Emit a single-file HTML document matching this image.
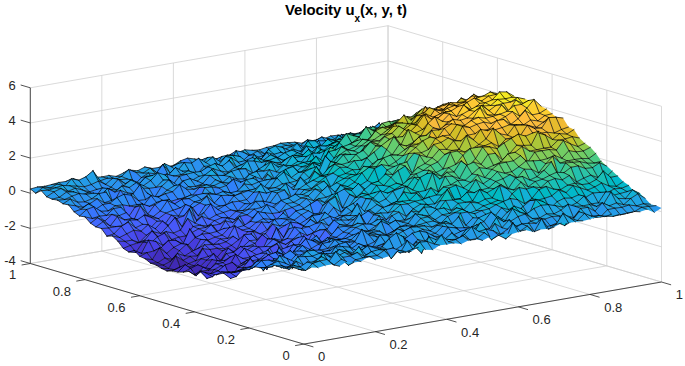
<!DOCTYPE html>
<html><head><meta charset="utf-8"><title>Velocity u_x(x, y, t)</title><style>
html,body{margin:0;padding:0;background:#fff;overflow:hidden}
svg{display:block}
text{font-family:"Liberation Sans",sans-serif}
.c0{fill:#3e26a8;stroke:none}.c1{fill:#402ab4;stroke:none}.c2{fill:#422ec0;stroke:none}.c3{fill:#4332cb;stroke:none}.c4{fill:#4537d5;stroke:none}.c5{fill:#463cde;stroke:none}.c6{fill:#4741e5;stroke:none}.c7{fill:#4747eb;stroke:none}.c8{fill:#484df0;stroke:none}.c9{fill:#4852f4;stroke:none}.c10{fill:#4758f8;stroke:none}.c11{fill:#465efb;stroke:none}.c12{fill:#4563fd;stroke:none}.c13{fill:#4269fe;stroke:none}.c14{fill:#3e6fff;stroke:none}.c15{fill:#3875fe;stroke:none}.c16{fill:#327cfc;stroke:none}.c17{fill:#2f81fa;stroke:none}.c18{fill:#2e87f7;stroke:none}.c19{fill:#2d8cf3;stroke:none}.c20{fill:#2b91ef;stroke:none}.c21{fill:#2797eb;stroke:none}.c22{fill:#259be8;stroke:none}.c23{fill:#23a0e5;stroke:none}.c24{fill:#20a5e3;stroke:none}.c25{fill:#1ca9df;stroke:none}.c26{fill:#18addb;stroke:none}.c27{fill:#12b1d6;stroke:none}.c28{fill:#08b5d0;stroke:none}.c29{fill:#01b8ca;stroke:none}.c30{fill:#02bac3;stroke:none}.c31{fill:#0bbdbd;stroke:none}.c32{fill:#19bfb6;stroke:none}.c33{fill:#24c1ae;stroke:none}.c34{fill:#2cc4a7;stroke:none}.c35{fill:#31c69f;stroke:none}.c36{fill:#37c897;stroke:none}.c37{fill:#3fca8e;stroke:none}.c38{fill:#4acb84;stroke:none}.c39{fill:#57cc7a;stroke:none}.c40{fill:#64cd6f;stroke:none}.c41{fill:#72cd64;stroke:none}.c42{fill:#81cc59;stroke:none}.c43{fill:#8fcb4e;stroke:none}.c44{fill:#9dc943;stroke:none}.c45{fill:#abc739;stroke:none}.c46{fill:#b9c431;stroke:none}.c47{fill:#c5c22a;stroke:none}.c48{fill:#d1bf27;stroke:none}.c49{fill:#dcbd29;stroke:none}.c50{fill:#e6bb2d;stroke:none}.c51{fill:#f0ba36;stroke:none}.c52{fill:#f8ba3d;stroke:none}.c53{fill:#febe3c;stroke:none}.c54{fill:#fec338;stroke:none}.c55{fill:#fec934;stroke:none}.c56{fill:#fccf30;stroke:none}.c57{fill:#fad62d;stroke:none}.c58{fill:#f7dc2a;stroke:none}.c59{fill:#f5e327;stroke:none}.c60{fill:#f5e924;stroke:none}.c61{fill:#f6ef20;stroke:none}.c62{fill:#f7f51b;stroke:none}.c63{fill:#f9fb15;stroke:none}
</style></head><body>
<svg width="685" height="366" viewBox="0 0 685 366">
<rect width="685" height="366" fill="#fff"/>
<g><line x1="303.80" y1="344.10" x2="30.30" y2="263.50" stroke="#d0d0d0" stroke-width="0.8"/><line x1="303.80" y1="344.10" x2="661.50" y2="282.00" stroke="#d0d0d0" stroke-width="0.8"/><line x1="30.30" y1="263.50" x2="30.30" y2="87.80" stroke="#d0d0d0" stroke-width="0.8"/><line x1="661.50" y1="282.00" x2="661.50" y2="106.30" stroke="#d0d0d0" stroke-width="0.8"/><line x1="375.34" y1="331.68" x2="101.84" y2="251.08" stroke="#d0d0d0" stroke-width="0.8"/><line x1="249.10" y1="327.98" x2="606.80" y2="265.88" stroke="#d0d0d0" stroke-width="0.8"/><line x1="101.84" y1="251.08" x2="101.84" y2="75.38" stroke="#d0d0d0" stroke-width="0.8"/><line x1="606.80" y1="265.88" x2="606.80" y2="90.18" stroke="#d0d0d0" stroke-width="0.8"/><line x1="446.88" y1="319.26" x2="173.38" y2="238.66" stroke="#d0d0d0" stroke-width="0.8"/><line x1="194.40" y1="311.86" x2="552.10" y2="249.76" stroke="#d0d0d0" stroke-width="0.8"/><line x1="173.38" y1="238.66" x2="173.38" y2="62.96" stroke="#d0d0d0" stroke-width="0.8"/><line x1="552.10" y1="249.76" x2="552.10" y2="74.06" stroke="#d0d0d0" stroke-width="0.8"/><line x1="518.42" y1="306.84" x2="244.92" y2="226.24" stroke="#d0d0d0" stroke-width="0.8"/><line x1="139.70" y1="295.74" x2="497.40" y2="233.64" stroke="#d0d0d0" stroke-width="0.8"/><line x1="244.92" y1="226.24" x2="244.92" y2="50.54" stroke="#d0d0d0" stroke-width="0.8"/><line x1="497.40" y1="233.64" x2="497.40" y2="57.94" stroke="#d0d0d0" stroke-width="0.8"/><line x1="589.96" y1="294.42" x2="316.46" y2="213.82" stroke="#d0d0d0" stroke-width="0.8"/><line x1="85.00" y1="279.62" x2="442.70" y2="217.52" stroke="#d0d0d0" stroke-width="0.8"/><line x1="316.46" y1="213.82" x2="316.46" y2="38.12" stroke="#d0d0d0" stroke-width="0.8"/><line x1="442.70" y1="217.52" x2="442.70" y2="41.82" stroke="#d0d0d0" stroke-width="0.8"/><line x1="661.50" y1="282.00" x2="388.00" y2="201.40" stroke="#d0d0d0" stroke-width="0.8"/><line x1="30.30" y1="263.50" x2="388.00" y2="201.40" stroke="#d0d0d0" stroke-width="0.8"/><line x1="388.00" y1="201.40" x2="388.00" y2="25.70" stroke="#d0d0d0" stroke-width="0.8"/><line x1="388.00" y1="201.40" x2="388.00" y2="25.70" stroke="#d0d0d0" stroke-width="0.8"/><line x1="30.30" y1="263.50" x2="388.00" y2="201.40" stroke="#d0d0d0" stroke-width="0.8"/><line x1="661.50" y1="282.00" x2="388.00" y2="201.40" stroke="#d0d0d0" stroke-width="0.8"/><line x1="30.30" y1="228.36" x2="388.00" y2="166.26" stroke="#d0d0d0" stroke-width="0.8"/><line x1="661.50" y1="246.86" x2="388.00" y2="166.26" stroke="#d0d0d0" stroke-width="0.8"/><line x1="30.30" y1="193.22" x2="388.00" y2="131.12" stroke="#d0d0d0" stroke-width="0.8"/><line x1="661.50" y1="211.72" x2="388.00" y2="131.12" stroke="#d0d0d0" stroke-width="0.8"/><line x1="30.30" y1="158.08" x2="388.00" y2="95.98" stroke="#d0d0d0" stroke-width="0.8"/><line x1="661.50" y1="176.58" x2="388.00" y2="95.98" stroke="#d0d0d0" stroke-width="0.8"/><line x1="30.30" y1="122.94" x2="388.00" y2="60.84" stroke="#d0d0d0" stroke-width="0.8"/><line x1="661.50" y1="141.44" x2="388.00" y2="60.84" stroke="#d0d0d0" stroke-width="0.8"/><line x1="30.30" y1="87.80" x2="388.00" y2="25.70" stroke="#d0d0d0" stroke-width="0.8"/><line x1="661.50" y1="106.30" x2="388.00" y2="25.70" stroke="#d0d0d0" stroke-width="0.8"/></g>
<g transform="scale(.1)" fill="none" stroke="#000" stroke-width="7" stroke-linejoin="round" stroke-linecap="round">
<path class="c20" d="M3863 1351l72 -66 -55 -13 -72 -15z"/>
<path d="M3808 1257l72 15"/>
<path class="c28" d="M3792 1230l71 121 -55 -94 -71 21z"/>
<path d="M3737 1278l71 -21M3863 1351l-55 -94"/>
<path class="c27" d="M3918 1243l71 32 -54 10 -72 66z"/>
<path d="M3863 1351l72 -66"/>
<path class="c25" d="M3720 1291l72 -61 -55 48 -72 1z"/>
<path d="M3665 1279l72 -1M3792 1230l-55 48"/>
<path class="c24" d="M3846 1307l72 -64 -55 108 -71 -121z"/>
<path d="M3792 1230l71 121M3918 1243l-55 108"/>
<path class="c24" d="M3649 1317l71 -26 -55 -12 -71 48z"/>
<path d="M3594 1327l71 -48M3720 1291l-55 -12"/>
<path class="c24" d="M3973 1310l71 -24 -55 -11 -71 -32z"/>
<path d="M3918 1243l71 32"/>
<path class="c23" d="M3577 1346l72 -29 -55 10 -72 17z"/>
<path d="M3522 1344l72 -17M3649 1317l-55 10"/>
<path class="c22" d="M3775 1355l71 -48 -54 -77 -72 61z"/>
<path d="M3720 1291l72 -61M3846 1307l-54 -77"/>
<path class="c26" d="M3901 1289l72 21 -55 -67 -72 64z"/>
<path d="M3846 1307l72 -64M3973 1310l-55 -67"/>
<path class="c26" d="M3703 1304l72 51 -55 -64 -71 26z"/>
<path d="M3649 1317l71 -26M3775 1355l-55 -64"/>
<path class="c25" d="M4027 1311l72 -51 -55 26 -71 24z"/>
<path d="M3973 1310l71 -24"/>
<path class="c25" d="M3505 1329l72 17 -55 -2 -71 16z"/>
<path d="M3451 1360l71 -16M3577 1346l-55 -2"/>
<path class="c26" d="M3829 1308l72 -19 -55 18 -71 48z"/>
<path d="M3775 1355l71 -48M3901 1289l-55 18"/>
<path class="c23" d="M3632 1378l71 -74 -54 13 -72 29z"/>
<path d="M3577 1346l72 -29M3703 1304l-54 13"/>
<path class="c25" d="M3434 1349l71 -20 -54 31 -72 -8z"/>
<path d="M3379 1352l72 8M3505 1329l-54 31"/>
<path class="c29" d="M3956 1251l71 60 -54 -1 -72 -21z"/>
<path d="M3901 1289l72 21M4027 1311l-54 -1"/>
<path class="c26" d="M3758 1319l71 -11 -54 47 -72 -51z"/>
<path d="M3703 1304l72 51M3829 1308l-54 47"/>
<path class="c24" d="M3560 1359l72 19 -55 -32 -72 -17z"/>
<path d="M3505 1329l72 17M3632 1378l-55 -32"/>
<path class="c21" d="M3686 1415l72 -96 -55 -15 -71 74z"/>
<path d="M3632 1378l71 -74M3758 1319l-55 -15"/>
<path class="c22" d="M3362 1401l72 -52 -55 3 -71 7z"/>
<path d="M3308 1359l71 -7M3434 1349l-55 3"/>
<path class="c27" d="M4082 1298l72 -69 -55 31 -72 51z"/>
<path d="M4027 1311l72 -51"/>
<path class="c23" d="M3615 1388l71 27 -54 -37 -72 -19z"/>
<path d="M3560 1359l72 19M3686 1415l-54 -37"/>
<path class="c26" d="M3884 1314l72 -63 -55 38 -72 19z"/>
<path d="M3829 1308l72 -19M3956 1251l-55 38"/>
<path class="c24" d="M3489 1376l71 -17 -55 -30 -71 20z"/>
<path d="M3434 1349l71 -20M3560 1359l-55 -30"/>
<path class="c24" d="M3291 1390l71 11 -54 -42 -72 31z"/>
<path d="M3236 1390l72 -31M3362 1401l-54 -42"/>
<path class="c28" d="M4010 1281l72 17 -55 13 -71 -60z"/>
<path d="M3956 1251l71 60M4082 1298l-55 13"/>
<path class="c30" d="M3813 1265l71 49 -55 -6 -71 11z"/>
<path d="M3758 1319l71 -11M3884 1314l-55 -6"/>
<path class="c26" d="M3417 1343l72 33 -55 -27 -72 52z"/>
<path d="M3362 1401l72 -52M3489 1376l-55 -27"/>
<path class="c25" d="M3543 1377l72 11 -55 -29 -71 17z"/>
<path d="M3489 1376l71 -17M3615 1388l-55 -29"/>
<path class="c25" d="M3219 1370l72 20 -55 0 -71 8z"/>
<path d="M3165 1398l71 -8M3291 1390l-55 0"/>
<path class="c27" d="M3741 1330l72 -65 -55 54 -72 96z"/>
<path d="M3686 1415l72 -96M3813 1265l-55 54"/>
<path class="c25" d="M3670 1369l71 -39 -55 85 -71 -27z"/>
<path d="M3615 1388l71 27M3741 1330l-55 85"/>
<path class="c30" d="M4137 1247l71 -24 -54 6 -72 69z"/>
<path d="M4082 1298l72 -69"/>
<path class="c23" d="M3346 1411l71 -68 -55 58 -71 -11z"/>
<path d="M3291 1390l71 11M3417 1343l-55 58"/>
<path class="c31" d="M3939 1246l71 35 -54 -30 -72 63z"/>
<path d="M3884 1314l72 -63M4010 1281l-54 -30"/>
<path class="c22" d="M3472 1437l71 -60 -54 -1 -72 -33z"/>
<path d="M3417 1343l72 33M3543 1377l-54 -1"/>
<path class="c24" d="M3148 1410l71 -40 -54 28 -72 15z"/>
<path d="M3093 1413l72 -15M3219 1370l-54 28"/>
<path class="c23" d="M3274 1428l72 -17 -55 -21 -72 -20z"/>
<path d="M3219 1370l72 20M3346 1411l-55 -21"/>
<path class="c33" d="M4065 1219l72 28 -55 51 -72 -17z"/>
<path d="M4010 1281l72 17M4137 1247l-55 51"/>
<path class="c27" d="M3598 1343l72 26 -55 19 -72 -11z"/>
<path d="M3543 1377l72 11M3670 1369l-55 19"/>
<path class="c24" d="M3400 1417l72 20 -55 -94 -71 68z"/>
<path d="M3346 1411l71 -68M3472 1437l-55 -94"/>
<path class="c28" d="M3867 1305l72 -59 -55 68 -71 -49z"/>
<path d="M3813 1265l71 49M3939 1246l-55 68"/>
<path class="c25" d="M3076 1397l72 13 -55 3 -71 19z"/>
<path d="M3022 1432l71 -19M3148 1410l-55 3"/>
<path class="c22" d="M3202 1462l72 -34 -55 -58 -71 40z"/>
<path d="M3148 1410l71 -40M3274 1428l-55 -58"/>
<path class="c30" d="M3796 1295l71 10 -54 -40 -72 65z"/>
<path d="M3741 1330l72 -65M3867 1305l-54 -40"/>
<path class="c25" d="M3329 1405l71 12 -54 -6 -72 17z"/>
<path d="M3274 1428l72 -17M3400 1417l-54 -6"/>
<path class="c32" d="M4191 1232l72 -23 -55 14 -71 24z"/>
<path d="M4137 1247l71 -24"/>
<path class="c27" d="M3526 1359l72 -16 -55 34 -71 60z"/>
<path d="M3472 1437l71 -60M3598 1343l-55 34"/>
<path class="c23" d="M3005 1455l71 -58 -54 35 -72 -10z"/>
<path d="M2950 1422l72 10M3076 1397l-54 35"/>
<path class="c27" d="M3724 1350l72 -55 -55 35 -71 39z"/>
<path d="M3670 1369l71 -39M3796 1295l-55 35"/>
<path class="c31" d="M3994 1256l71 -37 -55 62 -71 -35z"/>
<path d="M3939 1246l71 35M4065 1219l-55 62"/>
<path class="c23" d="M3131 1454l71 8 -54 -52 -72 -13z"/>
<path d="M3076 1397l72 13M3202 1462l-54 -52"/>
<path class="c26" d="M3455 1398l71 -39 -54 78 -72 -20z"/>
<path d="M3400 1417l72 20M3526 1359l-54 78"/>
<path class="c28" d="M3922 1319l72 -63 -55 -10 -72 59z"/>
<path d="M3867 1305l72 -59M3994 1256l-55 -10"/>
<path class="c26" d="M3257 1409l72 -4 -55 23 -72 34z"/>
<path d="M3202 1462l72 -34M3329 1405l-55 23"/>
<path class="c24" d="M2933 1453l72 2 -55 -33 -72 4z"/>
<path d="M2878 1426l72 -4M3005 1455l-55 -33"/>
<path class="c33" d="M4120 1225l71 7 -54 15 -72 -28z"/>
<path d="M4065 1219l72 28M4191 1232l-54 15"/>
<path class="c29" d="M3653 1322l71 28 -54 19 -72 -26z"/>
<path d="M3598 1343l72 26M3724 1350l-54 19"/>
<path class="c29" d="M3850 1313l72 6 -55 -14 -71 -10z"/>
<path d="M3796 1295l71 10M3922 1319l-55 -14"/>
<path class="c23" d="M3059 1466l72 -12 -55 -57 -71 58z"/>
<path d="M3005 1455l71 -58M3131 1454l-55 -57"/>
<path class="c19" d="M2988 1546l71 -80 -54 -11 -72 -2z"/>
<path d="M2933 1453l72 2M3059 1466l-54 -11"/>
<path class="c32" d="M4246 1243l72 -45 -55 11 -72 23z"/>
<path d="M4191 1232l72 -23"/>
<path class="c26" d="M3186 1407l71 2 -55 53 -71 -8z"/>
<path d="M3131 1454l71 8M3257 1409l-55 53"/>
<path class="c31" d="M4048 1281l72 -56 -55 -6 -71 37z"/>
<path d="M3994 1256l71 -37M4120 1225l-55 -6"/>
<path class="c30" d="M3977 1310l71 -29 -54 -25 -72 63z"/>
<path d="M3922 1319l72 -63M4048 1281l-54 -25"/>
<path class="c29" d="M3383 1354l72 44 -55 19 -71 -12z"/>
<path d="M3329 1405l71 12M3455 1398l-55 19"/>
<path class="c27" d="M3581 1387l72 -65 -55 21 -72 16z"/>
<path d="M3526 1359l72 -16M3653 1322l-55 21"/>
<path class="c24" d="M2862 1453l71 0 -55 -27 -71 6z"/>
<path d="M2807 1432l71 -6M2933 1453l-55 -27"/>
<path class="c31" d="M3779 1301l71 12 -54 -18 -72 55z"/>
<path d="M3724 1350l72 -55M3850 1313l-54 -18"/>
<path class="c26" d="M3510 1415l71 -28 -55 -28 -71 39z"/>
<path d="M3455 1398l71 -39M3581 1387l-55 -28"/>
<path class="c30" d="M3905 1327l72 -17 -55 9 -72 -6z"/>
<path d="M3850 1313l72 6M3977 1310l-55 9"/>
<path class="c24" d="M3114 1465l72 -58 -55 47 -72 12z"/>
<path d="M3059 1466l72 -12M3186 1407l-55 47"/>
<path class="c24" d="M2916 1466l72 80 -55 -93 -71 0z"/>
<path d="M2862 1453l71 0M2988 1546l-55 -93"/>
<path class="c23" d="M3043 1488l71 -23 -55 1 -71 80z"/>
<path d="M2988 1546l71 -80M3114 1465l-55 1"/>
<path class="c37" d="M4175 1177l71 66 -55 -11 -71 -7z"/>
<path d="M4120 1225l71 7M4246 1243l-55 -11"/>
<path class="c24" d="M3312 1455l71 -101 -54 51 -72 4z"/>
<path d="M3257 1409l72 -4M3383 1354l-54 51"/>
<path class="c24" d="M2790 1475l72 -22 -55 -21 -72 27z"/>
<path d="M2735 1459l72 -27M2862 1453l-55 -21"/>
<path class="c22" d="M3240 1516l72 -61 -55 -46 -71 -2z"/>
<path d="M3186 1407l71 2M3312 1455l-55 -46"/>
<path class="c31" d="M4103 1301l72 -124 -55 48 -72 56z"/>
<path d="M4048 1281l72 -56M4175 1177l-55 48"/>
<path class="c33" d="M3707 1270l72 31 -55 49 -71 -28z"/>
<path d="M3653 1322l71 28M3779 1301l-55 49"/>
<path class="c35" d="M4301 1211l71 -36 -54 23 -72 45z"/>
<path d="M4246 1243l72 -45"/>
<path class="c34" d="M4031 1256l72 45 -55 -20 -71 29z"/>
<path d="M3977 1310l71 -29M4103 1301l-55 -20"/>
<path class="c23" d="M2719 1504l71 -29 -55 -16 -71 15z"/>
<path d="M2664 1474l71 -15M2790 1475l-55 -16"/>
<path class="c28" d="M3438 1383l72 32 -55 -17 -72 -44z"/>
<path d="M3383 1354l72 44M3510 1415l-55 -17"/>
<path class="c25" d="M3169 1455l71 61 -54 -109 -72 58z"/>
<path d="M3114 1465l72 -58M3240 1516l-54 -109"/>
<path class="c24" d="M3564 1457l72 -161 -55 91 -71 28z"/>
<path d="M3510 1415l71 -28"/>
<path class="c24" d="M2845 1491l71 -25 -54 -13 -72 22z"/>
<path d="M2790 1475l72 -22M2916 1466l-54 -13"/>
<path class="c35" d="M3834 1248l71 79 -55 -14 -71 -12z"/>
<path d="M3779 1301l71 12M3905 1327l-55 -14"/>
<path class="c22" d="M2647 1538l72 -34 -55 -30 -72 25z"/>
<path d="M2592 1499l72 -25M2719 1504l-55 -30"/>
<path class="c27" d="M2971 1432l72 56 -55 58 -72 -80z"/>
<path d="M2916 1466l72 80M3043 1488l-55 58"/>
<path class="c26" d="M3367 1428l71 -45 -55 -29 -71 101z"/>
<path d="M3312 1455l71 -101M3438 1383l-55 -29"/>
<path class="c21" d="M2773 1559l72 -68 -55 -16 -71 29z"/>
<path d="M2719 1504l71 -29M2845 1491l-55 -16"/>
<path class="c32" d="M3636 1296l71 -26 -54 52 -72 65z"/>
<path d="M3581 1387l72 -65M3636 1296l-55 91M3707 1270l-54 52"/>
<path class="c28" d="M3295 1406l72 22 -55 27 -72 61z"/>
<path d="M3240 1516l72 -61M3367 1428l-55 27"/>
<path class="c33" d="M3960 1285l71 -29 -54 54 -72 17z"/>
<path d="M3905 1327l72 -17M4031 1256l-54 54"/>
<path class="c25" d="M3097 1474l72 -19 -55 10 -71 23z"/>
<path d="M3043 1488l71 -23M3169 1455l-55 10"/>
<path class="c32" d="M3493 1336l71 121 -54 -42 -72 -32z"/>
<path d="M3438 1383l72 32M3564 1457l-54 -42"/>
<path class="c39" d="M4229 1150l72 61 -55 32 -71 -66z"/>
<path d="M4175 1177l71 66M4301 1211l-55 32"/>
<path class="c24" d="M2575 1512l72 26 -55 -39 -71 4z"/>
<path d="M2521 1503l71 -4M2647 1538l-55 -39"/>
<path class="c24" d="M2702 1505l71 54 -54 -55 -72 34z"/>
<path d="M2647 1538l72 -34M2773 1559l-54 -55"/>
<path class="c25" d="M3223 1485l72 -79 -55 110 -71 -61z"/>
<path d="M3169 1455l71 61M3295 1406l-55 110"/>
<path class="c24" d="M2899 1508l72 -76 -55 34 -71 25z"/>
<path d="M2845 1491l71 -25M2971 1432l-55 34"/>
<path class="c33" d="M3762 1290l72 -42 -55 53 -72 -31z"/>
<path d="M3707 1270l72 31M3834 1248l-55 53"/>
<path class="c24" d="M3026 1504l71 -30 -54 14 -72 -56z"/>
<path d="M2971 1432l72 56M3097 1474l-54 14"/>
<path class="c26" d="M2828 1476l71 32 -54 -17 -72 68z"/>
<path d="M2773 1559l72 -68M2899 1508l-54 -17"/>
<path class="c38" d="M4158 1178l71 -28 -54 27 -72 124z"/>
<path d="M4103 1301l72 -124M4229 1150l-54 27"/>
<path class="c32" d="M3619 1339l72 43 -55 -86 -72 161z"/>
<path d="M3564 1457l72 -161"/>
<path class="c34" d="M3888 1266l72 19 -55 42 -71 -79z"/>
<path d="M3834 1248l71 79M3960 1285l-55 42"/>
<path class="c39" d="M4355 1157l72 -52 -55 70 -71 36z"/>
<path d="M4301 1211l71 -36"/>
<path class="c35" d="M4086 1241l72 -63 -55 123 -72 -45z"/>
<path d="M4031 1256l72 45M4158 1178l-55 123"/>
<path class="c29" d="M3691 1382l71 -92 -55 -20 -71 26z"/>
<path d="M3636 1296l71 -26M3691 1382l-55 -86M3762 1290l-55 -20"/>
<path class="c22" d="M2504 1552l71 -40 -54 -9 -72 -5z"/>
<path d="M2449 1498l72 5M2575 1512l-54 -9"/>
<path class="c22" d="M2630 1560l72 -55 -55 33 -72 -26z"/>
<path d="M2575 1512l72 26M2702 1505l-55 33"/>
<path class="c30" d="M3421 1375l72 -39 -55 47 -71 45z"/>
<path d="M3367 1428l71 -45M3493 1336l-55 47"/>
<path class="c24" d="M2954 1520l72 -16 -55 -72 -72 76z"/>
<path d="M2899 1508l72 -76M3026 1504l-55 -72"/>
<path class="c30" d="M3152 1408l71 77 -54 -30 -72 19z"/>
<path d="M3097 1474l72 -19M3223 1485l-54 -30"/>
<path class="c22" d="M2559 1575l71 -15 -55 -48 -71 40z"/>
<path d="M2504 1552l71 -40M2630 1560l-55 -48"/>
<path class="c36" d="M4015 1238l71 3 -55 15 -71 29z"/>
<path d="M3960 1285l71 -29M4086 1241l-55 15"/>
<path class="c32" d="M3548 1345l71 -6 -55 118 -71 -121z"/>
<path d="M3493 1336l71 121M3619 1339l-55 118"/>
<path class="c29" d="M3350 1405l71 -30 -54 53 -72 -22z"/>
<path d="M3295 1406l72 22M3421 1375l-54 53"/>
<path class="c40" d="M4284 1148l71 9 -54 54 -72 -61z"/>
<path d="M4229 1150l72 61M4355 1157l-54 54"/>
<path class="c25" d="M2432 1521l72 31 -55 -54 -71 27z"/>
<path d="M2378 1525l71 -27M2504 1552l-55 -54"/>
<path class="c28" d="M2756 1458l72 18 -55 83 -71 -54z"/>
<path d="M2702 1505l71 54M2828 1476l-55 83"/>
<path class="c23" d="M2883 1551l71 -31 -55 -12 -71 -32z"/>
<path d="M2828 1476l71 32M2954 1520l-55 -12"/>
<path class="c32" d="M3745 1330l72 -39 -55 -1 -71 92z"/>
<path d="M3691 1382l71 -92"/>
<path class="c34" d="M3817 1291l71 -25 -54 -18 -72 42z"/>
<path d="M3762 1290l72 -42M3817 1291l-55 -1M3888 1266l-54 -18"/>
<path class="c31" d="M3278 1393l72 12 -55 1 -72 79z"/>
<path d="M3223 1485l72 -79M3350 1405l-55 1"/>
<path class="c32" d="M3674 1355l71 -25 -54 52 -72 -43z"/>
<path d="M3619 1339l72 43M3745 1330l-54 52"/>
<path class="c36" d="M3943 1259l72 -21 -55 47 -72 -19z"/>
<path d="M3888 1266l72 19M4015 1238l-55 47"/>
<path class="c30" d="M3080 1409l72 -1 -55 66 -71 30z"/>
<path d="M3026 1504l71 -30M3152 1408l-55 66"/>
<path class="c24" d="M2487 1555l72 20 -55 -23 -72 -31z"/>
<path d="M2432 1521l72 31M2559 1575l-55 -23"/>
<path class="c37" d="M4212 1209l72 -61 -55 2 -71 28z"/>
<path d="M4158 1178l71 -28M4284 1148l-55 2"/>
<path class="c25" d="M3009 1518l71 -109 -54 95 -72 16z"/>
<path d="M2954 1520l72 -16M3080 1409l-54 95"/>
<path class="c22" d="M2613 1591l72 -97 -55 66 -71 15z"/>
<path d="M2559 1575l71 -15"/>
<path class="c26" d="M2361 1507l71 14 -54 4 -72 19z"/>
<path d="M2306 1544l72 -19M2432 1521l-54 4"/>
<path class="c26" d="M2685 1494l71 -36 -54 47 -72 55z"/>
<path d="M2630 1560l72 -55M2685 1494l-55 66M2756 1458l-54 47"/>
<path class="c19" d="M2289 1655l72 -148 -55 37 -71 30z"/>
<path d="M2235 1574l71 -30M2361 1507l-55 37"/>
<path class="c38" d="M4141 1197l71 12 -54 -31 -72 63z"/>
<path d="M4086 1241l72 -63M4212 1209l-54 -31"/>
<path class="c31" d="M3476 1372l72 -27 -55 -9 -72 39z"/>
<path d="M3421 1375l72 -39M3548 1345l-55 -9"/>
<path class="c43" d="M4410 1086l72 33 -55 -14 -72 52z"/>
<path d="M4355 1157l72 -52"/>
<path class="c28" d="M3207 1460l71 -67 -55 92 -71 -77z"/>
<path d="M3152 1408l71 77M3278 1393l-55 92"/>
<path class="c27" d="M2937 1491l72 27 -55 2 -71 31z"/>
<path d="M2883 1551l71 -31M3009 1518l-55 2"/>
<path class="c25" d="M2811 1522l72 29 -55 -75 -72 -18z"/>
<path d="M2756 1458l72 18M2883 1551l-55 -75"/>
<path class="c35" d="M3872 1289l71 -30 -55 7 -71 25z"/>
<path d="M3817 1291l71 -25M3943 1259l-55 7"/>
<path class="c29" d="M3404 1426l72 -54 -55 3 -71 30z"/>
<path d="M3350 1405l71 -30M3476 1372l-55 3"/>
<path class="c30" d="M3602 1399l72 -44 -55 -16 -71 6z"/>
<path d="M3548 1345l71 -6M3674 1355l-55 -16"/>
<path class="c24" d="M2218 1565l71 90 -54 -81 -72 15z"/>
<path d="M2163 1589l72 -15M2289 1655l-54 -81"/>
<path class="c25" d="M2542 1547l71 44 -54 -16 -72 -20z"/>
<path d="M2487 1555l72 20M2613 1591l-54 -16"/>
<path class="c21" d="M2416 1620l71 -65 -55 -34 -71 -14z"/>
<path d="M2361 1507l71 14M2487 1555l-55 -34"/>
<path class="c35" d="M3800 1290l72 -1 -55 2 -72 39z"/>
<path d="M3745 1330l72 -39M3872 1289l-55 2"/>
<path class="c41" d="M4339 1134l71 -48 -55 71 -71 -9z"/>
<path d="M4284 1148l71 9M4410 1086l-55 71"/>
<path class="c40" d="M4069 1185l72 12 -55 44 -71 -3z"/>
<path d="M4015 1238l71 3M4141 1197l-55 44"/>
<path class="c29" d="M3333 1429l71 -3 -54 -21 -72 -12z"/>
<path d="M3278 1393l72 12M3404 1426l-54 -21"/>
<path class="c25" d="M2344 1560l72 60 -55 -113 -72 148z"/>
<path d="M2289 1655l72 -148M2416 1620l-55 -113"/>
<path class="c24" d="M2866 1552l71 -61 -54 60 -72 -29z"/>
<path d="M2811 1522l72 29M2937 1491l-54 60"/>
<path class="c20" d="M2470 1656l72 -109 -55 8 -71 65z"/>
<path d="M2416 1620l71 -65M2542 1547l-55 8"/>
<path class="c39" d="M4267 1188l72 -54 -55 14 -72 61z"/>
<path d="M4212 1209l72 -61M4339 1134l-55 14"/>
<path class="c27" d="M3135 1479l72 -19 -55 -52 -72 1z"/>
<path d="M3080 1409l72 -1M3207 1460l-55 -52"/>
<path class="c33" d="M3531 1354l71 45 -54 -54 -72 27z"/>
<path d="M3476 1372l72 -27M3602 1399l-54 -54"/>
<path class="c25" d="M2740 1543l71 -21 -55 -64 -71 36z"/>
<path d="M2685 1494l71 -36M2811 1522l-55 -64"/>
<path class="c19" d="M2146 1672l72 -107 -55 24 -71 -14z"/>
<path d="M2092 1575l71 14M2218 1565l-55 24"/>
<path class="c28" d="M3261 1461l72 -32 -55 -36 -71 67z"/>
<path d="M3207 1460l71 -67M3333 1429l-55 -36"/>
<path class="c26" d="M2668 1526l72 17 -55 -49 -72 97z"/>
<path d="M2613 1591l72 -97M2740 1543l-55 -49"/>
<path class="c23" d="M2794 1596l72 -44 -55 -30 -71 21z"/>
<path d="M2740 1543l71 -21M2866 1552l-55 -30"/>
<path class="c39" d="M4196 1197l71 -9 -55 21 -71 -12z"/>
<path d="M4141 1197l71 12M4267 1188l-55 21"/>
<path class="c29" d="M3064 1460l71 19 -55 -70 -71 109z"/>
<path d="M3009 1518l71 -109M3135 1479l-55 -70"/>
<path class="c37" d="M3728 1264l72 26 -55 40 -71 25z"/>
<path d="M3674 1355l71 -25M3800 1290l-55 40"/>
<path class="c39" d="M3998 1204l71 -19 -54 53 -72 21z"/>
<path d="M3943 1259l72 -21M4069 1185l-54 53"/>
<path class="c24" d="M2992 1561l72 -101 -55 58 -72 -27z"/>
<path d="M2937 1491l72 27M3064 1460l-55 58"/>
<path class="c31" d="M3459 1398l72 -44 -55 18 -72 54z"/>
<path d="M3404 1426l72 -54M3531 1354l-55 18"/>
<path class="c23" d="M2596 1609l72 -83 -55 65 -71 -44z"/>
<path d="M2542 1547l71 44M2668 1526l-55 65"/>
<path class="c44" d="M4465 1082l71 8 -54 29 -72 -33z"/>
<path d="M4410 1086l72 33"/>
<path class="c29" d="M3190 1458l71 3 -54 -1 -72 19z"/>
<path d="M3135 1479l72 -19M3261 1461l-54 -1"/>
<path class="c25" d="M2399 1565l71 91 -54 -36 -72 -60z"/>
<path d="M2344 1560l72 60M2470 1656l-54 -36"/>
<path class="c26" d="M2272 1552l72 8 -55 95 -71 -90z"/>
<path d="M2218 1565l71 90M2344 1560l-55 95"/>
<path class="c34" d="M3657 1341l71 -77 -54 91 -72 44z"/>
<path d="M3602 1399l72 -44M3728 1264l-54 91"/>
<path class="c25" d="M2075 1575l71 97 -54 -97 -72 23z"/>
<path d="M2020 1598l72 -23M2146 1672l-54 -97"/>
<path class="c32" d="M3388 1392l71 6 -55 28 -71 3z"/>
<path d="M3333 1429l71 -3M3459 1398l-55 28"/>
<path class="c24" d="M2723 1591l71 5 -54 -53 -72 -17z"/>
<path d="M2668 1526l72 17M2794 1596l-54 -53"/>
<path class="c25" d="M2525 1576l71 33 -54 -62 -72 109z"/>
<path d="M2470 1656l72 -109M2596 1609l-54 -62"/>
<path class="c40" d="M3926 1213l72 -9 -55 55 -71 30z"/>
<path d="M3872 1289l71 -30M3998 1204l-55 55"/>
<path class="c28" d="M2920 1501l72 60 -55 -70 -71 61z"/>
<path d="M2866 1552l71 -61M2992 1561l-55 -70"/>
<path class="c34" d="M3585 1356l72 -15 -55 58 -71 -45z"/>
<path d="M3531 1354l71 45M3657 1341l-55 58"/>
<path class="c26" d="M3118 1526l72 -68 -55 21 -71 -19z"/>
<path d="M3064 1460l71 19M3190 1458l-55 21"/>
<path class="c25" d="M3047 1567l71 -41 -54 -66 -72 101z"/>
<path d="M2992 1561l72 -101M3118 1526l-54 -66"/>
<path class="c40" d="M4124 1189l72 8 -55 0 -72 -12z"/>
<path d="M4069 1185l72 12M4196 1197l-55 0"/>
<path class="c23" d="M2201 1616l71 -64 -54 13 -72 107z"/>
<path d="M2146 1672l72 -107M2272 1552l-54 13"/>
<path class="c43" d="M4393 1124l72 -42 -55 4 -71 48z"/>
<path d="M4339 1134l71 -48M4465 1082l-55 4"/>
<path class="c35" d="M3855 1304l71 -91 -54 76 -72 1z"/>
<path d="M3800 1290l72 -1M3926 1213l-54 76"/>
<path class="c42" d="M4322 1143l71 -19 -54 10 -72 54z"/>
<path d="M4267 1188l72 -54M4393 1124l-54 10"/>
<path class="c23" d="M2651 1610l72 -19 -55 -65 -72 83z"/>
<path d="M2596 1609l72 -83M2723 1591l-55 -65"/>
<path class="c30" d="M3316 1440l72 -48 -55 37 -72 32z"/>
<path d="M3261 1461l72 -32M3388 1392l-55 37"/>
<path class="c25" d="M3245 1548l71 -108 -55 21 -71 -3z"/>
<path d="M3190 1458l71 3M3316 1440l-55 21"/>
<path class="c27" d="M2849 1527l71 -26 -54 51 -72 44z"/>
<path d="M2794 1596l72 -44M2920 1501l-54 51"/>
<path class="c31" d="M3514 1420l71 -64 -54 -2 -72 44z"/>
<path d="M3459 1398l72 -44M3585 1356l-54 -2"/>
<path class="c21" d="M2003 1659l72 -84 -55 23 -72 -8z"/>
<path d="M1948 1590l72 8M2075 1575l-55 23"/>
<path class="c24" d="M2453 1606l72 -30 -55 80 -71 -91z"/>
<path d="M2399 1565l71 91M2525 1576l-55 80"/>
<path class="c36" d="M3783 1307l72 -3 -55 -14 -72 -26z"/>
<path d="M3728 1264l72 26M3855 1304l-55 -14"/>
<path class="c42" d="M4250 1159l72 -16 -55 45 -71 9z"/>
<path d="M4196 1197l71 -9M4322 1143l-55 45"/>
<path class="c28" d="M2975 1527l72 40 -55 -6 -72 -60z"/>
<path d="M2920 1501l72 60M3047 1567l-55 -6"/>
<path class="c25" d="M2777 1575l72 -48 -55 69 -71 -5z"/>
<path d="M2723 1591l71 5M2849 1527l-55 69"/>
<path class="c45" d="M4520 1091l71 -29 -55 28 -71 -8z"/>
<path d="M4465 1082l71 8"/>
<path class="c30" d="M3173 1471l72 77 -55 -90 -72 68z"/>
<path d="M3118 1526l72 -68M3245 1548l-55 -90"/>
<path class="c26" d="M2129 1569l72 47 -55 56 -71 -97z"/>
<path d="M2075 1575l71 97M2201 1616l-55 56"/>
<path class="c40" d="M4052 1216l72 -27 -55 -4 -71 19z"/>
<path d="M3998 1204l71 -19M4124 1189l-55 -4"/>
<path class="c24" d="M2580 1606l71 4 -55 -1 -71 -33z"/>
<path d="M2525 1576l71 33M2651 1610l-55 -1"/>
<path class="c24" d="M3101 1598l72 -127 -55 55 -71 41z"/>
<path d="M3047 1567l71 -41M3173 1471l-55 55"/>
<path class="c32" d="M3442 1409l72 11 -55 -22 -71 -6z"/>
<path d="M3388 1392l71 6M3514 1420l-55 -22"/>
<path class="c27" d="M2327 1552l72 13 -55 -5 -72 -8z"/>
<path d="M2272 1552l72 8M2399 1565l-55 -5"/>
<path class="c43" d="M4448 1131l72 -40 -55 -9 -72 42z"/>
<path d="M4393 1124l72 -42M4520 1091l-55 -9"/>
<path class="c23" d="M1932 1639l71 20 -55 -69 -71 -9z"/>
<path d="M1877 1581l71 9M2003 1659l-55 -69"/>
<path class="c37" d="M3712 1300l71 7 -55 -43 -71 77z"/>
<path d="M3657 1341l71 -77M3783 1307l-55 -43"/>
<path class="c42" d="M4179 1180l71 -21 -54 38 -72 -8z"/>
<path d="M4124 1189l72 8M4250 1159l-54 38"/>
<path class="c33" d="M3640 1382l72 -82 -55 41 -72 15z"/>
<path d="M3585 1356l72 -15M3712 1300l-55 41"/>
<path class="c28" d="M2706 1548l71 27 -54 16 -72 19z"/>
<path d="M2651 1610l72 -19M2777 1575l-54 16"/>
<path class="c27" d="M3030 1549l71 49 -54 -31 -72 -40z"/>
<path d="M2975 1527l72 40M3101 1598l-54 -31"/>
<path class="c41" d="M3981 1198l71 18 -54 -12 -72 9z"/>
<path d="M3926 1213l72 -9M4052 1216l-54 -12"/>
<path class="c23" d="M2508 1646l72 -40 -55 -30 -72 30z"/>
<path d="M2453 1606l72 -30M2580 1606l-55 -30"/>
<path class="c18" d="M1860 1744l72 -105 -55 -58 -72 27z"/>
<path d="M1805 1608l72 -27M1932 1639l-55 -58"/>
<path class="c24" d="M2058 1625l71 -56 -54 6 -72 84z"/>
<path d="M2003 1659l72 -84M2129 1569l-54 6"/>
<path class="c33" d="M3371 1416l71 -7 -54 -17 -72 48z"/>
<path d="M3316 1440l72 -48M3442 1409l-54 -17"/>
<path class="c31" d="M3299 1450l72 -34 -55 24 -71 108z"/>
<path d="M3245 1548l71 -108M3371 1416l-55 24"/>
<path class="c24" d="M2382 1622l71 -16 -54 -41 -72 -13z"/>
<path d="M2327 1552l72 13M2453 1606l-54 -41"/>
<path class="c27" d="M2256 1565l71 -13 -55 0 -71 64z"/>
<path d="M2201 1616l71 -64M2327 1552l-55 0"/>
<path class="c26" d="M2904 1571l71 -44 -55 -26 -71 26z"/>
<path d="M2849 1527l71 -26M2975 1527l-55 -26"/>
<path class="c39" d="M3909 1258l72 -60 -55 15 -71 91z"/>
<path d="M3855 1304l71 -91M3981 1198l-55 15"/>
<path class="c36" d="M3569 1338l71 44 -55 -26 -71 64z"/>
<path d="M3514 1420l71 -64M3640 1382l-55 -26"/>
<path class="c39" d="M3838 1273l71 -15 -54 46 -72 3z"/>
<path d="M3783 1307l72 -3M3909 1258l-54 46"/>
<path class="c47" d="M4376 1070l72 61 -55 -7 -71 19z"/>
<path d="M4322 1143l71 -19M4448 1131l-55 -7"/>
<path class="c21" d="M2437 1683l71 -37 -55 -40 -71 16z"/>
<path d="M2382 1622l71 -16M2508 1646l-55 -40"/>
<path class="c25" d="M2832 1604l72 -33 -55 -44 -72 48z"/>
<path d="M2777 1575l72 -48M2904 1571l-55 -44"/>
<path class="c28" d="M3228 1516l71 -66 -54 98 -72 -77z"/>
<path d="M3173 1471l72 77M3299 1450l-54 98"/>
<path class="c23" d="M2184 1654l72 -89 -55 51 -72 -47z"/>
<path d="M2129 1569l72 47M2256 1565l-55 51"/>
<path class="c43" d="M4107 1175l72 5 -55 9 -72 27z"/>
<path d="M4052 1216l72 -27M4179 1180l-55 9"/>
<path class="c25" d="M2634 1603l72 -55 -55 62 -71 -4z"/>
<path d="M2580 1606l71 4M2706 1548l-55 62"/>
<path class="c27" d="M1986 1583l72 42 -55 34 -71 -20z"/>
<path d="M1932 1639l71 20M2058 1625l-55 34"/>
<path class="c25" d="M1789 1632l71 112 -55 -136 -71 46z"/>
<path d="M1734 1654l71 -46M1860 1744l-55 -136"/>
<path class="c28" d="M3156 1540l72 -24 -55 -45 -72 127z"/>
<path d="M3101 1598l72 -127M3228 1516l-55 -45"/>
<path class="c47" d="M4574 1059l72 -32 -55 35 -71 29z"/>
<path d="M4520 1091l71 -29"/>
<path class="c35" d="M3497 1378l72 -40 -55 82 -72 -11z"/>
<path d="M3442 1409l72 11M3569 1338l-55 82"/>
<path class="c23" d="M2113 1659l71 -5 -55 -85 -71 56z"/>
<path d="M2058 1625l71 -56M2184 1654l-55 -85"/>
<path class="c28" d="M2958 1554l72 -5 -55 -22 -71 44z"/>
<path d="M2904 1571l71 -44M3030 1549l-55 -22"/>
<path class="c38" d="M3766 1297l72 -24 -55 34 -71 -7z"/>
<path d="M3712 1300l71 7M3838 1273l-55 34"/>
<path class="c47" d="M4503 1075l71 -16 -54 32 -72 40z"/>
<path d="M4448 1131l72 -40M4574 1059l-54 32"/>
<path class="c40" d="M4036 1239l71 -64 -55 41 -71 -18z"/>
<path d="M3981 1198l71 18M4107 1175l-55 41"/>
<path class="c25" d="M1915 1631l71 -48 -54 56 -72 105z"/>
<path d="M1860 1744l72 -105M1986 1583l-54 56"/>
<path class="c27" d="M2761 1575l71 29 -55 -29 -71 -27z"/>
<path d="M2706 1548l71 27M2832 1604l-55 -29"/>
<path class="c35" d="M3695 1368l71 -71 -54 3 -72 82z"/>
<path d="M3640 1382l72 -82M3766 1297l-54 3"/>
<path class="c27" d="M2310 1576l72 46 -55 -70 -71 13z"/>
<path d="M2256 1565l71 -13M2382 1622l-55 -70"/>
<path class="c27" d="M2563 1577l71 26 -54 3 -72 40z"/>
<path d="M2508 1646l72 -40M2634 1603l-54 3"/>
<path class="c46" d="M4305 1105l71 -35 -54 73 -72 16z"/>
<path d="M4250 1159l72 -16M4376 1070l-54 73"/>
<path class="c23" d="M2365 1668l72 15 -55 -61 -72 -46z"/>
<path d="M2310 1576l72 46M2437 1683l-55 -61"/>
<path class="c31" d="M3085 1495l71 45 -55 58 -71 -49z"/>
<path d="M3030 1549l71 49M3156 1540l-55 58"/>
<path class="c32" d="M3425 1442l72 -64 -55 31 -71 7z"/>
<path d="M3371 1416l71 -7M3497 1378l-55 31"/>
<path class="c27" d="M2887 1582l71 -28 -54 17 -72 33z"/>
<path d="M2832 1604l72 -33M2958 1554l-54 17"/>
<path class="c23" d="M2239 1669l71 -93 -54 -11 -72 89z"/>
<path d="M2184 1654l72 -89M2310 1576l-54 -11"/>
<path class="c23" d="M2491 1671l72 -94 -55 69 -71 37z"/>
<path d="M2437 1683l71 -37M2563 1577l-55 69"/>
<path class="c43" d="M4233 1165l72 -60 -55 54 -71 21z"/>
<path d="M4179 1180l71 -21M4305 1105l-55 54"/>
<path class="c25" d="M2167 1643l72 26 -55 -15 -71 5z"/>
<path d="M2113 1659l71 -5M2239 1669l-55 -15"/>
<path class="c41" d="M3964 1224l72 15 -55 -41 -72 60z"/>
<path d="M3909 1258l72 -60M4036 1239l-55 -41"/>
<path class="c23" d="M1717 1669l72 -37 -55 22 -72 16z"/>
<path d="M1662 1670l72 -16M1789 1632l-55 22"/>
<path class="c31" d="M3354 1464l71 -22 -54 -26 -72 34z"/>
<path d="M3299 1450l72 -34M3425 1442l-54 -26"/>
<path class="c37" d="M3623 1340l72 28 -55 14 -71 -44z"/>
<path d="M3569 1338l71 44M3695 1368l-55 14"/>
<path class="c23" d="M2041 1663l72 -4 -55 -34 -72 -42z"/>
<path d="M1986 1583l72 42M2113 1659l-55 -34"/>
<path class="c30" d="M3282 1512l72 -48 -55 -14 -71 66z"/>
<path d="M3228 1516l71 -66M3354 1464l-55 -14"/>
<path class="c26" d="M1843 1625l72 6 -55 113 -71 -112z"/>
<path d="M1789 1632l71 112M1915 1631l-55 113"/>
<path class="c25" d="M2420 1646l71 25 -54 12 -72 -15z"/>
<path d="M2365 1668l72 15M2491 1671l-54 12"/>
<path class="c26" d="M2689 1604l72 -29 -55 -27 -72 55z"/>
<path d="M2634 1603l72 -55M2761 1575l-55 -27"/>
<path class="c25" d="M2815 1626l72 -44 -55 22 -71 -29z"/>
<path d="M2761 1575l71 29M2887 1582l-55 22"/>
<path class="c46" d="M4629 1097l71 -75 -54 5 -72 32z"/>
<path d="M4574 1059l72 -32"/>
<path class="c31" d="M3211 1498l71 14 -54 4 -72 24z"/>
<path d="M3156 1540l72 -24M3282 1512l-54 4"/>
<path class="c49" d="M4431 1044l72 31 -55 56 -72 -61z"/>
<path d="M4376 1070l72 61M4503 1075l-55 56"/>
<path class="c46" d="M4162 1131l71 34 -54 15 -72 -5z"/>
<path d="M4107 1175l72 5M4233 1165l-54 15"/>
<path class="c20" d="M1969 1742l72 -79 -55 -80 -71 48z"/>
<path d="M1915 1631l71 -48M2041 1663l-55 -80"/>
<path class="c22" d="M2096 1704l71 -61 -54 16 -72 4z"/>
<path d="M2041 1663l72 -4M2167 1643l-54 16"/>
<path class="c43" d="M3893 1213l71 11 -55 34 -71 15z"/>
<path d="M3838 1273l71 -15M3964 1224l-55 34"/>
<path class="c28" d="M3013 1565l72 -70 -55 54 -72 5z"/>
<path d="M2958 1554l72 -5M3085 1495l-55 54"/>
<path class="c27" d="M2293 1605l72 63 -55 -92 -71 93z"/>
<path d="M2239 1669l71 -93M2365 1668l-55 -92"/>
<path class="c33" d="M3552 1425l71 -85 -54 -2 -72 40z"/>
<path d="M3497 1378l72 -40M3623 1340l-54 -2"/>
<path class="c40" d="M4090 1258l72 -127 -55 44 -71 64z"/>
<path d="M4036 1239l71 -64M4162 1131l-55 44"/>
<path class="c26" d="M1645 1635l72 34 -55 1 -71 4z"/>
<path d="M1591 1674l71 -4M1717 1669l-55 1"/>
<path class="c26" d="M2617 1624l72 -20 -55 -1 -71 -26z"/>
<path d="M2563 1577l71 26M2689 1604l-55 -1"/>
<path class="c22" d="M2024 1709l72 -5 -55 -41 -72 79z"/>
<path d="M1969 1742l72 -79M2096 1704l-55 -41"/>
<path class="c35" d="M3480 1395l72 30 -55 -47 -72 64z"/>
<path d="M3425 1442l72 -64M3552 1425l-55 -47"/>
<path class="c26" d="M2744 1624l71 2 -54 -51 -72 29z"/>
<path d="M2689 1604l72 -29M2815 1626l-54 -51"/>
<path class="c22" d="M1898 1716l71 26 -54 -111 -72 -6z"/>
<path d="M1843 1625l72 6M1969 1742l-54 -111"/>
<path class="c50" d="M4557 1035l72 62 -55 -38 -71 16z"/>
<path d="M4503 1075l71 -16M4629 1097l-55 -38"/>
<path class="c28" d="M2942 1577l71 -12 -55 -11 -71 28z"/>
<path d="M2887 1582l71 -28M3013 1565l-55 -11"/>
<path class="c22" d="M1772 1712l71 -87 -54 7 -72 37z"/>
<path d="M1717 1669l72 -37M1843 1625l-54 7"/>
<path class="c44" d="M4019 1188l71 70 -54 -19 -72 -15z"/>
<path d="M3964 1224l72 15M4090 1258l-54 -19"/>
<path class="c20" d="M1953 1760l71 -51 -55 33 -71 -26z"/>
<path d="M1898 1716l71 26M2024 1709l-55 33"/>
<path class="c28" d="M3139 1564l72 -66 -55 42 -71 -45z"/>
<path d="M3085 1495l71 45M3211 1498l-55 42"/>
<path class="c38" d="M3749 1326l72 -93 -55 64 -71 71z"/>
<path d="M3695 1368l71 -71"/>
<path class="c35" d="M3678 1387l71 -61 -54 42 -72 -28z"/>
<path d="M3623 1340l72 28M3749 1326l-54 42"/>
<path class="c25" d="M2222 1661l71 -56 -54 64 -72 -26z"/>
<path d="M2167 1643l72 26M2293 1605l-54 64"/>
<path class="c42" d="M3821 1233l72 -20 -55 60 -72 24z"/>
<path d="M3766 1297l72 -24M3821 1233l-55 64M3893 1213l-55 60"/>
<path class="c21" d="M1574 1732l71 -97 -54 39 -72 11z"/>
<path d="M1519 1685l72 -11M1645 1635l-54 39"/>
<path class="c27" d="M2546 1611l71 13 -54 -47 -72 94z"/>
<path d="M2491 1671l72 -94M2617 1624l-54 -47"/>
<path class="c35" d="M3409 1420l71 -25 -55 47 -71 22z"/>
<path d="M3354 1464l71 -22M3480 1395l-55 47"/>
<path class="c47" d="M4360 1096l71 -52 -55 26 -71 35z"/>
<path d="M4305 1105l71 -35M4431 1044l-55 26"/>
<path class="c45" d="M4288 1144l72 -48 -55 9 -72 60z"/>
<path d="M4233 1165l72 -60M4360 1096l-55 9"/>
<path class="c24" d="M2348 1676l72 -30 -55 22 -72 -63z"/>
<path d="M2293 1605l72 63M2420 1646l-55 22"/>
<path class="c22" d="M1700 1730l72 -18 -55 -43 -72 -34z"/>
<path d="M1645 1635l72 34M1772 1712l-55 -43"/>
<path class="c28" d="M2870 1584l72 -7 -55 5 -72 44z"/>
<path d="M2815 1626l72 -44M2942 1577l-55 5"/>
<path class="c33" d="M3337 1470l72 -50 -55 44 -72 48z"/>
<path d="M3282 1512l72 -48M3409 1420l-55 44"/>
<path class="c23" d="M1826 1713l72 3 -55 -91 -71 87z"/>
<path d="M1772 1712l71 -87M1898 1716l-55 -91"/>
<path class="c37" d="M3606 1370l72 17 -55 -47 -71 85z"/>
<path d="M3552 1425l71 -85M3678 1387l-55 -47"/>
<path class="c29" d="M3068 1564l71 0 -54 -69 -72 70z"/>
<path d="M3013 1565l72 -70M3139 1564l-54 -69"/>
<path class="c27" d="M2672 1610l72 14 -55 -20 -72 20z"/>
<path d="M2617 1624l72 -20M2744 1624l-55 -20"/>
<path class="c51" d="M4684 1019l71 -7 -55 10 -71 75z"/>
<path d="M4629 1097l71 -75"/>
<path class="c27" d="M2150 1635l72 26 -55 -18 -71 61z"/>
<path d="M2096 1704l71 -61M2222 1661l-55 -18"/>
<path class="c26" d="M2996 1637l72 -73 -55 1 -71 12z"/>
<path d="M2942 1577l71 -12M3068 1564l-55 1"/>
<path class="c26" d="M2798 1644l72 -60 -55 42 -71 -2z"/>
<path d="M2744 1624l71 2M2870 1584l-55 42"/>
<path class="c39" d="M3947 1297l72 -109 -55 36 -71 -11z"/>
<path d="M3893 1213l71 11M4019 1188l-55 36"/>
<path class="c31" d="M3266 1509l71 -39 -55 42 -71 -14z"/>
<path d="M3211 1498l71 14M3337 1470l-55 42"/>
<path class="c28" d="M2474 1609l72 2 -55 60 -71 -25z"/>
<path d="M2420 1646l71 25M2546 1611l-55 60"/>
<path class="c25" d="M1502 1682l72 50 -55 -47 -71 -15z"/>
<path d="M1448 1670l71 15M1574 1732l-55 -47"/>
<path class="c22" d="M2277 1722l71 -46 -55 -71 -71 56z"/>
<path d="M2222 1661l71 -56M2348 1676l-55 -71"/>
<path class="c23" d="M2601 1711l71 -101 -55 14 -71 -13z"/>
<path d="M2546 1611l71 13M2672 1610l-55 14"/>
<path class="c49" d="M4217 1093l71 51 -55 21 -71 -34z"/>
<path d="M4162 1131l71 34M4288 1144l-55 21"/>
<path class="c24" d="M1881 1708l72 52 -55 -44 -72 -3z"/>
<path d="M1826 1713l72 3M1953 1760l-55 -44"/>
<path class="c25" d="M1755 1675l71 38 -54 -1 -72 18z"/>
<path d="M1700 1730l72 -18M1826 1713l-54 -1"/>
<path class="c51" d="M4486 1029l71 6 -54 40 -72 -31z"/>
<path d="M4431 1044l72 31M4557 1035l-54 40"/>
<path class="c31" d="M3194 1532l72 -23 -55 -11 -72 66z"/>
<path d="M3139 1564l72 -66M3266 1509l-55 -11"/>
<path class="c27" d="M1629 1644l71 86 -55 -95 -71 97z"/>
<path d="M1574 1732l71 -97M1700 1730l-55 -95"/>
<path class="c41" d="M3876 1281l71 16 -54 -84 -72 20z"/>
<path d="M3821 1233l72 -20M3947 1297l-54 -84"/>
<path class="c25" d="M2079 1669l71 -34 -54 69 -72 5z"/>
<path d="M2024 1709l72 -5M2150 1635l-54 69"/>
<path class="c38" d="M3535 1357l71 13 -54 55 -72 -30z"/>
<path d="M3480 1395l72 30M3606 1370l-54 55"/>
<path class="c24" d="M2403 1689l71 -80 -54 37 -72 30z"/>
<path d="M2348 1676l72 -30M2474 1609l-54 37"/>
<path class="c25" d="M2727 1661l71 -17 -54 -20 -72 -14z"/>
<path d="M2672 1610l72 14M2798 1644l-54 -20"/>
<path class="c23" d="M2331 1726l72 -37 -55 -13 -71 46z"/>
<path d="M2277 1722l71 -46M2403 1689l-55 -13"/>
<path class="c45" d="M4145 1171l72 -78 -55 38 -72 127z"/>
<path d="M4090 1258l72 -127M4217 1093l-55 38"/>
<path class="c22" d="M2529 1731l72 -20 -55 -100 -72 -2z"/>
<path d="M2474 1609l72 2M2601 1711l-55 -100"/>
<path class="c23" d="M2205 1710l72 12 -55 -61 -72 -26z"/>
<path d="M2150 1635l72 26M2277 1722l-55 -61"/>
<path class="c24" d="M2007 1715l72 -46 -55 40 -71 51z"/>
<path d="M1953 1760l71 -51M2079 1669l-55 40"/>
<path class="c31" d="M2925 1554l71 83 -54 -60 -72 7z"/>
<path d="M2870 1584l72 -7M2996 1637l-54 -60"/>
<path class="c54" d="M4612 981l72 38 -55 78 -72 -62z"/>
<path d="M4557 1035l72 62M4684 1019l-55 78"/>
<path class="c23" d="M1431 1731l71 -49 -54 -12 -72 38z"/>
<path d="M1376 1708l72 -38M1502 1682l-54 -12"/>
<path class="c49" d="M4414 1089l72 -60 -55 15 -71 52z"/>
<path d="M4360 1096l71 -52M4486 1029l-55 15"/>
<path class="c31" d="M3122 1532l72 0 -55 32 -71 0z"/>
<path d="M3068 1564l71 0M3194 1532l-55 32"/>
<path class="c41" d="M3804 1285l72 -4 -55 -48 -72 93z"/>
<path d="M3749 1326l72 -93M3876 1281l-55 -48"/>
<path class="c47" d="M4343 1124l71 -35 -54 7 -72 48z"/>
<path d="M4288 1144l72 -48M4414 1089l-54 7"/>
<path class="c46" d="M4073 1167l72 4 -55 87 -71 -70z"/>
<path d="M4019 1188l71 70M4145 1171l-55 87"/>
<path class="c26" d="M3051 1642l71 -110 -54 32 -72 73z"/>
<path d="M2996 1637l72 -73M3122 1532l-54 32"/>
<path class="c40" d="M3733 1309l71 -24 -55 41 -71 61z"/>
<path d="M3678 1387l71 -61M3804 1285l-55 41"/>
<path class="c27" d="M2655 1648l72 13 -55 -51 -71 101z"/>
<path d="M2601 1711l71 -101M2727 1661l-55 -51"/>
<path class="c22" d="M2260 1745l71 -19 -54 -4 -72 -12z"/>
<path d="M2205 1710l72 12M2331 1726l-54 -4"/>
<path class="c23" d="M1557 1738l72 -94 -55 88 -72 -50z"/>
<path d="M1502 1682l72 50M1629 1644l-55 88"/>
<path class="c25" d="M2584 1694l71 -46 -54 63 -72 20z"/>
<path d="M2529 1731l72 -20M2655 1648l-54 63"/>
<path class="c25" d="M2458 1688l71 43 -55 -122 -71 80z"/>
<path d="M2403 1689l71 -80M2529 1731l-55 -122"/>
<path class="c26" d="M2853 1659l72 -105 -55 30 -72 60z"/>
<path d="M2798 1644l72 -60M2925 1554l-55 30"/>
<path class="c26" d="M2782 1672l71 -13 -55 -15 -71 17z"/>
<path d="M2727 1661l71 -17M2853 1659l-55 -15"/>
<path class="c22" d="M1683 1750l72 -75 -55 55 -71 -86z"/>
<path d="M1629 1644l71 86M1755 1675l-55 55"/>
<path class="c30" d="M3320 1540l72 -112 -55 42 -71 39z"/>
<path d="M3266 1509l71 -39"/>
<path class="c24" d="M1936 1724l71 -9 -54 45 -72 -52z"/>
<path d="M1881 1708l72 52M2007 1715l-54 45"/>
<path class="c24" d="M1359 1724l72 7 -55 -23 -71 -7z"/>
<path d="M1305 1701l71 7M1431 1731l-55 -23"/>
<path class="c22" d="M1810 1747l71 -39 -55 5 -71 -38z"/>
<path d="M1755 1675l71 38M1881 1708l-55 5"/>
<path class="c18" d="M1612 1832l71 -82 -54 -106 -72 94z"/>
<path d="M1557 1738l72 -94M1683 1750l-54 -106"/>
<path class="c45" d="M4002 1196l71 -29 -54 21 -72 109z"/>
<path d="M3947 1297l72 -109M4073 1167l-54 21"/>
<path class="c28" d="M2979 1614l72 28 -55 -5 -71 -83z"/>
<path d="M2925 1554l71 83M3051 1642l-55 -5"/>
<path class="c40" d="M3463 1336l72 21 -55 38 -71 25z"/>
<path d="M3409 1420l71 -25M3535 1357l-55 38"/>
<path class="c24" d="M1486 1730l71 8 -55 -56 -71 49z"/>
<path d="M1431 1731l71 -49M1557 1738l-55 -56"/>
<path class="c33" d="M3249 1508l71 32 -54 -31 -72 23z"/>
<path d="M3194 1532l72 -23M3320 1540l-54 -31"/>
<path class="c21" d="M2512 1780l72 -86 -55 37 -71 -43z"/>
<path d="M2458 1688l71 43M2584 1694l-55 37"/>
<path class="c44" d="M3930 1240l72 -44 -55 101 -71 -16z"/>
<path d="M3876 1281l71 16M4002 1196l-55 101"/>
<path class="c25" d="M2134 1688l71 22 -55 -75 -71 34z"/>
<path d="M2079 1669l71 -34M2205 1710l-55 -75"/>
<path class="c20" d="M1540 1815l72 17 -55 -94 -71 -8z"/>
<path d="M1486 1730l71 8M1612 1832l-55 -94"/>
<path class="c43" d="M3661 1267l72 42 -55 78 -72 -17z"/>
<path d="M3606 1370l72 17M3733 1309l-55 78"/>
<path class="c36" d="M3392 1428l71 -92 -54 84 -72 50z"/>
<path d="M3337 1470l72 -50M3392 1428l-55 42M3463 1336l-54 84"/>
<path class="c50" d="M4271 1085l72 39 -55 20 -71 -51z"/>
<path d="M4217 1093l71 51M4343 1124l-55 20"/>
<path class="c29" d="M3106 1612l71 42 -55 -122 -71 110z"/>
<path d="M3051 1642l71 -110"/>
<path class="c26" d="M2386 1692l72 -4 -55 1 -72 37z"/>
<path d="M2331 1726l72 -37M2458 1688l-55 1"/>
<path class="c50" d="M4541 1061l71 -80 -55 54 -71 -6z"/>
<path d="M4486 1029l71 6M4612 981l-55 54"/>
<path class="c21" d="M2062 1789l72 -101 -55 -19 -72 46z"/>
<path d="M2007 1715l72 -46M2134 1688l-55 -19"/>
<path class="c56" d="M4738 943l72 39 -55 30 -71 7z"/>
<path d="M4684 1019l71 -7"/>
<path class="c26" d="M3177 1654l72 -146 -55 24 -72 0z"/>
<path d="M3122 1532l72 0M3177 1654l-55 -122M3249 1508l-55 24"/>
<path class="c48" d="M4469 1110l72 -49 -55 -32 -72 60z"/>
<path d="M4414 1089l72 -60M4541 1061l-55 -32"/>
<path class="c22" d="M1738 1760l72 -13 -55 -72 -72 75z"/>
<path d="M1683 1750l72 -75M1810 1747l-55 -72"/>
<path class="c22" d="M2188 1765l72 -20 -55 -35 -71 -22z"/>
<path d="M2134 1688l71 22M2260 1745l-55 -35"/>
<path class="c24" d="M1666 1741l72 19 -55 -10 -71 82z"/>
<path d="M1612 1832l71 -82M1738 1760l-55 -10"/>
<path class="c22" d="M1414 1776l72 -46 -55 1 -72 -7z"/>
<path d="M1359 1724l72 7M1486 1730l-55 1"/>
<path class="c23" d="M1990 1763l72 26 -55 -74 -71 9z"/>
<path d="M1936 1724l71 -9M2062 1789l-55 -74"/>
<path class="c30" d="M3375 1573l71 -97 -54 -48 -72 112z"/>
<path d="M3320 1540l72 -112"/>
<path class="c24" d="M1864 1743l72 -19 -55 -16 -71 39z"/>
<path d="M1810 1747l71 -39M1936 1724l-55 -16"/>
<path class="c27" d="M2908 1659l71 -45 -54 -60 -72 105z"/>
<path d="M2853 1659l72 -105M2979 1614l-54 -60"/>
<path class="c43" d="M3859 1270l71 -30 -54 41 -72 4z"/>
<path d="M3804 1285l72 -4M3930 1240l-54 41"/>
<path class="c21" d="M2441 1790l71 -10 -54 -92 -72 4z"/>
<path d="M2386 1692l72 -4M2512 1780l-54 -92"/>
<path class="c51" d="M4398 1075l71 35 -55 -21 -71 35z"/>
<path d="M4343 1124l71 -35M4469 1110l-55 -21"/>
<path class="c29" d="M2710 1618l72 54 -55 -11 -72 -13z"/>
<path d="M2655 1648l72 13M2782 1672l-55 -11"/>
<path class="c25" d="M2314 1713l72 -21 -55 34 -71 19z"/>
<path d="M2260 1745l71 -19M2386 1692l-55 34"/>
<path class="c26" d="M1288 1695l71 29 -54 -23 -72 29z"/>
<path d="M1233 1730l72 -29M1359 1724l-54 -23"/>
<path class="c28" d="M2836 1649l72 10 -55 0 -71 13z"/>
<path d="M2782 1672l71 -13M2908 1659l-55 0"/>
<path class="c38" d="M3590 1372l71 -105 -55 103 -71 -13z"/>
<path d="M3535 1357l71 13M3661 1267l-55 103"/>
<path class="c29" d="M3034 1624l72 -12 -55 30 -72 -28z"/>
<path d="M2979 1614l72 28M3106 1612l-55 30"/>
<path class="c23" d="M1595 1779l71 -38 -54 91 -72 -17z"/>
<path d="M1540 1815l72 17M1666 1741l-54 91"/>
<path class="c18" d="M1342 1851l72 -75 -55 -52 -71 -29z"/>
<path d="M1288 1695l71 29M1414 1776l-55 -52"/>
<path class="c49" d="M4200 1110l71 -25 -54 8 -72 78z"/>
<path d="M4145 1171l72 -78M4271 1085l-54 8"/>
<path class="c26" d="M2117 1697l71 68 -54 -77 -72 101z"/>
<path d="M2062 1789l72 -101M2188 1765l-54 -77"/>
<path class="c23" d="M1793 1764l71 -21 -54 4 -72 13z"/>
<path d="M1738 1760l72 -13M1864 1743l-54 4"/>
<path class="c46" d="M4128 1190l72 -80 -55 61 -72 -4z"/>
<path d="M4073 1167l72 4M4200 1110l-55 61"/>
<path class="c23" d="M1469 1763l71 52 -54 -85 -72 46z"/>
<path d="M1414 1776l72 -46M1540 1815l-54 -85"/>
<path class="c48" d="M4595 1115l72 -115 -55 -19 -71 80z"/>
<path d="M4541 1061l71 -80"/>
<path class="c36" d="M3303 1474l72 99 -55 -33 -71 -32z"/>
<path d="M3249 1508l71 32M3375 1573l-55 -33"/>
<path class="c42" d="M3787 1299l72 -29 -55 15 -71 24z"/>
<path d="M3733 1309l71 -24M3859 1270l-55 15"/>
<path class="c23" d="M2243 1755l71 -42 -54 32 -72 20z"/>
<path d="M2188 1765l72 -20M2314 1713l-54 32"/>
<path class="c36" d="M3518 1430l72 -58 -55 -15 -72 -21z"/>
<path d="M3463 1336l72 21M3590 1372l-55 -15"/>
<path class="c25" d="M2567 1713l71 -2 -54 -17 -72 86z"/>
<path d="M2512 1780l72 -86"/>
<path class="c52" d="M4524 1062l71 53 -54 -54 -72 49z"/>
<path d="M4469 1110l72 -49M4595 1115l-54 -54"/>
<path class="c23" d="M1216 1764l72 -69 -55 35 -72 34z"/>
<path d="M1161 1764l72 -34M1288 1695l-55 35"/>
<path class="c54" d="M4667 1000l71 -57 -54 76 -72 -38z"/>
<path d="M4612 981l72 38M4667 1000l-55 -19M4738 943l-54 76"/>
<path class="c21" d="M1919 1804l71 -41 -54 -39 -72 19z"/>
<path d="M1864 1743l72 -19M1990 1763l-54 -39"/>
<path class="c34" d="M3446 1476l72 -46 -55 -94 -71 92z"/>
<path d="M3392 1428l71 -92M3446 1476l-54 -48M3518 1430l-55 -94"/>
<path class="c25" d="M2638 1711l72 -93 -55 30 -71 46z"/>
<path d="M2584 1694l71 -46M2638 1711l-54 -17M2710 1618l-55 30"/>
<path class="c29" d="M3232 1614l71 -140 -54 34 -72 146z"/>
<path d="M3177 1654l72 -146M3303 1474l-54 34"/>
<path class="c32" d="M3160 1563l72 51 -55 40 -71 -42z"/>
<path d="M3106 1612l71 42M3232 1614l-55 40"/>
<path class="c20" d="M1397 1833l72 -70 -55 13 -72 75z"/>
<path d="M1342 1851l72 -75M1469 1763l-55 13"/>
<path class="c45" d="M4057 1221l71 -31 -55 -23 -71 29z"/>
<path d="M4002 1196l71 -29M4128 1190l-55 -23"/>
<path class="c22" d="M2369 1789l72 1 -55 -98 -72 21z"/>
<path d="M2314 1713l72 -21M2441 1790l-55 -98"/>
<path class="c19" d="M1721 1859l72 -95 -55 -4 -72 -19z"/>
<path d="M1666 1741l72 19M1793 1764l-55 -4"/>
<path class="c22" d="M1145 1799l71 -35 -55 0 -71 -10z"/>
<path d="M1090 1754l71 10M1216 1764l-55 0"/>
<path class="c25" d="M2495 1742l72 -29 -55 67 -71 10z"/>
<path d="M2441 1790l71 -10M2567 1713l-55 67"/>
<path class="c28" d="M2963 1652l71 -28 -55 -10 -71 45z"/>
<path d="M2908 1659l71 -45M3034 1624l-55 -10"/>
<path class="c19" d="M1847 1856l72 -52 -55 -61 -71 21z"/>
<path d="M1793 1764l71 -21M1919 1804l-55 -61"/>
<path class="c50" d="M4326 1112l72 -37 -55 49 -72 -39z"/>
<path d="M4271 1085l72 39M4398 1075l-55 49"/>
<path class="c25" d="M2765 1719l71 -70 -54 23 -72 -54z"/>
<path d="M2710 1618l72 54M2836 1649l-54 23"/>
<path class="c22" d="M1271 1790l71 61 -54 -156 -72 69z"/>
<path d="M1216 1764l72 -69M1342 1851l-54 -156"/>
<path class="c24" d="M2045 1752l72 -55 -55 92 -72 -26z"/>
<path d="M1990 1763l72 26M2117 1697l-55 92"/>
<path class="c44" d="M3985 1249l72 -28 -55 -25 -72 44z"/>
<path d="M3930 1240l72 -44M4057 1221l-55 -25"/>
<path class="c20" d="M1776 1855l71 1 -54 -92 -72 95z"/>
<path d="M1721 1859l72 -95M1847 1856l-54 -92"/>
<path class="c55" d="M4793 984l72 1 -55 -3 -72 -39z"/>
<path d="M4738 943l72 39"/>
<path class="c39" d="M3716 1360l71 -61 -54 10 -72 -42z"/>
<path d="M3661 1267l72 42M3787 1299l-54 10"/>
<path class="c38" d="M3573 1404l71 18 -54 -50 -72 58z"/>
<path d="M3518 1430l72 -58"/>
<path class="c37" d="M3644 1422l72 -62 -55 -93 -71 105z"/>
<path d="M3590 1372l71 -105M3644 1422l-54 -50M3716 1360l-55 -93"/>
<path class="c20" d="M2424 1830l71 -88 -54 48 -72 -1z"/>
<path d="M2369 1789l72 1M2495 1742l-54 48"/>
<path class="c27" d="M2891 1680l72 -28 -55 7 -72 -10z"/>
<path d="M2836 1649l72 10M2963 1652l-55 7"/>
<path class="c22" d="M1974 1812l71 -60 -55 11 -71 41z"/>
<path d="M1919 1804l71 -41M2045 1752l-55 11"/>
<path class="c23" d="M1326 1802l71 31 -55 18 -71 -61z"/>
<path d="M1271 1790l71 61M1397 1833l-55 18"/>
<path class="c36" d="M3430 1467l71 -27 -55 36 -71 97z"/>
<path d="M3375 1573l71 -97"/>
<path class="c37" d="M3501 1440l72 -36 -55 26 -72 46z"/>
<path d="M3446 1476l72 -46M3501 1440l-55 36M3573 1404l-55 26"/>
<path class="c24" d="M2171 1753l72 2 -55 10 -71 -68z"/>
<path d="M2117 1697l71 68M2243 1755l-55 10"/>
<path class="c45" d="M3914 1252l71 -3 -55 -9 -71 30z"/>
<path d="M3859 1270l71 -30M3985 1249l-55 -9"/>
<path class="c24" d="M2298 1766l71 23 -55 -76 -71 42z"/>
<path d="M2243 1755l71 -42M2369 1789l-55 -76"/>
<path class="c26" d="M2693 1698l72 21 -55 -101 -72 93z"/>
<path d="M2638 1711l72 -93M2765 1719l-55 -101"/>
<path class="c25" d="M1523 1755l72 24 -55 36 -71 -52z"/>
<path d="M1469 1763l71 52M1595 1779l-55 36"/>
<path class="c25" d="M2819 1731l72 -51 -55 -31 -71 70z"/>
<path d="M2765 1719l71 -70M2891 1680l-55 -31"/>
<path class="c28" d="M3089 1643l71 -80 -54 49 -72 12z"/>
<path d="M3034 1624l72 -12M3160 1563l-54 49"/>
<path class="c22" d="M2622 1794l71 -96 -55 13 -71 2z"/>
<path d="M2567 1713l71 -2M2693 1698l-55 13"/>
<path class="c23" d="M1073 1782l72 17 -55 -45 -72 15z"/>
<path d="M1018 1769l72 -15M1145 1799l-55 -45"/>
<path class="c53" d="M4452 1050l72 12 -55 48 -71 -35z"/>
<path d="M4398 1075l71 35M4524 1062l-55 48"/>
<path class="c20" d="M2352 1855l72 -25 -55 -41 -71 -23z"/>
<path d="M2298 1766l71 23M2424 1830l-55 -41"/>
<path class="c24" d="M1902 1786l72 26 -55 -8 -72 52z"/>
<path d="M1847 1856l72 -52M1974 1812l-55 -8"/>
<path class="c23" d="M1199 1797l72 -7 -55 -26 -71 35z"/>
<path d="M1145 1799l71 -35M1271 1790l-55 -26"/>
<path class="c25" d="M1650 1750l71 109 -55 -118 -71 38z"/>
<path d="M1595 1779l71 -38M1721 1859l-55 -118"/>
<path class="c47" d="M4111 1202l72 -6 -55 -6 -71 31z"/>
<path d="M4057 1221l71 -31"/>
<path class="c22" d="M2748 1793l71 -62 -54 -12 -72 -21z"/>
<path d="M2693 1698l72 21M2819 1731l-54 -12"/>
<path class="c28" d="M3017 1669l72 -26 -55 -19 -71 28z"/>
<path d="M2963 1652l71 -28M3089 1643l-55 -19"/>
<path class="c43" d="M3842 1295l72 -43 -55 18 -72 29z"/>
<path d="M3787 1299l72 -29M3914 1252l-55 18"/>
<path class="c53" d="M4254 1067l72 45 -55 -27 -71 25z"/>
<path d="M4200 1110l71 -25M4326 1112l-55 -27"/>
<path class="c54" d="M4848 1024l71 -65 -54 26 -72 -1z"/>
<path d="M4793 984l72 1"/>
<path class="c46" d="M4183 1196l71 -129 -54 43 -72 80z"/>
<path d="M4128 1190l72 -80M4183 1196l-55 -6M4254 1067l-54 43"/>
<path class="c55" d="M4650 1013l72 -54 -55 41 -72 115z"/>
<path d="M4595 1115l72 -115"/>
<path class="c57" d="M4722 959l71 25 -55 -41 -71 57z"/>
<path d="M4667 1000l71 -57M4722 959l-55 41M4793 984l-55 -41"/>
<path class="c35" d="M3358 1500l72 -33 -55 106 -72 -99z"/>
<path d="M3303 1474l72 99M3430 1467l-55 106"/>
<path class="c21" d="M2226 1825l72 -59 -55 -11 -72 -2z"/>
<path d="M2171 1753l72 2M2298 1766l-55 -11"/>
<path class="c24" d="M2550 1767l72 27 -55 -81 -72 29z"/>
<path d="M2495 1742l72 -29M2622 1794l-55 -81"/>
<path class="c25" d="M2946 1730l71 -61 -54 -17 -72 28z"/>
<path d="M2891 1680l72 -28M3017 1669l-54 -17"/>
<path class="c39" d="M3699 1396l71 -112 -54 76 -72 62z"/>
<path d="M3644 1422l72 -62"/>
<path class="c24" d="M2874 1758l72 -28 -55 -50 -72 51z"/>
<path d="M2819 1731l72 -51M2946 1730l-55 -50"/>
<path class="c44" d="M3770 1284l72 11 -55 4 -71 61z"/>
<path d="M3716 1360l71 -61M3770 1284l-54 76M3842 1295l-55 4"/>
<path class="c23" d="M1704 1805l72 50 -55 4 -71 -109z"/>
<path d="M1650 1750l71 109M1776 1855l-55 4"/>
<path class="c26" d="M2676 1743l72 50 -55 -95 -71 96z"/>
<path d="M2622 1794l71 -96M2748 1793l-55 -95"/>
<path class="c54" d="M4578 1028l72 -15 -55 102 -71 -53z"/>
<path d="M4524 1062l71 53M4650 1013l-55 102"/>
<path class="c40" d="M3627 1393l72 3 -55 26 -71 -18z"/>
<path d="M3573 1404l71 18M3699 1396l-55 26"/>
<path class="c23" d="M1831 1809l71 -23 -55 70 -71 -1z"/>
<path d="M1776 1855l71 1M1902 1786l-55 70"/>
<path class="c24" d="M1452 1774l71 -19 -54 8 -72 70z"/>
<path d="M1397 1833l72 -70M1523 1755l-54 8"/>
<path class="c23" d="M2479 1806l71 -39 -55 -25 -71 88z"/>
<path d="M2424 1830l71 -88M2550 1767l-55 -25"/>
<path class="c29" d="M3215 1640l72 -124 -55 98 -72 -51z"/>
<path d="M3160 1563l72 51"/>
<path class="c22" d="M2281 1833l71 22 -54 -89 -72 59z"/>
<path d="M2226 1825l72 -59M2352 1855l-54 -89"/>
<path class="c23" d="M1002 1808l71 -26 -55 -13 -71 4z"/>
<path d="M947 1773l71 -4M1073 1782l-55 -13"/>
<path class="c25" d="M2100 1755l71 -2 -54 -56 -72 55z"/>
<path d="M2045 1752l72 -55M2171 1753l-54 -56"/>
<path class="c21" d="M2028 1835l72 -80 -55 -3 -71 60z"/>
<path d="M1974 1812l71 -60M2100 1755l-55 -3"/>
<path class="c22" d="M2407 1823l72 -17 -55 24 -72 25z"/>
<path d="M2352 1855l72 -25M2479 1806l-55 24"/>
<path class="c53" d="M4381 1071l71 -21 -54 25 -72 37z"/>
<path d="M4326 1112l72 -37M4452 1050l-54 25"/>
<path class="c21" d="M1254 1838l72 -36 -55 -12 -72 7z"/>
<path d="M1199 1797l72 -7M1326 1802l-55 -12"/>
<path class="c35" d="M3287 1516l71 -16 -55 -26 -71 140z"/>
<path d="M3232 1614l71 -140M3287 1516l-55 98M3358 1500l-55 -26"/>
<path class="c24" d="M1128 1782l71 15 -54 2 -72 -17z"/>
<path d="M1073 1782l72 17M1199 1797l-54 2"/>
<path class="c20" d="M2605 1857l71 -114 -54 51 -72 -27z"/>
<path d="M2550 1767l72 27M2676 1743l-54 51"/>
<path class="c50" d="M4040 1151l71 51 -54 19 -72 28z"/>
<path d="M3985 1249l72 -28M4111 1202l-54 19"/>
<path class="c21" d="M1380 1853l72 -79 -55 59 -71 -31z"/>
<path d="M1326 1802l71 31M1452 1774l-55 59"/>
<path class="c27" d="M2803 1723l71 35 -55 -27 -71 62z"/>
<path d="M2748 1793l71 -62M2874 1758l-55 -27"/>
<path class="c30" d="M3143 1624l72 16 -55 -77 -71 80z"/>
<path d="M3089 1643l71 -80M3215 1640l-55 -77"/>
<path class="c20" d="M1957 1864l71 -29 -54 -23 -72 -26z"/>
<path d="M1902 1786l72 26M2028 1835l-54 -23"/>
<path class="c23" d="M2155 1798l71 27 -55 -72 -71 2z"/>
<path d="M2100 1755l71 -2M2226 1825l-55 -72"/>
<path class="c37" d="M3556 1463l71 -70 -54 11 -72 36z"/>
<path d="M3501 1440l72 -36M3627 1393l-54 11"/>
<path class="c29" d="M3072 1668l71 -44 -54 19 -72 26z"/>
<path d="M3017 1669l72 -26M3143 1624l-54 19"/>
<path class="c57" d="M4776 967l72 57 -55 -40 -71 -25z"/>
<path d="M4722 959l71 25M4848 1024l-55 -40"/>
<path class="c19" d="M1759 1900l72 -91 -55 46 -72 -50z"/>
<path d="M1704 1805l72 50M1831 1809l-55 46"/>
<path class="c35" d="M3484 1499l72 -36 -55 -23 -71 27z"/>
<path d="M3430 1467l71 -27M3556 1463l-55 -23"/>
<path class="c26" d="M3000 1728l72 -60 -55 1 -71 61z"/>
<path d="M2946 1730l71 -61M3072 1668l-55 1"/>
<path class="c49" d="M4309 1152l72 -81 -55 41 -72 -45z"/>
<path d="M4254 1067l72 45M4381 1071l-55 41"/>
<path class="c20" d="M2083 1869l72 -71 -55 -43 -72 80z"/>
<path d="M2028 1835l72 -80M2155 1798l-55 -43"/>
<path class="c27" d="M1578 1728l72 22 -55 29 -72 -24z"/>
<path d="M1523 1755l72 24M1650 1750l-55 29"/>
<path class="c21" d="M1056 1844l72 -62 -55 0 -71 26z"/>
<path d="M1002 1808l71 -26M1128 1782l-55 0"/>
<path class="c25" d="M2533 1782l72 75 -55 -90 -71 39z"/>
<path d="M2479 1806l71 -39M2605 1857l-55 -90"/>
<path class="c47" d="M3968 1227l72 -76 -55 98 -71 3z"/>
<path d="M3914 1252l71 -3M4040 1151l-55 98"/>
<path class="c28" d="M3270 1665l71 -84 -54 -65 -72 124z"/>
<path d="M3215 1640l72 -124"/>
<path class="c51" d="M4238 1127l71 25 -55 -85 -71 129z"/>
<path d="M4183 1196l71 -129M4309 1152l-55 -85"/>
<path class="c22" d="M2011 1853l72 16 -55 -34 -71 29z"/>
<path d="M1957 1864l71 -29M2083 1869l-55 -34"/>
<path class="c23" d="M2209 1822l72 11 -55 -8 -71 -27z"/>
<path d="M2155 1798l71 27M2281 1833l-55 -8"/>
<path class="c29" d="M3198 1659l72 6 -55 -25 -72 -16z"/>
<path d="M3143 1624l72 16M3270 1665l-55 -25"/>
<path class="c23" d="M2731 1798l72 -75 -55 70 -72 -50z"/>
<path d="M2676 1743l72 50M2803 1723l-55 70"/>
<path class="c45" d="M3897 1274l71 -47 -54 25 -72 43z"/>
<path d="M3842 1295l72 -43M3968 1227l-54 25"/>
<path class="c24" d="M1309 1800l71 53 -54 -51 -72 36z"/>
<path d="M1254 1838l72 -36M1380 1853l-54 -51"/>
<path class="c55" d="M4507 1026l71 2 -54 34 -72 -12z"/>
<path d="M4452 1050l72 12M4578 1028l-54 34"/>
<path class="c21" d="M1885 1866l72 -2 -55 -78 -71 23z"/>
<path d="M1831 1809l71 -23M1957 1864l-55 -78"/>
<path class="c25" d="M2336 1792l71 31 -55 32 -71 -22z"/>
<path d="M2281 1833l71 22M2407 1823l-55 32"/>
<path class="c30" d="M2929 1666l71 62 -54 2 -72 28z"/>
<path d="M2874 1758l72 -28M3000 1728l-54 2"/>
<path class="c29" d="M930 1707l72 101 -55 -35 -72 31z"/>
<path d="M875 1804l72 -31M1002 1808l-55 -35"/>
<path class="c24" d="M1182 1793l72 45 -55 -41 -71 -15z"/>
<path d="M1128 1782l71 15M1254 1838l-55 -41"/>
<path class="c50" d="M4166 1157l72 -30 -55 69 -72 6z"/>
<path d="M4111 1202l72 -6M4238 1127l-55 69"/>
<path class="c38" d="M3413 1467l71 32 -54 -32 -72 33z"/>
<path d="M3358 1500l72 -33M3484 1499l-54 -32"/>
<path class="c24" d="M2660 1799l71 -1 -55 -55 -71 114z"/>
<path d="M2605 1857l71 -114M2731 1798l-55 -55"/>
<path class="c19" d="M1814 1907l71 -41 -54 -57 -72 91z"/>
<path d="M1759 1900l72 -91M1885 1866l-54 -57"/>
<path class="c54" d="M4705 1039l71 -72 -54 -8 -72 54z"/>
<path d="M4650 1013l72 -54M4776 967l-54 -8"/>
<path class="c60" d="M4902 920l72 17 -55 22 -71 65z"/>
<path d="M4848 1024l71 -65"/>
<path class="c21" d="M1435 1856l72 -51 -55 -31 -72 79z"/>
<path d="M1380 1853l72 -79"/>
<path class="c24" d="M1507 1805l71 -77 -55 27 -71 19z"/>
<path d="M1452 1774l71 -19M1507 1805l-55 -31M1578 1728l-55 27"/>
<path class="c36" d="M3539 1510l72 -52 -55 5 -72 36z"/>
<path d="M3484 1499l72 -36"/>
<path class="c32" d="M3341 1581l72 -114 -55 33 -71 16z"/>
<path d="M3287 1516l71 -16M3341 1581l-54 -65M3413 1467l-55 33"/>
<path class="c22" d="M2138 1857l71 -35 -54 -24 -72 71z"/>
<path d="M2083 1869l72 -71M2209 1822l-54 -24"/>
<path class="c46" d="M3825 1273l72 1 -55 21 -72 -11z"/>
<path d="M3770 1284l72 11M3897 1274l-55 21"/>
<path class="c38" d="M3611 1458l71 -53 -55 -12 -71 70z"/>
<path d="M3556 1463l71 -70M3611 1458l-55 5"/>
<path class="c20" d="M1940 1893l71 -40 -54 11 -72 2z"/>
<path d="M1885 1866l72 -2M2011 1853l-54 11"/>
<path class="c55" d="M4633 1027l72 12 -55 -26 -72 15z"/>
<path d="M4578 1028l72 -15M4705 1039l-55 -26"/>
<path class="c52" d="M4435 1094l72 -68 -55 24 -71 21z"/>
<path d="M4381 1071l71 -21M4507 1026l-55 24"/>
<path class="c24" d="M1633 1801l71 4 -54 -55 -72 -22z"/>
<path d="M1578 1728l72 22M1704 1805l-54 -55"/>
<path class="c40" d="M3682 1405l72 -96 -55 87 -72 -3z"/>
<path d="M3627 1393l72 3M3682 1405l-55 -12"/>
<path class="c45" d="M4095 1261l71 -104 -55 45 -71 -51z"/>
<path d="M4040 1151l71 51M4166 1157l-55 45"/>
<path class="c21" d="M1111 1872l71 -79 -54 -11 -72 62z"/>
<path d="M1056 1844l72 -62M1182 1793l-54 -11"/>
<path class="c53" d="M4364 1100l71 -6 -54 -23 -72 81z"/>
<path d="M4309 1152l72 -81M4435 1094l-54 -23"/>
<path class="c25" d="M1687 1799l72 101 -55 -95 -71 -4z"/>
<path d="M1633 1801l71 4M1759 1900l-55 -95"/>
<path class="c25" d="M2462 1797l71 -15 -54 24 -72 17z"/>
<path d="M2407 1823l72 -17M2533 1782l-54 24"/>
<path class="c44" d="M3754 1309l71 -36 -55 11 -71 112z"/>
<path d="M3699 1396l71 -112M3754 1309l-55 87M3825 1273l-55 11"/>
<path class="c24" d="M2588 1818l72 -19 -55 58 -72 -75z"/>
<path d="M2533 1782l72 75M2660 1799l-55 58"/>
<path class="c32" d="M3127 1630l71 29 -55 -35 -71 44z"/>
<path d="M3072 1668l71 -44M3198 1659l-55 -35"/>
<path class="c19" d="M1039 1916l72 -44 -55 -28 -71 -33z"/>
<path d="M1111 1872l-55 -28"/>
<path class="c21" d="M1490 1884l71 -11 -54 -68 -72 51z"/>
<path d="M1435 1856l72 -51"/>
<path class="c31" d="M3324 1638l72 -90 -55 33 -71 84z"/>
<path d="M3270 1665l71 -84"/>
<path class="c24" d="M985 1811l71 33 -54 -36 -72 -101z"/>
<path d="M985 1811l71 33M930 1707l72 101M1056 1844l-54 -36"/>
<path class="c22" d="M1237 1856l72 -56 -55 38 -72 -45z"/>
<path d="M1182 1793l72 45M1309 1800l-55 38"/>
<path class="c21" d="M1561 1873l72 -72 -55 -73 -71 77z"/>
<path d="M1507 1805l71 -77M1561 1873l-54 -68M1633 1801l-55 -73"/>
<path class="c26" d="M858 1768l72 -61 -55 97 -71 21z"/>
<path d="M804 1825l71 -21M930 1707l-55 97"/>
<path class="c22" d="M2264 1855l72 -63 -55 41 -72 -11z"/>
<path d="M2209 1822l72 11M2336 1792l-55 41"/>
<path class="c24" d="M1363 1826l72 30 -55 -3 -71 -53z"/>
<path d="M1309 1800l71 53M1435 1856l-55 -3"/>
<path class="c58" d="M4831 961l71 -41 -54 104 -72 -57z"/>
<path d="M4776 967l72 57M4902 920l-54 104"/>
<path class="c23" d="M2066 1847l72 10 -55 12 -72 -16z"/>
<path d="M2011 1853l72 16M2138 1857l-55 12"/>
<path class="c21" d="M1868 1893l72 0 -55 -27 -71 41z"/>
<path d="M1814 1907l71 -41M1940 1893l-55 -27"/>
<path class="c28" d="M3055 1704l72 -74 -55 38 -72 60z"/>
<path d="M3000 1728l72 -60M3127 1630l-55 38"/>
<path class="c47" d="M4023 1230l72 31 -55 -110 -72 76z"/>
<path d="M3968 1227l72 -76M4095 1261l-55 -110"/>
<path class="c19" d="M2390 1910l72 -113 -55 26 -71 -31z"/>
<path d="M2336 1792l71 31M2462 1797l-55 26"/>
<path class="c17" d="M2319 1961l71 -51 -54 -118 -72 63z"/>
<path d="M2264 1855l72 -63M2390 1910l-54 -118"/>
<path class="c37" d="M3467 1499l72 11 -55 -11 -71 -32z"/>
<path d="M3413 1467l71 32M3539 1510l-55 -11"/>
<path class="c29" d="M2857 1693l72 -27 -55 92 -71 -35z"/>
<path d="M2803 1723l71 35M2929 1666l-55 92"/>
<path class="c23" d="M1742 1857l72 50 -55 -7 -72 -101z"/>
<path d="M1687 1799l72 101M1814 1907l-55 -7"/>
<path class="c20" d="M1166 1901l71 -45 -55 -63 -71 79z"/>
<path d="M1111 1872l71 -79M1237 1856l-55 -63"/>
<path class="c17" d="M1544 1976l72 -113 -55 10 -71 11z"/>
<path d="M1490 1884l71 -11"/>
<path class="c55" d="M4562 1055l71 -28 -55 1 -71 -2z"/>
<path d="M4507 1026l71 2M4633 1027l-55 1"/>
<path class="c25" d="M2786 1788l71 -95 -54 30 -72 75z"/>
<path d="M2731 1798l72 -75M2857 1693l-54 30"/>
<path class="c21" d="M2192 1881l72 -26 -55 -33 -71 35z"/>
<path d="M2138 1857l71 -35M2264 1855l-55 -33"/>
<path class="c36" d="M3253 1560l71 78 -54 27 -72 -6z"/>
<path d="M3198 1659l72 6M3324 1638l-54 27"/>
<path class="c21" d="M1094 1892l72 9 -55 -29 -72 44z"/>
<path d="M1039 1916l72 -44M1166 1901l-55 -29"/>
<path class="c55" d="M4292 1076l72 24 -55 52 -71 -25z"/>
<path d="M4238 1127l71 25M4364 1100l-55 52"/>
<path class="c26" d="M2714 1789l72 -1 -55 10 -71 1z"/>
<path d="M2660 1799l71 -1M2786 1788l-55 10"/>
<path class="c35" d="M3594 1533l71 -74 -54 -1 -72 52z"/>
<path d="M3539 1510l72 -52"/>
<path class="c25" d="M787 1802l71 -34 -54 57 -72 -39z"/>
<path d="M732 1786l72 39M858 1768l-54 57"/>
<path class="c35" d="M3396 1548l71 -49 -54 -32 -72 114z"/>
<path d="M3341 1581l72 -114M3396 1548l-55 33M3467 1499l-54 -32"/>
<path class="c22" d="M1616 1863l71 -64 -54 2 -72 72z"/>
<path d="M1561 1873l72 -72M1616 1863l-55 10M1687 1799l-54 2"/>
<path class="c48" d="M3951 1234l72 -4 -55 -3 -71 47z"/>
<path d="M3897 1274l71 -47M4023 1230l-55 -3"/>
<path class="c28" d="M2984 1724l71 -20 -55 24 -71 -62z"/>
<path d="M2929 1666l71 62M3055 1704l-55 24"/>
<path class="c58" d="M4759 983l72 -22 -55 6 -71 72z"/>
<path d="M4705 1039l71 -72M4831 961l-55 6"/>
<path class="c20" d="M2247 1918l72 43 -55 -106 -72 26z"/>
<path d="M2192 1881l72 -26M2319 1961l-55 -106"/>
<path class="c48" d="M4149 1231l72 -76 -55 2 -71 104z"/>
<path d="M4095 1261l71 -104"/>
<path class="c21" d="M968 1894l71 22 -54 -105 -72 34z"/>
<path d="M1039 1916l-54 -105"/>
<path class="c22" d="M1418 1881l72 3 -55 -28 -72 -30z"/>
<path d="M1363 1826l72 30M1490 1884l-55 -28"/>
<path class="c38" d="M3665 1459l72 -60 -55 6 -71 53z"/>
<path d="M3611 1458l71 -53M3665 1459l-54 -1"/>
<path class="c22" d="M1995 1874l71 -27 -55 6 -71 40z"/>
<path d="M1940 1893l71 -40M2066 1847l-55 6"/>
<path class="c23" d="M2516 1849l72 -31 -55 -36 -71 15z"/>
<path d="M2462 1797l71 -15M2588 1818l-55 -36"/>
<path class="c35" d="M3522 1557l72 -24 -55 -23 -72 -11z"/>
<path d="M3467 1499l72 11M3594 1533l-55 -23"/>
<path class="c22" d="M1292 1876l71 -50 -54 -26 -72 56z"/>
<path d="M1237 1856l72 -56M1363 1826l-54 -26"/>
<path class="c20" d="M1473 1932l71 44 -54 -92 -72 -3z"/>
<path d="M1418 1881l72 3M1544 1976l-54 -92"/>
<path class="c60" d="M4957 944l72 16 -55 -23 -72 -17z"/>
<path d="M4902 920l72 17"/>
<path class="c48" d="M4078 1235l71 -4 -54 30 -72 -31z"/>
<path d="M4023 1230l72 31M4149 1231l-54 30"/>
<path class="c21" d="M2373 1911l72 -71 -55 70 -71 51z"/>
<path d="M2319 1961l71 -51"/>
<path class="c56" d="M4490 1047l72 8 -55 -29 -72 68z"/>
<path d="M4435 1094l72 -68M4562 1055l-55 -29"/>
<path class="c56" d="M4688 1031l71 -48 -54 56 -72 -12z"/>
<path d="M4633 1027l72 12M4759 983l-54 56"/>
<path class="c22" d="M2643 1869l71 -80 -54 10 -72 19z"/>
<path d="M2588 1818l72 -19M2714 1789l-54 10"/>
<path class="c45" d="M3880 1296l71 -62 -54 40 -72 -1z"/>
<path d="M3825 1273l72 1M3951 1234l-54 40"/>
<path class="c18" d="M1599 1963l72 -61 -55 -39 -72 113z"/>
<path d="M1544 1976l72 -113"/>
<path class="c41" d="M3737 1399l71 -50 -54 -40 -72 96z"/>
<path d="M3682 1405l72 -96M3737 1399l-55 6"/>
<path class="c18" d="M1923 1955l72 -81 -55 19 -72 0z"/>
<path d="M1868 1893l72 0M1995 1874l-55 19"/>
<path class="c24" d="M2445 1840l71 9 -54 -52 -72 113z"/>
<path d="M2390 1910l72 -113M2445 1840l-55 70M2516 1849l-54 -52"/>
<path class="c27" d="M3181 1735l72 -175 -55 99 -71 -29z"/>
<path d="M3127 1630l71 29M3253 1560l-55 99"/>
<path class="c23" d="M913 1845l72 -34 -55 -104 -72 61z"/>
<path d="M913 1845l72 -34M858 1768l72 -61M985 1811l-55 -104"/>
<path class="c51" d="M4221 1155l71 -79 -54 51 -72 30z"/>
<path d="M4166 1157l72 -30M4221 1155l-55 2M4292 1076l-54 51"/>
<path class="c21" d="M2571 1906l72 -37 -55 -51 -72 31z"/>
<path d="M2516 1849l72 -31M2643 1869l-55 -51"/>
<path class="c22" d="M2121 1871l71 10 -54 -24 -72 -10z"/>
<path d="M2066 1847l72 10M2192 1881l-54 -24"/>
<path class="c23" d="M1220 1860l72 16 -55 -20 -71 45z"/>
<path d="M1166 1901l71 -45M1292 1876l-55 -20"/>
<path class="c30" d="M3110 1686l71 49 -54 -105 -72 74z"/>
<path d="M3055 1704l72 -74M3181 1735l-54 -105"/>
<path class="c43" d="M3808 1349l72 -53 -55 -23 -71 36z"/>
<path d="M3754 1309l71 -36M3808 1349l-54 -40M3880 1296l-55 -23"/>
<path class="c53" d="M4419 1110l71 -63 -55 47 -71 6z"/>
<path d="M4364 1100l71 -6M4490 1047l-55 47"/>
<path class="c24" d="M1797 1848l71 45 -54 14 -72 -50z"/>
<path d="M1742 1857l72 50M1868 1893l-54 14"/>
<path class="c22" d="M842 1868l71 -23 -55 -77 -71 34z"/>
<path d="M787 1802l71 -34M913 1845l-55 -77"/>
<path class="c19" d="M1528 1967l71 -4 -55 13 -71 -44z"/>
<path d="M1473 1932l71 44M1599 1963l-55 13"/>
<path class="c19" d="M1347 1934l71 -53 -55 -55 -71 50z"/>
<path d="M1292 1876l71 -50M1418 1881l-55 -55"/>
<path class="c26" d="M2912 1776l72 -52 -55 -58 -72 27z"/>
<path d="M2857 1693l72 -27M2984 1724l-55 -58"/>
<path class="c20" d="M896 1919l72 -25 -55 -49 -71 23z"/>
<path d="M842 1868l71 -23M968 1894l-55 -49"/>
<path class="c23" d="M1023 1880l71 12 -55 24 -71 -22z"/>
<path d="M968 1894l71 22M1094 1892l-55 24"/>
<path class="c17" d="M2176 1992l71 -74 -55 -37 -71 -10z"/>
<path d="M2121 1871l71 10M2247 1918l-55 -37"/>
<path class="c55" d="M4616 1072l72 -41 -55 -4 -71 28z"/>
<path d="M4562 1055l71 -28M4688 1031l-55 -4"/>
<path class="c21" d="M1671 1902l71 -45 -55 -58 -71 64z"/>
<path d="M1616 1863l71 -64M1671 1902l-55 -39M1742 1857l-55 -58"/>
<path class="c20" d="M2302 1929l71 -18 -54 50 -72 -43z"/>
<path d="M2247 1918l72 43M2373 1911l-54 50"/>
<path class="c26" d="M715 1788l72 14 -55 -16 -71 28z"/>
<path d="M661 1814l71 -28M787 1802l-55 -16"/>
<path class="c57" d="M5012 1011l71 -33 -54 -18 -72 -16z"/>
<path d="M4957 944l72 16"/>
<path class="c32" d="M3379 1633l72 -92 -55 7 -72 90z"/>
<path d="M3324 1638l72 -90"/>
<path class="c44" d="M4006 1326l72 -91 -55 -5 -72 4z"/>
<path d="M3951 1234l72 -4M4078 1235l-55 -5"/>
<path class="c36" d="M3451 1541l71 16 -55 -58 -71 49z"/>
<path d="M3396 1548l71 -49M3451 1541l-55 7M3522 1557l-55 -58"/>
<path class="c20" d="M2626 1930l71 -49 -54 -12 -72 37z"/>
<path d="M2571 1906l72 -37"/>
<path class="c59" d="M4886 961l71 -17 -55 -24 -71 41z"/>
<path d="M4831 961l71 -41M4957 944l-55 -24"/>
<path class="c15" d="M1978 2034l71 -159 -54 -1 -72 81z"/>
<path d="M1923 1955l72 -81"/>
<path class="c21" d="M1149 1921l71 -61 -54 41 -72 -9z"/>
<path d="M1094 1892l72 9M1220 1860l-54 41"/>
<path class="c18" d="M1852 1975l71 -20 -55 -62 -71 -45z"/>
<path d="M1797 1848l71 45M1923 1955l-55 -62"/>
<path class="c29" d="M2840 1720l72 56 -55 -83 -71 95z"/>
<path d="M2786 1788l71 -95M2912 1776l-55 -83"/>
<path class="c33" d="M3577 1609l71 -144 -54 68 -72 24z"/>
<path d="M3522 1557l72 -24"/>
<path class="c29" d="M3038 1722l72 -36 -55 18 -71 20z"/>
<path d="M2984 1724l71 -20M3110 1686l-55 18"/>
<path class="c25" d="M2967 1807l71 -85 -54 2 -72 52z"/>
<path d="M2912 1776l72 -52M3038 1722l-54 2"/>
<path class="c20" d="M1906 1951l72 83 -55 -79 -71 20z"/>
<path d="M1852 1975l71 -20M1978 2034l-55 -79"/>
<path class="c21" d="M2500 1904l71 2 -55 -57 -71 -9z"/>
<path d="M2445 1840l71 9M2571 1906l-55 -57"/>
<path class="c20" d="M1275 1931l72 3 -55 -58 -72 -16z"/>
<path d="M1220 1860l72 16M1347 1934l-55 -58"/>
<path class="c26" d="M3236 1763l72 -148 -55 -55 -72 175z"/>
<path d="M3181 1735l72 -175"/>
<path class="c22" d="M644 1873l71 -85 -54 26 -72 11z"/>
<path d="M589 1825l72 -11M715 1788l-54 26"/>
<path class="c18" d="M951 1973l72 -93 -55 14 -72 25z"/>
<path d="M896 1919l72 -25M1023 1880l-55 14"/>
<path class="c32" d="M3164 1667l72 96 -55 -28 -71 -49z"/>
<path d="M3110 1686l71 49M3236 1763l-55 -28"/>
<path class="c22" d="M2697 1881l72 -102 -55 10 -71 80z"/>
<path d="M2643 1869l71 -80M2697 1881l-54 -12"/>
<path class="c33" d="M3308 1615l71 18 -55 5 -71 -78z"/>
<path d="M3253 1560l71 78M3308 1615l-55 -55M3379 1633l-55 5"/>
<path class="c57" d="M4814 1011l72 -50 -55 0 -72 22z"/>
<path d="M4759 983l72 -22M4886 961l-55 0"/>
<path class="c48" d="M3935 1262l71 64 -55 -92 -71 62z"/>
<path d="M3880 1296l71 -62M4006 1326l-55 -92"/>
<path class="c23" d="M2049 1875l72 -4 -55 -24 -71 27z"/>
<path d="M1995 1874l71 -27M2049 1875l-54 -1M2121 1871l-55 -24"/>
<path class="c54" d="M4347 1097l72 13 -55 -10 -72 -24z"/>
<path d="M4292 1076l72 24M4419 1110l-55 -10"/>
<path class="c23" d="M770 1861l72 7 -55 -66 -72 -14z"/>
<path d="M715 1788l72 14M842 1868l-55 -66"/>
<path class="c41" d="M3792 1410l71 -70 -55 9 -71 50z"/>
<path d="M3737 1399l71 -50"/>
<path class="c52" d="M4204 1172l71 33 -54 -50 -72 76z"/>
<path d="M4149 1231l72 -76"/>
<path class="c56" d="M4545 1055l71 17 -54 -17 -72 -8z"/>
<path d="M4490 1047l72 8M4616 1072l-54 -17"/>
<path class="c21" d="M1725 1918l72 -70 -55 9 -71 45z"/>
<path d="M1671 1902l71 -45M1797 1848l-55 9"/>
<path class="c21" d="M1654 1937l71 -19 -54 -16 -72 61z"/>
<path d="M1599 1963l72 -61M1725 1918l-54 -16"/>
<path class="c42" d="M3720 1415l72 -5 -55 -11 -72 60z"/>
<path d="M3665 1459l72 -60M3792 1410l-55 -11"/>
<path class="c46" d="M4061 1306l71 -25 -54 -46 -72 91z"/>
<path d="M4006 1326l72 -91"/>
<path class="c22" d="M2230 1915l72 14 -55 -11 -71 74z"/>
<path d="M2176 1992l71 -74M2302 1929l-55 -11"/>
<path class="c25" d="M1401 1845l72 87 -55 -51 -71 53z"/>
<path d="M1347 1934l71 -53M1473 1932l-55 -51"/>
<path class="c40" d="M3648 1465l72 -50 -55 44 -71 74z"/>
<path d="M3594 1533l71 -74M3648 1465l-54 68M3720 1415l-55 44"/>
<path class="c22" d="M825 1900l71 19 -54 -51 -72 -7z"/>
<path d="M770 1861l72 7M896 1919l-54 -51"/>
<path class="c27" d="M2769 1779l71 -59 -54 68 -72 1z"/>
<path d="M2714 1789l72 -1M2769 1779l-55 10M2840 1720l-54 68"/>
<path class="c57" d="M4940 1014l72 -3 -55 -67 -71 17z"/>
<path d="M4886 961l71 -17M5012 1011l-55 -67"/>
<path class="c25" d="M2895 1827l72 -20 -55 -31 -72 -56z"/>
<path d="M2840 1720l72 56M2967 1807l-55 -31"/>
<path class="c49" d="M4275 1205l72 -108 -55 -21 -71 79z"/>
<path d="M4221 1155l71 -79M4275 1205l-54 -50M4347 1097l-55 -21"/>
<path class="c37" d="M3505 1545l72 64 -55 -52 -71 -16z"/>
<path d="M3451 1541l71 16M3577 1609l-55 -52"/>
<path class="c21" d="M2104 1931l72 61 -55 -121 -72 4z"/>
<path d="M2049 1875l72 -4M2176 1992l-55 -121"/>
<path class="c46" d="M4132 1281l72 -109 -55 59 -71 4z"/>
<path d="M4078 1235l71 -4M4132 1281l-54 -46M4204 1172l-55 59"/>
<path class="c44" d="M3863 1340l72 -78 -55 34 -72 53z"/>
<path d="M3808 1349l72 -53M3863 1340l-55 9M3935 1262l-55 34"/>
<path class="c18" d="M1780 1992l72 -17 -55 -127 -72 70z"/>
<path d="M1725 1918l72 -70M1852 1975l-55 -127"/>
<path class="c22" d="M2428 1913l72 -9 -55 -64 -72 71z"/>
<path d="M2373 1911l72 -71M2500 1904l-55 -64"/>
<path class="c23" d="M2554 1888l72 42 -55 -24 -71 -2z"/>
<path d="M2500 1904l71 2M2626 1930l-55 -24"/>
<path class="c25" d="M572 1841l72 32 -55 -48 -71 20z"/>
<path d="M518 1845l71 -20M644 1873l-55 -48"/>
<path class="c19" d="M1582 1971l72 -34 -55 26 -71 4z"/>
<path d="M1528 1967l71 -4M1654 1937l-55 26"/>
<path class="c60" d="M4743 980l71 31 -55 -28 -71 48z"/>
<path d="M4688 1031l71 -48M4814 1011l-55 -28"/>
<path class="c25" d="M3021 1817l72 -38 -55 -57 -71 85z"/>
<path d="M2967 1807l71 -85"/>
<path class="c21" d="M879 1928l72 45 -55 -54 -71 -19z"/>
<path d="M825 1900l71 19M951 1973l-55 -54"/>
<path class="c24" d="M2950 1858l71 -41 -54 -10 -72 20z"/>
<path d="M2895 1827l72 -20M3021 1817l-54 -10"/>
<path class="c23" d="M1077 1884l72 37 -55 -29 -71 -12z"/>
<path d="M1023 1880l71 12M1149 1921l-55 -29"/>
<path class="c20" d="M2357 1955l71 -42 -55 -2 -71 18z"/>
<path d="M2302 1929l71 -18M2428 1913l-55 -2"/>
<path class="c56" d="M4869 1044l71 -30 -54 -53 -72 50z"/>
<path d="M4814 1011l72 -50M4940 1014l-54 -53"/>
<path class="c17" d="M1708 2014l72 -22 -55 -74 -71 19z"/>
<path d="M1654 1937l71 -19M1780 1992l-55 -74"/>
<path class="c18" d="M1456 1996l72 -29 -55 -35 -72 -87z"/>
<path d="M1401 1845l72 87M1528 1967l-55 -35"/>
<path class="c24" d="M699 1858l71 3 -55 -73 -71 85z"/>
<path d="M644 1873l71 -85M770 1861l-55 -73"/>
<path class="c22" d="M1204 1903l71 28 -55 -71 -71 61z"/>
<path d="M1149 1921l71 -61M1275 1931l-55 -71"/>
<path class="c21" d="M2032 1935l72 -4 -55 -56 -71 159z"/>
<path d="M1978 2034l71 -159M2104 1931l-55 -56"/>
<path class="c55" d="M4473 1083l72 -28 -55 -8 -71 63z"/>
<path d="M4419 1110l71 -63M4545 1055l-55 -8"/>
<path class="c19" d="M1835 1983l71 -32 -54 24 -72 17z"/>
<path d="M1780 1992l72 -17M1906 1951l-54 24"/>
<path class="c63" d="M5067 919l71 41 -55 18 -71 33z"/>
<path d="M5012 1011l71 -33"/>
<path class="c13" d="M1763 2106l72 -123 -55 9 -72 22z"/>
<path d="M1708 2014l72 -22M1835 1983l-55 9"/>
<path class="c21" d="M1330 1937l71 -92 -54 89 -72 -3z"/>
<path d="M1275 1931l72 3M1401 1845l-54 89"/>
<path class="c27" d="M3093 1779l71 -112 -54 19 -72 36z"/>
<path d="M3038 1722l72 -36M3093 1779l-55 -57M3164 1667l-54 19"/>
<path class="c23" d="M2681 1891l71 -15 -55 5 -71 49z"/>
<path d="M2626 1930l71 -49"/>
<path class="c23" d="M2752 1876l72 -38 -55 -59 -72 102z"/>
<path d="M2697 1881l72 -102M2752 1876l-55 5"/>
<path class="c58" d="M4671 1024l72 -44 -55 51 -72 41z"/>
<path d="M4616 1072l72 -41M4743 980l-55 51"/>
<path class="c21" d="M2159 1944l71 -29 -54 77 -72 -61z"/>
<path d="M2104 1931l72 61M2230 1915l-54 77"/>
<path class="c25" d="M2824 1838l71 -11 -55 -107 -71 59z"/>
<path d="M2769 1779l71 -59M2824 1838l-55 -59M2895 1827l-55 -107"/>
<path class="c20" d="M1006 1952l71 -68 -54 -4 -72 93z"/>
<path d="M951 1973l72 -93M1077 1884l-54 -4"/>
<path class="c22" d="M2878 1894l72 -36 -55 -31 -71 11z"/>
<path d="M2824 1838l71 -11M2950 1858l-55 -31"/>
<path class="c53" d="M4402 1138l71 -55 -54 27 -72 -13z"/>
<path d="M4347 1097l72 13M4473 1083l-54 27"/>
<path class="c32" d="M3291 1674l71 -46 -54 -13 -72 148z"/>
<path d="M3236 1763l72 -148"/>
<path class="c16" d="M1132 2034l72 -131 -55 18 -72 -37z"/>
<path d="M1077 1884l72 37M1204 1903l-55 18"/>
<path class="c49" d="M3989 1262l72 44 -55 20 -71 -64z"/>
<path d="M3935 1262l71 64M4061 1306l-55 20"/>
<path class="c52" d="M4330 1172l72 -34 -55 -41 -72 108z"/>
<path d="M4275 1205l72 -108M4402 1138l-55 -41"/>
<path class="c28" d="M3219 1759l72 -85 -55 89 -72 -96z"/>
<path d="M3164 1667l72 96M3291 1674l-55 89"/>
<path class="c23" d="M501 1881l71 -40 -54 4 -72 18z"/>
<path d="M446 1863l72 -18M572 1841l-54 4"/>
<path class="c37" d="M3434 1548l71 -3 -54 -4 -72 92z"/>
<path d="M3379 1633l72 -92M3505 1545l-54 -4"/>
<path class="c21" d="M1511 1956l71 15 -54 -4 -72 29z"/>
<path d="M1456 1996l72 -29M1582 1971l-54 -4"/>
<path class="c21" d="M1961 1951l71 -16 -54 99 -72 -83z"/>
<path d="M1906 1951l72 83M2032 1935l-54 99"/>
<path class="c16" d="M1187 2042l71 -67 -54 -72 -72 131z"/>
<path d="M1132 2034l72 -131"/>
<path class="c18" d="M1637 2011l71 3 -54 -77 -72 34z"/>
<path d="M1582 1971l72 -34M1708 2014l-54 -77"/>
<path class="c56" d="M4599 1082l72 -58 -55 48 -71 -17z"/>
<path d="M4545 1055l71 17M4671 1024l-55 48"/>
<path class="c19" d="M1258 1975l72 -38 -55 -6 -71 -28z"/>
<path d="M1204 1903l71 28M1258 1975l-54 -72M1330 1937l-55 -6"/>
<path class="c34" d="M3362 1628l72 -80 -55 85 -71 -18z"/>
<path d="M3308 1615l71 18M3362 1628l-54 -13M3434 1548l-55 85"/>
<path class="c24" d="M753 1882l72 18 -55 -39 -71 -3z"/>
<path d="M699 1858l71 3M825 1900l-55 -39"/>
<path class="c21" d="M2285 1953l72 2 -55 -26 -72 -14z"/>
<path d="M2230 1915l72 14M2357 1955l-55 -26"/>
<path class="c23" d="M2483 1906l71 -18 -54 16 -72 9z"/>
<path d="M2428 1913l72 -9M2554 1888l-54 16"/>
<path class="c25" d="M627 1854l72 4 -55 15 -72 -32z"/>
<path d="M572 1841l72 32M699 1858l-55 15"/>
<path class="c18" d="M1384 2005l72 -9 -55 -151 -71 92z"/>
<path d="M1330 1937l71 -92M1456 1996l-55 -151"/>
<path class="c58" d="M4797 1033l72 11 -55 -33 -71 -31z"/>
<path d="M4743 980l71 31M4869 1044l-55 -33"/>
<path class="c22" d="M934 1932l72 20 -55 21 -72 -45z"/>
<path d="M879 1928l72 45M1006 1952l-55 21"/>
<path class="c44" d="M3846 1367l72 -33 -55 6 -71 70z"/>
<path d="M3792 1410l71 -70"/>
<path class="c23" d="M2807 1891l71 3 -54 -56 -72 38z"/>
<path d="M2752 1876l72 -38M2878 1894l-54 -56"/>
<path class="c20" d="M1692 1996l71 110 -55 -92 -71 -3z"/>
<path d="M1637 2011l71 3M1763 2106l-55 -92"/>
<path class="c17" d="M1439 2049l72 -93 -55 40 -72 9z"/>
<path d="M1384 2005l72 -9M1511 1956l-55 40"/>
<path class="c41" d="M3775 1443l71 -76 -54 43 -72 5z"/>
<path d="M3720 1415l72 -5M3846 1367l-54 43"/>
<path class="c25" d="M3076 1837l72 -123 -55 65 -72 38z"/>
<path d="M3021 1817l72 -38"/>
<path class="c50" d="M4116 1240l71 22 -55 19 -71 25z"/>
<path d="M4061 1306l71 -25"/>
<path class="c54" d="M4259 1140l71 32 -55 33 -71 -33z"/>
<path d="M4204 1172l71 33M4330 1172l-55 33"/>
<path class="c54" d="M4528 1125l71 -43 -54 -27 -72 28z"/>
<path d="M4473 1083l72 -28M4599 1082l-54 -27"/>
<path class="c38" d="M3560 1544l72 -40 -55 105 -72 -64z"/>
<path d="M3505 1545l72 64"/>
<path class="c39" d="M3632 1504l71 -84 -55 45 -71 144z"/>
<path d="M3577 1609l71 -144M3632 1504l-55 105"/>
<path class="c63" d="M4995 919l72 0 -55 92 -72 3z"/>
<path d="M4940 1014l72 -3M5067 919l-55 92"/>
<path class="c23" d="M1060 1921l72 113 -55 -150 -71 68z"/>
<path d="M1006 1952l71 -68M1132 2034l-55 -150"/>
<path class="c24" d="M429 1875l72 6 -55 -18 -71 7z"/>
<path d="M375 1870l71 -7M501 1881l-55 -18"/>
<path class="c31" d="M3148 1714l71 45 -55 -92 -71 112z"/>
<path d="M3093 1779l71 -112M3148 1714l-55 65M3219 1759l-55 -92"/>
<path class="c46" d="M3918 1334l71 -72 -54 0 -72 78z"/>
<path d="M3863 1340l72 -78M3918 1334l-55 6M3989 1262l-54 0"/>
<path class="c21" d="M808 1950l71 -22 -54 -28 -72 -18z"/>
<path d="M753 1882l72 18M879 1928l-54 -28"/>
<path class="c48" d="M4187 1262l72 -122 -55 32 -72 109z"/>
<path d="M4132 1281l72 -109M4187 1262l-55 19M4259 1140l-55 32"/>
<path class="c22" d="M2411 1933l72 -27 -55 7 -71 42z"/>
<path d="M2357 1955l71 -42M2483 1906l-55 7"/>
<path class="c29" d="M3005 1773l71 64 -55 -20 -71 41z"/>
<path d="M2950 1858l71 -41M3076 1837l-55 -20"/>
<path class="c22" d="M1313 1952l71 53 -54 -68 -72 38z"/>
<path d="M1258 1975l72 -38M1384 2005l-54 -68"/>
<path class="c26" d="M2609 1841l72 50 -55 39 -72 -42z"/>
<path d="M2554 1888l72 42M2681 1891l-55 39"/>
<path class="c19" d="M1115 2004l72 38 -55 -8 -72 -113z"/>
<path d="M1060 1921l72 113M1187 2042l-55 -8"/>
<path class="c43" d="M3703 1420l72 23 -55 -28 -72 50z"/>
<path d="M3648 1465l72 -50M3703 1420l-55 45M3775 1443l-55 -28"/>
<path class="c55" d="M4726 1105l71 -72 -54 -53 -72 44z"/>
<path d="M4671 1024l72 -44M4797 1033l-54 -53"/>
<path class="c22" d="M2087 1940l72 4 -55 -13 -72 4z"/>
<path d="M2032 1935l72 -4M2159 1944l-55 -13"/>
<path class="c22" d="M2735 1935l72 -44 -55 -15 -71 15z"/>
<path d="M2681 1891l71 -15M2807 1891l-55 -15"/>
<path class="c18" d="M1565 2025l72 -14 -55 -40 -71 -15z"/>
<path d="M1511 1956l71 15M1637 2011l-55 -40"/>
<path class="c55" d="M4456 1118l72 7 -55 -42 -71 55z"/>
<path d="M4402 1138l71 -55M4528 1125l-55 -42"/>
<path class="c20" d="M1889 1986l72 -35 -55 0 -71 32z"/>
<path d="M1835 1983l71 -32M1961 1951l-55 0"/>
<path class="c20" d="M1818 1994l71 -8 -54 -3 -72 123z"/>
<path d="M1763 2106l72 -123M1889 1986l-54 -3"/>
<path class="c61" d="M5121 972l72 17 -55 -29 -71 -41z"/>
<path d="M5067 919l71 41"/>
<path class="c60" d="M4923 998l72 -79 -55 95 -71 30z"/>
<path d="M4869 1044l71 -30M4995 919l-55 95"/>
<path class="c24" d="M555 1878l72 -24 -55 -13 -71 40z"/>
<path d="M501 1881l71 -40M627 1854l-55 -13"/>
<path class="c23" d="M2933 1895l72 -122 -55 85 -72 36z"/>
<path d="M2878 1894l72 -36M3005 1773l-55 85"/>
<path class="c23" d="M682 1913l71 -31 -54 -24 -72 -4z"/>
<path d="M627 1854l72 4M753 1882l-54 -24"/>
<path class="c21" d="M2213 1955l72 -2 -55 -38 -71 29z"/>
<path d="M2159 1944l71 -29M2285 1953l-55 -38"/>
<path class="c17" d="M1368 2047l71 2 -55 -44 -71 -53z"/>
<path d="M1313 1952l71 53M1439 2049l-55 -44"/>
<path class="c57" d="M4654 1064l72 41 -55 -81 -72 58z"/>
<path d="M4599 1082l72 -58M4726 1105l-55 -81"/>
<path class="c22" d="M358 1932l71 -57 -54 -5 -72 20z"/>
<path d="M303 1890l72 -20M358 1932l-55 -42M429 1875l-54 -5"/>
<path class="c52" d="M4385 1179l71 -61 -54 20 -72 34z"/>
<path d="M4330 1172l72 -34M4456 1118l-54 20"/>
<path class="c34" d="M3488 1624l72 -80 -55 1 -71 3z"/>
<path d="M3434 1548l71 -3M3560 1544l-55 1"/>
<path class="c21" d="M2340 1959l71 -26 -54 22 -72 -2z"/>
<path d="M2285 1953l72 2M2411 1933l-54 22"/>
<path class="c17" d="M1494 2064l71 -39 -54 -69 -72 93z"/>
<path d="M1439 2049l72 -93M1565 2025l-54 -69"/>
<path class="c34" d="M3417 1645l71 -21 -54 -76 -72 80z"/>
<path d="M3362 1628l72 -80M3488 1624l-54 -76"/>
<path class="c59" d="M4852 1028l71 -30 -54 46 -72 -11z"/>
<path d="M4797 1033l72 11M4923 998l-54 46"/>
<path class="c48" d="M4044 1295l72 -55 -55 66 -72 -44z"/>
<path d="M3989 1262l72 44M4116 1240l-55 66"/>
<path class="c29" d="M3274 1747l71 -105 -54 32 -72 85z"/>
<path d="M3219 1759l72 -85"/>
<path class="c22" d="M863 1943l71 -11 -55 -4 -71 22z"/>
<path d="M808 1950l71 -22M934 1932l-55 -4"/>
<path class="c44" d="M3901 1394l71 -14 -54 -46 -72 33z"/>
<path d="M3846 1367l72 -33"/>
<path class="c41" d="M3829 1468l72 -74 -55 -27 -71 76z"/>
<path d="M3775 1443l71 -76M3901 1394l-55 -27"/>
<path class="c19" d="M2016 1997l71 -57 -55 -5 -71 16z"/>
<path d="M1961 1951l71 -16M2087 1940l-55 -5"/>
<path class="c44" d="M3972 1380l72 -85 -55 -33 -71 72z"/>
<path d="M3918 1334l71 -72M3972 1380l-54 -46M4044 1295l-55 -33"/>
<path class="c23" d="M1241 1942l72 10 -55 23 -71 67z"/>
<path d="M1187 2042l71 -67M1313 1952l-55 23"/>
<path class="c56" d="M4780 1091l72 -63 -55 5 -71 72z"/>
<path d="M4726 1105l71 -72M4852 1028l-55 5"/>
<path class="c34" d="M3345 1642l72 3 -55 -17 -71 46z"/>
<path d="M3291 1674l71 -46M3345 1642l-54 32M3417 1645l-55 -17"/>
<path class="c29" d="M3202 1762l72 -15 -55 12 -71 -45z"/>
<path d="M3148 1714l71 45M3274 1747l-55 12"/>
<path class="c18" d="M2142 2031l71 -76 -54 -11 -72 -4z"/>
<path d="M2087 1940l72 4M2213 1955l-54 -11"/>
<path class="c27" d="M2861 1835l72 60 -55 -1 -71 -3z"/>
<path d="M2807 1891l71 3M2933 1895l-55 -1"/>
<path class="c23" d="M736 1919l72 31 -55 -68 -71 31z"/>
<path d="M682 1913l71 -31M808 1950l-55 -68"/>
<path class="c18" d="M1746 2039l72 -45 -55 112 -71 -110z"/>
<path d="M1692 1996l71 110M1818 1994l-55 112"/>
<path class="c17" d="M2268 2051l72 -92 -55 -6 -72 2z"/>
<path d="M2213 1955l72 -2M2340 1959l-55 -6"/>
<path class="c24" d="M484 1902l71 -24 -54 3 -72 -6z"/>
<path d="M429 1875l72 6M555 1878l-54 3"/>
<path class="c19" d="M1422 2039l72 25 -55 -15 -71 -2z"/>
<path d="M1368 2047l71 2M1494 2064l-55 -15"/>
<path class="c17" d="M2197 2061l71 -10 -55 -96 -71 76z"/>
<path d="M2142 2031l71 -76M2268 2051l-55 -96"/>
<path class="c19" d="M2466 1996l71 -73 -54 -17 -72 27z"/>
<path d="M2411 1933l72 -27"/>
<path class="c23" d="M2537 1923l72 -82 -55 47 -71 18z"/>
<path d="M2483 1906l71 -18M2537 1923l-54 -17M2609 1841l-55 47"/>
<path class="c35" d="M3615 1603l71 -40 -54 -59 -72 40z"/>
<path d="M3560 1544l72 -40"/>
<path class="c52" d="M4313 1191l72 -12 -55 -7 -71 -32z"/>
<path d="M4259 1140l71 32M4385 1179l-55 -7"/>
<path class="c23" d="M989 1936l71 -15 -54 31 -72 -20z"/>
<path d="M934 1932l72 20M1060 1921l-54 31"/>
<path class="c20" d="M1620 2005l72 -9 -55 15 -72 14z"/>
<path d="M1565 2025l72 -14M1692 1996l-55 15"/>
<path class="c61" d="M5176 975l72 15 -55 -1 -72 -17z"/>
<path d="M5121 972l72 17"/>
<path class="c22" d="M2664 1932l71 3 -54 -44 -72 -50z"/>
<path d="M2609 1841l72 50M2735 1935l-54 -44"/>
<path class="c19" d="M1944 2019l72 -22 -55 -46 -72 35z"/>
<path d="M1889 1986l72 -35M2016 1997l-55 -46"/>
<path class="c58" d="M4583 1063l71 1 -55 18 -71 43z"/>
<path d="M4528 1125l71 -43M4654 1064l-55 18"/>
<path class="c28" d="M3131 1803l71 -41 -54 -48 -72 123z"/>
<path d="M3076 1837l72 -123M3202 1762l-54 -48"/>
<path class="c42" d="M3758 1458l71 10 -54 -25 -72 -23z"/>
<path d="M3703 1420l72 23M3829 1468l-54 -25"/>
<path class="c36" d="M3543 1607l72 -4 -55 -59 -72 80z"/>
<path d="M3488 1624l72 -80M3615 1603l-55 -59"/>
<path class="c25" d="M610 1885l72 28 -55 -59 -72 24z"/>
<path d="M555 1878l72 -24M682 1913l-55 -59"/>
<path class="c56" d="M4709 1112l71 -21 -54 14 -72 -41z"/>
<path d="M4654 1064l72 41M4780 1091l-54 14"/>
<path class="c19" d="M2394 2012l72 -16 -55 -63 -71 26z"/>
<path d="M2340 1959l71 -26M2466 1996l-55 -63"/>
<path class="c33" d="M3472 1674l71 -67 -55 17 -71 21z"/>
<path d="M3417 1645l71 -21M3543 1607l-55 17"/>
<path class="c37" d="M3686 1563l72 -105 -55 -38 -71 84z"/>
<path d="M3632 1504l71 -84M3686 1563l-54 -59M3758 1458l-55 -38"/>
<path class="c60" d="M5050 988l71 -16 -54 -53 -72 0z"/>
<path d="M4995 919l72 0M5121 972l-54 -53"/>
<path class="c16" d="M1873 2084l71 -65 -55 -33 -71 8z"/>
<path d="M1818 1994l71 -8M1944 2019l-55 -33"/>
<path class="c26" d="M3059 1841l72 -38 -55 34 -71 -64z"/>
<path d="M3005 1773l71 64M3131 1803l-55 34"/>
<path class="c24" d="M412 1906l72 -4 -55 -27 -71 57z"/>
<path d="M358 1932l71 -57M412 1906l-54 26M484 1902l-55 -27"/>
<path class="c22" d="M2070 1963l72 68 -55 -91 -71 57z"/>
<path d="M2016 1997l71 -57M2142 2031l-55 -91"/>
<path class="c22" d="M1170 1976l71 -34 -54 100 -72 -38z"/>
<path d="M1115 2004l72 38M1241 1942l-54 100"/>
<path class="c18" d="M1549 2047l71 -42 -55 20 -71 39z"/>
<path d="M1494 2064l71 -39M1620 2005l-55 20"/>
<path class="c19" d="M2323 2020l71 -8 -54 -53 -72 92z"/>
<path d="M2268 2051l72 -92M2394 2012l-54 -53"/>
<path class="c19" d="M2449 2037l72 17 -55 -58 -72 16z"/>
<path d="M2394 2012l72 -16"/>
<path class="c24" d="M2790 1899l71 -64 -54 56 -72 44z"/>
<path d="M2735 1935l72 -44M2861 1835l-54 56"/>
<path class="c19" d="M1044 2028l71 -24 -55 -83 -71 15z"/>
<path d="M989 1936l71 -15M1115 2004l-55 -83"/>
<path class="c46" d="M4027 1366l72 -47 -55 -24 -72 85z"/>
<path d="M3972 1380l72 -85"/>
<path class="c17" d="M2521 2054l71 -137 -55 6 -71 73z"/>
<path d="M2466 1996l71 -73M2521 2054l-55 -58"/>
<path class="c17" d="M1296 2060l72 -13 -55 -95 -72 -10z"/>
<path d="M1241 1942l72 10M1368 2047l-55 -95"/>
<path class="c20" d="M2916 1981l72 -91 -55 5 -72 -60z"/>
<path d="M2861 1835l72 60"/>
<path class="c56" d="M4511 1110l72 -47 -55 62 -72 -7z"/>
<path d="M4456 1118l72 7M4583 1063l-55 62"/>
<path class="c24" d="M2988 1890l71 -49 -54 -68 -72 122z"/>
<path d="M2933 1895l72 -122M2988 1890l-55 5M3059 1841l-54 -68"/>
<path class="c23" d="M791 1935l72 8 -55 7 -72 -31z"/>
<path d="M736 1919l72 31M863 1943l-55 7"/>
<path class="c21" d="M917 1988l72 -52 -55 -4 -71 11z"/>
<path d="M863 1943l71 -11M989 1936l-55 -4"/>
<path class="c55" d="M4242 1146l71 45 -54 -51 -72 122z"/>
<path d="M4187 1262l72 -122M4313 1191l-54 -51"/>
<path class="c17" d="M2125 2082l72 -21 -55 -30 -72 -68z"/>
<path d="M2070 1963l72 68M2197 2061l-55 -30"/>
<path class="c14" d="M1477 2142l72 -95 -55 17 -72 -25z"/>
<path d="M1422 2039l72 25M1549 2047l-55 17"/>
<path class="c18" d="M2251 2052l72 -32 -55 31 -71 10z"/>
<path d="M2197 2061l71 -10M2323 2020l-55 31"/>
<path class="c46" d="M3956 1374l71 -8 -55 14 -71 14z"/>
<path d="M3901 1394l71 -14M4027 1366l-55 14"/>
<path class="c18" d="M1351 2070l71 -31 -54 8 -72 13z"/>
<path d="M1296 2060l72 -13M1422 2039l-54 8"/>
<path class="c17" d="M1801 2079l72 5 -55 -90 -72 45z"/>
<path d="M1746 2039l72 -45M1873 2084l-55 -90"/>
<path class="c34" d="M3400 1673l72 1 -55 -29 -72 -3z"/>
<path d="M3345 1642l72 3M3472 1674l-55 -29"/>
<path class="c61" d="M4978 994l72 -6 -55 -69 -72 79z"/>
<path d="M4923 998l72 -79M5050 988l-55 -69"/>
<path class="c47" d="M4099 1319l71 -71 -54 -8 -72 55z"/>
<path d="M4044 1295l72 -55M4099 1319l-55 -24"/>
<path class="c60" d="M5104 1021l72 -46 -55 -3 -71 16z"/>
<path d="M5050 988l71 -16M5176 975l-55 -3"/>
<path class="c24" d="M539 1919l71 -34 -55 -7 -71 24z"/>
<path d="M484 1902l71 -24M610 1885l-55 -7"/>
<path class="c32" d="M3598 1695l71 -116 -54 24 -72 4z"/>
<path d="M3543 1607l72 -4"/>
<path class="c59" d="M5231 1036l71 -29 -54 -17 -72 -15z"/>
<path d="M5176 975l72 15"/>
<path class="c51" d="M4170 1248l72 -102 -55 116 -71 -22z"/>
<path d="M4116 1240l71 22M4170 1248l-54 -8M4242 1146l-55 116"/>
<path class="c24" d="M665 1920l71 -1 -54 -6 -72 -28z"/>
<path d="M610 1885l72 28M736 1919l-54 -6"/>
<path class="c32" d="M3526 1697l72 -2 -55 -88 -71 67z"/>
<path d="M3472 1674l71 -67M3598 1695l-55 -88"/>
<path class="c24" d="M2718 1914l72 -15 -55 36 -71 -3z"/>
<path d="M2664 1932l71 3M2790 1899l-55 36"/>
<path class="c30" d="M3257 1768l72 -37 -55 16 -72 15z"/>
<path d="M3202 1762l72 -15"/>
<path class="c24" d="M2592 1917l72 15 -55 -91 -72 82z"/>
<path d="M2537 1923l72 -82M2592 1917l-55 6M2664 1932l-55 -91"/>
<path class="c58" d="M4907 1055l71 -61 -55 4 -71 30z"/>
<path d="M4852 1028l71 -30M4978 994l-55 4"/>
<path class="c38" d="M3669 1579l72 -58 -55 42 -71 40z"/>
<path d="M3615 1603l71 -40M3669 1579l-54 24"/>
<path class="c31" d="M3329 1731l71 -58 -55 -31 -71 105z"/>
<path d="M3274 1747l71 -105M3329 1731l-55 16M3400 1673l-55 -31"/>
<path class="c56" d="M4440 1130l71 -20 -55 8 -71 61z"/>
<path d="M4385 1179l71 -61M4511 1110l-55 8"/>
<path class="c17" d="M1927 2077l72 -47 -55 -11 -71 65z"/>
<path d="M1873 2084l71 -65"/>
<path class="c19" d="M1999 2030l71 -67 -54 34 -72 22z"/>
<path d="M1944 2019l72 -22M1999 2030l-55 -11M2070 1963l-54 34"/>
<path class="c19" d="M1098 2032l72 -56 -55 28 -71 24z"/>
<path d="M1044 2028l71 -24M1170 1976l-55 28"/>
<path class="c12" d="M1279 2179l72 -109 -55 -10 -71 -12z"/>
<path d="M1351 2070l-55 -10"/>
<path class="c16" d="M2378 2109l71 -72 -55 -25 -71 8z"/>
<path d="M2323 2020l71 -8M2449 2037l-55 -25"/>
<path class="c14" d="M1532 2166l71 -56 -54 -63 -72 95z"/>
<path d="M1477 2142l72 -95"/>
<path class="c45" d="M3884 1402l72 -28 -55 20 -72 74z"/>
<path d="M3829 1468l72 -74M3956 1374l-55 20"/>
<path class="c59" d="M4835 1059l72 -4 -55 -27 -72 63z"/>
<path d="M4780 1091l72 -63M4907 1055l-55 -27"/>
<path class="c28" d="M3185 1822l72 -54 -55 -6 -71 41z"/>
<path d="M3131 1803l71 -41M3257 1768l-55 -6"/>
<path class="c20" d="M2575 2020l72 13 -55 -116 -71 137z"/>
<path d="M2521 2054l71 -137"/>
<path class="c25" d="M3114 1885l71 -63 -54 -19 -72 38z"/>
<path d="M3059 1841l72 -38M3185 1822l-54 -19"/>
<path class="c21" d="M2971 1976l71 -79 -54 -7 -72 91z"/>
<path d="M2916 1981l72 -91"/>
<path class="c17" d="M2180 2096l71 -44 -54 9 -72 21z"/>
<path d="M2125 2082l72 -21M2251 2052l-54 9"/>
<path class="c53" d="M4368 1191l72 -61 -55 49 -72 12z"/>
<path d="M4313 1191l72 -12M4440 1130l-55 49"/>
<path class="c21" d="M1675 2006l71 33 -54 -43 -72 9z"/>
<path d="M1620 2005l72 -9M1746 2039l-54 -43"/>
<path class="c20" d="M846 2018l71 -30 -54 -45 -72 -8z"/>
<path d="M791 1935l72 8M917 1988l-54 -45"/>
<path class="c30" d="M3581 1764l72 -61 -55 -8 -72 2z"/>
<path d="M3526 1697l72 -2"/>
<path class="c21" d="M972 1988l72 40 -55 -92 -72 52z"/>
<path d="M917 1988l72 -52M1044 2028l-55 -92"/>
<path class="c22" d="M467 1968l72 -49 -55 -17 -72 4z"/>
<path d="M412 1906l72 -4M467 1968l-55 -62M539 1919l-55 -17"/>
<path class="c40" d="M3741 1521l72 -64 -55 1 -72 105z"/>
<path d="M3686 1563l72 -105M3741 1521l-55 42"/>
<path class="c19" d="M2647 2033l71 -119 -54 18 -72 -15z"/>
<path d="M2592 1917l72 15M2647 2033l-55 -116M2718 1914l-54 18"/>
<path class="c25" d="M3042 1897l72 -12 -55 -44 -71 49z"/>
<path d="M2988 1890l71 -49M3042 1897l-54 -7M3114 1885l-55 -44"/>
<path class="c31" d="M3455 1735l71 -38 -54 -23 -72 -1z"/>
<path d="M3400 1673l72 1M3526 1697l-54 -23"/>
<path class="c43" d="M3813 1457l71 -55 -55 66 -71 -10z"/>
<path d="M3758 1458l71 10M3813 1457l-55 1M3884 1402l-55 66"/>
<path class="c60" d="M5033 1033l71 -12 -54 -33 -72 6z"/>
<path d="M4978 994l72 -6M5104 1021l-54 -33"/>
<path class="c19" d="M1225 2048l71 12 -55 -118 -71 34z"/>
<path d="M1225 2048l71 12M1170 1976l71 -34M1296 2060l-55 -118"/>
<path class="c32" d="M3653 1703l71 -64 -55 -60 -71 116z"/>
<path d="M3598 1695l71 -116M3653 1703l-55 -8"/>
<path class="c20" d="M2504 2038l71 -18 -54 34 -72 -17z"/>
<path d="M2449 2037l72 17M2575 2020l-54 34"/>
<path class="c25" d="M2845 1900l71 81 -55 -146 -71 64z"/>
<path d="M2790 1899l71 -64M2916 1981l-55 -146"/>
<path class="c60" d="M4637 1050l72 62 -55 -48 -71 -1z"/>
<path d="M4583 1063l71 1M4709 1112l-55 -48"/>
<path class="c25" d="M3312 1877l71 -115 -54 -31 -72 37z"/>
<path d="M3257 1768l72 -37"/>
<path class="c12" d="M1334 2208l71 -148 -54 10 -72 109z"/>
<path d="M1279 2179l72 -109"/>
<path class="c17" d="M2306 2100l72 9 -55 -89 -72 32z"/>
<path d="M2251 2052l72 -32M2378 2109l-55 -89"/>
<path class="c22" d="M593 1973l72 -53 -55 -35 -71 34z"/>
<path d="M539 1919l71 -34M665 1920l-55 -35"/>
<path class="c19" d="M1405 2060l72 82 -55 -103 -71 31z"/>
<path d="M1351 2070l71 -31M1405 2060l-54 10M1477 2142l-55 -103"/>
<path class="c16" d="M1603 2110l72 -104 -55 -1 -71 42z"/>
<path d="M1549 2047l71 -42M1603 2110l-54 -63M1675 2006l-55 -1"/>
<path class="c16" d="M1730 2102l71 -23 -55 -40 -71 -33z"/>
<path d="M1675 2006l71 33M1801 2079l-55 -40"/>
<path class="c20" d="M1856 2045l71 32 -54 7 -72 -5z"/>
<path d="M1801 2079l72 5M1927 2077l-54 7"/>
<path class="c59" d="M4764 1064l71 -5 -55 32 -71 21z"/>
<path d="M4709 1112l71 -21M4835 1059l-55 32"/>
<path class="c48" d="M4153 1331l72 -36 -55 -47 -71 71z"/>
<path d="M4099 1319l71 -71"/>
<path class="c22" d="M720 1962l71 -27 -55 -16 -71 1z"/>
<path d="M665 1920l71 -1M791 1935l-55 -16"/>
<path class="c22" d="M2899 1982l72 -6 -55 5 -71 -81z"/>
<path d="M2845 1900l71 81M2971 1976l-55 5"/>
<path class="c50" d="M4296 1261l72 -70 -55 0 -71 -45z"/>
<path d="M4242 1146l71 45M4368 1191l-55 0"/>
<path class="c19" d="M2054 2052l71 30 -55 -119 -71 67z"/>
<path d="M1999 2030l71 -67M2125 2082l-55 -119"/>
<path class="c30" d="M3383 1762l72 -27 -55 -62 -71 58z"/>
<path d="M3329 1731l71 -58M3383 1762l-54 -31M3455 1735l-55 -62"/>
<path class="c62" d="M5159 1001l72 35 -55 -61 -72 46z"/>
<path d="M5104 1021l72 -46M5231 1036l-55 -61"/>
<path class="c35" d="M3724 1639l72 -13 -55 -105 -72 58z"/>
<path d="M3669 1579l72 -58M3724 1639l-55 -60"/>
<path class="c13" d="M1586 2187l72 -56 -55 -21 -71 56z"/>
<path d="M1532 2166l71 -56"/>
<path class="c14" d="M1982 2159l72 -107 -55 -22 -72 47z"/>
<path d="M1927 2077l72 -47M2054 2052l-55 -22"/>
<path class="c19" d="M1027 2046l71 -14 -54 -4 -72 -40z"/>
<path d="M972 1988l72 40M1098 2032l-54 -4"/>
<path class="c21" d="M522 1992l71 -19 -54 -54 -72 49z"/>
<path d="M467 1968l72 -49M522 1992l-55 -24M593 1973l-54 -54"/>
<path class="c20" d="M901 2035l71 -47 -55 0 -71 30z"/>
<path d="M846 2018l71 -30M972 1988l-55 0"/>
<path class="c17" d="M2432 2104l72 -66 -55 -1 -71 72z"/>
<path d="M2378 2109l71 -72M2504 2038l-55 -1"/>
<path class="c29" d="M3240 1812l72 65 -55 -109 -72 54z"/>
<path d="M3185 1822l72 -54M3312 1877l-55 -109"/>
<path class="c15" d="M1460 2152l72 14 -55 -24 -72 -82z"/>
<path d="M1405 2060l72 82M1532 2166l-55 -24"/>
<path class="c31" d="M3510 1744l71 20 -55 -67 -71 38z"/>
<path d="M3455 1735l71 -38M3581 1764l-55 -67"/>
<path class="c62" d="M5285 1005l72 15 -55 -13 -71 29z"/>
<path d="M5231 1036l71 -29"/>
<path class="c49" d="M4225 1295l71 -34 -54 -115 -72 102z"/>
<path d="M4170 1248l72 -102M4225 1295l-55 -47M4296 1261l-54 -115"/>
<path class="c59" d="M4961 1054l72 -21 -55 -39 -71 61z"/>
<path d="M4907 1055l71 -61M5033 1033l-55 -39"/>
<path class="c20" d="M774 2021l72 -3 -55 -83 -71 27z"/>
<path d="M720 1962l71 -27M846 2018l-55 -83"/>
<path class="c19" d="M1153 2058l72 -10 -55 -72 -72 56z"/>
<path d="M1098 2032l72 -56M1225 2048l-55 -72"/>
<path class="c16" d="M1658 2131l72 -29 -55 -96 -72 104z"/>
<path d="M1603 2110l72 -104M1658 2131l-55 -21M1730 2102l-55 -96"/>
<path class="c54" d="M4566 1165l71 -115 -54 13 -72 47z"/>
<path d="M4511 1110l72 -47M4637 1050l-54 13"/>
<path class="c19" d="M1208 2072l71 107 -54 -131 -72 10z"/>
<path d="M1153 2058l72 -10M1279 2179l-54 -131"/>
<path class="c20" d="M2702 2025l71 -95 -55 -16 -71 119z"/>
<path d="M2647 2033l71 -119"/>
<path class="c56" d="M5088 1109l71 -108 -55 20 -71 12z"/>
<path d="M5033 1033l71 -12M5159 1001l-55 20"/>
<path class="c50" d="M4082 1295l71 36 -54 -12 -72 47z"/>
<path d="M4027 1366l72 -47M4153 1331l-54 -12"/>
<path class="c35" d="M3796 1626l71 -131 -54 -38 -72 64z"/>
<path d="M3741 1521l72 -64M3796 1626l-55 -105"/>
<path class="c16" d="M2234 2125l72 -25 -55 -48 -71 44z"/>
<path d="M2180 2096l71 -44M2306 2100l-55 -48"/>
<path class="c21" d="M648 1995l72 -33 -55 -42 -72 53z"/>
<path d="M593 1973l72 -53M720 1962l-55 -42"/>
<path class="c14" d="M1784 2161l72 -116 -55 34 -71 23z"/>
<path d="M1730 2102l71 -23M1856 2045l-55 34"/>
<path class="c17" d="M2361 2114l71 -10 -54 5 -72 -9z"/>
<path d="M2306 2100l72 9M2432 2104l-54 5"/>
<path class="c21" d="M2630 2012l72 13 -55 8 -72 -13z"/>
<path d="M2575 2020l72 13M2702 2025l-55 8"/>
<path class="c17" d="M1262 2126l72 82 -55 -29 -71 -107z"/>
<path d="M1208 2072l71 107M1334 2208l-55 -29"/>
<path class="c18" d="M829 2074l72 -39 -55 -17 -72 3z"/>
<path d="M774 2021l72 -3M901 2035l-55 -17"/>
<path class="c43" d="M4010 1448l72 -153 -55 71 -71 8z"/>
<path d="M3956 1374l71 -8M4082 1295l-55 71"/>
<path class="c57" d="M4890 1107l71 -53 -54 1 -72 4z"/>
<path d="M4835 1059l72 -4M4961 1054l-54 1"/>
<path class="c56" d="M4494 1140l72 25 -55 -55 -71 20z"/>
<path d="M4440 1130l71 -20M4566 1165l-55 -55"/>
<path class="c28" d="M3366 1827l72 -41 -55 -24 -71 115z"/>
<path d="M3312 1877l71 -115"/>
<path class="c15" d="M1713 2152l71 9 -54 -59 -72 29z"/>
<path d="M1658 2131l72 -29M1784 2161l-54 -59"/>
<path class="c20" d="M2108 2040l72 56 -55 -14 -71 -30z"/>
<path d="M2054 2052l71 30M2180 2096l-55 -14"/>
<path class="c17" d="M1081 2109l72 -51 -55 -26 -71 14z"/>
<path d="M1027 2046l71 -14M1153 2058l-55 -26"/>
<path class="c15" d="M1515 2176l71 11 -54 -21 -72 -14z"/>
<path d="M1460 2152l72 14M1586 2187l-54 -21"/>
<path class="c13" d="M1389 2199l71 -47 -55 -92 -71 148z"/>
<path d="M1334 2208l71 -148M1460 2152l-55 -92"/>
<path class="c28" d="M3169 1851l71 -39 -55 10 -71 63z"/>
<path d="M3114 1885l71 -63M3240 1812l-55 10"/>
<path class="c24" d="M2773 1930l72 -30 -55 -1 -72 15z"/>
<path d="M2718 1914l72 -15M2773 1930l-55 -16M2845 1900l-55 -1"/>
<path class="c30" d="M3438 1786l72 -42 -55 -9 -72 27z"/>
<path d="M3383 1762l72 -27M3438 1786l-55 -24M3510 1744l-55 -9"/>
<path class="c11" d="M1641 2254l72 -102 -55 -21 -72 56z"/>
<path d="M1586 2187l72 -56M1713 2152l-55 -21"/>
<path class="c17" d="M955 2094l72 -48 -55 -58 -71 47z"/>
<path d="M901 2035l71 -47M1027 2046l-55 -58"/>
<path class="c25" d="M3097 1906l72 -55 -55 34 -72 12z"/>
<path d="M3042 1897l72 -12M3169 1851l-55 34"/>
<path class="c22" d="M576 2002l72 -7 -55 -22 -71 19z"/>
<path d="M522 1992l71 -19M576 2002l-54 -10M648 1995l-55 -22"/>
<path class="c27" d="M3295 1873l71 -46 -54 50 -72 -65z"/>
<path d="M3240 1812l72 65M3366 1827l-54 50"/>
<path class="c24" d="M3026 1946l71 -40 -55 -9 -71 79z"/>
<path d="M2971 1976l71 -79M3097 1906l-55 -9"/>
<path class="c53" d="M4423 1213l71 -73 -54 -10 -72 61z"/>
<path d="M4368 1191l72 -61M4494 1140l-54 -10"/>
<path class="c19" d="M1910 2068l72 91 -55 -82 -71 -32z"/>
<path d="M1856 2045l71 32M1982 2159l-55 -82"/>
<path class="c38" d="M3850 1585l72 -38 -55 -52 -71 131z"/>
<path d="M3796 1626l71 -131"/>
<path class="c38" d="M3779 1598l71 -13 -54 41 -72 13z"/>
<path d="M3724 1639l72 -13M3850 1585l-54 41"/>
<path class="c14" d="M2289 2182l72 -68 -55 -14 -72 25z"/>
<path d="M2234 2125l72 -25M2361 2114l-55 -14"/>
<path class="c58" d="M4692 1103l72 -39 -55 48 -72 -62z"/>
<path d="M4637 1050l72 62M4764 1064l-55 48"/>
<path class="c48" d="M3939 1366l71 82 -54 -74 -72 28z"/>
<path d="M3884 1402l72 -28M4010 1448l-54 -74"/>
<path class="c60" d="M5016 1050l72 59 -55 -76 -72 21z"/>
<path d="M4961 1054l72 -21M5088 1109l-55 -76"/>
<path class="c20" d="M2828 2027l71 -45 -54 -82 -72 30z"/>
<path d="M2773 1930l72 -30M2899 1982l-54 -82"/>
<path class="c17" d="M1010 2113l71 -4 -54 -63 -72 48z"/>
<path d="M955 2094l72 -48M1081 2109l-54 -63"/>
<path class="c16" d="M2037 2128l71 -88 -54 12 -72 107z"/>
<path d="M1982 2159l72 -107M2108 2040l-54 12"/>
<path class="c20" d="M2756 2041l72 -14 -55 -97 -71 95z"/>
<path d="M2702 2025l71 -95M2828 2027l-55 -97"/>
<path class="c60" d="M5214 1044l71 -39 -54 31 -72 -35z"/>
<path d="M5159 1001l72 35M5285 1005l-54 31"/>
<path class="c56" d="M4351 1169l72 44 -55 -22 -72 70z"/>
<path d="M4296 1261l72 -70M4423 1213l-55 -22"/>
<path class="c22" d="M703 1990l71 31 -54 -59 -72 33z"/>
<path d="M648 1995l72 -33M774 2021l-54 -59"/>
<path class="c43" d="M4065 1460l72 -41 -55 -124 -72 153z"/>
<path d="M4010 1448l72 -153"/>
<path class="c35" d="M3707 1670l72 -72 -55 41 -71 64z"/>
<path d="M3653 1703l71 -64M3779 1598l-55 41"/>
<path class="c13" d="M1965 2204l72 -76 -55 31 -72 -91z"/>
<path d="M1910 2068l72 91M2037 2128l-55 31"/>
<path class="c15" d="M1317 2184l72 15 -55 9 -72 -82z"/>
<path d="M1262 2126l72 82M1389 2199l-55 9"/>
<path class="c47" d="M4208 1359l72 -126 -55 62 -72 36z"/>
<path d="M4153 1331l72 -36"/>
<path class="c36" d="M3636 1663l71 7 -54 33 -72 61z"/>
<path d="M3581 1764l72 -61M3707 1670l-54 33"/>
<path class="c13" d="M1570 2212l71 42 -55 -67 -71 -11z"/>
<path d="M1515 2176l71 11M1641 2254l-55 -67"/>
<path class="c15" d="M2163 2148l71 -23 -54 -29 -72 -56z"/>
<path d="M2108 2040l72 56M2234 2125l-54 -29"/>
<path class="c45" d="M4137 1419l71 -60 -55 -28 -71 -36z"/>
<path d="M4082 1295l71 36M4137 1419l-55 -124M4208 1359l-55 -28"/>
<path class="c53" d="M4549 1222l71 -78 -54 21 -72 -25z"/>
<path d="M4494 1140l72 25"/>
<path class="c17" d="M2685 2104l71 -63 -54 -16 -72 -13z"/>
<path d="M2630 2012l72 13M2756 2041l-54 -16"/>
<path class="c25" d="M2954 1942l72 4 -55 30 -72 6z"/>
<path d="M2899 1982l72 -6M3026 1946l-55 30"/>
<path class="c56" d="M4620 1144l72 -41 -55 -53 -71 115z"/>
<path d="M4566 1165l71 -115M4620 1144l-54 21M4692 1103l-55 -53"/>
<path class="c42" d="M3867 1495l72 -129 -55 36 -71 55z"/>
<path d="M3813 1457l71 -55M3867 1495l-54 -38M3939 1366l-55 36"/>
<path class="c21" d="M884 2039l71 55 -54 -59 -72 39z"/>
<path d="M829 2074l72 -39M955 2094l-54 -59"/>
<path class="c14" d="M1767 2185l72 -26 -55 2 -71 -9z"/>
<path d="M1713 2152l71 9"/>
<path class="c11" d="M1696 2259l71 -74 -54 -33 -72 102z"/>
<path d="M1641 2254l72 -102M1767 2185l-54 -33"/>
<path class="c15" d="M2218 2177l71 5 -55 -57 -71 23z"/>
<path d="M2163 2148l71 -23M2289 2182l-55 -57"/>
<path class="c56" d="M4944 1149l72 -99 -55 4 -71 53z"/>
<path d="M4890 1107l71 -53M5016 1050l-55 4"/>
<path class="c63" d="M5340 995l72 68 -55 -43 -72 -15z"/>
<path d="M5285 1005l72 15"/>
<path class="c60" d="M5142 1056l72 -12 -55 -43 -71 108z"/>
<path d="M5088 1109l71 -108M5214 1044l-55 -43"/>
<path class="c22" d="M2558 2013l72 -1 -55 8 -71 18z"/>
<path d="M2504 2038l71 -18M2630 2012l-55 8"/>
<path class="c53" d="M4280 1233l71 -64 -55 92 -71 34z"/>
<path d="M4225 1295l71 -34M4280 1233l-55 62M4351 1169l-55 92"/>
<path class="c60" d="M4818 1055l72 52 -55 -48 -71 5z"/>
<path d="M4764 1064l71 -5M4890 1107l-55 -48"/>
<path class="c15" d="M1839 2159l71 -91 -54 -23 -72 116z"/>
<path d="M1784 2161l72 -116M1839 2159l-55 2M1910 2068l-54 -23"/>
<path class="c19" d="M1136 2086l72 -14 -55 -14 -72 51z"/>
<path d="M1081 2109l72 -51M1208 2072l-55 -14"/>
<path class="c20" d="M757 2058l72 16 -55 -53 -71 -31z"/>
<path d="M703 1990l71 31M829 2074l-55 -53"/>
<path class="c32" d="M3564 1748l72 -85 -55 101 -71 -20z"/>
<path d="M3510 1744l71 20M3636 1663l-55 101"/>
<path class="c53" d="M4477 1220l72 2 -55 -82 -71 73z"/>
<path d="M4423 1213l71 -73M4549 1222l-55 -82"/>
<path class="c25" d="M3223 1906l72 -33 -55 -61 -71 39z"/>
<path d="M3169 1851l71 -39M3295 1873l-55 -61"/>
<path class="c44" d="M3993 1444l72 16 -55 -12 -71 -82z"/>
<path d="M3939 1366l71 82M4065 1460l-55 -12"/>
<path class="c18" d="M2487 2092l71 -79 -54 25 -72 66z"/>
<path d="M2432 2104l72 -66M2558 2013l-54 25"/>
<path class="c17" d="M1443 2151l72 25 -55 -24 -71 47z"/>
<path d="M1389 2199l71 -47M1515 2176l-55 -24"/>
<path class="c17" d="M2415 2130l72 -38 -55 12 -71 10z"/>
<path d="M2361 2114l71 -10M2487 2092l-55 12"/>
<path class="c56" d="M5395 1133l71 -44 -54 -26 -72 -68z"/>
<path d="M5340 995l72 68"/>
<path class="c14" d="M2091 2191l72 -43 -55 -108 -71 88z"/>
<path d="M2037 2128l71 -88M2163 2148l-55 -108"/>
<path class="c14" d="M2344 2196l71 -66 -54 -16 -72 68z"/>
<path d="M2289 2182l72 -68M2415 2130l-54 -16"/>
<path class="c25" d="M3350 1921l71 -67 -55 -27 -71 46z"/>
<path d="M3295 1873l71 -46"/>
<path class="c16" d="M2020 2164l71 27 -54 -63 -72 76z"/>
<path d="M1965 2204l72 -76M2091 2191l-54 -63"/>
<path class="c23" d="M2882 1982l72 -40 -55 40 -71 45z"/>
<path d="M2828 2027l71 -45M2954 1942l-55 40"/>
<path class="c16" d="M1065 2154l71 -68 -55 23 -71 4z"/>
<path d="M1010 2113l71 -4M1136 2086l-55 23"/>
<path class="c56" d="M5449 1155l72 -18 -55 -48 -71 44z"/>
<path d="M5395 1133l71 -44"/>
<path class="c21" d="M631 2038l72 -48 -55 5 -72 7z"/>
<path d="M576 2002l72 -7M631 2038l-55 -36M703 1990l-55 5"/>
<path class="c31" d="M3493 1781l71 -33 -54 -4 -72 42z"/>
<path d="M3438 1786l72 -42M3564 1748l-54 -4"/>
<path class="c58" d="M5071 1113l71 -57 -54 53 -72 -59z"/>
<path d="M5016 1050l72 59M5142 1056l-54 53"/>
<path class="c28" d="M3421 1854l72 -73 -55 5 -72 41z"/>
<path d="M3366 1827l72 -41M3421 1854l-55 -27M3493 1781l-55 5"/>
<path class="c56" d="M4873 1149l71 0 -54 -42 -72 -52z"/>
<path d="M4818 1055l72 52M4944 1149l-54 -42"/>
<path class="c14" d="M2146 2206l72 -29 -55 -29 -72 43z"/>
<path d="M2091 2191l72 -43M2218 2177l-55 -29"/>
<path class="c14" d="M1624 2211l72 48 -55 -5 -71 -42z"/>
<path d="M1570 2212l71 42M1696 2259l-55 -5"/>
<path class="c40" d="M3922 1547l71 -103 -54 -78 -72 129z"/>
<path d="M3867 1495l72 -129M3922 1547l-55 -52M3993 1444l-54 -78"/>
<path class="c48" d="M4191 1369l72 -16 -55 6 -71 60z"/>
<path d="M4137 1419l71 -60"/>
<path class="c27" d="M3152 1890l71 16 -54 -55 -72 55z"/>
<path d="M3097 1906l72 -55M3223 1906l-54 -55"/>
<path class="c50" d="M4406 1293l71 -73 -54 -7 -72 -44z"/>
<path d="M4351 1169l72 44M4477 1220l-54 -7"/>
<path class="c45" d="M4120 1440l71 -71 -54 50 -72 41z"/>
<path d="M4065 1460l72 -41M4191 1369l-54 50"/>
<path class="c55" d="M5197 1162l72 -82 -55 -36 -72 12z"/>
<path d="M5142 1056l72 -12"/>
<path class="c55" d="M4604 1203l71 -24 -55 -35 -71 78z"/>
<path d="M4549 1222l71 -78"/>
<path class="c19" d="M2613 2075l72 29 -55 -92 -72 1z"/>
<path d="M2558 2013l72 -1M2685 2104l-55 -92"/>
<path class="c54" d="M5378 1209l71 -54 -54 -22 -72 16z"/>
<path d="M5449 1155l-54 -22"/>
<path class="c16" d="M2272 2179l72 17 -55 -14 -71 -5z"/>
<path d="M2218 2177l71 5M2344 2196l-55 -14"/>
<path class="c59" d="M5269 1080l71 -85 -55 10 -71 39z"/>
<path d="M5214 1044l71 -39M5269 1080l-55 -36M5340 995l-55 10"/>
<path class="c55" d="M4675 1179l72 -66 -55 -10 -72 41z"/>
<path d="M4620 1144l72 -41M4675 1179l-55 -35"/>
<path class="c10" d="M1498 2286l72 -74 -55 -36 -72 -25z"/>
<path d="M1443 2151l72 25M1570 2212l-55 -36"/>
<path class="c23" d="M2811 2005l71 -23 -54 45 -72 14z"/>
<path d="M2756 2041l72 -14M2882 1982l-54 45"/>
<path class="c57" d="M4999 1142l72 -29 -55 -63 -72 99z"/>
<path d="M4944 1149l72 -99M5071 1113l-55 -63"/>
<path class="c58" d="M4747 1113l71 -58 -54 9 -72 39z"/>
<path d="M4692 1103l72 -39M4747 1113l-55 -10M4818 1055l-54 9"/>
<path class="c16" d="M1191 2157l71 -31 -54 -54 -72 14z"/>
<path d="M1136 2086l72 -14M1262 2126l-54 -54"/>
<path class="c19" d="M812 2092l72 -53 -55 35 -72 -16z"/>
<path d="M757 2058l72 16M884 2039l-55 35"/>
<path class="c20" d="M938 2068l72 45 -55 -19 -71 -55z"/>
<path d="M884 2039l71 55M1010 2113l-55 -19"/>
<path class="c24" d="M3080 1960l72 -70 -55 16 -71 40z"/>
<path d="M3026 1946l71 -40M3152 1890l-55 16"/>
<path class="c40" d="M3977 1551l71 -55 -55 -52 -71 103z"/>
<path d="M3922 1547l71 -103"/>
<path class="c43" d="M4048 1496l72 -56 -55 20 -72 -16z"/>
<path d="M3993 1444l72 16M4048 1496l-55 -52M4120 1440l-55 20"/>
<path class="c41" d="M3905 1551l72 0 -55 -4 -72 38z"/>
<path d="M3850 1585l72 -38M3977 1551l-55 -4"/>
<path class="c56" d="M5323 1149l72 -16 -55 -138 -71 85z"/>
<path d="M5323 1149l72 -16M5269 1080l71 -85M5395 1133l-55 -138"/>
<path class="c29" d="M3278 1856l72 65 -55 -48 -72 33z"/>
<path d="M3223 1906l72 -33M3350 1921l-55 -48"/>
<path class="c20" d="M1894 2090l71 114 -55 -136 -71 91z"/>
<path d="M1839 2159l71 -91M1965 2204l-55 -136"/>
<path class="c19" d="M2739 2077l72 -72 -55 36 -71 63z"/>
<path d="M2685 2104l71 -63M2811 2005l-55 36"/>
<path class="c15" d="M1372 2199l71 -48 -54 48 -72 -15z"/>
<path d="M1317 2184l72 15M1443 2151l-54 48"/>
<path class="c55" d="M5504 1184l72 -1 -55 -46 -72 18z"/>
<path d="M5449 1155l72 -18"/>
<path class="c14" d="M1246 2199l71 -15 -55 -58 -71 31z"/>
<path d="M1191 2157l71 -31M1317 2184l-55 -58"/>
<path class="c11" d="M1822 2270l72 -180 -55 69 -72 26z"/>
<path d="M1767 2185l72 -26M1894 2090l-55 69"/>
<path class="c48" d="M4263 1353l71 -74 -54 -46 -72 126z"/>
<path d="M4208 1359l72 -126M4263 1353l-55 6"/>
<path class="c12" d="M2075 2260l71 -54 -55 -15 -71 -27z"/>
<path d="M2020 2164l71 27M2146 2206l-55 -15"/>
<path class="c56" d="M4928 1164l71 -22 -55 7 -71 0z"/>
<path d="M4873 1149l71 0M4999 1142l-55 7"/>
<path class="c17" d="M1751 2174l71 96 -55 -85 -71 74z"/>
<path d="M1696 2259l71 -74M1822 2270l-55 -85"/>
<path class="c58" d="M5125 1116l72 46 -55 -106 -71 57z"/>
<path d="M5071 1113l71 -57M5197 1162l-55 -106"/>
<path class="c21" d="M686 2049l71 9 -54 -68 -72 48z"/>
<path d="M631 2038l72 -48M686 2049l-55 -11M757 2058l-54 -68"/>
<path class="c59" d="M5252 1105l71 44 -54 -69 -72 82z"/>
<path d="M5197 1162l72 -82M5323 1149l-54 -69"/>
<path class="c11" d="M1553 2287l71 -76 -54 1 -72 74z"/>
<path d="M1498 2286l72 -74M1624 2211l-54 1"/>
<path class="c16" d="M993 2161l72 -7 -55 -41 -72 -45z"/>
<path d="M938 2068l72 45M1065 2154l-55 -41"/>
<path class="c23" d="M3009 1981l71 -21 -54 -14 -72 -4z"/>
<path d="M2954 1942l72 4M3080 1960l-54 -14"/>
<path class="c56" d="M4532 1194l72 9 -55 19 -72 -2z"/>
<path d="M4477 1220l72 2M4604 1203l-55 19"/>
<path class="c52" d="M4334 1279l72 14 -55 -124 -71 64z"/>
<path d="M4280 1233l71 -64M4334 1279l-54 -46M4406 1293l-55 -124"/>
<path class="c17" d="M1119 2145l72 12 -55 -71 -71 68z"/>
<path d="M1065 2154l71 -68M1191 2157l-55 -71"/>
<path class="c13" d="M1948 2231l72 -67 -55 40 -71 -114z"/>
<path d="M1894 2090l71 114M2020 2164l-55 40"/>
<path class="c19" d="M2542 2092l71 -17 -55 -62 -71 79z"/>
<path d="M2487 2092l71 -79M2613 2075l-55 -62"/>
<path class="c28" d="M3476 1866l71 -45 -54 -40 -72 73z"/>
<path d="M3421 1854l72 -73"/>
<path class="c13" d="M2201 2240l71 -61 -54 -2 -72 29z"/>
<path d="M2146 2206l72 -29M2272 2179l-54 -2"/>
<path class="c54" d="M5433 1223l71 -39 -55 -29 -71 54z"/>
<path d="M5378 1209l71 -54M5504 1184l-55 -29"/>
<path class="c17" d="M2470 2149l72 -57 -55 0 -72 38z"/>
<path d="M2415 2130l72 -38M2542 2092l-55 0"/>
<path class="c36" d="M3762 1669l72 -89 -55 18 -72 72z"/>
<path d="M3707 1670l72 -72"/>
<path class="c40" d="M3834 1580l71 -29 -55 34 -71 13z"/>
<path d="M3779 1598l71 -13M3834 1580l-55 18M3905 1551l-55 34"/>
<path class="c13" d="M1426 2243l72 43 -55 -135 -71 48z"/>
<path d="M1372 2199l71 -48M1498 2286l-55 -135"/>
<path class="c22" d="M2668 2046l71 31 -54 27 -72 -29z"/>
<path d="M2613 2075l72 29M2739 2077l-54 27"/>
<path class="c18" d="M741 2118l71 -26 -55 -34 -71 -9z"/>
<path d="M686 2049l71 9M741 2118l-55 -69M812 2092l-55 -34"/>
<path class="c17" d="M2399 2163l71 -14 -55 -19 -71 66z"/>
<path d="M2344 2196l71 -66M2470 2149l-55 -19"/>
<path class="c30" d="M3404 1851l72 15 -55 -12 -71 67z"/>
<path d="M3350 1921l71 -67M3476 1866l-55 -12"/>
<path class="c13" d="M2003 2252l72 8 -55 -96 -72 67z"/>
<path d="M1948 2231l72 -67M2075 2260l-55 -96"/>
<path class="c52" d="M4658 1265l72 -82 -55 -4 -71 24z"/>
<path d="M4604 1203l71 -24"/>
<path class="c13" d="M2129 2255l72 -15 -55 -34 -71 54z"/>
<path d="M2075 2260l71 -54M2201 2240l-55 -34"/>
<path class="c30" d="M3547 1821l72 -94 -55 21 -71 33z"/>
<path d="M3493 1781l71 -33M3547 1821l-54 -40"/>
<path class="c14" d="M1048 2211l71 -66 -54 9 -72 7z"/>
<path d="M993 2161l72 -7M1119 2145l-54 9"/>
<path class="c55" d="M5306 1200l72 9 -55 -60 -71 -44z"/>
<path d="M5252 1105l71 44M5378 1209l-55 -60"/>
<path class="c53" d="M4461 1247l71 -53 -55 26 -71 73z"/>
<path d="M4406 1293l71 -73M4532 1194l-55 26"/>
<path class="c36" d="M3690 1673l72 -4 -55 1 -71 -7z"/>
<path d="M3636 1663l71 7M3762 1669l-55 1"/>
<path class="c56" d="M5054 1166l71 -50 -54 -3 -72 29z"/>
<path d="M4999 1142l72 -29M5125 1116l-54 -3"/>
<path class="c15" d="M1300 2200l72 -1 -55 -15 -71 15z"/>
<path d="M1246 2199l71 -15M1372 2199l-55 -15"/>
<path class="c22" d="M2937 2024l72 -43 -55 -39 -72 40z"/>
<path d="M2882 1982l72 -40M3009 1981l-55 -39"/>
<path class="c52" d="M5361 1274l72 -51 -55 -14 -72 -9z"/>
<path d="M5306 1200l72 9M5433 1223l-55 -14"/>
<path class="c22" d="M3135 2007l72 -85 -55 -32 -72 70z"/>
<path d="M3080 1960l72 -70"/>
<path class="c46" d="M4174 1442l72 26 -55 -99 -71 71z"/>
<path d="M4120 1440l71 -71"/>
<path class="c61" d="M4801 1076l72 73 -55 -94 -71 58z"/>
<path d="M4747 1113l71 -58M4873 1149l-55 -94"/>
<path class="c26" d="M3207 1922l71 -66 -55 50 -71 -16z"/>
<path d="M3152 1890l71 16M3207 1922l-55 -32M3278 1856l-55 50"/>
<path class="c56" d="M5180 1187l72 -82 -55 57 -72 -46z"/>
<path d="M5125 1116l72 46M5252 1105l-55 57"/>
<path class="c51" d="M4389 1299l72 -52 -55 46 -72 -14z"/>
<path d="M4334 1279l72 14M4461 1247l-55 46"/>
<path class="c14" d="M1481 2246l72 41 -55 -1 -72 -43z"/>
<path d="M1426 2243l72 43M1553 2287l-55 -1"/>
<path class="c14" d="M2327 2226l72 -63 -55 33 -72 -17z"/>
<path d="M2272 2179l72 17M2399 2163l-55 33"/>
<path class="c16" d="M1877 2186l71 45 -54 -141 -72 180z"/>
<path d="M1822 2270l72 -180M1948 2231l-54 -141"/>
<path class="c44" d="M4246 1468l71 -164 -54 49 -72 16z"/>
<path d="M4191 1369l72 -16M4246 1468l-55 -99"/>
<path class="c51" d="M4587 1299l71 -34 -54 -62 -72 -9z"/>
<path d="M4532 1194l72 9M4658 1265l-54 -62"/>
<path class="c19" d="M867 2095l71 -27 -54 -29 -72 53z"/>
<path d="M812 2092l72 -53M938 2068l-54 -29"/>
<path class="c17" d="M1174 2167l72 32 -55 -42 -72 -12z"/>
<path d="M1119 2145l72 12M1246 2199l-55 -42"/>
<path class="c55" d="M4982 1206l72 -40 -55 -24 -71 22z"/>
<path d="M4928 1164l71 -22M5054 1166l-55 -24"/>
<path class="c57" d="M5559 1172l71 8 -54 3 -72 1z"/>
<path d="M5504 1184l72 -1"/>
<path class="c34" d="M3619 1727l71 -54 -54 -10 -72 85z"/>
<path d="M3564 1748l72 -85M3619 1727l-55 21M3690 1673l-54 -10"/>
<path class="c13" d="M1679 2259l72 -85 -55 85 -72 -48z"/>
<path d="M1624 2211l72 48M1751 2174l-55 85"/>
<path class="c38" d="M3960 1615l71 -58 -54 -6 -72 0z"/>
<path d="M3905 1551l72 0"/>
<path class="c24" d="M3063 1986l72 21 -55 -47 -71 21z"/>
<path d="M3009 1981l71 -21M3135 2007l-55 -47"/>
<path class="c56" d="M4730 1183l71 -107 -54 37 -72 66z"/>
<path d="M4675 1179l72 -66M4730 1183l-55 -4M4801 1076l-54 37"/>
<path class="c9" d="M1607 2335l72 -76 -55 -48 -71 76z"/>
<path d="M1553 2287l71 -76M1679 2259l-55 -48"/>
<path class="c24" d="M3333 1963l71 -112 -54 70 -72 -65z"/>
<path d="M3278 1856l72 65M3404 1851l-54 70"/>
<path class="c41" d="M4031 1557l72 -95 -55 34 -71 55z"/>
<path d="M3977 1551l71 -55M4031 1557l-54 -6"/>
<path class="c17" d="M795 2160l72 -65 -55 -3 -71 26z"/>
<path d="M741 2118l71 -26M795 2160l-54 -42M867 2095l-55 -3"/>
<path class="c53" d="M5109 1243l71 -56 -55 -71 -71 50z"/>
<path d="M5054 1166l71 -50M5180 1187l-55 -71"/>
<path class="c22" d="M2866 2036l71 -12 -55 -42 -71 23z"/>
<path d="M2811 2005l71 -23M2937 2024l-55 -42"/>
<path class="c18" d="M2794 2124l72 -88 -55 -31 -72 72z"/>
<path d="M2739 2077l72 -72M2866 2036l-55 -31"/>
<path class="c50" d="M5668 1341l72 -46 -55 -25 -71 25z"/>
<path class="c11" d="M1805 2300l72 -114 -55 84 -71 -96z"/>
<path d="M1751 2174l71 96M1877 2186l-55 84"/>
<path class="c28" d="M3531 1889l71 -36 -55 -32 -71 45z"/>
<path d="M3476 1866l71 -45"/>
<path class="c15" d="M922 2185l71 -24 -55 -93 -71 27z"/>
<path d="M867 2095l71 -27M993 2161l-55 -93"/>
<path class="c45" d="M4103 1462l71 -20 -54 -2 -72 56z"/>
<path d="M4048 1496l72 -56M4103 1462l-55 34M4174 1442l-54 -2"/>
<path class="c12" d="M2058 2274l71 -19 -54 5 -72 -8z"/>
<path d="M2003 2252l72 8M2129 2255l-54 5"/>
<path class="c56" d="M4856 1182l72 -18 -55 -15 -72 -73z"/>
<path d="M4801 1076l72 73M4928 1164l-55 -15"/>
<path class="c52" d="M4317 1304l72 -5 -55 -20 -71 74z"/>
<path d="M4263 1353l71 -74M4317 1304l-54 49M4389 1299l-55 -20"/>
<path class="c16" d="M2525 2179l71 -44 -54 -43 -72 57z"/>
<path d="M2470 2149l72 -57"/>
<path class="c53" d="M5235 1249l71 -49 -54 -95 -72 82z"/>
<path d="M5180 1187l72 -82M5306 1200l-54 -95"/>
<path class="c8" d="M1788 2371l72 -13 -55 -58 -71 31z"/>
<path class="c51" d="M5614 1295l71 -25 -55 -90 -71 -8z"/>
<path d="M5614 1295l71 -25M5559 1172l71 8"/>
<path class="c29" d="M3602 1853l72 -47 -55 -79 -72 94z"/>
<path d="M3547 1821l72 -94M3602 1853l-55 -32"/>
<path class="c12" d="M2453 2257l72 -78 -55 -30 -71 14z"/>
<path d="M2399 2163l71 -14M2525 2179l-55 -30"/>
<path class="c12" d="M1355 2278l71 -35 -54 -44 -72 1z"/>
<path d="M1300 2200l72 -1M1426 2243l-54 -44"/>
<path class="c18" d="M2596 2135l72 -89 -55 29 -71 17z"/>
<path d="M2542 2092l71 -17M2596 2135l-54 -43M2668 2046l-55 29"/>
<path class="c17" d="M976 2178l72 33 -55 -50 -71 24z"/>
<path d="M922 2185l71 -24M1048 2211l-55 -50"/>
<path class="c54" d="M5163 1247l72 2 -55 -62 -71 56z"/>
<path d="M5109 1243l71 -56M5235 1249l-55 -62"/>
<path class="c37" d="M3888 1659l72 -44 -55 -64 -71 29z"/>
<path d="M3834 1580l71 -29M3960 1615l-55 -64"/>
<path class="c53" d="M5290 1256l71 18 -55 -74 -71 49z"/>
<path d="M5235 1249l71 -49M5361 1274l-55 -74"/>
<path class="c12" d="M1102 2260l72 -93 -55 -22 -71 66z"/>
<path d="M1048 2211l71 -66M1174 2167l-55 -22"/>
<path class="c54" d="M4911 1235l71 -29 -54 -42 -72 18z"/>
<path d="M4856 1182l72 -18M4982 1206l-54 -42"/>
<path class="c24" d="M3261 1973l72 -10 -55 -107 -71 66z"/>
<path d="M3207 1922l71 -66M3333 1963l-55 -107"/>
<path class="c18" d="M2723 2135l71 -11 -55 -47 -71 -31z"/>
<path d="M2668 2046l71 31M2794 2124l-55 -47"/>
<path class="c13" d="M1931 2265l72 -13 -55 -21 -71 -45z"/>
<path d="M1877 2186l71 45M2003 2252l-55 -21"/>
<path class="c15" d="M2255 2209l72 17 -55 -47 -71 61z"/>
<path d="M2201 2240l71 -61M2327 2226l-55 -47"/>
<path class="c21" d="M2992 2049l71 -63 -54 -5 -72 43z"/>
<path d="M2937 2024l72 -43M3063 1986l-54 -5"/>
<path class="c10" d="M1734 2331l71 -31 -54 -126 -72 85z"/>
<path d="M1734 2331l71 -31M1679 2259l72 -85M1805 2300l-54 -126"/>
<path class="c37" d="M3943 1665l71 29 -54 -79 -72 44z"/>
<path d="M3888 1659l72 -44"/>
<path class="c13" d="M1229 2256l71 -56 -54 -1 -72 -32z"/>
<path d="M1174 2167l72 32M1300 2200l-54 -1"/>
<path class="c45" d="M5778 1465l71 -33 -55 -52 -71 -13z"/>
<path class="c49" d="M5723 1367l71 13 -54 -85 -72 46z"/>
<path d="M5723 1367l71 13M5668 1341l72 -46"/>
<path class="c24" d="M3190 1987l71 -14 -54 -51 -72 85z"/>
<path d="M3135 2007l72 -85M3261 1973l-54 -51"/>
<path class="c8" d="M1860 2358l71 -93 -54 -79 -72 114z"/>
<path d="M1805 2300l72 -114M1860 2358l-55 -58M1931 2265l-54 -79"/>
<path class="c11" d="M1536 2318l71 17 -54 -48 -72 -41z"/>
<path d="M1481 2246l72 41M1607 2335l-54 -48"/>
<path class="c10" d="M2184 2325l71 -116 -54 31 -72 15z"/>
<path d="M2129 2255l72 -15M2255 2209l-54 31"/>
<path class="c38" d="M3817 1646l71 13 -54 -79 -72 89z"/>
<path d="M3762 1669l72 -89M3888 1659l-54 -79"/>
<path class="c11" d="M1662 2316l72 15 -55 -72 -72 76z"/>
<path d="M1607 2335l72 -76M1734 2331l-55 -72"/>
<path class="c56" d="M5037 1195l72 48 -55 -77 -72 40z"/>
<path d="M4982 1206l72 -40M5109 1243l-55 -77"/>
<path class="c43" d="M5832 1510l72 -37 -55 -41 -71 33z"/>
<path d="M5778 1465l71 -33"/>
<path class="c50" d="M5597 1336l71 5 -54 -46 -72 35z"/>
<path d="M5668 1341l-54 -46"/>
<path class="c27" d="M3657 1898l71 -64 -54 -28 -72 47z"/>
<path d="M3602 1853l72 -47"/>
<path class="c17" d="M850 2169l72 16 -55 -90 -72 65z"/>
<path d="M795 2160l72 -65M850 2169l-55 -9M922 2185l-55 -90"/>
<path class="c35" d="M4014 1694l72 -159 -55 22 -71 58z"/>
<path d="M3960 1615l71 -58M4014 1694l-54 -79"/>
<path class="c21" d="M2920 2075l72 -26 -55 -25 -71 12z"/>
<path d="M2866 2036l71 -12M2992 2049l-55 -25"/>
<path class="c30" d="M3728 1834l72 13 -55 -160 -71 119z"/>
<path d="M3728 1834l-54 -28"/>
<path class="c14" d="M2777 2215l72 -114 -55 23 -71 11z"/>
<path d="M2723 2135l71 -11"/>
<path class="c38" d="M5942 1631l71 -19 -54 -79 -72 53z"/>
<path class="c52" d="M5416 1281l71 -105 -54 47 -72 51z"/>
<path d="M5361 1274l72 -51"/>
<path class="c40" d="M5887 1586l72 -53 -55 -60 -72 37z"/>
<path d="M5887 1586l72 -53M5832 1510l72 -37"/>
<path class="c57" d="M5487 1176l72 -4 -55 12 -71 39z"/>
<path d="M5433 1223l71 -39M5487 1176l-54 47M5559 1172l-55 12"/>
<path class="c11" d="M1410 2312l71 -66 -55 -3 -71 35z"/>
<path d="M1355 2278l71 -35M1481 2246l-55 -3"/>
<path class="c13" d="M1157 2266l72 -10 -55 -89 -72 93z"/>
<path d="M1102 2260l72 -93M1229 2256l-55 -89"/>
<path class="c29" d="M3459 1884l72 5 -55 -23 -72 -15z"/>
<path d="M3404 1851l72 15M3531 1889l-55 -23"/>
<path class="c55" d="M4515 1238l72 61 -55 -105 -71 53z"/>
<path d="M4461 1247l71 -53M4587 1299l-55 -105"/>
<path class="c17" d="M2382 2185l71 72 -54 -94 -72 63z"/>
<path d="M2327 2226l72 -63M2453 2257l-54 -94"/>
<path class="c31" d="M3674 1806l71 -119 -55 -14 -71 54z"/>
<path d="M3674 1806l71 -119M3619 1727l71 -54M3674 1806l-55 -79"/>
<path class="c5" d="M1843 2442l72 -114 -55 30 -72 13z"/>
<path d="M1788 2371l72 -13"/>
<path class="c22" d="M3118 2038l72 -51 -55 20 -72 -21z"/>
<path d="M3063 1986l72 21M3190 1987l-55 20"/>
<path class="c56" d="M4713 1205l72 -31 -55 9 -72 82z"/>
<path d="M4658 1265l72 -82"/>
<path class="c54" d="M4642 1256l71 -51 -55 60 -71 34z"/>
<path d="M4587 1299l71 -34M4713 1205l-55 60"/>
<path class="c15" d="M1031 2217l71 43 -54 -49 -72 -33z"/>
<path d="M976 2178l72 33M1102 2260l-54 -49"/>
<path class="c37" d="M3745 1687l72 -41 -55 23 -72 4z"/>
<path d="M3690 1673l72 -4M3745 1687l-55 -14M3817 1646l-55 23"/>
<path class="c20" d="M2849 2101l71 -26 -54 -39 -72 88z"/>
<path d="M2794 2124l72 -88M2849 2101l-55 23M2920 2075l-54 -39"/>
<path class="c57" d="M4785 1174l71 8 -55 -106 -71 107z"/>
<path d="M4730 1183l71 -107M4785 1174l-55 9M4856 1182l-55 -106"/>
<path class="c50" d="M5542 1330l72 -35 -55 -123 -72 4z"/>
<path d="M5542 1330l72 -35M5487 1176l72 -4M5614 1295l-55 -123"/>
<path class="c8" d="M1717 2396l71 -25 -54 -40 -72 -15z"/>
<path d="M1662 2316l72 15M1788 2371l-54 -40"/>
<path class="c12" d="M1986 2288l72 -14 -55 -22 -72 13z"/>
<path d="M1931 2265l72 -13M2058 2274l-55 -22"/>
<path class="c8" d="M1591 2380l71 -64 -55 19 -71 -17z"/>
<path d="M1536 2318l71 17M1662 2316l-55 19"/>
<path class="c53" d="M5344 1284l72 -3 -55 -7 -71 -18z"/>
<path d="M5290 1256l71 18M5416 1281l-55 -7"/>
<path class="c50" d="M4301 1370l71 14 -55 -80 -71 164z"/>
<path d="M4246 1468l71 -164"/>
<path class="c26" d="M3387 1942l72 -58 -55 -33 -71 112z"/>
<path d="M3333 1963l71 -112M3459 1884l-55 -33"/>
<path class="c19" d="M2651 2129l72 6 -55 -89 -72 89z"/>
<path d="M2596 2135l72 -89M2723 2135l-55 -89"/>
<path class="c16" d="M1283 2221l72 57 -55 -78 -71 56z"/>
<path d="M1229 2256l71 -56M1355 2278l-55 -78"/>
<path class="c26" d="M3316 1948l71 -6 -54 21 -72 10z"/>
<path d="M3261 1973l72 -10M3387 1942l-54 21"/>
<path class="c20" d="M3047 2087l71 -49 -55 -52 -71 63z"/>
<path d="M2992 2049l71 -63M3118 2038l-55 -52"/>
<path class="c14" d="M905 2232l71 -54 -54 7 -72 -16z"/>
<path d="M850 2169l72 16M905 2232l-55 -63M976 2178l-54 7"/>
<path class="c11" d="M1915 2328l71 -40 -55 -23 -71 93z"/>
<path d="M1860 2358l71 -93M1915 2328l-55 30M1986 2288l-55 -23"/>
<path class="c15" d="M2112 2247l72 78 -55 -70 -71 19z"/>
<path d="M2058 2274l71 -19M2184 2325l-55 -70"/>
<path class="c31" d="M3585 1836l72 62 -55 -45 -71 36z"/>
<path d="M3531 1889l71 -36M3657 1898l-55 -45"/>
<path class="c48" d="M5525 1395l72 -59 -55 -6 -72 -8z"/>
<path d="M5597 1336l-55 -6"/>
<path class="c39" d="M5996 1627l72 34 -55 -49 -71 19z"/>
<path d="M5942 1631l71 -19"/>
<path class="c54" d="M5218 1250l72 6 -55 -7 -72 -2z"/>
<path d="M5163 1247l72 2M5290 1256l-55 -7"/>
<path class="c29" d="M3800 1847l71 -147 -54 -54 -72 41z"/>
<path d="M3745 1687l72 -41M3800 1847l-55 -160"/>
<path class="c8" d="M1772 2413l71 29 -55 -71 -71 25z"/>
<path d="M1717 2396l71 -25M1843 2442l-55 -71"/>
<path class="c48" d="M4229 1408l72 -38 -55 98 -72 -26z"/>
<path d="M4174 1442l72 26M4301 1370l-55 98"/>
<path class="c48" d="M5651 1390l72 -23 -55 -26 -71 -5z"/>
<path d="M5597 1336l71 5M5723 1367l-55 -26"/>
<path class="c16" d="M2706 2194l71 21 -54 -80 -72 -6z"/>
<path d="M2651 2129l72 6M2777 2215l-54 -80"/>
<path class="c32" d="M6051 1781l72 -71 -55 -49 -72 -34z"/>
<path d="M5996 1627l72 34"/>
<path class="c54" d="M5092 1248l71 -1 -54 -4 -72 -48z"/>
<path d="M5037 1195l72 48M5163 1247l-54 -4"/>
<path class="c55" d="M4839 1221l72 14 -55 -53 -71 -8z"/>
<path d="M4785 1174l71 8M4911 1235l-55 -53"/>
<path class="c36" d="M3871 1700l72 -35 -55 -6 -71 -13z"/>
<path d="M3817 1646l71 13M3871 1700l-54 -54M3943 1665l-55 -6"/>
<path class="c41" d="M5816 1584l71 2 -55 -76 -71 9z"/>
<path d="M5887 1586l-55 -76"/>
<path class="c51" d="M5470 1322l72 8 -55 -154 -71 105z"/>
<path d="M5470 1322l72 8M5416 1281l71 -105M5542 1330l-55 -154"/>
<path class="c19" d="M2975 2114l72 -27 -55 -38 -72 26z"/>
<path d="M2920 2075l72 -26M3047 2087l-55 -38"/>
<path class="c10" d="M1464 2353l72 -35 -55 -72 -71 66z"/>
<path d="M1410 2312l71 -66M1536 2318l-55 -72"/>
<path class="c43" d="M5761 1519l71 -9 -54 -45 -72 -25z"/>
<path d="M5761 1519l71 -9M5832 1510l-54 -45"/>
<path class="c33" d="M6106 1773l71 -14 -54 -49 -72 71z"/>
<path d="M6051 1781l72 -71"/>
<path class="c48" d="M4372 1384l72 -100 -55 15 -72 5z"/>
<path d="M4317 1304l72 -5M4372 1384l-55 -80"/>
<path class="c53" d="M4444 1284l71 -46 -54 9 -72 52z"/>
<path d="M4389 1299l72 -52M4444 1284l-55 15M4515 1238l-54 9"/>
<path class="c47" d="M5706 1440l72 25 -55 -98 -72 23z"/>
<path d="M5706 1440l72 25M5651 1390l72 -23M5778 1465l-55 -98"/>
<path class="c39" d="M5870 1631l72 0 -55 -45 -71 -2z"/>
<path d="M5816 1584l71 2M5942 1631l-55 -45"/>
<path class="c15" d="M2904 2212l71 -98 -55 -39 -71 26z"/>
<path d="M2849 2101l71 -26M2975 2114l-55 -39"/>
<path class="c56" d="M4966 1206l71 -11 -55 11 -71 29z"/>
<path d="M4911 1235l71 -29M5037 1195l-55 11"/>
<path class="c13" d="M1086 2280l71 -14 -55 -6 -71 -43z"/>
<path d="M1031 2217l71 43M1157 2266l-55 -6"/>
<path class="c13" d="M2239 2285l71 1 -55 -77 -71 116z"/>
<path d="M2184 2325l71 -116"/>
<path class="c12" d="M2310 2286l72 -101 -55 41 -72 -17z"/>
<path d="M2255 2209l72 17M2310 2286l-55 -77M2382 2185l-55 41"/>
<path class="c16" d="M2508 2213l72 -97 -55 63 -72 78z"/>
<path d="M2453 2257l72 -78"/>
<path class="c6" d="M1393 2425l71 -72 -54 -41 -72 -10z"/>
<path d="M1464 2353l-54 -41"/>
<path class="c20" d="M2580 2116l71 13 -55 6 -71 44z"/>
<path d="M2525 2179l71 -44M2580 2116l-55 63M2651 2129l-55 6"/>
<path class="c43" d="M4086 1535l72 -61 -55 -12 -72 95z"/>
<path d="M4031 1557l72 -95M4086 1535l-55 22"/>
<path class="c23" d="M3244 2025l72 -77 -55 25 -71 14z"/>
<path d="M3190 1987l71 -14M3316 1948l-55 25"/>
<path class="c12" d="M1338 2302l72 10 -55 -34 -72 -57z"/>
<path d="M1338 2302l72 10M1283 2221l72 57M1410 2312l-55 -34"/>
<path class="c20" d="M2832 2129l72 83 -55 -111 -72 114z"/>
<path d="M2777 2215l72 -114M2904 2212l-55 -111"/>
<path class="c29" d="M6161 1863l71 -47 -55 -57 -71 14z"/>
<path d="M6106 1773l71 -14"/>
<path class="c51" d="M5399 1334l71 -12 -54 -41 -72 3z"/>
<path d="M5344 1284l72 -3M5470 1322l-54 -41"/>
<path class="c32" d="M3783 1812l72 -72 -55 107 -72 -13z"/>
<path d="M3728 1834l72 13"/>
<path class="c14" d="M2436 2256l72 -43 -55 44 -71 -72z"/>
<path d="M2382 2185l71 72M2508 2213l-55 44"/>
<path class="c35" d="M3855 1740l71 6 -55 -46 -71 147z"/>
<path d="M3800 1847l71 -147M3855 1740l-55 107"/>
<path class="c45" d="M4158 1474l71 -66 -55 34 -71 20z"/>
<path d="M4103 1462l71 -20M4158 1474l-55 -12M4229 1408l-55 34"/>
<path class="c13" d="M959 2269l72 -52 -55 -39 -71 54z"/>
<path d="M905 2232l71 -54M959 2269l-54 -37M1031 2217l-55 -39"/>
<path class="c48" d="M5580 1402l71 -12 -54 -54 -72 59z"/>
<path d="M5525 1395l72 -59M5651 1390l-54 -54"/>
<path class="c55" d="M4570 1246l72 10 -55 43 -72 -61z"/>
<path d="M4515 1238l72 61M4642 1256l-55 43"/>
<path class="c39" d="M3998 1641l71 -22 -55 75 -71 -29z"/>
<path d="M3943 1665l71 29"/>
<path class="c14" d="M1212 2264l71 -43 -54 35 -72 10z"/>
<path d="M1157 2266l72 -10M1283 2221l-54 35"/>
<path class="c33" d="M5980 1776l71 5 -55 -154 -71 49z"/>
<path d="M6051 1781l-55 -154"/>
<path class="c53" d="M4894 1291l72 -85 -55 29 -72 -14z"/>
<path d="M4839 1221l72 14M4966 1206l-55 29"/>
<path class="c12" d="M1645 2331l72 65 -55 -80 -71 64z"/>
<path d="M1591 2380l71 -64M1717 2396l-55 -80"/>
<path class="c13" d="M1519 2310l72 70 -55 -62 -72 35z"/>
<path d="M1464 2353l72 -35M1591 2380l-55 -62"/>
<path class="c29" d="M6215 1883l72 -30 -55 -37 -71 47z"/>
<path d="M6161 1863l71 -47"/>
<path class="c32" d="M3711 1837l72 -25 -55 22 -71 64z"/>
<path d="M3657 1898l71 -64M3783 1812l-55 22"/>
<path class="c25" d="M3173 1999l71 26 -54 -38 -72 51z"/>
<path d="M3118 2038l72 -51M3244 2025l-54 -38"/>
<path class="c28" d="M3514 1905l71 -69 -54 53 -72 -5z"/>
<path d="M3459 1884l72 5M3585 1836l-54 53"/>
<path class="c37" d="M5925 1676l71 -49 -54 4 -72 0z"/>
<path d="M5925 1676l71 -49M5870 1631l72 0M5996 1627l-54 4"/>
<path class="c40" d="M4069 1619l72 -87 -55 3 -72 159z"/>
<path d="M4014 1694l72 -159M4069 1619l-55 75"/>
<path class="c12" d="M2041 2313l71 -66 -54 27 -72 14z"/>
<path d="M1986 2288l72 -14M2112 2247l-54 27"/>
<path class="c9" d="M1969 2386l72 -73 -55 -25 -71 40z"/>
<path d="M1915 2328l71 -40M2041 2313l-55 -25"/>
<path class="c51" d="M5454 1351l71 44 -55 -73 -71 12z"/>
<path d="M5399 1334l71 -12M5525 1395l-55 -73"/>
<path class="c55" d="M4768 1243l71 -22 -54 -47 -72 31z"/>
<path d="M4713 1205l72 -31M4839 1221l-54 -47"/>
<path class="c12" d="M2167 2315l72 -30 -55 40 -72 -78z"/>
<path d="M2112 2247l72 78M2239 2285l-55 40"/>
<path class="c8" d="M1321 2401l72 24 -55 -123 -71 36z"/>
<path d="M1393 2425l-55 -123"/>
<path class="c51" d="M4427 1358l71 -8 -54 -66 -72 100z"/>
<path d="M4372 1384l72 -100"/>
<path class="c11" d="M1140 2338l72 -74 -55 2 -71 14z"/>
<path d="M1086 2280l71 -14M1212 2264l-55 2"/>
<path class="c34" d="M3926 1746l72 -105 -55 24 -72 35z"/>
<path d="M3871 1700l72 -35M3926 1746l-55 -46M3998 1641l-55 24"/>
<path class="c55" d="M5146 1255l72 -5 -55 -3 -71 1z"/>
<path d="M5092 1248l71 -1M5218 1250l-55 -3"/>
<path class="c37" d="M6034 1711l72 62 -55 8 -71 -5z"/>
<path d="M5980 1776l71 5M6106 1773l-55 8"/>
<path class="c17" d="M2760 2197l72 -68 -55 86 -71 -21z"/>
<path d="M2706 2194l71 21M2832 2129l-55 86"/>
<path class="c41" d="M5744 1595l72 -11 -55 -65 -72 -13z"/>
<path d="M5816 1584l-55 -65"/>
<path class="c14" d="M2365 2277l71 -21 -54 -71 -72 101z"/>
<path d="M2310 2286l72 -101M2436 2256l-54 -71"/>
<path class="c9" d="M1448 2402l71 -92 -55 43 -71 72z"/>
<path d="M1393 2425l71 -72M1519 2310l-55 43"/>
<path class="c54" d="M5020 1276l72 -28 -55 -53 -71 11z"/>
<path d="M4966 1206l71 -11M5092 1248l-55 -53"/>
<path class="c52" d="M4822 1307l72 -16 -55 -70 -71 22z"/>
<path d="M4768 1243l71 -22M4894 1291l-55 -70"/>
<path class="c45" d="M5508 1471l72 -69 -55 -7 -71 -44z"/>
<path d="M5454 1351l71 44M5580 1402l-55 -7"/>
<path class="c13" d="M1014 2285l72 -5 -55 -63 -72 52z"/>
<path d="M959 2269l72 -52M1014 2285l-55 -16M1086 2280l-55 -63"/>
<path class="c55" d="M5273 1252l71 32 -54 -28 -72 -6z"/>
<path d="M5218 1250l72 6M5344 1284l-54 -28"/>
<path class="c23" d="M3101 2042l72 -43 -55 39 -71 49z"/>
<path d="M3047 2087l71 -49M3173 1999l-55 39"/>
<path class="c54" d="M4696 1275l72 -32 -55 -38 -71 51z"/>
<path d="M4642 1256l71 -51M4768 1243l-55 -38"/>
<path class="c50" d="M4498 1350l72 -104 -55 -8 -71 46z"/>
<path d="M4444 1284l71 -46M4498 1350l-54 -66M4570 1246l-55 -8"/>
<path class="c14" d="M1898 2290l71 96 -54 -58 -72 114z"/>
<path d="M1843 2442l72 -114M1969 2386l-54 -58"/>
<path class="c40" d="M5799 1617l71 14 -54 -47 -72 11z"/>
<path d="M5744 1595l72 -11M5870 1631l-54 -47"/>
<path class="c43" d="M4212 1528l72 -33 -55 -87 -71 66z"/>
<path d="M4158 1474l71 -66"/>
<path class="c28" d="M6270 1916l72 4 -55 -67 -72 30z"/>
<path d="M6215 1883l72 -30"/>
<path class="c8" d="M1376 2429l72 -27 -55 23 -72 -24z"/>
<path d="M1321 2401l72 24M1448 2402l-55 23"/>
<path class="c30" d="M3442 1890l72 15 -55 -21 -72 58z"/>
<path d="M3387 1942l72 -58M3514 1905l-55 -21"/>
<path class="c17" d="M2634 2187l72 7 -55 -65 -71 -13z"/>
<path d="M2580 2116l71 13M2706 2194l-55 -65"/>
<path class="c50" d="M4355 1385l72 -27 -55 26 -71 -14z"/>
<path d="M4301 1370l71 14M4427 1358l-55 26"/>
<path class="c49" d="M5635 1406l71 34 -55 -50 -71 12z"/>
<path d="M5580 1402l71 -12M5706 1440l-55 -50"/>
<path class="c10" d="M1069 2362l71 -24 -54 -58 -72 5z"/>
<path d="M1014 2285l72 -5M1069 2362l-55 -77M1140 2338l-54 -58"/>
<path class="c29" d="M3640 1899l71 -62 -54 61 -72 -62z"/>
<path d="M3585 1836l72 62M3711 1837l-54 61"/>
<path class="c11" d="M1267 2338l71 -36 -55 -81 -71 43z"/>
<path d="M1267 2338l71 -36M1212 2264l71 -43M1338 2302l-55 -81"/>
<path class="c29" d="M6144 1889l71 -6 -54 -20 -72 -4z"/>
<path d="M6215 1883l-54 -20"/>
<path class="c53" d="M4949 1298l71 -22 -54 -70 -72 85z"/>
<path d="M4894 1291l72 -85M5020 1276l-54 -70"/>
<path class="c22" d="M3030 2090l71 -48 -54 45 -72 27z"/>
<path d="M2975 2114l72 -27M3101 2042l-54 45"/>
<path class="c50" d="M5075 1351l71 -96 -54 -7 -72 28z"/>
<path d="M5020 1276l72 -28M5146 1255l-54 -7"/>
<path class="c10" d="M1195 2375l72 -37 -55 -74 -72 74z"/>
<path d="M1140 2338l72 -74M1267 2338l-55 -74"/>
<path class="c8" d="M1700 2414l72 -1 -55 -17 -72 -65z"/>
<path d="M1645 2331l72 65M1772 2413l-55 -17"/>
<path class="c21" d="M2958 2110l72 -20 -55 24 -71 98z"/>
<path d="M2904 2212l71 -98M3030 2090l-55 24"/>
<path class="c44" d="M4141 1532l71 -4 -54 -54 -72 61z"/>
<path d="M4086 1535l72 -61M4141 1532l-55 3M4212 1528l-54 -54"/>
<path class="c45" d="M5689 1506l72 13 -55 -79 -71 -34z"/>
<path d="M5689 1506l72 13M5635 1406l71 34M5761 1519l-55 -79"/>
<path class="c14" d="M2293 2277l72 0 -55 9 -71 -1z"/>
<path d="M2239 2285l71 1M2365 2277l-55 9"/>
<path class="c7" d="M1826 2449l72 -159 -55 152 -71 -29z"/>
<path d="M1772 2413l71 29M1898 2290l-55 152"/>
<path class="c45" d="M4284 1495l71 -110 -54 -15 -72 38z"/>
<path d="M4229 1408l72 -38M4284 1495l-55 -87M4355 1385l-54 -15"/>
<path class="c13" d="M2491 2285l72 -61 -55 -11 -72 43z"/>
<path d="M2436 2256l72 -43"/>
<path class="c30" d="M6089 1859l72 4 -55 -90 -72 -62z"/>
<path d="M6089 1859l72 4M6034 1711l72 62M6161 1863l-55 -90"/>
<path class="c35" d="M5908 1751l72 25 -55 -100 -72 8z"/>
<path d="M5980 1776l-55 -100"/>
<path class="c45" d="M5563 1501l72 -95 -55 -4 -72 69z"/>
<path d="M5508 1471l72 -69M5635 1406l-55 -4"/>
<path class="c8" d="M1250 2414l71 -13 -54 -63 -72 37z"/>
<path d="M1195 2375l72 -37M1321 2401l-54 -63"/>
<path class="c51" d="M4751 1337l71 -30 -54 -64 -72 32z"/>
<path d="M4696 1275l72 -32M4822 1307l-54 -64"/>
<path class="c41" d="M5672 1609l72 -14 -55 -89 -71 77z"/>
<path d="M5744 1595l-55 -89"/>
<path class="c50" d="M5130 1374l71 -14 -55 -105 -71 96z"/>
<path d="M5075 1351l71 -96"/>
<path class="c38" d="M5853 1684l72 -8 -55 -45 -71 -14z"/>
<path d="M5853 1684l72 -8M5799 1617l71 14M5925 1676l-55 -45"/>
<path class="c52" d="M5327 1330l72 4 -55 -50 -71 -32z"/>
<path d="M5273 1252l71 32M5399 1334l-55 -50"/>
<path class="c26" d="M3568 1970l72 -71 -55 -63 -71 69z"/>
<path d="M3514 1905l71 -69M3640 1899l-55 -63"/>
<path class="c50" d="M4482 1380l71 24 -55 -54 -71 8z"/>
<path d="M4427 1358l71 -8"/>
<path class="c16" d="M2689 2227l71 -30 -54 -3 -72 -7z"/>
<path d="M2634 2187l72 7M2760 2197l-54 -3"/>
<path class="c52" d="M5003 1339l72 12 -55 -75 -71 22z"/>
<path d="M4949 1298l71 -22M5075 1351l-55 -75"/>
<path class="c53" d="M4877 1307l72 -9 -55 -7 -72 16z"/>
<path d="M4822 1307l72 -16M4949 1298l-55 -7"/>
<path class="c16" d="M2563 2224l71 -37 -54 -71 -72 97z"/>
<path d="M2508 2213l72 -97M2563 2224l-55 -11M2634 2187l-54 -71"/>
<path class="c12" d="M2096 2334l71 -19 -55 -68 -71 66z"/>
<path d="M2041 2313l71 -66M2167 2315l-55 -68"/>
<path class="c50" d="M5201 1360l72 -108 -55 -2 -72 5z"/>
<path d="M5146 1255l72 -5M5201 1360l-55 -105M5273 1252l-55 -2"/>
<path class="c39" d="M4052 1661l72 75 -55 -117 -71 22z"/>
<path d="M3998 1641l71 -22"/>
<path class="c46" d="M5492 1495l71 6 -55 -30 -71 10z"/>
<path d="M5563 1501l-55 -30"/>
<path class="c11" d="M1124 2360l71 15 -55 -37 -71 24z"/>
<path d="M1069 2362l71 -24M1124 2360l-55 2M1195 2375l-55 -37"/>
<path class="c48" d="M4553 1404l72 -139 -55 -19 -72 104z"/>
<path d="M4498 1350l72 -104M4553 1404l-55 -54"/>
<path class="c13" d="M2420 2301l71 -16 -55 -29 -71 21z"/>
<path d="M2365 2277l71 -21M2491 2285l-55 -29"/>
<path class="c41" d="M5618 1583l71 -77 -54 -100 -72 95z"/>
<path d="M5618 1583l71 -77M5563 1501l72 -95M5689 1506l-54 -100"/>
<path class="c28" d="M3371 1930l71 -40 -55 52 -71 6z"/>
<path d="M3316 1948l71 -6M3442 1890l-55 52"/>
<path class="c16" d="M3156 2203l72 -149 -55 -55 -72 43z"/>
<path d="M3101 2042l72 -43"/>
<path class="c34" d="M4124 1736l71 -186 -54 -18 -72 87z"/>
<path d="M4069 1619l72 -87M4124 1736l-55 -117"/>
<path class="c25" d="M3299 1995l72 -65 -55 18 -72 77z"/>
<path d="M3244 2025l72 -77M3371 1930l-55 18"/>
<path class="c18" d="M2887 2178l71 -68 -54 102 -72 -83z"/>
<path d="M2832 2129l72 83M2958 2110l-54 102"/>
<path class="c42" d="M4267 1569l71 -124 -54 50 -72 33z"/>
<path d="M4212 1528l72 -33"/>
<path class="c12" d="M2024 2340l72 -6 -55 -21 -72 73z"/>
<path d="M1969 2386l72 -73M2096 2334l-55 -21"/>
<path class="c55" d="M4625 1265l71 10 -54 -19 -72 -10z"/>
<path d="M4570 1246l72 10M4625 1265l-55 -19M4696 1275l-54 -19"/>
<path class="c10" d="M1574 2369l71 -38 -54 49 -72 -70z"/>
<path d="M1519 2310l72 70M1645 2331l-54 49"/>
<path class="c11" d="M2222 2351l71 -74 -54 8 -72 30z"/>
<path d="M2167 2315l72 -30M2293 2277l-54 8"/>
<path class="c23" d="M3228 2054l71 -59 -55 30 -71 -26z"/>
<path d="M3173 1999l71 26M3228 2054l-55 -55M3299 1995l-55 30"/>
<path class="c28" d="M6198 1936l72 -20 -55 -33 -71 6z"/>
<path d="M6144 1889l71 -6M6270 1916l-55 -33"/>
<path class="c50" d="M5058 1391l72 -17 -55 -23 -72 -12z"/>
<path d="M5003 1339l72 12M5130 1374l-55 -23"/>
<path class="c7" d="M1304 2454l72 -25 -55 -28 -71 13z"/>
<path d="M1250 2414l71 -13M1376 2429l-55 -28"/>
<path class="c10" d="M1755 2402l71 47 -54 -36 -72 1z"/>
<path d="M1700 2414l72 -1M1826 2449l-54 -36"/>
<path class="c33" d="M5963 1794l71 -83 -54 65 -72 -25z"/>
<path d="M5908 1751l72 25M6034 1711l-54 65"/>
<path class="c30" d="M6325 1898l71 35 -54 -13 -72 -4z"/>
<path d="M6270 1916l72 4"/>
<path class="c51" d="M5256 1361l71 -31 -54 -78 -72 108z"/>
<path d="M5201 1360l72 -108M5327 1330l-54 -78"/>
<path class="c31" d="M3838 1855l71 -82 -54 -33 -72 72z"/>
<path d="M3783 1812l72 -72"/>
<path class="c43" d="M5546 1554l72 29 -55 -82 -71 -6z"/>
<path d="M5492 1495l71 6M5618 1583l-55 -82"/>
<path class="c21" d="M3084 2108l72 95 -55 -161 -71 48z"/>
<path d="M3030 2090l71 -48M3156 2203l-55 -161"/>
<path class="c28" d="M3497 1944l71 26 -54 -65 -72 -15z"/>
<path d="M3442 1890l72 15M3568 1970l-54 -65"/>
<path class="c46" d="M5437 1481l71 -10 -54 -120 -72 -38z"/>
<path d="M5437 1481l71 -10M5508 1471l-54 -120"/>
<path class="c41" d="M5727 1623l72 -6 -55 -22 -72 14z"/>
<path d="M5672 1609l72 -14M5799 1617l-55 -22"/>
<path class="c44" d="M4195 1550l72 19 -55 -41 -71 4z"/>
<path d="M4141 1532l71 -4M4195 1550l-54 -18M4267 1569l-55 -41"/>
<path class="c40" d="M5601 1631l71 -22 -54 -26 -72 -29z"/>
<path d="M5546 1554l72 29M5672 1609l-54 -26"/>
<path class="c34" d="M3909 1773l72 -68 -55 41 -71 -6z"/>
<path d="M3855 1740l71 6M3909 1773l-54 -33"/>
<path class="c31" d="M3766 1853l72 2 -55 -43 -72 25z"/>
<path d="M3711 1837l72 -25M3838 1855l-55 -43"/>
<path class="c11" d="M2150 2371l72 -20 -55 -36 -71 19z"/>
<path d="M2096 2334l71 -19M2222 2351l-55 -36"/>
<path class="c29" d="M3623 1933l72 15 -55 -49 -72 71z"/>
<path d="M3568 1970l72 -71"/>
<path class="c35" d="M4107 1747l72 -73 -55 62 -72 -75z"/>
<path d="M4052 1661l72 75"/>
<path class="c49" d="M4608 1409l71 -57 -54 -87 -72 139z"/>
<path d="M4553 1404l72 -139"/>
<path class="c37" d="M3981 1705l71 -44 -54 -20 -72 105z"/>
<path d="M3926 1746l72 -105M3981 1705l-55 41M4052 1661l-54 -20"/>
<path class="c51" d="M4679 1352l72 -15 -55 -62 -71 -10z"/>
<path d="M4625 1265l71 10M4679 1352l-54 -87M4751 1337l-55 -62"/>
<path class="c8" d="M1502 2435l72 -66 -55 -59 -71 92z"/>
<path d="M1448 2402l71 -92M1574 2369l-55 -59"/>
<path class="c54" d="M5382 1313l72 38 -55 -17 -72 -4z"/>
<path d="M5382 1313l72 38M5327 1330l72 4M5454 1351l-55 -17"/>
<path class="c27" d="M3695 1948l71 -95 -55 -16 -71 62z"/>
<path d="M3640 1899l71 -62M3695 1948l-55 -49M3766 1853l-55 -16"/>
<path class="c28" d="M6072 1926l72 -37 -55 -30 -72 -29z"/>
<path d="M6144 1889l-55 -30"/>
<path class="c7" d="M1628 2453l72 -39 -55 -83 -71 38z"/>
<path d="M1574 2369l71 -38M1700 2414l-55 -83"/>
<path class="c48" d="M4338 1445l72 -20 -55 -40 -71 110z"/>
<path d="M4284 1495l71 -110M4338 1445l-54 50"/>
<path class="c49" d="M4410 1425l72 -45 -55 -22 -72 27z"/>
<path d="M4355 1385l72 -27M4410 1425l-55 -40M4482 1380l-55 -22"/>
<path class="c39" d="M4179 1674l71 -39 -55 -85 -71 186z"/>
<path d="M4124 1736l71 -186M4179 1674l-55 62"/>
<path class="c50" d="M4536 1408l72 1 -55 -5 -71 -24z"/>
<path d="M4482 1380l71 24M4608 1409l-55 -5"/>
<path class="c17" d="M2617 2220l72 7 -55 -40 -71 37z"/>
<path d="M2563 2224l71 -37M2689 2227l-55 -40"/>
<path class="c9" d="M1431 2420l71 15 -54 -33 -72 27z"/>
<path d="M1376 2429l72 -27M1502 2435l-54 -33"/>
<path class="c53" d="M5184 1341l72 20 -55 -1 -71 14z"/>
<path d="M5130 1374l71 -14M5256 1361l-55 -1"/>
<path class="c32" d="M5891 1835l72 -41 -55 -43 -71 30z"/>
<path d="M5963 1794l-55 -43"/>
<path class="c9" d="M1178 2411l72 3 -55 -39 -71 -15z"/>
<path d="M1124 2360l71 15M1178 2411l-54 -51M1250 2414l-55 -39"/>
<path class="c21" d="M3425 2079l72 -135 -55 -54 -71 40z"/>
<path d="M3371 1930l71 -40M3497 1944l-55 -54"/>
<path class="c45" d="M5365 1498l72 -17 -55 -168 -71 138z"/>
<path d="M5437 1481l-55 -168"/>
<path class="c55" d="M4806 1294l71 13 -55 0 -71 30z"/>
<path d="M4751 1337l71 -30M4877 1307l-55 0"/>
<path class="c31" d="M4035 1850l72 -103 -55 -86 -71 44z"/>
<path d="M3981 1705l71 -44M4107 1747l-55 -86"/>
<path class="c13" d="M2546 2309l71 -89 -54 4 -72 61z"/>
<path d="M2491 2285l72 -61M2617 2220l-54 4"/>
<path class="c32" d="M3964 1832l71 18 -54 -145 -72 68z"/>
<path d="M3909 1773l72 -68M4035 1850l-54 -145"/>
<path class="c32" d="M6017 1830l72 29 -55 -148 -71 83z"/>
<path d="M6017 1830l72 29M5963 1794l71 -83M6089 1859l-55 -148"/>
<path class="c18" d="M2815 2186l72 -8 -55 -49 -72 68z"/>
<path d="M2760 2197l72 -68M2887 2178l-55 -49"/>
<path class="c34" d="M5837 1781l71 -30 -55 -67 -71 -25z"/>
<path d="M5837 1781l71 -30M5908 1751l-55 -67"/>
<path class="c46" d="M5420 1508l72 -13 -55 -14 -72 17z"/>
<path d="M5365 1498l72 -17M5492 1495l-55 -14"/>
<path class="c22" d="M3480 2074l72 -97 -55 -33 -72 135z"/>
<path d="M3425 2079l72 -135"/>
<path class="c28" d="M6127 1953l71 -17 -54 -47 -72 37z"/>
<path d="M6072 1926l72 -37M6198 1936l-54 -47"/>
<path class="c13" d="M2474 2318l72 -9 -55 -24 -71 16z"/>
<path d="M2420 2301l71 -16M2546 2309l-55 -24"/>
<path class="c45" d="M5294 1511l71 -13 -54 -47 -72 3z"/>
<path d="M5365 1498l-54 -47"/>
<path class="c20" d="M3211 2129l71 -113 -54 38 -72 149z"/>
<path d="M3156 2203l72 -149"/>
<path class="c47" d="M5311 1451l71 -138 -55 17 -71 31z"/>
<path d="M5311 1451l71 -138M5256 1361l71 -31M5382 1313l-55 17"/>
<path class="c31" d="M3892 1865l72 -33 -55 -59 -71 82z"/>
<path d="M3838 1855l71 -82M3964 1832l-55 -59"/>
<path class="c40" d="M4250 1635l72 -57 -55 -9 -72 -19z"/>
<path d="M4195 1550l72 19M4250 1635l-55 -85"/>
<path class="c4" d="M1359 2524l72 -104 -55 9 -72 25z"/>
<path d="M1304 2454l72 -25M1431 2420l-55 9"/>
<path class="c21" d="M3139 2140l72 -11 -55 74 -72 -95z"/>
<path d="M3084 2108l72 95M3211 2129l-55 74"/>
<path class="c26" d="M6253 1987l72 -89 -55 18 -72 20z"/>
<path d="M6198 1936l72 -20M6325 1898l-55 18"/>
<path class="c6" d="M1233 2484l71 -30 -54 -40 -72 -3z"/>
<path d="M1178 2411l72 3M1233 2484l-55 -73M1304 2454l-54 -40"/>
<path class="c40" d="M5782 1659l71 25 -54 -67 -72 6z"/>
<path d="M5782 1659l71 25M5727 1623l72 -6M5853 1684l-54 -67"/>
<path class="c20" d="M3408 2120l72 -46 -55 5 -71 -112z"/>
<path d="M3480 2074l-55 5"/>
<path class="c28" d="M3821 1928l71 -63 -54 -10 -72 -2z"/>
<path d="M3766 1853l72 2M3892 1865l-54 -10"/>
<path class="c10" d="M1557 2414l71 39 -54 -84 -72 66z"/>
<path d="M1502 2435l72 -66M1628 2453l-54 -84"/>
<path class="c28" d="M3354 1967l71 112 -54 -149 -72 65z"/>
<path d="M3354 1967l71 112M3299 1995l72 -65M3425 2079l-54 -149"/>
<path class="c50" d="M4734 1397l72 -103 -55 43 -72 15z"/>
<path d="M4679 1352l72 -15M4806 1294l-55 43"/>
<path class="c11" d="M1952 2376l72 -36 -55 46 -71 -96z"/>
<path d="M1898 2290l71 96M2024 2340l-55 46"/>
<path class="c16" d="M2348 2259l72 42 -55 -24 -72 0z"/>
<path d="M2293 2277l72 0M2420 2301l-55 -24"/>
<path class="c32" d="M5820 1846l71 -11 -54 -54 -72 38z"/>
<path d="M5891 1835l-54 -54"/>
<path class="c9" d="M2079 2402l71 -31 -54 -37 -72 6z"/>
<path d="M2024 2340l72 -6M2150 2371l-54 -37"/>
<path class="c27" d="M3552 1977l71 -44 -55 37 -71 -26z"/>
<path d="M3497 1944l71 26M3552 1977l-55 -33M3623 1933l-55 37"/>
<path class="c46" d="M4465 1494l71 -86 -54 -28 -72 45z"/>
<path d="M4410 1425l72 -45M4536 1408l-54 -28"/>
<path class="c47" d="M5239 1454l72 -3 -55 -90 -72 -20z"/>
<path d="M5239 1454l72 -3M5184 1341l72 20M5311 1451l-55 -90"/>
<path class="c55" d="M4932 1282l71 57 -54 -41 -72 9z"/>
<path d="M4877 1307l72 -9M5003 1339l-54 -41"/>
<path class="c10" d="M2205 2390l72 -6 -55 -33 -72 20z"/>
<path d="M2150 2371l72 -20"/>
<path class="c31" d="M5946 1870l71 -40 -54 -36 -72 41z"/>
<path d="M5891 1835l72 -41M6017 1830l-54 -36"/>
<path class="c41" d="M5656 1630l71 -7 -55 -14 -71 22z"/>
<path d="M5601 1631l71 -22M5727 1623l-55 -14"/>
<path class="c5" d="M1288 2520l71 4 -55 -70 -71 30z"/>
<path d="M1233 2484l71 -30M1288 2520l-55 -36M1359 2524l-55 -70"/>
<path class="c46" d="M4987 1465l71 -74 -55 -52 -71 -57z"/>
<path d="M4932 1282l71 57M5058 1391l-55 -52"/>
<path class="c42" d="M4322 1578l71 -84 -55 -49 -71 124z"/>
<path d="M4267 1569l71 -124M4322 1578l-55 -9"/>
<path class="c8" d="M1881 2446l71 -70 -54 -86 -72 159z"/>
<path d="M1826 2449l72 -159M1952 2376l-54 -86"/>
<path class="c29" d="M6379 1938l72 44 -55 -49 -71 -35z"/>
<path d="M6325 1898l71 35"/>
<path class="c35" d="M4090 1791l72 -53 -55 9 -72 103z"/>
<path d="M4035 1850l72 -103"/>
<path class="c32" d="M4019 1850l71 -59 -55 59 -71 -18z"/>
<path d="M3964 1832l71 18M4090 1791l-55 59"/>
<path class="c19" d="M2744 2193l71 -7 -55 11 -71 30z"/>
<path d="M2689 2227l71 -30M2815 2186l-55 11"/>
<path class="c24" d="M6434 2037l72 5 -55 -60 -72 -44z"/>
<path d="M6379 1938l72 44"/>
<path class="c29" d="M3749 1925l72 3 -55 -75 -71 95z"/>
<path d="M3695 1948l71 -95M3821 1928l-55 -75"/>
<path class="c10" d="M2277 2384l71 -125 -55 18 -71 74z"/>
<path d="M2222 2351l71 -74M2277 2384l-55 -33M2348 2259l-55 18"/>
<path class="c20" d="M3013 2148l71 -40 -54 -18 -72 20z"/>
<path d="M2958 2110l72 -20M3084 2108l-54 -18"/>
<path class="c42" d="M5475 1586l71 -32 -54 -59 -72 13z"/>
<path d="M5420 1508l72 -13M5546 1554l-54 -59"/>
<path class="c29" d="M6001 1924l71 2 -55 -96 -71 40z"/>
<path d="M5946 1870l71 -40M6072 1926l-55 -96"/>
<path class="c10" d="M1683 2406l72 -4 -55 12 -72 39z"/>
<path d="M1628 2453l72 -39M1755 2402l-55 12"/>
<path class="c9" d="M1809 2436l72 10 -55 3 -71 -47z"/>
<path d="M1755 2402l71 47M1881 2446l-55 3"/>
<path class="c46" d="M4393 1494l72 0 -55 -69 -72 20z"/>
<path d="M4338 1445l72 -20M4393 1494l-55 -49M4465 1494l-55 -69"/>
<path class="c27" d="M6182 1984l71 3 -55 -51 -71 17z"/>
<path d="M6127 1953l71 -17M6253 1987l-55 -51"/>
<path class="c18" d="M2941 2202l72 -54 -55 -38 -71 68z"/>
<path d="M2887 2178l71 -68M3013 2148l-55 -38"/>
<path class="c53" d="M4663 1356l71 41 -55 -45 -71 57z"/>
<path d="M4608 1409l71 -57M4734 1397l-55 -45"/>
<path class="c12" d="M2601 2340l71 -41 -55 -79 -71 89z"/>
<path d="M2546 2309l71 -89"/>
<path class="c51" d="M5113 1384l71 -43 -54 33 -72 17z"/>
<path d="M5058 1391l72 -17M5184 1341l-54 33"/>
<path class="c46" d="M4519 1505l72 -11 -55 -86 -71 86z"/>
<path d="M4465 1494l71 -86"/>
<path class="c40" d="M4305 1654l71 -34 -54 -42 -72 57z"/>
<path d="M4250 1635l72 -57"/>
<path class="c9" d="M2403 2413l71 -95 -54 -17 -72 -42z"/>
<path d="M2348 2259l72 42M2474 2318l-54 -17"/>
<path class="c49" d="M5041 1429l72 -45 -55 7 -71 74z"/>
<path d="M4987 1465l71 -74M5113 1384l-55 7"/>
<path class="c30" d="M5874 1901l72 -31 -55 -35 -71 11z"/>
<path d="M5820 1846l71 -11M5946 1870l-55 -35"/>
<path class="c33" d="M5765 1819l72 -38 -55 -122 -72 14z"/>
<path d="M5765 1819l72 -38M5837 1781l-55 -122"/>
<path class="c46" d="M5348 1521l72 -13 -55 -10 -71 13z"/>
<path d="M5294 1511l71 -13M5420 1508l-55 -10"/>
<path class="c38" d="M4233 1705l72 -51 -55 -19 -71 39z"/>
<path d="M4179 1674l71 -39M4305 1654l-55 -19"/>
<path class="c24" d="M6489 2063l71 -7 -54 -14 -72 -5z"/>
<path d="M6434 2037l72 5"/>
<path class="c14" d="M2672 2299l72 -106 -55 34 -72 -7z"/>
<path d="M2617 2220l72 7M2672 2299l-55 -79M2744 2193l-55 34"/>
<path class="c37" d="M4162 1738l71 -33 -54 -31 -72 73z"/>
<path d="M4107 1747l72 -73M4162 1738l-55 9M4233 1705l-54 -31"/>
<path class="c8" d="M2133 2445l72 -55 -55 -19 -71 31z"/>
<path d="M2079 2402l71 -31M2205 2390l-55 -19"/>
<path class="c46" d="M4591 1494l72 -138 -55 53 -72 -1z"/>
<path d="M4536 1408l72 1M4591 1494l-55 -86M4663 1356l-55 53"/>
<path class="c30" d="M3947 1896l72 -46 -55 -18 -72 33z"/>
<path d="M3892 1865l72 -33M4019 1850l-55 -18"/>
<path class="c48" d="M4789 1445l71 -57 -54 -94 -72 103z"/>
<path d="M4734 1397l72 -103"/>
<path class="c44" d="M5529 1563l72 68 -55 -77 -71 32z"/>
<path d="M5475 1586l71 -32M5601 1631l-55 -77"/>
<path class="c5" d="M1936 2511l71 -117 -55 -18 -71 70z"/>
<path d="M1881 2446l71 -70"/>
<path class="c35" d="M5584 1756l72 -126 -55 1 -72 -68z"/>
<path d="M5529 1563l72 68M5656 1630l-55 1"/>
<path class="c41" d="M4376 1620l72 -75 -55 -51 -71 84z"/>
<path d="M4322 1578l71 -84M4376 1620l-54 -42"/>
<path class="c44" d="M4448 1545l71 -40 -54 -11 -72 0z"/>
<path d="M4393 1494l72 0M4448 1545l-55 -51M4519 1505l-54 -11"/>
<path class="c29" d="M3876 1932l71 -36 -55 -31 -71 63z"/>
<path d="M3821 1928l71 -63M3947 1896l-55 -31"/>
<path class="c49" d="M4915 1428l72 37 -55 -183 -72 106z"/>
<path d="M4987 1465l-55 -183"/>
<path class="c26" d="M3282 2016l72 -49 -55 28 -71 59z"/>
<path d="M3228 2054l71 -59M3282 2016l-54 38M3354 1967l-55 28"/>
<path class="c30" d="M6055 1920l72 33 -55 -27 -71 -2z"/>
<path d="M6001 1924l71 2M6127 1953l-55 -27"/>
<path class="c11" d="M2007 2394l72 8 -55 -62 -72 36z"/>
<path d="M1952 2376l72 -36M2007 2394l-55 -18M2079 2402l-55 -62"/>
<path class="c37" d="M4360 1725l71 -36 -55 -69 -71 34z"/>
<path d="M4305 1654l71 -34"/>
<path class="c19" d="M2870 2196l71 6 -54 -24 -72 8z"/>
<path d="M2815 2186l72 -8M2941 2202l-54 -24"/>
<path class="c29" d="M3678 1947l71 -22 -54 23 -72 -15z"/>
<path d="M3623 1933l72 15M3749 1925l-54 23"/>
<path class="c47" d="M4970 1487l71 -58 -54 36 -72 -37z"/>
<path d="M4915 1428l72 37M5041 1429l-54 36"/>
<path class="c46" d="M4717 1490l72 -45 -55 -48 -71 -41z"/>
<path d="M4663 1356l71 41M4789 1445l-55 -48"/>
<path class="c12" d="M2331 2364l72 49 -55 -154 -71 125z"/>
<path d="M2277 2384l71 -125M2403 2413l-55 -154"/>
<path class="c14" d="M2529 2314l72 26 -55 -31 -72 9z"/>
<path d="M2474 2318l72 -9M2601 2340l-55 -31"/>
<path class="c42" d="M5024 1599l72 -63 -55 -107 -71 58z"/>
<path d="M4970 1487l71 -58"/>
<path class="c50" d="M4860 1388l72 -106 -55 25 -71 -13z"/>
<path d="M4860 1388l72 -106M4806 1294l71 13M4860 1388l-54 -94M4932 1282l-55 25"/>
<path class="c9" d="M2457 2416l72 -102 -55 4 -71 95z"/>
<path d="M2403 2413l71 -95M2529 2314l-55 4"/>
<path class="c45" d="M4646 1521l71 -31 -54 -134 -72 138z"/>
<path d="M4591 1494l72 -138M4717 1490l-54 -134"/>
<path class="c27" d="M6308 1984l71 -46 -54 -40 -72 89z"/>
<path d="M6253 1987l72 -89M6379 1938l-54 -40"/>
<path class="c18" d="M3068 2193l71 -53 -55 -32 -71 40z"/>
<path d="M3013 2148l71 -40M3139 2140l-55 -32"/>
<path class="c42" d="M5403 1604l72 -18 -55 -78 -72 13z"/>
<path d="M5348 1521l72 -13M5475 1586l-55 -78"/>
<path class="c24" d="M6236 2047l72 -63 -55 3 -71 -3z"/>
<path d="M6182 1984l71 3M6308 1984l-55 3"/>
<path class="c29" d="M5929 1930l72 -6 -55 -54 -72 31z"/>
<path d="M5874 1901l72 -31M6001 1924l-55 -54"/>
<path class="c48" d="M4843 1459l72 -31 -55 -40 -71 57z"/>
<path d="M4789 1445l71 -57M4915 1428l-55 -40"/>
<path class="c7" d="M1612 2477l71 -71 -55 47 -71 -39z"/>
<path d="M1557 2414l71 39M1683 2406l-55 47"/>
<path class="c16" d="M2996 2241l72 -48 -55 -45 -72 54z"/>
<path d="M2941 2202l72 -54M3068 2193l-55 -45"/>
<path class="c7" d="M1342 2504l72 30 -55 -10 -71 -4z"/>
<path d="M1288 2520l71 4M1342 2504l-54 16"/>
<path class="c37" d="M5639 1727l71 -54 -54 -43 -72 126z"/>
<path d="M5584 1756l72 -126"/>
<path class="c40" d="M5710 1673l72 -14 -55 -36 -71 7z"/>
<path d="M5710 1673l72 -14M5656 1630l71 -7M5710 1673l-54 -43M5782 1659l-55 -36"/>
<path class="c4" d="M1414 2534l71 -132 -54 18 -72 104z"/>
<path d="M1359 2524l72 -104M1414 2534l-55 -10"/>
<path class="c48" d="M5167 1452l72 2 -55 -113 -71 43z"/>
<path d="M5113 1384l71 -43M5239 1454l-55 -113"/>
<path class="c24" d="M3463 2072l72 -39 -55 41 -72 46z"/>
<path d="M3408 2120l72 -46"/>
<path class="c48" d="M5222 1465l72 46 -55 -57 -72 -2z"/>
<path d="M5167 1452l72 2M5294 1511l-55 -57"/>
<path class="c11" d="M1485 2402l72 12 -55 21 -71 -15z"/>
<path d="M1431 2420l71 15M1485 2402l-54 18M1557 2414l-55 21"/>
<path class="c47" d="M4574 1510l72 11 -55 -27 -72 11z"/>
<path d="M4519 1505l72 -11M4646 1521l-55 -27"/>
<path class="c9" d="M1864 2443l72 68 -55 -65 -72 -10z"/>
<path d="M1809 2436l72 10M1936 2511l-55 -65"/>
<path class="c10" d="M2260 2418l71 -54 -54 20 -72 6z"/>
<path d="M2205 2390l72 -6M2331 2364l-54 20"/>
<path class="c41" d="M5277 1622l71 -101 -54 -10 -72 -46z"/>
<path d="M5222 1465l72 46M5348 1521l-54 -10"/>
<path class="c44" d="M5096 1536l71 -84 -54 -68 -72 45z"/>
<path d="M5041 1429l72 -45M5096 1536l-55 -107M5167 1452l-54 -68"/>
<path class="c24" d="M6363 2059l71 -22 -55 -99 -71 46z"/>
<path d="M6308 1984l71 -46M6434 2037l-55 -99"/>
<path class="c48" d="M4772 1473l71 -14 -54 -14 -72 45z"/>
<path d="M4717 1490l72 -45M4843 1459l-54 -14"/>
<path class="c21" d="M6543 2125l72 -46 -55 -23 -71 7z"/>
<path d="M6489 2063l71 -7"/>
<path class="c33" d="M5748 1832l72 14 -55 -27 -72 -64z"/>
<path d="M5820 1846l-55 -27"/>
<path class="c36" d="M4414 1761l72 -84 -55 12 -71 36z"/>
<path d="M4360 1725l71 -36"/>
<path class="c42" d="M5332 1609l71 -5 -55 -83 -71 101z"/>
<path d="M5277 1622l71 -101M5403 1604l-55 -83"/>
<path class="c25" d="M3535 2033l71 -64 -54 8 -72 97z"/>
<path d="M3480 2074l72 -97M3535 2033l-55 41"/>
<path class="c39" d="M4288 1703l72 22 -55 -71 -72 51z"/>
<path d="M4233 1705l72 -51M4360 1725l-55 -71"/>
<path class="c11" d="M2386 2398l71 18 -54 -3 -72 -49z"/>
<path d="M2331 2364l72 49M2457 2416l-54 -3"/>
<path class="c20" d="M3265 2163l72 -90 -55 -57 -71 113z"/>
<path d="M3211 2129l71 -113"/>
<path class="c21" d="M3194 2144l71 19 -54 -34 -72 11z"/>
<path d="M3139 2140l72 -11M3265 2163l-54 -34"/>
<path class="c38" d="M4431 1689l72 -164 -55 20 -72 75z"/>
<path d="M4376 1620l72 -75M4431 1689l-55 -69"/>
<path class="c33" d="M4216 1825l72 -122 -55 2 -71 33z"/>
<path d="M4162 1738l71 -33M4288 1703l-55 2"/>
<path class="c24" d="M3337 2073l71 47 -54 -153 -72 49z"/>
<path d="M3282 2016l72 -49M3337 2073l-55 -57M3408 2120l-54 -153"/>
<path class="c37" d="M5693 1755l72 64 -55 -146 -71 54z"/>
<path d="M5693 1755l72 64M5639 1727l71 -54M5765 1819l-55 -146"/>
<path class="c25" d="M5984 2028l71 -108 -54 4 -72 6z"/>
<path d="M5929 1930l72 -6M6055 1920l-54 4"/>
<path class="c31" d="M3804 1908l72 24 -55 -4 -72 -3z"/>
<path d="M3749 1925l72 3M3876 1932l-55 -4"/>
<path class="c41" d="M5458 1637l71 -74 -54 23 -72 18z"/>
<path d="M5403 1604l72 -18M5529 1563l-54 23"/>
<path class="c24" d="M6417 2073l72 -10 -55 -26 -71 22z"/>
<path d="M6363 2059l71 -22M6489 2063l-55 -26"/>
<path class="c20" d="M3392 2156l71 -84 -55 48 -71 -47z"/>
<path d="M3337 2073l71 47M3463 2072l-55 48"/>
<path class="c16" d="M2798 2260l72 -64 -55 -10 -71 7z"/>
<path d="M2744 2193l71 -7M2870 2196l-55 -10"/>
<path class="c28" d="M3606 1969l72 -22 -55 -14 -71 44z"/>
<path d="M3552 1977l71 -44M3606 1969l-54 8M3678 1947l-55 -14"/>
<path class="c7" d="M1738 2474l71 -38 -54 -34 -72 4z"/>
<path d="M1683 2406l72 -4M1809 2436l-54 -34"/>
<path class="c11" d="M2062 2399l71 46 -54 -43 -72 -8z"/>
<path d="M2007 2394l72 8M2133 2445l-54 -43"/>
<path class="c17" d="M2925 2253l71 -12 -55 -39 -71 -6z"/>
<path d="M2870 2196l71 6M2996 2241l-55 -39"/>
<path class="c37" d="M5386 1729l72 -92 -55 -33 -71 5z"/>
<path d="M5332 1609l71 -5M5458 1637l-55 -33"/>
<path class="c9" d="M2188 2442l72 -24 -55 -28 -72 55z"/>
<path d="M2133 2445l72 -55M2260 2418l-55 -28"/>
<path class="c46" d="M5079 1539l72 -16 -55 13 -72 63z"/>
<path d="M5024 1599l72 -63"/>
<path class="c13" d="M2655 2336l72 -95 -55 58 -71 41z"/>
<path d="M2601 2340l71 -41"/>
<path class="c32" d="M5803 1879l71 22 -54 -55 -72 -14z"/>
<path d="M5748 1832l72 14M5874 1901l-54 -55"/>
<path class="c25" d="M5912 2039l72 -11 -55 -98 -71 43z"/>
<path d="M5984 2028l-55 -98"/>
<path class="c36" d="M4145 1773l71 52 -54 -87 -72 53z"/>
<path d="M4090 1791l72 -53M4216 1825l-54 -87"/>
<path class="c5" d="M1666 2534l72 -60 -55 -68 -71 71z"/>
<path d="M1612 2477l71 -71M1738 2474l-55 -68"/>
<path class="c10" d="M2584 2408l71 -72 -54 4 -72 -26z"/>
<path d="M2529 2314l72 26M2655 2336l-54 4"/>
<path class="c25" d="M6291 2050l72 9 -55 -75 -72 63z"/>
<path d="M6236 2047l72 -63M6363 2059l-55 -75"/>
<path class="c19" d="M3320 2193l72 -37 -55 -83 -72 90z"/>
<path d="M3265 2163l72 -90M3392 2156l-55 -83"/>
<path class="c46" d="M5151 1523l71 -58 -55 -13 -71 84z"/>
<path d="M5096 1536l71 -84M5151 1523l-55 13M5222 1465l-55 -13"/>
<path class="c18" d="M2727 2241l71 19 -54 -67 -72 106z"/>
<path d="M2672 2299l72 -106M2727 2241l-55 58M2798 2260l-54 -67"/>
<path class="c48" d="M4898 1469l72 18 -55 -59 -72 31z"/>
<path d="M4843 1459l72 -31M4970 1487l-55 -59"/>
<path class="c28" d="M5858 1973l71 -43 -55 -29 -71 -22z"/>
<path d="M5858 1973l71 -43M5803 1879l71 22M5929 1930l-55 -29"/>
<path class="c32" d="M4002 1883l71 -17 -54 -16 -72 46z"/>
<path d="M3947 1896l72 -46"/>
<path class="c48" d="M4700 1486l72 -13 -55 17 -71 31z"/>
<path d="M4646 1521l71 -31M4772 1473l-55 17"/>
<path class="c6" d="M1540 2509l72 -32 -55 -63 -72 -12z"/>
<path d="M1485 2402l72 12M1612 2477l-55 -63"/>
<path class="c46" d="M4953 1533l71 66 -54 -112 -72 -18z"/>
<path d="M4898 1469l72 18M5024 1599l-54 -112"/>
<path class="c8" d="M1990 2479l72 -80 -55 -5 -71 117z"/>
<path d="M1936 2511l71 -117M2062 2399l-55 -5"/>
<path class="c3" d="M1721 2594l72 -87 -55 -33 -72 60z"/>
<path d="M1666 2534l72 -60"/>
<path class="c43" d="M5513 1618l71 138 -55 -193 -71 74z"/>
<path d="M5458 1637l71 -74M5584 1756l-55 -193"/>
<path class="c32" d="M4073 1866l72 -93 -55 18 -71 59z"/>
<path d="M4019 1850l71 -59M4073 1866l-54 -16M4145 1773l-55 18"/>
<path class="c31" d="M6110 1919l72 65 -55 -31 -72 -33z"/>
<path d="M6055 1920l72 33M6182 1984l-55 -31"/>
<path class="c38" d="M5567 1722l72 5 -55 29 -71 -138z"/>
<path d="M5513 1618l71 138M5639 1727l-55 29"/>
<path class="c46" d="M4503 1525l71 -15 -55 -5 -71 40z"/>
<path d="M4448 1545l71 -40M4503 1525l-55 20M4574 1510l-55 -5"/>
<path class="c24" d="M5967 2065l71 -29 -54 -8 -72 11z"/>
<path d="M5912 2039l72 -11"/>
<path class="c6" d="M1469 2527l71 -18 -55 -107 -71 132z"/>
<path d="M1414 2534l71 -132M1540 2509l-55 -107"/>
<path class="c40" d="M4486 1677l71 -33 -54 -119 -72 164z"/>
<path d="M4431 1689l72 -164M4486 1677l-55 12"/>
<path class="c38" d="M4343 1740l71 21 -54 -36 -72 -22z"/>
<path d="M4288 1703l72 22M4414 1761l-54 -36"/>
<path class="c6" d="M1919 2514l71 -35 -54 32 -72 -68z"/>
<path d="M1864 2443l72 68M1990 2479l-54 32"/>
<path class="c45" d="M5205 1557l72 65 -55 -157 -71 58z"/>
<path d="M5151 1523l71 -58M5277 1622l-55 -157"/>
<path class="c16" d="M3051 2263l71 -106 -54 36 -72 48z"/>
<path d="M2996 2241l72 -48"/>
<path class="c42" d="M5008 1620l71 -81 -55 60 -71 -66z"/>
<path d="M4953 1533l71 66M5079 1539l-55 60"/>
<path class="c8" d="M1595 2480l71 54 -54 -57 -72 32z"/>
<path d="M1540 2509l72 -32M1666 2534l-54 -57"/>
<path class="c7" d="M1793 2507l71 -64 -55 -7 -71 38z"/>
<path d="M1738 2474l71 -38M1793 2507l-55 -33M1864 2443l-55 -7"/>
<path class="c21" d="M3122 2157l72 -13 -55 -4 -71 53z"/>
<path d="M3068 2193l71 -53M3122 2157l-54 36M3194 2144l-55 -4"/>
<path class="c28" d="M3732 1981l72 -73 -55 17 -71 22z"/>
<path d="M3678 1947l71 -22M3804 1908l-55 17"/>
<path class="c43" d="M5260 1610l72 -1 -55 13 -72 -65z"/>
<path d="M5205 1557l72 65M5332 1609l-55 13"/>
<path class="c31" d="M3930 1911l72 -28 -55 13 -71 36z"/>
<path d="M3876 1932l71 -36M4002 1883l-55 13"/>
<path class="c4" d="M1397 2563l72 -36 -55 7 -72 -30z"/>
<path d="M1342 2504l72 30M1397 2563l-55 -59M1469 2527l-55 7"/>
<path class="c9" d="M2314 2454l72 -56 -55 -34 -71 54z"/>
<path d="M2260 2418l71 -54M2386 2398l-55 -34"/>
<path class="c17" d="M2853 2253l72 0 -55 -57 -72 64z"/>
<path d="M2798 2260l72 -64M2925 2253l-55 -57"/>
<path class="c22" d="M6346 2115l71 -42 -54 -14 -72 -9z"/>
<path d="M6291 2050l72 9M6417 2073l-54 -14"/>
<path class="c26" d="M6165 2029l71 18 -54 -63 -72 -65z"/>
<path d="M6110 1919l72 65M6236 2047l-54 -63"/>
<path class="c23" d="M3518 2115l71 13 -54 -95 -72 39z"/>
<path d="M3463 2072l72 -39"/>
<path class="c24" d="M6472 2094l71 31 -54 -62 -72 10z"/>
<path d="M6417 2073l72 -10M6543 2125l-54 -62"/>
<path class="c39" d="M5315 1693l71 36 -54 -120 -72 1z"/>
<path d="M5260 1610l72 -1M5386 1729l-54 -120"/>
<path class="c36" d="M5369 1767l72 -64 -55 26 -71 -36z"/>
<path d="M5315 1693l71 36"/>
<path class="c14" d="M2512 2340l72 68 -55 -94 -72 102z"/>
<path d="M2457 2416l72 -102M2584 2408l-55 -94"/>
<path class="c25" d="M6038 2036l72 -117 -55 1 -71 108z"/>
<path d="M5984 2028l71 -108M6038 2036l-54 -8M6110 1919l-55 1"/>
<path class="c45" d="M4629 1553l71 -67 -54 35 -72 -11z"/>
<path d="M4574 1510l72 11M4700 1486l-54 35"/>
<path class="c39" d="M5441 1703l72 -85 -55 19 -72 92z"/>
<path d="M5386 1729l72 -92M5441 1703l-55 26M5513 1618l-55 19"/>
<path class="c35" d="M5622 1799l71 -44 -54 -28 -72 -5z"/>
<path d="M5567 1722l72 5M5693 1755l-54 -28"/>
<path class="c7" d="M2243 2488l71 -34 -54 -36 -72 24z"/>
<path d="M2188 2442l72 -24M2314 2454l-54 -36"/>
<path class="c19" d="M2979 2231l72 32 -55 -22 -71 12z"/>
<path d="M2925 2253l71 -12M3051 2263l-55 -22"/>
<path class="c21" d="M3589 2128l72 -142 -55 -17 -71 64z"/>
<path d="M3535 2033l71 -64M3589 2128l-54 -95"/>
<path class="c13" d="M2638 2372l72 30 -55 -66 -71 72z"/>
<path d="M2584 2408l71 -72"/>
<path class="c24" d="M6219 2073l72 -23 -55 -3 -71 -18z"/>
<path d="M6165 2029l71 18M6291 2050l-55 -3"/>
<path class="c10" d="M2117 2445l71 -3 -55 3 -71 -46z"/>
<path d="M2062 2399l71 46M2188 2442l-55 3"/>
<path class="c33" d="M5677 1852l71 -20 -55 -77 -71 44z"/>
<path d="M5622 1799l71 -44M5748 1832l-55 -77"/>
<path class="c21" d="M3446 2154l72 -39 -55 -43 -71 84z"/>
<path d="M3392 2156l71 -84M3518 2115l-55 -43"/>
<path class="c20" d="M3375 2190l71 -36 -54 2 -72 37z"/>
<path d="M3320 2193l72 -37M3446 2154l-54 2"/>
<path class="c4" d="M1649 2580l72 14 -55 -60 -71 -54z"/>
<path d="M1595 2480l71 54M1721 2594l-55 -60"/>
<path class="c41" d="M4557 1644l72 -91 -55 -43 -71 15z"/>
<path d="M4503 1525l71 -15M4557 1644l-54 -119M4629 1553l-55 -43"/>
<path class="c23" d="M3249 2124l71 69 -55 -30 -71 -19z"/>
<path d="M3194 2144l71 19M3320 2193l-55 -30"/>
<path class="c40" d="M4684 1663l71 -76 -55 -101 -71 67z"/>
<path d="M4629 1553l71 -67"/>
<path class="c39" d="M4469 1723l71 -4 -54 -42 -72 84z"/>
<path d="M4414 1761l72 -84"/>
<path class="c28" d="M3661 1986l71 -5 -54 -34 -72 22z"/>
<path d="M3606 1969l72 -22M3661 1986l-55 -17M3732 1981l-54 -34"/>
<path class="c3" d="M1523 2596l72 -116 -55 29 -71 18z"/>
<path d="M1469 2527l71 -18M1595 2480l-55 29"/>
<path class="c27" d="M3859 1989l71 -78 -54 21 -72 -24z"/>
<path d="M3804 1908l72 24M3930 1911l-54 21"/>
<path class="c39" d="M4271 1736l72 4 -55 -37 -72 122z"/>
<path d="M4216 1825l72 -122M4343 1740l-55 -37"/>
<path class="c44" d="M4612 1610l72 53 -55 -110 -72 91z"/>
<path d="M4557 1644l72 -91M4684 1663l-55 -110"/>
<path class="c10" d="M2710 2402l71 -107 -54 -54 -72 95z"/>
<path d="M2655 2336l72 -95M2710 2402l-55 -66"/>
<path class="c5" d="M1847 2559l72 -45 -55 -71 -71 64z"/>
<path d="M1793 2507l71 -64M1919 2514l-55 -71"/>
<path class="c49" d="M4827 1471l71 -2 -55 -10 -71 14z"/>
<path d="M4772 1473l71 -14M4898 1469l-55 -10"/>
<path class="c43" d="M4738 1621l72 23 -55 -57 -71 76z"/>
<path d="M4684 1663l71 -76"/>
<path class="c38" d="M4540 1719l72 -109 -55 34 -71 33z"/>
<path d="M4486 1677l71 -33M4540 1719l-54 -42M4612 1610l-55 34"/>
<path class="c43" d="M5134 1608l71 -51 -54 -34 -72 16z"/>
<path d="M5079 1539l72 -16M5205 1557l-54 -34"/>
<path class="c4" d="M1452 2588l71 8 -54 -69 -72 36z"/>
<path d="M1397 2563l72 -36M1452 2588l-55 -25M1523 2596l-54 -69"/>
<path class="c16" d="M2781 2295l72 -42 -55 7 -71 -19z"/>
<path d="M2727 2241l71 19M2781 2295l-54 -54M2853 2253l-55 7"/>
<path class="c7" d="M1776 2535l71 24 -54 -52 -72 87z"/>
<path d="M1721 2594l72 -87M1847 2559l-54 -52"/>
<path class="c26" d="M3787 2025l72 -36 -55 -81 -72 73z"/>
<path d="M3732 1981l72 -73M3859 1989l-55 -81"/>
<path class="c6" d="M2298 2537l71 -44 -55 -39 -71 34z"/>
<path d="M2243 2488l71 -34"/>
<path class="c41" d="M4936 1654l72 -34 -55 -87 -72 10z"/>
<path d="M5008 1620l-55 -87"/>
<path class="c26" d="M3913 2037l72 -24 -55 -102 -71 78z"/>
<path d="M3859 1989l71 -78"/>
<path class="c22" d="M6274 2132l72 -17 -55 -65 -72 23z"/>
<path d="M6219 2073l72 -23M6346 2115l-55 -65"/>
<path class="c34" d="M5731 1856l72 23 -55 -47 -71 20z"/>
<path d="M5677 1852l71 -20M5803 1879l-55 -47"/>
<path class="c36" d="M4397 1790l72 -67 -55 38 -71 -21z"/>
<path d="M4343 1740l71 21M4469 1723l-55 38"/>
<path class="c25" d="M6093 2058l72 -29 -55 -110 -72 117z"/>
<path d="M6038 2036l72 -117M6165 2029l-55 -110"/>
<path class="c43" d="M4755 1587l72 -116 -55 2 -72 13z"/>
<path d="M4700 1486l72 -13M4755 1587l-55 -101M4827 1471l-55 2"/>
<path class="c30" d="M5841 1961l71 78 -54 -66 -72 -25z"/>
<path d="M5912 2039l-54 -66"/>
<path class="c43" d="M5062 1622l72 -14 -55 -69 -71 81z"/>
<path d="M5008 1620l71 -81M5134 1608l-55 -69"/>
<path class="c40" d="M4864 1685l72 -31 -55 -111 -71 101z"/>
<path d="M4936 1654l-55 -111"/>
<path class="c24" d="M3842 2077l71 -40 -54 -48 -72 36z"/>
<path d="M3787 2025l72 -36M3913 2037l-54 -48"/>
<path class="c30" d="M5786 1948l72 25 -55 -94 -72 -23z"/>
<path d="M5786 1948l72 25M5731 1856l72 23M5858 1973l-55 -94"/>
<path class="c41" d="M5188 1668l72 -58 -55 -53 -71 51z"/>
<path d="M5134 1608l71 -51M5260 1610l-55 -53"/>
<path class="c36" d="M5424 1792l72 -38 -55 -51 -72 64z"/>
<path d="M5369 1767l72 -64"/>
<path class="c31" d="M5605 1896l72 -44 -55 -53 -72 -14z"/>
<path d="M5677 1852l-55 -53"/>
<path class="c35" d="M5298 1800l71 -33 -54 -74 -72 -1z"/>
<path d="M5369 1767l-54 -74"/>
<path class="c23" d="M6400 2118l72 -24 -55 -21 -71 42z"/>
<path d="M6346 2115l71 -42M6472 2094l-55 -21"/>
<path class="c2" d="M1578 2628l71 -48 -54 -100 -72 116z"/>
<path d="M1523 2596l72 -116M1649 2580l-54 -100"/>
<path class="c34" d="M4057 1863l71 37 -55 -34 -71 17z"/>
<path d="M4002 1883l71 -17"/>
<path class="c31" d="M4128 1900l72 -125 -55 -2 -72 93z"/>
<path d="M4073 1866l72 -93M4128 1900l-55 -34"/>
<path class="c36" d="M5550 1785l72 14 -55 -77 -71 32z"/>
<path d="M5550 1785l72 14M5622 1799l-55 -77"/>
<path class="c41" d="M4810 1644l71 -101 -54 -72 -72 116z"/>
<path d="M4810 1644l71 -101M4755 1587l72 -116M4810 1644l-55 -57"/>
<path class="c5" d="M1974 2558l71 -110 -55 31 -71 35z"/>
<path d="M1919 2514l71 -35"/>
<path class="c5" d="M1902 2564l72 -6 -55 -44 -72 45z"/>
<path d="M1847 2559l72 -45M1974 2558l-55 -44"/>
<path class="c37" d="M5496 1754l71 -32 -54 -104 -72 85z"/>
<path d="M5496 1754l71 -32M5441 1703l72 -85M5496 1754l-55 -51M5567 1722l-54 -104"/>
<path class="c8" d="M2171 2482l72 6 -55 -46 -71 3z"/>
<path d="M2117 2445l71 -3M2243 2488l-55 -46"/>
<path class="c37" d="M4200 1775l71 -39 -55 89 -71 -52z"/>
<path d="M4145 1773l71 52M4200 1775l-55 -2M4271 1736l-55 89"/>
<path class="c39" d="M5117 1717l71 -49 -54 -60 -72 14z"/>
<path d="M5062 1622l72 -14M5188 1668l-54 -60"/>
<path class="c3" d="M1704 2613l72 -78 -55 59 -72 -14z"/>
<path d="M1649 2580l72 14M1776 2535l-55 59"/>
<path class="c40" d="M5243 1692l72 1 -55 -83 -72 58z"/>
<path d="M5243 1692l72 1M5188 1668l72 -58M5315 1693l-55 -83"/>
<path class="c23" d="M3644 2114l72 -121 -55 -7 -72 142z"/>
<path d="M3589 2128l72 -142"/>
<path class="c27" d="M6022 2028l71 30 -55 -22 -71 29z"/>
<path d="M5967 2065l71 -29M6093 2058l-55 -22"/>
<path class="c14" d="M2441 2349l71 -9 -55 76 -71 -18z"/>
<path d="M2386 2398l71 18M2512 2340l-55 76"/>
<path class="c35" d="M5353 1815l71 -23 -55 -25 -71 33z"/>
<path d="M5298 1800l71 -33M5424 1792l-55 -25"/>
<path class="c24" d="M6148 2082l71 -9 -54 -44 -72 29z"/>
<path d="M6093 2058l72 -29M6219 2073l-54 -44"/>
<path class="c36" d="M5172 1777l71 -85 -55 -24 -71 49z"/>
<path d="M5117 1717l71 -49M5243 1692l-55 -24"/>
<path class="c2" d="M1506 2632l72 -4 -55 -32 -71 -8z"/>
<path d="M1452 2588l71 8M1506 2632l-54 -44M1578 2628l-55 -32"/>
<path class="c7" d="M2369 2493l72 -144 -55 49 -72 56z"/>
<path d="M2314 2454l72 -56M2369 2493l-55 -39M2441 2349l-55 49"/>
<path class="c43" d="M4991 1636l71 -14 -54 -2 -72 34z"/>
<path d="M4936 1654l72 -34M5062 1622l-54 -2"/>
<path class="c46" d="M4881 1543l72 -10 -55 -64 -71 2z"/>
<path d="M4881 1543l72 -10M4827 1471l71 -2M4881 1543l-54 -72M4953 1533l-55 -64"/>
<path class="c10" d="M2045 2448l72 -3 -55 -46 -72 80z"/>
<path d="M1990 2479l72 -80M2045 2448l-55 31M2117 2445l-55 -46"/>
<path class="c26" d="M3985 2013l72 -150 -55 20 -72 28z"/>
<path d="M3930 1911l72 -28M3985 2013l-55 -102M4057 1863l-55 20"/>
<path class="c26" d="M5895 2045l72 20 -55 -26 -71 -78z"/>
<path d="M5841 1961l71 78M5967 2065l-55 -26"/>
<path class="c38" d="M4524 1763l71 23 -55 -67 -71 4z"/>
<path d="M4469 1723l71 -4"/>
<path class="c31" d="M5660 1926l71 -70 -54 -4 -72 44z"/>
<path d="M5605 1896l72 -44M5731 1856l-54 -4"/>
<path class="c28" d="M3573 2036l71 78 -55 14 -71 -13z"/>
<path d="M3518 2115l71 13M3644 2114l-55 14"/>
<path class="c18" d="M3177 2233l72 -109 -55 20 -72 13z"/>
<path d="M3122 2157l72 -13M3249 2124l-55 20"/>
<path class="c29" d="M3716 1993l71 32 -55 -44 -71 5z"/>
<path d="M3661 1986l71 -5M3716 1993l-55 -7M3787 2025l-55 -44"/>
<path class="c2" d="M1633 2652l71 -39 -55 -33 -71 48z"/>
<path d="M1578 2628l71 -48M1704 2613l-55 -33"/>
<path class="c12" d="M2567 2399l71 -27 -54 36 -72 -68z"/>
<path d="M2512 2340l72 68M2638 2372l-54 36"/>
<path class="c21" d="M3105 2195l72 38 -55 -76 -71 106z"/>
<path d="M3051 2263l71 -106M3177 2233l-55 -76"/>
<path class="c36" d="M4595 1786l72 -133 -55 -43 -72 109z"/>
<path d="M4540 1719l72 -109M4595 1786l-55 -67"/>
<path class="c31" d="M4183 1920l71 -15 -54 -130 -72 125z"/>
<path d="M4128 1900l72 -125"/>
<path class="c41" d="M4793 1676l71 9 -54 -41 -72 -23z"/>
<path d="M4738 1621l72 23M4864 1685l-54 -41"/>
<path class="c40" d="M4919 1694l72 -58 -55 18 -72 31z"/>
<path d="M4864 1685l72 -31M4991 1636l-55 18"/>
<path class="c22" d="M6203 2148l71 -16 -55 -59 -71 9z"/>
<path d="M6148 2082l71 -9M6274 2132l-55 -59"/>
<path class="c20" d="M2908 2221l71 10 -54 22 -72 0z"/>
<path d="M2853 2253l72 0M2979 2231l-54 22"/>
<path class="c42" d="M4667 1653l71 -32 -54 42 -72 -53z"/>
<path d="M4612 1610l72 53M4667 1653l-55 -43M4738 1621l-54 42"/>
<path class="c18" d="M2765 2278l71 99 -55 -82 -71 107z"/>
<path d="M2710 2402l71 -107"/>
<path class="c23" d="M6329 2121l71 -3 -54 -3 -72 17z"/>
<path d="M6274 2132l72 -17M6400 2118l-54 -3"/>
<path class="c12" d="M2836 2377l72 -156 -55 32 -72 42z"/>
<path d="M2781 2295l72 -42M2836 2377l-55 -82M2908 2221l-55 32"/>
<path class="c38" d="M5226 1765l72 35 -55 -108 -71 85z"/>
<path d="M5172 1777l71 -85M5298 1800l-55 -108"/>
<path class="c8" d="M2226 2509l72 28 -55 -49 -72 -6z"/>
<path d="M2171 2482l72 6M2298 2537l-55 -49"/>
<path class="c39" d="M5100 1747l72 30 -55 -60 -72 14z"/>
<path d="M5172 1777l-55 -60"/>
<path class="c22" d="M3303 2163l72 27 -55 3 -71 -69z"/>
<path d="M3249 2124l71 69M3375 2190l-55 3"/>
<path class="c39" d="M5045 1731l72 -14 -55 -95 -71 14z"/>
<path d="M5045 1731l72 -14M4991 1636l71 -14M5117 1717l-55 -95"/>
<path class="c36" d="M4650 1803l71 -63 -54 -87 -72 133z"/>
<path d="M4595 1786l72 -133"/>
<path class="c36" d="M5479 1812l71 -27 -54 -31 -72 38z"/>
<path d="M5424 1792l72 -38M5550 1785l-54 -31"/>
<path class="c29" d="M5714 1980l72 -32 -55 -92 -71 70z"/>
<path d="M5660 1926l71 -70M5786 1948l-55 -92"/>
<path class="c37" d="M4848 1776l71 -82 -55 -9 -71 -9z"/>
<path d="M4793 1676l71 9M4919 1694l-55 -9"/>
<path class="c32" d="M5534 1891l71 5 -55 -111 -71 27z"/>
<path d="M5479 1812l71 -27M5605 1896l-55 -111"/>
<path class="c4" d="M1830 2603l72 -39 -55 -5 -71 -24z"/>
<path d="M1776 2535l71 24M1902 2564l-55 -5"/>
<path class="c28" d="M4237 1987l72 -108 -55 26 -71 15z"/>
<path d="M4183 1920l71 -15"/>
<path class="c36" d="M4578 1805l72 -2 -55 -17 -71 -23z"/>
<path d="M4524 1763l71 23M4650 1803l-55 -17"/>
<path class="c33" d="M5281 1868l72 -53 -55 -15 -72 -35z"/>
<path d="M5226 1765l72 35M5353 1815l-55 -15"/>
<path class="c7" d="M2352 2527l72 -54 -55 20 -71 44z"/>
<path d="M2298 2537l71 -44"/>
<path class="c31" d="M4111 1934l72 -14 -55 -20 -71 -37z"/>
<path d="M4057 1863l71 37M4183 1920l-55 -20"/>
<path class="c23" d="M5950 2112l72 -84 -55 37 -72 -20z"/>
<path d="M5895 2045l72 20M6022 2028l-55 37"/>
<path class="c10" d="M2693 2436l72 -158 -55 124 -72 -30z"/>
<path d="M2638 2372l72 30M2765 2278l-55 124"/>
<path class="c33" d="M5588 1900l72 26 -55 -30 -71 -5z"/>
<path d="M5534 1891l71 5M5660 1926l-55 -30"/>
<path class="c33" d="M5407 1877l72 -65 -55 -20 -71 23z"/>
<path d="M5353 1815l71 -23M5479 1812l-55 -20"/>
<path class="c18" d="M3034 2263l71 -68 -54 68 -72 -32z"/>
<path d="M2979 2231l72 32M3105 2195l-54 68"/>
<path class="c27" d="M3770 2045l72 32 -55 -52 -71 -32z"/>
<path d="M3716 1993l71 32M3842 2077l-55 -52"/>
<path class="c2" d="M1561 2651l72 1 -55 -24 -72 4z"/>
<path d="M1506 2632l72 -4M1561 2651l-55 -19M1633 2652l-55 -24"/>
<path class="c27" d="M5769 2027l72 -66 -55 -13 -72 32z"/>
<path d="M5714 1980l72 -32M5841 1961l-55 -13"/>
<path class="c22" d="M3501 2155l72 -119 -55 79 -72 39z"/>
<path d="M3446 2154l72 -39M3573 2036l-55 79"/>
<path class="c22" d="M3430 2158l71 -3 -55 -1 -71 36z"/>
<path d="M3375 2190l71 -36M3501 2155l-55 -1"/>
<path class="c28" d="M3968 2014l72 -94 -55 93 -72 24z"/>
<path d="M3913 2037l72 -24"/>
<path class="c40" d="M4326 1728l71 62 -54 -50 -72 -4z"/>
<path d="M4271 1736l72 4M4397 1790l-54 -50"/>
<path class="c26" d="M3897 2052l71 -38 -55 23 -71 40z"/>
<path d="M3842 2077l71 -40M3968 2014l-55 23"/>
<path class="c8" d="M2100 2495l71 -13 -54 -37 -72 3z"/>
<path d="M2045 2448l72 -3M2171 2482l-54 -37"/>
<path class="c38" d="M4452 1764l72 -1 -55 -40 -72 67z"/>
<path d="M4397 1790l72 -67M4524 1763l-55 -40"/>
<path class="c33" d="M4309 1879l72 38 -55 -189 -72 177z"/>
<path d="M4309 1879l-55 26"/>
<path class="c24" d="M6076 2096l72 -14 -55 -24 -71 -30z"/>
<path d="M6022 2028l71 30M6148 2082l-55 -24"/>
<path class="c38" d="M4721 1740l72 -64 -55 -55 -71 32z"/>
<path d="M4667 1653l71 -32M4721 1740l-54 -87M4793 1676l-55 -55"/>
<path class="c39" d="M4776 1749l72 27 -55 -100 -72 64z"/>
<path d="M4721 1740l72 -64M4848 1776l-55 -100"/>
<path class="c34" d="M5336 1869l71 8 -54 -62 -72 53z"/>
<path d="M5281 1868l72 -53M5407 1877l-54 -62"/>
<path class="c31" d="M4254 1905l72 -177 -55 8 -71 39z"/>
<path d="M4254 1905l72 -177M4200 1775l71 -39M4254 1905l-54 -130M4326 1728l-55 8"/>
<path class="c31" d="M4381 1917l71 -153 -55 26 -71 -62z"/>
<path d="M4326 1728l71 62M4381 1917l-55 -189M4452 1764l-55 26"/>
<path class="c22" d="M6131 2163l72 -15 -55 -66 -72 14z"/>
<path d="M6076 2096l72 -14M6203 2148l-55 -66"/>
<path class="c26" d="M5698 2063l71 -36 -55 -47 -71 2z"/>
<path d="M5769 2027l-55 -47"/>
<path class="c32" d="M4040 1920l71 14 -54 -71 -72 150z"/>
<path d="M3985 2013l72 -150M4040 1920l-55 93M4111 1934l-54 -71"/>
<path class="c35" d="M4705 1824l71 -75 -55 -9 -71 63z"/>
<path d="M4650 1803l71 -63M4776 1749l-55 -9"/>
<path class="c4" d="M1957 2607l71 -121 -54 72 -72 6z"/>
<path d="M1902 2564l72 -6"/>
<path class="c13" d="M2962 2354l72 -91 -55 -32 -71 -10z"/>
<path d="M2908 2221l71 10M3034 2263l-55 -32"/>
<path class="c37" d="M4902 1790l72 -74 -55 -22 -71 82z"/>
<path d="M4848 1776l71 -82"/>
<path class="c33" d="M4633 1879l72 -55 -55 -21 -72 2z"/>
<path d="M4578 1805l72 -2M4705 1824l-55 -21"/>
<path class="c4" d="M2154 2591l72 -82 -55 -27 -71 13z"/>
<path d="M2100 2495l71 -13M2226 2509l-55 -27"/>
<path class="c40" d="M4974 1716l71 15 -54 -95 -72 58z"/>
<path d="M4919 1694l72 -58M4974 1716l-55 -22M5045 1731l-54 -95"/>
<path class="c29" d="M5643 1982l71 -2 -54 -54 -72 -26z"/>
<path d="M5643 1982l71 -2M5588 1900l72 26M5714 1980l-54 -54"/>
<path class="c3" d="M1885 2636l72 -29 -55 -43 -72 39z"/>
<path d="M1830 2603l72 -39M1957 2607l-55 -43"/>
<path class="c23" d="M6257 2138l72 -17 -55 11 -71 16z"/>
<path d="M6203 2148l71 -16M6329 2121l-55 11"/>
<path class="c24" d="M3699 2098l71 -53 -54 -52 -72 121z"/>
<path d="M3644 2114l72 -121M3770 2045l-54 -52"/>
<path class="c32" d="M4166 1933l71 54 -54 -67 -72 14z"/>
<path d="M4111 1934l72 -14M4237 1987l-54 -67"/>
<path class="c26" d="M5824 2060l71 -15 -54 -84 -72 66z"/>
<path d="M5769 2027l72 -66M5895 2045l-54 -84"/>
<path class="c21" d="M3232 2196l71 -33 -54 -39 -72 109z"/>
<path d="M3177 2233l72 -109M3303 2163l-54 -39"/>
<path class="c9" d="M2424 2473l71 -66 -54 -58 -72 144z"/>
<path d="M2369 2493l72 -144M2424 2473l-55 20"/>
<path class="c21" d="M6005 2169l71 -73 -54 -68 -72 84z"/>
<path d="M5950 2112l72 -84M6076 2096l-54 -68"/>
<path class="c17" d="M3358 2262l72 -104 -55 32 -72 -27z"/>
<path d="M3303 2163l72 27M3430 2158l-55 32"/>
<path class="c35" d="M4831 1838l71 -48 -54 -14 -72 -27z"/>
<path d="M4776 1749l72 27M4902 1790l-54 -14"/>
<path class="c18" d="M2891 2288l71 66 -54 -133 -72 156z"/>
<path d="M2836 2377l72 -156M2962 2354l-54 -133"/>
<path class="c34" d="M5462 1865l72 26 -55 -79 -72 65z"/>
<path d="M5407 1877l72 -65M5534 1891l-55 -79"/>
<path class="c38" d="M5155 1779l71 -14 -54 12 -72 -30z"/>
<path d="M5100 1747l72 30M5226 1765l-54 12"/>
<path class="c10" d="M2028 2486l72 9 -55 -47 -71 110z"/>
<path d="M1974 2558l71 -110M2028 2486l-54 72M2100 2495l-55 -47"/>
<path class="c30" d="M4364 1949l71 -79 -54 47 -72 -38z"/>
<path d="M4309 1879l72 38"/>
<path class="c1" d="M1687 2685l72 -125 -55 53 -71 39z"/>
<path d="M1633 2652l71 -39"/>
<path class="c7" d="M1759 2560l71 43 -54 -68 -72 78z"/>
<path d="M1704 2613l72 -78M1759 2560l-55 53M1830 2603l-54 -68"/>
<path class="c12" d="M2495 2407l72 -8 -55 -59 -71 9z"/>
<path d="M2441 2349l71 -9M2495 2407l-54 -58M2567 2399l-55 -59"/>
<path class="c22" d="M3627 2160l72 -62 -55 16 -71 -78z"/>
<path d="M3573 2036l71 78M3699 2098l-55 16"/>
<path class="c16" d="M2622 2347l71 89 -55 -64 -71 27z"/>
<path d="M2567 2399l71 -27M2693 2436l-55 -64"/>
<path class="c34" d="M4435 1870l72 -22 -55 -84 -71 153z"/>
<path d="M4381 1917l71 -153M4435 1870l-54 47"/>
<path class="c37" d="M5029 1787l71 -40 -55 -16 -71 -15z"/>
<path d="M4974 1716l71 15M5100 1747l-55 -16"/>
<path class="c30" d="M4292 1971l72 -22 -55 -70 -72 108z"/>
<path d="M4237 1987l72 -108M4364 1949l-55 -70"/>
<path class="c26" d="M3825 2077l72 -25 -55 25 -72 -32z"/>
<path d="M3770 2045l72 32M3897 2052l-55 25"/>
<path class="c35" d="M4507 1848l71 -43 -54 -42 -72 1z"/>
<path d="M4452 1764l72 -1M4507 1848l-55 -84M4578 1805l-54 -42"/>
<path class="c19" d="M3160 2234l72 -38 -55 37 -72 -38z"/>
<path d="M3105 2195l72 38M3232 2196l-55 37"/>
<path class="c26" d="M5879 2073l71 39 -55 -67 -71 15z"/>
<path d="M5824 2060l71 -15M5950 2112l-55 -67"/>
<path class="c1" d="M1616 2684l71 1 -54 -33 -72 -1z"/>
<path d="M1561 2651l72 1M1616 2684l-55 -33M1687 2685l-54 -33"/>
<path class="c10" d="M2281 2483l71 44 -54 10 -72 -28z"/>
<path d="M2226 2509l72 28M2352 2527l-54 10"/>
<path class="c22" d="M6060 2163l71 0 -55 -67 -71 73z"/>
<path d="M6005 2169l71 -73M6131 2163l-55 -67"/>
<path class="c21" d="M5933 2177l72 -8 -55 -57 -71 -39z"/>
<path d="M5879 2073l71 39M6005 2169l-55 -57"/>
<path class="c26" d="M5752 2063l72 -3 -55 -33 -71 36z"/>
<path d="M5698 2063l71 -36M5824 2060l-55 -33"/>
<path class="c33" d="M5083 1885l72 -106 -55 -32 -71 40z"/>
<path d="M5029 1787l71 -40M5155 1779l-55 -32"/>
<path class="c33" d="M4886 1880l71 -65 -55 -25 -71 48z"/>
<path d="M4831 1838l71 -48"/>
<path class="c0" d="M1814 2702l71 -66 -55 -33 -71 -43z"/>
<path d="M1759 2560l71 43M1885 2636l-55 -33"/>
<path class="c26" d="M5626 2071l72 -8 -55 -81 -72 35z"/>
<path d="M5698 2063l-55 -81"/>
<path class="c18" d="M3286 2256l72 6 -55 -99 -71 33z"/>
<path d="M3232 2196l71 -33M3358 2262l-55 -99"/>
<path class="c30" d="M5517 1959l71 -59 -54 -9 -72 -26z"/>
<path d="M5462 1865l72 26M5588 1900l-54 -9"/>
<path class="c12" d="M2819 2404l72 -116 -55 89 -71 -99z"/>
<path d="M2765 2278l71 99M2891 2288l-55 89"/>
<path class="c36" d="M5210 1821l71 47 -55 -103 -71 14z"/>
<path d="M5155 1779l71 -14M5281 1868l-55 -103"/>
<path class="c35" d="M4561 1851l72 28 -55 -74 -71 43z"/>
<path d="M4507 1848l71 -43M4633 1879l-55 -74"/>
<path class="c36" d="M4957 1815l72 -28 -55 -71 -72 74z"/>
<path d="M4902 1790l72 -74M4957 1815l-55 -25M5029 1787l-55 -71"/>
<path class="c28" d="M5571 2017l72 -35 -55 -82 -71 59z"/>
<path d="M5571 2017l72 -35M5517 1959l71 -59M5643 1982l-55 -82"/>
<path class="c6" d="M2083 2565l71 26 -54 -96 -72 -9z"/>
<path d="M2028 2486l72 9M2154 2591l-54 -96"/>
<path class="c25" d="M5500 2087l71 -70 -54 -58 -72 24z"/>
<path d="M5571 2017l-54 -58"/>
<path class="c29" d="M4616 1984l72 -75 -55 -30 -72 -28z"/>
<path d="M4561 1851l72 28"/>
<path class="c23" d="M6186 2147l71 -9 -54 10 -72 15z"/>
<path d="M6131 2163l72 -15M6257 2138l-54 10"/>
<path class="c4" d="M2209 2604l72 -121 -55 26 -72 82z"/>
<path d="M2154 2591l72 -82M2281 2483l-55 26"/>
<path class="c23" d="M3556 2156l71 4 -54 -124 -72 119z"/>
<path d="M3501 2155l72 -119M3627 2160l-54 -124"/>
<path class="c14" d="M2748 2390l71 14 -54 -126 -72 158z"/>
<path d="M2693 2436l72 -158M2819 2404l-54 -126"/>
<path class="c29" d="M4221 1997l71 -26 -55 16 -71 -54z"/>
<path d="M4166 1933l71 54M4292 1971l-55 16"/>
<path class="c35" d="M5012 1849l71 36 -54 -98 -72 28z"/>
<path d="M4957 1815l72 -28M5083 1885l-54 -98"/>
<path class="c18" d="M3017 2285l72 -18 -55 -4 -72 91z"/>
<path d="M2962 2354l72 -91"/>
<path class="c23" d="M3754 2138l71 -61 -55 -32 -71 53z"/>
<path d="M3699 2098l71 -53M3825 2077l-55 -32"/>
<path class="c32" d="M4688 1909l71 -112 -54 27 -72 55z"/>
<path d="M4633 1879l72 -55M4688 1909l-55 -30"/>
<path class="c33" d="M5264 1891l72 -22 -55 -1 -71 -47z"/>
<path d="M5210 1821l71 47M5336 1869l-55 -1"/>
<path class="c33" d="M5390 1897l72 -32 -55 12 -71 -8z"/>
<path d="M5336 1869l71 8M5462 1865l-55 12"/>
<path class="c1" d="M1742 2697l72 5 -55 -142 -72 125z"/>
<path d="M1687 2685l72 -125M1814 2702l-55 -142"/>
<path class="c38" d="M4759 1797l72 41 -55 -89 -71 75z"/>
<path d="M4705 1824l71 -75M4759 1797l-54 27M4831 1838l-55 -89"/>
<path class="c33" d="M5138 1900l72 -79 -55 -42 -72 106z"/>
<path d="M5083 1885l72 -106M5210 1821l-55 -42"/>
<path class="c18" d="M3089 2267l71 -33 -55 -39 -71 68z"/>
<path d="M3034 2263l71 -68M3089 2267l-55 -4M3160 2234l-55 -39"/>
<path class="c3" d="M1940 2658l71 -71 -54 20 -72 29z"/>
<path d="M1885 2636l72 -29"/>
<path class="c21" d="M3484 2202l72 -46 -55 -1 -71 3z"/>
<path d="M3430 2158l71 -3M3556 2156l-55 -1"/>
<path class="c29" d="M4094 2003l72 -70 -55 1 -71 -14z"/>
<path d="M4040 1920l71 14M4166 1933l-55 1"/>
<path class="c27" d="M4347 2038l71 -88 -54 -1 -72 22z"/>
<path d="M4292 1971l72 -22"/>
<path class="c2" d="M1868 2673l72 -15 -55 -22 -71 66z"/>
<path d="M1814 2702l71 -66M1940 2658l-55 -22"/>
<path class="c25" d="M3682 2110l72 28 -55 -40 -72 62z"/>
<path d="M3627 2160l72 -62M3754 2138l-55 -40"/>
<path class="c27" d="M5555 2057l71 14 -55 -54 -71 70z"/>
<path d="M5500 2087l71 -70M5626 2071l-55 -54"/>
<path class="c12" d="M2550 2434l72 -87 -55 52 -72 8z"/>
<path d="M2495 2407l72 -8M2622 2347l-55 52"/>
<path class="c33" d="M4814 1899l72 -19 -55 -42 -72 -41z"/>
<path d="M4759 1797l72 41M4886 1880l-55 -42"/>
<path class="c24" d="M5988 2154l72 9 -55 6 -72 8z"/>
<path d="M5933 2177l72 -8M6060 2163l-55 6"/>
<path class="c11" d="M2478 2464l72 -30 -55 -27 -71 66z"/>
<path d="M2424 2473l71 -66M2550 2434l-55 -27"/>
<path class="c30" d="M5445 1983l72 -24 -55 -94 -72 32z"/>
<path d="M5445 1983l72 -24M5390 1897l72 -32M5517 1959l-55 -94"/>
<path class="c29" d="M5319 1984l71 -87 -54 -28 -72 22z"/>
<path d="M5264 1891l72 -22M5390 1897l-54 -28"/>
<path class="c6" d="M2011 2587l72 -22 -55 -79 -71 121z"/>
<path d="M1957 2607l71 -121M2011 2587l-54 20M2083 2565l-55 -79"/>
<path class="c22" d="M3413 2200l71 2 -54 -44 -72 104z"/>
<path d="M3358 2262l72 -104M3484 2202l-54 -44"/>
<path class="c34" d="M5066 1885l72 15 -55 -15 -71 -36z"/>
<path d="M5012 1849l71 36M5138 1900l-55 -15"/>
<path class="c1" d="M1670 2710l72 -13 -55 -12 -71 -1z"/>
<path d="M1616 2684l71 1M1670 2710l-54 -26M1742 2697l-55 -12"/>
<path class="c29" d="M4023 2013l71 -10 -54 -83 -72 94z"/>
<path d="M3968 2014l72 -94M4094 2003l-54 -83"/>
<path class="c9" d="M2138 2538l71 66 -55 -13 -71 -26z"/>
<path d="M2083 2565l71 26M2209 2604l-55 -13"/>
<path class="c27" d="M4275 2047l72 -9 -55 -67 -71 26z"/>
<path d="M4221 1997l71 -26M4347 2038l-55 -67"/>
<path class="c29" d="M4545 1994l71 -10 -55 -133 -71 30z"/>
<path d="M4616 1984l-55 -133"/>
<path class="c31" d="M4418 1950l72 -69 -55 -11 -71 79z"/>
<path d="M4364 1949l71 -79M4418 1950l-54 -1"/>
<path class="c34" d="M4490 1881l71 -30 -54 -3 -72 22z"/>
<path d="M4490 1881l71 -30M4435 1870l72 -22M4490 1881l-55 -11M4561 1851l-54 -3"/>
<path class="c34" d="M4940 1887l72 -38 -55 -34 -71 65z"/>
<path d="M4886 1880l71 -65M5012 1849l-55 -34"/>
<path class="c29" d="M5374 2002l71 -19 -55 -86 -71 87z"/>
<path d="M5319 1984l71 -87M5445 1983l-55 -86"/>
<path class="c28" d="M3951 2039l72 -26 -55 1 -71 38z"/>
<path d="M3897 2052l71 -38M4023 2013l-55 1"/>
<path class="c28" d="M5681 2044l71 19 -54 0 -72 8z"/>
<path d="M5626 2071l72 -8M5752 2063l-54 0"/>
<path class="c11" d="M2407 2464l71 0 -54 9 -72 54z"/>
<path d="M2352 2527l72 -54M2478 2464l-54 9"/>
<path class="c21" d="M3215 2225l71 31 -54 -60 -72 38z"/>
<path d="M3160 2234l72 -38M3286 2256l-54 -60"/>
<path class="c27" d="M5247 2036l72 -52 -55 -93 -71 -16z"/>
<path d="M5319 1984l-55 -93"/>
<path class="c24" d="M3880 2128l71 -89 -54 13 -72 25z"/>
<path d="M3825 2077l72 -25M3951 2039l-54 13"/>
<path class="c33" d="M4671 1922l71 5 -54 -18 -72 75z"/>
<path d="M4616 1984l72 -75"/>
<path class="c26" d="M5807 2084l72 -11 -55 -13 -72 3z"/>
<path d="M5752 2063l72 -3M5879 2073l-55 -13"/>
<path class="c32" d="M4869 1928l71 -41 -54 -7 -72 19z"/>
<path d="M4814 1899l72 -19M4940 1887l-54 -7"/>
<path class="c32" d="M4742 1927l72 -28 -55 -102 -71 112z"/>
<path d="M4688 1909l71 -112M4742 1927l-54 -18M4814 1899l-55 -102"/>
<path class="c29" d="M4149 2013l72 -16 -55 -64 -72 70z"/>
<path d="M4094 2003l72 -70M4221 1997l-55 -64"/>
<path class="c30" d="M5302 2005l72 -3 -55 -18 -72 52z"/>
<path d="M5247 2036l72 -52M5374 2002l-55 -18"/>
<path class="c29" d="M5428 2015l72 72 -55 -104 -71 19z"/>
<path d="M5374 2002l71 -19M5500 2087l-55 -104"/>
<path class="c14" d="M2676 2390l72 0 -55 46 -71 -89z"/>
<path d="M2622 2347l71 89M2748 2390l-55 46"/>
<path class="c24" d="M3808 2130l72 -2 -55 -51 -71 61z"/>
<path d="M3754 2138l71 -61M3880 2128l-55 -51"/>
<path class="c35" d="M5193 1875l71 16 -54 -70 -72 79z"/>
<path d="M5193 1875l71 16M5138 1900l72 -79M5264 1891l-54 -70"/>
<path class="c13" d="M2802 2420l72 -35 -55 19 -71 -14z"/>
<path d="M2748 2390l71 14"/>
<path class="c3" d="M1797 2672l71 1 -54 29 -72 -5z"/>
<path d="M1742 2697l72 5M1868 2673l-54 29"/>
<path class="c24" d="M6114 2143l72 4 -55 16 -71 0z"/>
<path d="M6060 2163l71 0M6186 2147l-55 16"/>
<path class="c19" d="M2946 2271l71 14 -55 69 -71 -66z"/>
<path d="M2891 2288l71 66M3017 2285l-55 69"/>
<path class="c23" d="M3610 2158l72 -48 -55 50 -71 -4z"/>
<path d="M3556 2156l71 4M3682 2110l-55 50"/>
<path class="c22" d="M3341 2201l72 -1 -55 62 -72 -6z"/>
<path d="M3286 2256l72 6M3413 2200l-55 62"/>
<path class="c23" d="M5862 2155l71 22 -54 -104 -72 11z"/>
<path d="M5807 2084l72 -11M5933 2177l-54 -104"/>
<path class="c30" d="M4599 1990l72 -68 -55 62 -71 10z"/>
<path d="M4545 1994l71 -10M4671 1922l-55 62"/>
<path class="c16" d="M3143 2323l72 -98 -55 9 -71 33z"/>
<path d="M3089 2267l71 -33M3215 2225l-55 9"/>
<path class="c7" d="M2605 2537l71 -147 -54 -43 -72 87z"/>
<path d="M2550 2434l72 -87M2676 2390l-54 -43"/>
<path class="c15" d="M3072 2355l71 -32 -54 -56 -72 18z"/>
<path d="M3017 2285l72 -18M3143 2323l-54 -56"/>
<path class="c25" d="M4330 2109l72 -101 -55 30 -72 9z"/>
<path d="M4275 2047l72 -9"/>
<path class="c12" d="M2533 2460l72 77 -55 -103 -72 30z"/>
<path d="M2478 2464l72 -30M2605 2537l-55 -103"/>
<path class="c28" d="M4078 2040l71 -27 -55 -10 -71 10z"/>
<path d="M4023 2013l71 -10M4149 2013l-55 -10"/>
<path class="c14" d="M2874 2385l72 -114 -55 17 -72 116z"/>
<path d="M2819 2404l72 -116M2874 2385l-55 19M2946 2271l-55 17"/>
<path class="c22" d="M5736 2177l71 -93 -55 -21 -71 -19z"/>
<path d="M5681 2044l71 19M5807 2084l-55 -21"/>
<path class="c9" d="M2335 2523l72 -59 -55 63 -71 -44z"/>
<path d="M2281 2483l71 44M2407 2464l-55 63"/>
<path class="c28" d="M4204 2042l71 5 -54 -50 -72 16z"/>
<path d="M4149 2013l72 -16M4275 2047l-54 -50"/>
<path class="c22" d="M3539 2194l71 -36 -54 -2 -72 46z"/>
<path d="M3484 2202l72 -46M3610 2158l-54 -2"/>
<path class="c3" d="M1995 2672l71 -70 -55 -15 -71 71z"/>
<path d="M1940 2658l71 -71"/>
<path class="c32" d="M5121 1937l72 -62 -55 25 -72 -15z"/>
<path d="M5066 1885l72 15M5193 1875l-55 25"/>
<path class="c27" d="M5231 2065l71 -60 -55 31 -71 -39z"/>
<path d="M5302 2005l-55 31"/>
<path class="c30" d="M5176 1997l71 39 -54 -161 -72 62z"/>
<path d="M5176 1997l71 39M5121 1937l72 -62M5247 2036l-54 -161"/>
<path class="c2" d="M1923 2701l72 -29 -55 -14 -72 15z"/>
<path d="M1868 2673l72 -15M1995 2672l-55 -14"/>
<path class="c26" d="M5609 2102l72 -58 -55 27 -71 -14z"/>
<path d="M5555 2057l71 14M5681 2044l-55 27"/>
<path class="c24" d="M5916 2162l72 -8 -55 23 -71 -22z"/>
<path d="M5862 2155l71 22M5988 2154l-55 23"/>
<path class="c35" d="M4797 1895l72 33 -55 -29 -72 28z"/>
<path d="M4742 1927l72 -28M4869 1928l-55 -29"/>
<path class="c29" d="M5483 2046l72 11 -55 30 -72 -72z"/>
<path d="M5428 2015l72 72M5555 2057l-55 30"/>
<path class="c6" d="M2066 2602l72 -64 -55 27 -72 22z"/>
<path d="M2011 2587l72 -22M2066 2602l-55 -15M2138 2538l-55 27"/>
<path class="c35" d="M4473 1895l72 99 -55 -113 -72 69z"/>
<path d="M4418 1950l72 -69M4545 1994l-55 -113"/>
<path class="c24" d="M3737 2149l71 -19 -54 8 -72 -28z"/>
<path d="M3682 2110l72 28M3808 2130l-54 8"/>
<path class="c9" d="M2264 2535l71 -12 -54 -40 -72 121z"/>
<path d="M2209 2604l72 -121M2335 2523l-54 -40"/>
<path class="c20" d="M3467 2251l72 -57 -55 8 -71 -2z"/>
<path d="M3413 2200l71 2M3539 2194l-55 8"/>
<path class="c22" d="M3863 2197l71 -86 -54 17 -72 2z"/>
<path d="M3808 2130l72 -2"/>
<path class="c4" d="M2192 2644l72 -109 -55 69 -71 -66z"/>
<path d="M2138 2538l71 66M2264 2535l-55 69"/>
<path class="c30" d="M4402 2008l71 -113 -55 55 -71 88z"/>
<path d="M4347 2038l71 -88M4402 2008l-55 30M4473 1895l-55 55"/>
<path class="c37" d="M4995 1854l71 31 -54 -36 -72 38z"/>
<path d="M4940 1887l72 -38M5066 1885l-54 -36"/>
<path class="c18" d="M3270 2291l71 -90 -55 55 -71 -31z"/>
<path d="M3215 2225l71 31M3341 2201l-55 55"/>
<path class="c2" d="M1725 2709l72 -37 -55 25 -72 13z"/>
<path d="M1670 2710l72 -13M1725 2709l-55 1M1797 2672l-55 25"/>
<path class="c24" d="M5664 2157l72 20 -55 -133 -72 58z"/>
<path d="M5609 2102l72 -58M5736 2177l-55 -133"/>
<path class="c26" d="M5790 2117l72 38 -55 -71 -71 93z"/>
<path d="M5736 2177l71 -93M5862 2155l-55 -71"/>
<path class="c27" d="M5050 2042l71 -105 -55 -52 -71 -31z"/>
<path d="M4995 1854l71 31M5121 1937l-55 -52"/>
<path class="c30" d="M4923 1979l72 -125 -55 33 -71 41z"/>
<path d="M4869 1928l71 -41M4995 1854l-55 33"/>
<path class="c28" d="M4006 2047l72 -7 -55 -27 -72 26z"/>
<path d="M3951 2039l72 -26M4078 2040l-55 -27"/>
<path class="c19" d="M3665 2253l72 -104 -55 -39 -72 48z"/>
<path d="M3610 2158l72 -48M3737 2149l-55 -39"/>
<path class="c31" d="M5104 1985l72 12 -55 -60 -71 105z"/>
<path d="M5050 2042l71 -105M5176 1997l-55 -60"/>
<path class="c18" d="M3198 2300l72 -9 -55 -66 -72 98z"/>
<path d="M3143 2323l72 -98M3270 2291l-55 -66"/>
<path class="c26" d="M3934 2111l72 -64 -55 -8 -71 89z"/>
<path d="M3880 2128l71 -89M3934 2111l-54 17M4006 2047l-55 -8"/>
<path class="c24" d="M6043 2167l71 -24 -54 20 -72 -9z"/>
<path d="M5988 2154l72 9M6114 2143l-54 20"/>
<path class="c26" d="M4132 2088l72 -46 -55 -29 -71 27z"/>
<path d="M4078 2040l71 -27M4204 2042l-55 -29"/>
<path class="c29" d="M4258 2043l72 66 -55 -62 -71 -5z"/>
<path d="M4204 2042l71 5M4330 2109l-55 -62"/>
<path class="c30" d="M4978 2003l72 39 -55 -188 -72 125z"/>
<path d="M4923 1979l72 -125M5050 2042l-55 -188"/>
<path class="c15" d="M2731 2392l71 28 -54 -30 -72 0z"/>
<path d="M2676 2390l72 0M2802 2420l-54 -30"/>
<path class="c29" d="M4726 2010l71 -115 -55 32 -71 -5z"/>
<path d="M4671 1922l71 5M4797 1895l-55 32"/>
<path class="c12" d="M2659 2465l72 -73 -55 -2 -71 147z"/>
<path d="M2605 2537l71 -147M2731 2392l-55 -2"/>
<path class="c17" d="M3127 2331l71 -31 -55 23 -71 32z"/>
<path d="M3072 2355l71 -32M3198 2300l-55 23"/>
<path class="c29" d="M4654 2023l72 -13 -55 -88 -72 68z"/>
<path d="M4599 1990l72 -68M4726 2010l-55 -88"/>
<path class="c12" d="M2857 2445l72 -53 -55 -7 -72 35z"/>
<path d="M2802 2420l72 -35"/>
<path class="c30" d="M4528 2000l71 -10 -54 4 -72 -99z"/>
<path d="M4473 1895l72 99M4599 1990l-54 4"/>
<path class="c27" d="M5214 2087l71 69 -54 -91 -72 59z"/>
<path class="c17" d="M3000 2325l72 30 -55 -70 -71 -14z"/>
<path d="M2946 2271l71 14M3072 2355l-55 -70"/>
<path class="c25" d="M5159 2124l72 -59 -55 -68 -72 -12z"/>
<path d="M5159 2124l72 -59M5104 1985l72 12M5231 2065l-55 -68"/>
<path class="c30" d="M4852 1991l71 -12 -54 -51 -72 -33z"/>
<path d="M4797 1895l72 33M4923 1979l-54 -51"/>
<path class="c22" d="M5719 2211l71 -94 -54 60 -72 -20z"/>
<path d="M5664 2157l72 20M5790 2117l-54 60"/>
<path class="c24" d="M5538 2139l71 -37 -54 -45 -72 -11z"/>
<path d="M5483 2046l72 11M5609 2102l-54 -45"/>
<path class="c23" d="M4061 2163l71 -75 -54 -48 -72 7z"/>
<path d="M4006 2047l72 -7M4132 2088l-54 -48"/>
<path class="c23" d="M5285 2156l72 -163 -55 12 -71 60z"/>
<path d="M5231 2065l71 -60M5285 2156l-54 -91"/>
<path class="c10" d="M2462 2503l71 -43 -55 4 -71 0z"/>
<path d="M2407 2464l71 0M2533 2460l-55 4"/>
<path class="c31" d="M5357 1993l71 22 -54 -13 -72 3z"/>
<path d="M5302 2005l72 -3M5357 1993l-55 12M5428 2015l-54 -13"/>
<path class="c12" d="M3055 2448l72 -117 -55 24 -72 -30z"/>
<path d="M3000 2325l72 30M3127 2331l-55 24"/>
<path class="c12" d="M2588 2470l71 -5 -54 72 -72 -77z"/>
<path d="M2533 2460l72 77M2659 2465l-54 72"/>
<path class="c29" d="M4907 2034l71 -31 -55 -24 -71 12z"/>
<path d="M4852 1991l71 -12M4978 2003l-55 -24"/>
<path class="c26" d="M4385 2101l71 -96 -54 3 -72 101z"/>
<path d="M4330 2109l72 -101"/>
<path class="c7" d="M2390 2567l72 -64 -55 -39 -72 59z"/>
<path d="M2335 2523l72 -59M2462 2503l-55 -39"/>
<path class="c25" d="M3791 2158l72 39 -55 -67 -71 19z"/>
<path d="M3737 2149l71 -19M3863 2197l-55 -67"/>
<path class="c24" d="M5592 2161l72 -4 -55 -55 -71 37z"/>
<path d="M5538 2139l71 -37M5664 2157l-55 -55"/>
<path class="c7" d="M2121 2596l71 48 -54 -106 -72 64z"/>
<path d="M2066 2602l72 -64M2192 2644l-54 -106"/>
<path class="c14" d="M2929 2392l71 -67 -54 -54 -72 114z"/>
<path d="M2874 2385l72 -114M2929 2392l-55 -7M3000 2325l-54 -54"/>
<path class="c21" d="M3396 2244l71 7 -54 -51 -72 1z"/>
<path d="M3341 2201l72 -1M3467 2251l-54 -51"/>
<path class="c29" d="M4780 2030l72 -39 -55 -96 -71 115z"/>
<path d="M4726 2010l71 -115M4852 1991l-55 -96"/>
<path class="c30" d="M5033 2015l71 -30 -54 57 -72 -39z"/>
<path d="M4978 2003l72 39M5104 1985l-54 57"/>
<path class="c16" d="M3324 2349l72 -105 -55 -43 -71 90z"/>
<path d="M3270 2291l71 -90M3396 2244l-55 -43"/>
<path class="c20" d="M3720 2246l71 -88 -54 -9 -72 104z"/>
<path d="M3665 2253l72 -104M3791 2158l-54 -9"/>
<path class="c3" d="M2049 2688l72 -92 -55 6 -71 70z"/>
<path d="M1995 2672l71 -70M2121 2596l-55 6"/>
<path class="c20" d="M5647 2256l72 -45 -55 -54 -72 4z"/>
<path d="M5592 2161l72 -4M5719 2211l-55 -54"/>
<path class="c29" d="M4582 2034l72 -11 -55 -33 -71 10z"/>
<path d="M4528 2000l71 -10M4654 2023l-55 -33"/>
<path class="c5" d="M1851 2647l72 54 -55 -28 -71 -1z"/>
<path d="M1797 2672l71 1M1923 2701l-55 -28"/>
<path class="c7" d="M2319 2593l71 -26 -55 -44 -71 12z"/>
<path d="M2264 2535l71 -12M2390 2567l-55 -44"/>
<path class="c26" d="M3594 2132l71 121 -55 -95 -71 36z"/>
<path d="M3539 2194l71 -36M3665 2253l-55 -95"/>
<path class="c26" d="M3989 2121l72 42 -55 -116 -72 64z"/>
<path d="M3934 2111l72 -64M4061 2163l-55 -116"/>
<path class="c30" d="M4709 2023l71 7 -54 -20 -72 13z"/>
<path d="M4654 2023l72 -13M4780 2030l-54 -20"/>
<path class="c26" d="M4187 2121l71 -78 -54 -1 -72 46z"/>
<path d="M4132 2088l72 -46M4258 2043l-54 -1"/>
<path class="c19" d="M3253 2297l71 52 -54 -58 -72 9z"/>
<path d="M3198 2300l72 -9M3324 2349l-54 -58"/>
<path class="c27" d="M4115 2110l72 11 -55 -33 -71 75z"/>
<path d="M4061 2163l71 -75M4187 2121l-55 -33"/>
<path class="c7" d="M2247 2604l72 -11 -55 -58 -72 109z"/>
<path d="M2192 2644l72 -109M2319 2593l-55 -58"/>
<path class="c5" d="M1978 2648l71 40 -54 -16 -72 29z"/>
<path d="M1923 2701l72 -29M2049 2688l-54 -16"/>
<path class="c28" d="M4835 2059l72 -25 -55 -43 -72 39z"/>
<path d="M4780 2030l72 -39M4907 2034l-55 -43"/>
<path class="c24" d="M5971 2168l72 -1 -55 -13 -72 8z"/>
<path d="M5916 2162l72 -8M6043 2167l-55 -13"/>
<path class="c14" d="M3110 2425l71 -21 -54 -73 -72 117z"/>
<path d="M3055 2448l72 -117"/>
<path class="c28" d="M4313 2070l72 31 -55 8 -72 -66z"/>
<path d="M4258 2043l72 66M4385 2101l-55 8"/>
<path class="c14" d="M2786 2422l71 23 -55 -25 -71 -28z"/>
<path d="M2731 2392l71 28M2857 2445l-55 -25"/>
<path class="c27" d="M5087 2096l72 28 -55 -139 -71 30z"/>
<path d="M5033 2015l71 -30M5159 2124l-55 -139"/>
<path class="c16" d="M2983 2375l72 73 -55 -123 -71 67z"/>
<path d="M2929 2392l71 -67M3055 2448l-55 -123"/>
<path class="c25" d="M3918 2158l71 -37 -55 -10 -71 86z"/>
<path d="M3863 2197l71 -86M3989 2121l-55 -10"/>
<path class="c19" d="M3846 2270l72 -112 -55 39 -72 -39z"/>
<path d="M3791 2158l72 39M3918 2158l-55 39"/>
<path class="c26" d="M5845 2134l71 28 -54 -7 -72 -38z"/>
<path d="M5790 2117l72 38M5916 2162l-54 -7"/>
<path class="c31" d="M4456 2005l72 -5 -55 -105 -71 113z"/>
<path d="M4402 2008l71 -113M4456 2005l-54 3M4528 2000l-55 -105"/>
<path class="c25" d="M5466 2138l72 1 -55 -93 -72 7z"/>
<path d="M5538 2139l-55 -93"/>
<path class="c29" d="M5411 2053l72 -7 -55 -31 -71 -22z"/>
<path d="M5411 2053l72 -7M5357 1993l71 22M5483 2046l-55 -31"/>
<path class="c26" d="M4511 2104l71 -70 -54 -34 -72 5z"/>
<path d="M4456 2005l72 -5M4582 2034l-54 -34"/>
<path class="c20" d="M3522 2256l72 -124 -55 62 -72 57z"/>
<path d="M3467 2251l72 -57M3594 2132l-55 62"/>
<path class="c28" d="M5340 2085l71 -32 -54 -60 -72 163z"/>
<path d="M5285 2156l72 -163M5411 2053l-54 -60"/>
<path class="c21" d="M3648 2244l72 2 -55 7 -71 -121z"/>
<path d="M3594 2132l71 121M3720 2246l-55 7"/>
<path class="c21" d="M3451 2262l71 -6 -55 -5 -71 -7z"/>
<path d="M3396 2244l71 7M3522 2256l-55 -5"/>
<path class="c25" d="M5521 2165l71 -4 -54 -22 -72 -1z"/>
<path d="M5466 2138l72 1M5592 2161l-54 -22"/>
<path class="c27" d="M4637 2099l72 -76 -55 0 -72 11z"/>
<path d="M4582 2034l72 -11M4709 2023l-55 0"/>
<path class="c23" d="M4044 2199l71 -89 -54 53 -72 -42z"/>
<path d="M3989 2121l72 42M4115 2110l-54 53"/>
<path class="c29" d="M4961 2047l72 -32 -55 -12 -71 31z"/>
<path d="M4907 2034l71 -31M5033 2015l-55 -12"/>
<path class="c10" d="M2516 2516l72 -46 -55 -10 -71 43z"/>
<path d="M2462 2503l71 -43M2588 2470l-55 -10"/>
<path class="c14" d="M3181 2404l72 -107 -55 3 -71 31z"/>
<path d="M3127 2331l71 -31M3181 2404l-54 -73M3253 2297l-55 3"/>
<path class="c26" d="M5268 2138l72 -53 -55 71 -71 -69z"/>
<path d="M5214 2087l71 69M5340 2085l-55 71"/>
<path class="c2" d="M1780 2721l71 -74 -54 25 -72 37z"/>
<path d="M1725 2709l72 -37M1780 2721l-55 -12M1851 2647l-54 25"/>
<path class="c27" d="M4763 2105l72 -46 -55 -29 -71 -7z"/>
<path d="M4709 2023l71 7M4835 2059l-55 -29"/>
<path class="c28" d="M4439 2080l72 24 -55 -99 -71 96z"/>
<path d="M4385 2101l71 -96M4511 2104l-55 -99"/>
<path class="c7" d="M2175 2606l72 -2 -55 40 -71 -48z"/>
<path d="M2121 2596l71 48M2247 2604l-55 40"/>
<path class="c22" d="M5576 2227l71 29 -55 -95 -71 4z"/>
<path d="M5521 2165l71 -4M5647 2256l-55 -95"/>
<path class="c29" d="M5142 2062l72 25 -55 37 -72 -28z"/>
<path d="M5087 2096l72 28M5214 2087l-55 37"/>
<path class="c23" d="M5773 2205l72 -71 -55 -17 -71 94z"/>
<path d="M5719 2211l71 -94M5845 2134l-55 -17"/>
<path class="c15" d="M2912 2412l71 -37 -54 17 -72 53z"/>
<path d="M2857 2445l72 -53M2983 2375l-54 17"/>
<path class="c24" d="M3775 2197l71 73 -55 -112 -71 88z"/>
<path d="M3720 2246l71 -88M3846 2270l-55 -112"/>
<path class="c28" d="M4566 2079l71 20 -55 -65 -71 70z"/>
<path d="M4511 2104l71 -70M4637 2099l-55 -65"/>
<path class="c25" d="M5702 2180l71 25 -54 6 -72 45z"/>
<path d="M5647 2256l72 -45M5773 2205l-54 6"/>
<path class="c28" d="M4890 2088l71 -41 -54 -13 -72 25z"/>
<path d="M4835 2059l72 -25M4961 2047l-54 -13"/>
<path class="c13" d="M2714 2465l72 -43 -55 -30 -72 73z"/>
<path d="M2659 2465l72 -73M2786 2422l-55 -30"/>
<path class="c21" d="M3379 2274l72 -12 -55 -18 -72 105z"/>
<path d="M3324 2349l72 -105M3451 2262l-55 -18"/>
<path class="c26" d="M4692 2130l71 -25 -54 -82 -72 76z"/>
<path d="M4637 2099l72 -76M4763 2105l-54 -82"/>
<path class="c24" d="M5395 2180l71 -42 -55 -85 -71 32z"/>
<path d="M5340 2085l71 -32M5466 2138l-55 -85"/>
<path class="c10" d="M2643 2532l71 -67 -55 0 -71 5z"/>
<path d="M2588 2470l71 -5M2714 2465l-55 0"/>
<path class="c13" d="M2445 2483l71 33 -54 -13 -72 64z"/>
<path d="M2390 2567l72 -64M2516 2516l-54 -13"/>
<path class="c11" d="M2840 2501l72 -89 -55 33 -71 -23z"/>
<path d="M2786 2422l71 23M2912 2412l-55 33"/>
<path class="c23" d="M3972 2210l72 -11 -55 -78 -71 37z"/>
<path d="M3918 2158l71 -37M4044 2199l-55 -78"/>
<path class="c13" d="M3236 2438l71 -81 -54 -60 -72 107z"/>
<path d="M3181 2404l72 -107"/>
<path class="c3" d="M2104 2689l71 -83 -54 -10 -72 92z"/>
<path d="M2049 2688l72 -92M2175 2606l-54 -10"/>
<path class="c22" d="M3901 2233l71 -23 -54 -52 -72 112z"/>
<path d="M3846 2270l72 -112M3972 2210l-54 -52"/>
<path class="c24" d="M5900 2193l71 -25 -55 -6 -71 -28z"/>
<path d="M5845 2134l71 28M5971 2168l-55 -6"/>
<path class="c24" d="M5449 2192l72 -27 -55 -27 -71 42z"/>
<path d="M5395 2180l71 -42M5521 2165l-55 -27"/>
<path class="c28" d="M5016 2078l71 18 -54 -81 -72 32z"/>
<path d="M4961 2047l72 -32M5087 2096l-54 -81"/>
<path class="c17" d="M3307 2357l72 -83 -55 75 -71 -52z"/>
<path d="M3253 2297l71 52M3307 2357l-54 -60M3379 2274l-55 75"/>
<path class="c18" d="M3038 2361l72 64 -55 23 -72 -73z"/>
<path d="M2983 2375l72 73M3110 2425l-55 23"/>
<path class="c27" d="M4818 2106l72 -18 -55 -29 -72 46z"/>
<path d="M4763 2105l72 -46M4890 2088l-55 -29"/>
<path class="c9" d="M2571 2552l72 -20 -55 -62 -72 46z"/>
<path d="M2516 2516l72 -46M2643 2532l-55 -62"/>
<path class="c9" d="M2373 2565l72 -82 -55 84 -71 26z"/>
<path d="M2319 2593l71 -26M2445 2483l-55 84"/>
<path class="c4" d="M1906 2683l72 -35 -55 53 -72 -54z"/>
<path d="M1851 2647l72 54M1978 2648l-55 53"/>
<path class="c24" d="M5323 2185l72 -5 -55 -95 -72 53z"/>
<path d="M5268 2138l72 -53M5395 2180l-55 -95"/>
<path class="c29" d="M4242 2072l71 -2 -55 -27 -71 78z"/>
<path d="M4187 2121l71 -78M4313 2070l-55 -27"/>
<path class="c28" d="M4368 2093l71 -13 -54 21 -72 -31z"/>
<path d="M4313 2070l72 31M4439 2080l-54 21"/>
<path class="c18" d="M3164 2357l72 81 -55 -34 -71 21z"/>
<path d="M3110 2425l71 -21M3236 2438l-55 -34"/>
<path class="c24" d="M4944 2168l72 -90 -55 -31 -71 41z"/>
<path d="M4890 2088l71 -41M5016 2078l-55 -31"/>
<path class="c26" d="M4494 2134l72 -55 -55 25 -72 -24z"/>
<path d="M4439 2080l72 24M4566 2079l-55 25"/>
<path class="c5" d="M2032 2672l72 17 -55 -1 -71 -40z"/>
<path d="M1978 2648l71 40M2104 2689l-55 -1"/>
<path class="c22" d="M3703 2241l72 -44 -55 49 -72 -2z"/>
<path d="M3648 2244l72 2M3775 2197l-55 49"/>
<path class="c26" d="M4170 2148l72 -76 -55 49 -72 -11z"/>
<path d="M4115 2110l72 11M4242 2072l-55 49"/>
<path class="c22" d="M3577 2233l71 11 -54 -112 -72 124z"/>
<path d="M3522 2256l72 -124M3648 2244l-54 -112"/>
<path class="c21" d="M5504 2258l72 -31 -55 -62 -72 27z"/>
<path d="M5449 2192l72 -27M5576 2227l-55 -62"/>
<path class="c24" d="M4099 2183l71 -35 -55 -38 -71 89z"/>
<path d="M4044 2199l71 -89M4170 2148l-55 -38"/>
<path class="c9" d="M2302 2571l71 -6 -54 28 -72 11z"/>
<path d="M2247 2604l72 -11M2373 2565l-54 28"/>
<path class="c26" d="M4747 2137l71 -31 -55 -1 -71 25z"/>
<path d="M4692 2130l71 -25M4818 2106l-55 -1"/>
<path class="c23" d="M5828 2209l72 -16 -55 -59 -72 71z"/>
<path d="M5773 2205l72 -71M5900 2193l-55 -59"/>
<path class="c29" d="M4620 2093l72 37 -55 -31 -71 -20z"/>
<path d="M4566 2079l71 20M4692 2130l-55 -31"/>
<path class="c23" d="M4027 2222l72 -39 -55 16 -72 11z"/>
<path d="M3972 2210l72 -11M4099 2183l-55 16"/>
<path class="c26" d="M4873 2155l71 13 -54 -80 -72 18z"/>
<path d="M4818 2106l72 -18M4944 2168l-54 -80"/>
<path class="c21" d="M3505 2273l72 -40 -55 23 -71 6z"/>
<path d="M3451 2262l71 -6M3577 2233l-55 23"/>
<path class="c23" d="M4999 2203l72 -79 -55 -46 -72 90z"/>
<path d="M4944 2168l72 -90"/>
<path class="c15" d="M2769 2439l71 62 -54 -79 -72 43z"/>
<path d="M2714 2465l72 -43M2840 2501l-54 -79"/>
<path class="c25" d="M5378 2188l71 4 -54 -12 -72 5z"/>
<path d="M5323 2185l72 -5M5449 2192l-54 -12"/>
<path class="c3" d="M1835 2721l71 -38 -55 -36 -71 74z"/>
<path d="M1780 2721l71 -74M1835 2721l-55 0M1906 2683l-55 -36"/>
<path class="c22" d="M4928 2233l71 -30 -55 -35 -71 -13z"/>
<path d="M4873 2155l71 13M4999 2203l-55 -35"/>
<path class="c27" d="M5071 2124l71 -62 -55 34 -71 -18z"/>
<path d="M5016 2078l71 18M5071 2124l-55 -46M5142 2062l-55 34"/>
<path class="c27" d="M5197 2121l71 17 -54 -51 -72 -25z"/>
<path d="M5142 2062l72 25M5268 2138l-54 -51"/>
<path class="c13" d="M2895 2483l72 -15 -55 -56 -72 89z"/>
<path d="M2840 2501l72 -89"/>
<path class="c9" d="M2499 2571l72 -19 -55 -36 -71 -33z"/>
<path d="M2445 2483l71 33M2571 2552l-55 -36"/>
<path class="c25" d="M3829 2195l72 38 -55 37 -71 -73z"/>
<path d="M3775 2197l71 73M3901 2233l-55 37"/>
<path class="c17" d="M3291 2383l71 -9 -55 -17 -71 81z"/>
<path d="M3236 2438l71 -81"/>
<path class="c28" d="M5630 2135l72 45 -55 76 -71 -29z"/>
<path d="M5576 2227l71 29M5702 2180l-55 76"/>
<path class="c26" d="M4423 2148l71 -14 -55 -54 -71 13z"/>
<path d="M4368 2093l71 -13M4494 2134l-55 -54"/>
<path class="c25" d="M4296 2158l72 -65 -55 -23 -71 2z"/>
<path d="M4242 2072l71 -2M4368 2093l-55 -23"/>
<path class="c13" d="M2967 2468l71 -107 -55 14 -71 37z"/>
<path d="M2912 2412l71 -37M2967 2468l-55 -56M3038 2361l-55 14"/>
<path class="c1" d="M1961 2757l71 -85 -54 -24 -72 35z"/>
<path d="M1906 2683l72 -35M2032 2672l-54 -24"/>
<path class="c23" d="M4801 2222l72 -67 -55 -49 -71 31z"/>
<path d="M4747 2137l71 -31M4873 2155l-55 -49"/>
<path class="c19" d="M3434 2321l71 -48 -54 -11 -72 12z"/>
<path d="M3379 2274l72 -12M3505 2273l-54 -11"/>
<path class="c17" d="M3362 2374l72 -53 -55 -47 -72 83z"/>
<path d="M3307 2357l72 -83M3362 2374l-55 -17M3434 2321l-55 -47"/>
<path class="c7" d="M2230 2627l72 -56 -55 33 -72 2z"/>
<path d="M2175 2606l72 -2M2302 2571l-55 33"/>
<path class="c21" d="M5432 2271l72 -13 -55 -66 -71 -4z"/>
<path d="M5378 2188l71 4M5504 2258l-55 -66"/>
<path class="c27" d="M5252 2140l71 45 -55 -47 -71 -17z"/>
<path d="M5197 2121l71 17M5323 2185l-55 -47"/>
<path class="c10" d="M2626 2554l71 -73 -54 51 -72 20z"/>
<path d="M2571 2552l72 -20"/>
<path class="c13" d="M2697 2481l72 -42 -55 26 -71 67z"/>
<path d="M2643 2532l71 -67M2697 2481l-54 51M2769 2439l-55 26"/>
<path class="c24" d="M5757 2220l71 -11 -55 -4 -71 -25z"/>
<path d="M5702 2180l71 25M5828 2209l-55 -4"/>
<path class="c23" d="M3631 2241l72 0 -55 3 -71 -11z"/>
<path d="M3577 2233l71 11M3703 2241l-55 3"/>
<path class="c24" d="M4351 2197l72 -49 -55 -55 -72 65z"/>
<path d="M4296 2158l72 -65M4423 2148l-55 -55"/>
<path class="c25" d="M3955 2203l72 19 -55 -12 -71 23z"/>
<path d="M3901 2233l71 -23M4027 2222l-55 -12"/>
<path class="c26" d="M4225 2152l71 6 -54 -86 -72 76z"/>
<path d="M4170 2148l72 -76M4296 2158l-54 -86"/>
<path class="c11" d="M2824 2527l71 -44 -55 18 -71 -62z"/>
<path d="M2769 2439l71 62M2895 2483l-55 18"/>
<path class="c7" d="M2159 2638l71 -11 -55 -21 -71 83z"/>
<path d="M2104 2689l71 -83M2230 2627l-55 -21"/>
<path class="c8" d="M2554 2598l72 -44 -55 -2 -72 19z"/>
<path d="M2499 2571l72 -19M2626 2554l-55 -2"/>
<path class="c27" d="M4549 2126l71 -33 -54 -14 -72 55z"/>
<path d="M4494 2134l72 -55M4620 2093l-54 -14"/>
<path class="c9" d="M2428 2585l71 -14 -54 -88 -72 82z"/>
<path d="M2373 2565l72 -82M2499 2571l-54 -88"/>
<path class="c4" d="M1889 2714l72 43 -55 -74 -71 38z"/>
<path d="M1835 2721l71 -38M1889 2714l-54 7M1961 2757l-55 -74"/>
<path class="c28" d="M4675 2120l72 17 -55 -7 -72 -37z"/>
<path d="M4620 2093l72 37M4747 2137l-55 -7"/>
<path class="c16" d="M3093 2414l71 -57 -54 68 -72 -64z"/>
<path d="M3038 2361l72 64M3164 2357l-54 68"/>
<path class="c4" d="M2087 2702l72 -64 -55 51 -72 -17z"/>
<path d="M2032 2672l72 17M2159 2638l-55 51"/>
<path class="c21" d="M5487 2290l72 -45 -55 13 -72 13z"/>
<path d="M5432 2271l72 -13"/>
<path class="c23" d="M5559 2245l71 -110 -54 92 -72 31z"/>
<path d="M5504 2258l72 -31M5559 2245l-55 13M5630 2135l-54 92"/>
<path class="c15" d="M3219 2431l72 -48 -55 55 -72 -81z"/>
<path d="M3164 2357l72 81M3291 2383l-55 55"/>
<path class="c24" d="M5054 2207l71 -122 -54 39 -72 79z"/>
<path d="M4999 2203l72 -79"/>
<path class="c28" d="M4856 2144l72 89 -55 -78 -72 67z"/>
<path d="M4801 2222l72 -67M4928 2233l-55 -78"/>
<path class="c27" d="M4982 2169l72 38 -55 -4 -71 30z"/>
<path d="M4928 2233l71 -30M5054 2207l-55 -4"/>
<path class="c26" d="M4477 2164l72 -38 -55 8 -71 14z"/>
<path d="M4423 2148l71 -14M4549 2126l-55 8"/>
<path class="c24" d="M5306 2212l72 -24 -55 -3 -71 -45z"/>
<path d="M5252 2140l71 45M5378 2188l-55 -3"/>
<path class="c30" d="M5125 2085l72 36 -55 -59 -71 62z"/>
<path d="M5071 2124l71 -62M5125 2085l-54 39M5197 2121l-55 -59"/>
<path class="c14" d="M3021 2467l72 -53 -55 -53 -71 107z"/>
<path d="M2967 2468l71 -107M3093 2414l-55 -53"/>
<path class="c23" d="M4406 2235l71 -71 -54 -16 -72 49z"/>
<path d="M4351 2197l72 -49M4477 2164l-54 -16"/>
<path class="c28" d="M4153 2138l72 14 -55 -4 -71 35z"/>
<path d="M4099 2183l71 -35M4225 2152l-55 -4"/>
<path class="c26" d="M4280 2169l71 28 -55 -39 -71 -6z"/>
<path d="M4225 2152l71 6M4351 2197l-55 -39"/>
<path class="c17" d="M3417 2397l71 -64 -54 -12 -72 53z"/>
<path d="M3362 2374l72 -53"/>
<path class="c26" d="M4730 2178l71 44 -54 -85 -72 -17z"/>
<path d="M4675 2120l72 17M4801 2222l-54 -85"/>
<path class="c22" d="M3758 2259l71 -64 -54 2 -72 44z"/>
<path d="M3703 2241l72 -44M3829 2195l-54 2"/>
<path class="c5" d="M2016 2711l71 -9 -55 -30 -71 85z"/>
<path d="M1961 2757l71 -85M2087 2702l-55 -30"/>
<path class="c22" d="M3560 2275l71 -34 -54 -8 -72 40z"/>
<path d="M3505 2273l72 -40M3631 2241l-54 -8"/>
<path class="c9" d="M2752 2571l72 -44 -55 -88 -72 42z"/>
<path d="M2697 2481l72 -42M2824 2527l-55 -88"/>
<path class="c9" d="M2483 2596l71 2 -55 -27 -71 14z"/>
<path d="M2428 2585l71 -14M2554 2598l-55 -27"/>
<path class="c15" d="M2950 2456l71 11 -54 1 -72 15z"/>
<path d="M2895 2483l72 -15M3021 2467l-54 1"/>
<path class="c19" d="M3488 2333l72 -58 -55 -2 -71 48z"/>
<path d="M3434 2321l71 -48M3488 2333l-54 -12M3560 2275l-55 -2"/>
<path class="c23" d="M4082 2235l71 -97 -54 45 -72 39z"/>
<path d="M4027 2222l72 -39M4153 2138l-54 45"/>
<path class="c20" d="M3686 2310l72 -51 -55 -18 -72 0z"/>
<path d="M3631 2241l72 0M3758 2259l-55 -18"/>
<path class="c12" d="M2356 2544l72 41 -55 -20 -71 6z"/>
<path d="M2302 2571l71 -6M2428 2585l-55 -20"/>
<path class="c24" d="M5361 2234l71 37 -54 -83 -72 24z"/>
<path d="M5306 2212l72 -24M5432 2271l-54 -83"/>
<path class="c17" d="M3345 2395l72 2 -55 -23 -71 9z"/>
<path d="M3291 2383l71 -9M3417 2397l-55 -23"/>
<path class="c23" d="M3884 2245l71 -42 -54 30 -72 -38z"/>
<path d="M3829 2195l72 38M3955 2203l-54 30"/>
<path class="c22" d="M4010 2265l72 -30 -55 -13 -72 -19z"/>
<path d="M3955 2203l72 19M4082 2235l-55 -13"/>
<path class="c5" d="M2285 2674l71 -130 -54 27 -72 56z"/>
<path d="M2230 2627l72 -56M2356 2544l-54 27"/>
<path class="c22" d="M5235 2271l71 -59 -54 -72 -72 26z"/>
<path d="M5306 2212l-54 -72"/>
<path class="c7" d="M2213 2657l72 17 -55 -47 -71 11z"/>
<path d="M2159 2638l71 -11M2285 2674l-55 -47"/>
<path class="c24" d="M5685 2228l72 -8 -55 -40 -72 -45z"/>
<path d="M5630 2135l72 45M5757 2220l-55 -40"/>
<path class="c3" d="M1944 2749l72 -38 -55 46 -72 -43z"/>
<path d="M1889 2714l72 43M1944 2749l-55 -35M2016 2711l-55 46"/>
<path class="c22" d="M4532 2257l72 -125 -55 -6 -72 38z"/>
<path d="M4477 2164l72 -38"/>
<path class="c25" d="M4334 2210l72 25 -55 -38 -71 -28z"/>
<path d="M4280 2169l71 28M4406 2235l-55 -38"/>
<path class="c25" d="M4460 2215l72 42 -55 -93 -71 71z"/>
<path d="M4406 2235l71 -71M4532 2257l-55 -93"/>
<path class="c28" d="M4604 2132l71 -12 -55 -27 -71 33z"/>
<path d="M4549 2126l71 -33M4604 2132l-55 -6M4675 2120l-55 -27"/>
<path class="c26" d="M5180 2166l72 -26 -55 -19 -72 -36z"/>
<path d="M5180 2166l72 -26M5125 2085l72 36M5252 2140l-55 -19"/>
<path class="c14" d="M2680 2503l72 68 -55 -90 -71 73z"/>
<path d="M2626 2554l71 -73M2752 2571l-55 -90"/>
<path class="c21" d="M3615 2302l71 8 -55 -69 -71 34z"/>
<path d="M3560 2275l71 -34M3686 2310l-55 -69"/>
<path class="c15" d="M2878 2469l72 -13 -55 27 -71 44z"/>
<path d="M2824 2527l71 -44M2950 2456l-55 27"/>
<path class="c18" d="M3148 2396l71 35 -55 -74 -71 57z"/>
<path d="M3093 2414l71 -57M3219 2431l-55 -74"/>
<path class="c24" d="M5108 2212l72 -46 -55 -81 -71 122z"/>
<path d="M5054 2207l71 -122M5180 2166l-55 -81"/>
<path class="c22" d="M4658 2254l72 -76 -55 -58 -71 12z"/>
<path d="M4604 2132l71 -12M4730 2178l-55 -58"/>
<path class="c23" d="M5163 2262l72 9 -55 -105 -72 46z"/>
<path d="M5108 2212l72 -46M5235 2271l-55 -105"/>
<path class="c21" d="M3939 2309l71 -44 -55 -62 -71 42z"/>
<path d="M3884 2245l71 -42M4010 2265l-55 -62"/>
<path class="c17" d="M3472 2400l71 -36 -55 -31 -71 64z"/>
<path d="M3417 2397l71 -64"/>
<path class="c26" d="M4784 2180l72 -36 -55 78 -71 -44z"/>
<path d="M4730 2178l71 44M4856 2144l-55 78"/>
<path class="c24" d="M5289 2232l72 2 -55 -22 -71 59z"/>
<path d="M5235 2271l71 -59M5361 2234l-55 -22"/>
<path class="c8" d="M2411 2637l72 -41 -55 -11 -72 -41z"/>
<path d="M2356 2544l72 41M2483 2596l-55 -11"/>
<path class="c19" d="M3543 2364l72 -62 -55 -27 -72 58z"/>
<path d="M3488 2333l72 -58M3543 2364l-55 -31M3615 2302l-55 -27"/>
<path class="c1" d="M2070 2785l72 -90 -55 7 -71 9z"/>
<path d="M2016 2711l71 -9"/>
<path class="c6" d="M2142 2695l71 -38 -54 -19 -72 64z"/>
<path d="M2087 2702l72 -64M2142 2695l-55 7M2213 2657l-54 -19"/>
<path class="c5" d="M2340 2696l71 -59 -55 -93 -71 130z"/>
<path d="M2285 2674l71 -130M2411 2637l-55 -93"/>
<path class="c22" d="M4713 2280l71 -100 -54 -2 -72 76z"/>
<path d="M4658 2254l72 -76M4784 2180l-54 -2"/>
<path class="c26" d="M4208 2184l72 -15 -55 -17 -72 -14z"/>
<path d="M4153 2138l72 14M4280 2169l-55 -17"/>
<path class="c25" d="M5037 2217l71 -5 -54 -5 -72 -38z"/>
<path d="M4982 2169l72 38M5108 2212l-54 -5"/>
<path class="c15" d="M3076 2451l72 -55 -55 18 -72 53z"/>
<path d="M3021 2467l72 -53M3148 2396l-55 18"/>
<path class="c14" d="M2807 2497l71 -28 -54 58 -72 44z"/>
<path d="M2752 2571l72 -44M2878 2469l-54 58"/>
<path class="c27" d="M5416 2186l71 104 -55 -19 -71 -37z"/>
<path d="M5361 2234l71 37M5487 2290l-55 -19"/>
<path class="c24" d="M5613 2232l72 -4 -55 -93 -71 110z"/>
<path d="M5559 2245l71 -110M5685 2228l-55 -93"/>
<path class="c23" d="M5542 2271l71 -39 -54 13 -72 45z"/>
<path d="M5487 2290l72 -45M5613 2232l-54 13"/>
<path class="c19" d="M3274 2377l71 18 -54 -12 -72 48z"/>
<path d="M3219 2431l72 -48M3345 2395l-54 -12"/>
<path class="c26" d="M3812 2211l72 34 -55 -50 -71 64z"/>
<path d="M3758 2259l71 -64M3884 2245l-55 -50"/>
<path class="c28" d="M4587 2168l71 86 -54 -122 -72 125z"/>
<path d="M4532 2257l72 -125M4658 2254l-54 -122"/>
<path class="c13" d="M2609 2533l71 -30 -54 51 -72 44z"/>
<path d="M2554 2598l72 -44M2680 2503l-54 51"/>
<path class="c23" d="M4065 2259l71 5 -54 -29 -72 30z"/>
<path d="M4010 2265l72 -30"/>
<path class="c6" d="M2268 2692l72 4 -55 -22 -72 -17z"/>
<path d="M2213 2657l72 17M2340 2696l-55 -22"/>
<path class="c22" d="M4136 2264l72 -80 -55 -46 -71 97z"/>
<path d="M4082 2235l71 -97M4136 2264l-54 -29M4208 2184l-55 -46"/>
<path class="c22" d="M3741 2298l71 -87 -54 48 -72 51z"/>
<path d="M3686 2310l72 -51M3812 2211l-54 48"/>
<path class="c19" d="M3867 2351l72 -42 -55 -64 -72 -34z"/>
<path d="M3812 2211l72 34M3939 2309l-55 -64"/>
<path class="c18" d="M3400 2394l72 6 -55 -3 -72 -2z"/>
<path d="M3345 2395l72 2M3472 2400l-55 -3"/>
<path class="c25" d="M4389 2233l71 -18 -54 20 -72 -25z"/>
<path d="M4334 2210l72 25M4460 2215l-54 20"/>
<path class="c30" d="M4911 2122l71 47 -54 64 -72 -89z"/>
<path d="M4856 2144l72 89M4982 2169l-54 64"/>
<path class="c21" d="M3669 2316l72 -18 -55 12 -71 -8z"/>
<path d="M3615 2302l71 8M3741 2298l-55 12"/>
<path class="c23" d="M4641 2277l72 3 -55 -26 -71 -86z"/>
<path d="M4587 2168l71 86M4713 2280l-55 -26"/>
<path class="c10" d="M2735 2590l72 -93 -55 74 -72 -68z"/>
<path d="M2680 2503l72 68M2807 2497l-55 74"/>
<path class="c16" d="M3004 2448l72 3 -55 16 -71 -11z"/>
<path d="M2950 2456l71 11M3076 2451l-55 16"/>
<path class="c25" d="M4263 2224l71 -14 -54 -41 -72 15z"/>
<path d="M4208 2184l72 -15M4334 2210l-54 -41"/>
<path class="c6" d="M1999 2712l71 73 -54 -74 -72 38z"/>
<path d="M1944 2749l72 -38M1999 2712l-55 37M2070 2785l-54 -74"/>
<path class="c12" d="M2537 2556l72 -23 -55 65 -71 -2z"/>
<path d="M2483 2596l71 2M2609 2533l-55 65"/>
<path class="c25" d="M5218 2239l71 -7 -54 39 -72 -9z"/>
<path d="M5163 2262l72 9M5289 2232l-54 39"/>
<path class="c24" d="M3993 2270l72 -11 -55 6 -71 44z"/>
<path d="M3939 2309l71 -44M4065 2259l-55 6"/>
<path class="c24" d="M4515 2242l72 -74 -55 89 -72 -42z"/>
<path d="M4460 2215l72 42M4587 2168l-55 89"/>
<path class="c17" d="M3202 2432l72 -55 -55 54 -71 -35z"/>
<path d="M3148 2396l71 35M3274 2377l-55 54"/>
<path class="c27" d="M5092 2198l71 64 -55 -50 -71 5z"/>
<path d="M5037 2217l71 -5M5163 2262l-55 -50"/>
<path class="c3" d="M2125 2767l71 -57 -54 -15 -72 90z"/>
<path d="M2070 2785l72 -90"/>
<path class="c24" d="M4191 2248l72 -24 -55 -40 -72 80z"/>
<path d="M4136 2264l72 -80M4263 2224l-55 -40"/>
<path class="c6" d="M2196 2710l72 -18 -55 -35 -71 38z"/>
<path d="M2142 2695l71 -38M2196 2710l-54 -15M2268 2692l-55 -35"/>
<path class="c22" d="M3922 2319l71 -49 -54 39 -72 42z"/>
<path d="M3867 2351l72 -42M3993 2270l-54 39"/>
<path class="c7" d="M2394 2673l72 -68 -55 32 -71 59z"/>
<path d="M2340 2696l71 -59"/>
<path class="c21" d="M3598 2338l71 -22 -54 -14 -72 62z"/>
<path d="M3543 2364l72 -62M3669 2316l-54 -14"/>
<path class="c22" d="M3796 2312l71 39 -55 -140 -71 87z"/>
<path d="M3741 2298l71 -87M3867 2351l-55 -140"/>
<path class="c10" d="M2466 2605l71 -49 -54 40 -72 41z"/>
<path d="M2411 2637l72 -41M2466 2605l-55 32M2537 2556l-54 40"/>
<path class="c22" d="M5470 2289l72 -18 -55 19 -71 -104z"/>
<path d="M5416 2186l71 104M5542 2271l-55 19"/>
<path class="c21" d="M5344 2316l72 -130 -55 48 -72 -2z"/>
<path d="M5289 2232l72 2M5416 2186l-55 48"/>
<path class="c24" d="M4768 2249l71 -34 -55 -35 -71 100z"/>
<path d="M4713 2280l71 -100"/>
<path class="c23" d="M4317 2271l72 -38 -55 -23 -71 14z"/>
<path d="M4263 2224l71 -14M4389 2233l-55 -23"/>
<path class="c23" d="M4696 2283l72 -34 -55 31 -72 -3z"/>
<path d="M4641 2277l72 3M4768 2249l-55 31"/>
<path class="c21" d="M3526 2351l72 -13 -55 26 -71 36z"/>
<path d="M3472 2400l71 -36M3598 2338l-55 26"/>
<path class="c24" d="M4120 2264l71 -16 -55 16 -71 -5z"/>
<path d="M4065 2259l71 5M4191 2248l-55 16"/>
<path class="c18" d="M3328 2414l72 -20 -55 1 -71 -18z"/>
<path d="M3274 2377l71 18M3400 2394l-55 1"/>
<path class="c25" d="M4839 2215l72 -93 -55 22 -72 36z"/>
<path d="M4784 2180l72 -36M4839 2215l-55 -35M4911 2122l-55 22"/>
<path class="c20" d="M3850 2353l72 -34 -55 32 -71 -39z"/>
<path d="M3796 2312l71 39M3922 2319l-55 32"/>
<path class="c26" d="M4444 2231l71 11 -55 -27 -71 18z"/>
<path d="M4389 2233l71 -18M4515 2242l-55 -27"/>
<path class="c19" d="M3131 2409l71 23 -54 -36 -72 55z"/>
<path d="M3076 2451l72 -55M3202 2432l-54 -36"/>
<path class="c14" d="M2664 2532l71 58 -55 -87 -71 30z"/>
<path d="M2609 2533l71 -30M2735 2590l-55 -87"/>
<path class="c17" d="M2933 2447l71 1 -54 8 -72 13z"/>
<path d="M2878 2469l72 -13M3004 2448l-54 8"/>
<path class="c10" d="M2323 2624l71 49 -54 23 -72 -4z"/>
<path d="M2268 2692l72 4M2394 2673l-54 23"/>
<path class="c23" d="M4570 2279l71 -2 -54 -109 -72 74z"/>
<path d="M4515 2242l72 -74M4641 2277l-54 -109"/>
<path class="c28" d="M4965 2174l72 43 -55 -48 -71 -47z"/>
<path d="M4911 2122l71 47M5037 2217l-55 -48"/>
<path class="c22" d="M3724 2322l72 -10 -55 -14 -72 18z"/>
<path d="M3669 2316l72 -18M3796 2312l-55 -14"/>
<path class="c24" d="M5273 2261l71 55 -55 -84 -71 7z"/>
<path d="M5218 2239l71 -7M5344 2316l-55 -84"/>
<path class="c19" d="M4625 2365l71 -82 -55 -6 -71 2z"/>
<path d="M4570 2279l71 -2M4696 2283l-55 -6"/>
<path class="c6" d="M2053 2726l72 41 -55 18 -71 -73z"/>
<path d="M1999 2712l71 73M2053 2726l-54 -14M2125 2767l-55 18"/>
<path class="c23" d="M5146 2279l72 -40 -55 23 -71 -64z"/>
<path d="M5092 2198l71 64M5218 2239l-55 23"/>
<path class="c23" d="M5399 2295l71 -6 -54 -103 -72 130z"/>
<path d="M5344 2316l72 -130M5470 2289l-54 -103"/>
<path class="c24" d="M4246 2259l71 12 -54 -47 -72 24z"/>
<path d="M4191 2248l72 -24M4317 2271l-54 -47"/>
<path class="c23" d="M4822 2293l72 -7 -55 -71 -71 34z"/>
<path d="M4768 2249l71 -34"/>
<path class="c12" d="M2861 2545l72 -98 -55 22 -71 28z"/>
<path d="M2807 2497l71 -28M2933 2447l-55 22"/>
<path class="c20" d="M3455 2385l71 -34 -54 49 -72 -6z"/>
<path d="M3400 2394l72 6M3526 2351l-54 49"/>
<path class="c22" d="M4048 2310l72 -46 -55 -5 -72 11z"/>
<path d="M3993 2270l72 -11M4120 2264l-55 -5"/>
<path class="c23" d="M5020 2277l72 -79 -55 19 -72 -43z"/>
<path d="M4965 2174l72 43M5092 2198l-55 19"/>
<path class="c22" d="M4894 2286l71 -112 -54 -52 -72 93z"/>
<path d="M4839 2215l72 -93M4894 2286l-55 -71M4965 2174l-54 -52"/>
<path class="c17" d="M2790 2476l71 69 -54 -48 -72 93z"/>
<path d="M2735 2590l72 -93M2861 2545l-54 -48"/>
<path class="c19" d="M3257 2407l71 7 -54 -37 -72 55z"/>
<path d="M3202 2432l72 -55M3328 2414l-54 -37"/>
<path class="c25" d="M4372 2254l72 -23 -55 2 -72 38z"/>
<path d="M4317 2271l72 -38M4444 2231l-55 2"/>
<path class="c23" d="M4498 2294l72 -15 -55 -37 -71 -11z"/>
<path d="M4444 2231l71 11M4570 2279l-55 -37"/>
<path class="c21" d="M3652 2355l72 -33 -55 -6 -71 22z"/>
<path d="M3598 2338l71 -22M3724 2322l-55 -6"/>
<path class="c11" d="M2592 2594l72 -62 -55 1 -72 23z"/>
<path d="M2537 2556l72 -23M2664 2532l-55 1"/>
<path class="c22" d="M5327 2318l72 -23 -55 21 -71 -55z"/>
<path d="M5273 2261l71 55M5399 2295l-55 21"/>
<path class="c23" d="M5075 2293l71 -14 -54 -81 -72 79z"/>
<path d="M5020 2277l72 -79M5146 2279l-54 -81"/>
<path class="c26" d="M4949 2237l71 40 -55 -103 -71 112z"/>
<path d="M4894 2286l71 -112M5020 2277l-55 -103"/>
<path class="c22" d="M5201 2311l72 -50 -55 -22 -72 40z"/>
<path d="M5146 2279l72 -40M5273 2261l-55 -22"/>
<path class="c24" d="M4751 2283l71 10 -54 -44 -72 34z"/>
<path d="M4696 2283l72 -34M4822 2293l-54 -44"/>
<path class="c20" d="M3059 2387l72 22 -55 42 -72 -3z"/>
<path d="M3004 2448l72 3M3131 2409l-55 42"/>
<path class="c9" d="M2718 2630l72 -154 -55 114 -71 -58z"/>
<path d="M2664 2532l71 58M2790 2476l-55 114"/>
<path class="c21" d="M4877 2345l72 -108 -55 49 -72 7z"/>
<path d="M4822 2293l72 -7M4949 2237l-55 49"/>
<path class="c11" d="M2520 2608l72 -14 -55 -38 -71 49z"/>
<path d="M2466 2605l71 -49M2592 2594l-55 -38"/>
<path class="c21" d="M3779 2346l71 7 -54 -41 -72 10z"/>
<path d="M3724 2322l72 -10M3850 2353l-54 -41"/>
<path class="c24" d="M3976 2289l72 21 -55 -40 -71 49z"/>
<path d="M3922 2319l71 -49M4048 2310l-55 -40"/>
<path class="c20" d="M3383 2399l72 -14 -55 9 -72 20z"/>
<path d="M3328 2414l72 -20M3455 2385l-55 9"/>
<path class="c25" d="M4174 2268l72 -9 -55 -11 -71 16z"/>
<path d="M4120 2264l71 -16M4246 2259l-55 -11"/>
<path class="c10" d="M2251 2650l72 -26 -55 68 -72 18z"/>
<path d="M2196 2710l72 -18M2323 2624l-55 68"/>
<path class="c25" d="M4553 2278l72 87 -55 -86 -72 15z"/>
<path d="M4498 2294l72 -15M4625 2365l-55 -86"/>
<path class="c23" d="M4301 2309l71 -55 -55 17 -71 -12z"/>
<path d="M4246 2259l71 12M4372 2254l-55 17"/>
<path class="c10" d="M2449 2639l71 -31 -54 -3 -72 68z"/>
<path d="M2394 2673l72 -68M2520 2608l-54 -3"/>
<path class="c18" d="M3185 2442l72 -35 -55 25 -71 -23z"/>
<path d="M3131 2409l71 23M3257 2407l-55 25"/>
<path class="c7" d="M2180 2709l71 -59 -55 60 -71 57z"/>
<path d="M2125 2767l71 -57M2251 2650l-55 60"/>
<path class="c24" d="M4679 2304l72 -21 -55 0 -71 82z"/>
<path d="M4625 2365l71 -82M4751 2283l-55 0"/>
<path class="c21" d="M5003 2343l72 -50 -55 -16 -71 -40z"/>
<path d="M4949 2237l71 40M5075 2293l-55 -16"/>
<path class="c22" d="M3905 2347l71 -58 -54 30 -72 34z"/>
<path d="M3850 2353l72 -34M3976 2289l-54 30"/>
<path class="c13" d="M2647 2577l71 53 -54 -98 -72 62z"/>
<path d="M2592 2594l72 -62M2718 2630l-54 -98"/>
<path class="c14" d="M2916 2539l72 -72 -55 -20 -72 98z"/>
<path d="M2861 2545l72 -98"/>
<path class="c23" d="M3581 2331l71 24 -54 -17 -72 13z"/>
<path d="M3526 2351l72 -13M3652 2355l-54 -17"/>
<path class="c25" d="M4427 2262l71 32 -54 -63 -72 23z"/>
<path d="M4372 2254l72 -23M4498 2294l-54 -63"/>
<path class="c17" d="M2988 2467l71 -80 -55 61 -71 -1z"/>
<path d="M2933 2447l71 1M2988 2467l-55 -20M3059 2387l-55 61"/>
<path class="c25" d="M4103 2275l71 -7 -54 -4 -72 46z"/>
<path d="M4048 2310l72 -46M4174 2268l-54 -4"/>
<path class="c9" d="M2377 2675l72 -36 -55 34 -71 -49z"/>
<path d="M2323 2624l71 49M2449 2639l-55 34"/>
<path class="c24" d="M5256 2300l71 18 -54 -57 -72 50z"/>
<path d="M5201 2311l72 -50M5327 2318l-54 -57"/>
<path class="c6" d="M2108 2736l72 -27 -55 58 -72 -41z"/>
<path d="M2053 2726l72 41M2108 2736l-55 -10M2180 2709l-55 58"/>
<path class="c27" d="M5129 2229l72 82 -55 -32 -71 14z"/>
<path d="M5075 2293l71 -14M5201 2311l-55 -32"/>
<path class="c21" d="M3833 2379l72 -32 -55 6 -71 -7z"/>
<path d="M3779 2346l71 7M3905 2347l-55 6"/>
<path class="c14" d="M2845 2553l71 -14 -55 6 -71 -69z"/>
<path d="M2790 2476l71 69M2916 2539l-55 6"/>
<path class="c23" d="M3707 2338l72 8 -55 -24 -72 33z"/>
<path d="M3652 2355l72 -33M3779 2346l-55 -24"/>
<path class="c24" d="M4932 2308l71 35 -54 -106 -72 108z"/>
<path d="M4877 2345l72 -108M5003 2343l-54 -106"/>
<path class="c24" d="M4229 2293l72 16 -55 -50 -72 9z"/>
<path d="M4174 2268l72 -9M4301 2309l-55 -50"/>
<path class="c10" d="M2575 2648l72 -71 -55 17 -72 14z"/>
<path d="M2520 2608l72 -14M2647 2577l-55 17"/>
<path class="c21" d="M3312 2385l71 14 -55 15 -71 -7z"/>
<path d="M3257 2407l71 7M3383 2399l-55 15"/>
<path class="c20" d="M3509 2399l72 -68 -55 20 -71 34z"/>
<path d="M3455 2385l71 -34M3581 2331l-55 20"/>
<path class="c28" d="M4805 2225l72 120 -55 -52 -71 -10z"/>
<path d="M4751 2283l71 10M4877 2345l-55 -52"/>
<path class="c22" d="M4355 2333l72 -71 -55 -8 -71 55z"/>
<path d="M4301 2309l71 -55M4427 2262l-55 -8"/>
<path class="c3" d="M2306 2785l71 -110 -54 -51 -72 26z"/>
<path d="M2251 2650l72 -26M2377 2675l-54 -51"/>
<path class="c16" d="M3114 2485l71 -43 -54 -33 -72 -22z"/>
<path d="M3059 2387l72 22M3185 2442l-54 -33"/>
<path class="c20" d="M5058 2388l71 -159 -54 64 -72 50z"/>
<path d="M5003 2343l72 -50M5129 2229l-54 64"/>
<path class="c24" d="M4608 2314l71 -10 -54 61 -72 -87z"/>
<path d="M4553 2278l72 87M4679 2304l-54 61"/>
<path class="c19" d="M3438 2431l71 -32 -54 -14 -72 14z"/>
<path d="M3383 2399l72 -14M3509 2399l-54 -14"/>
<path class="c24" d="M4031 2312l72 -37 -55 35 -72 -21z"/>
<path d="M3976 2289l72 21M4103 2275l-55 35"/>
<path class="c7" d="M2234 2731l72 54 -55 -135 -71 59z"/>
<path d="M2180 2709l71 -59M2306 2785l-55 -135"/>
<path class="c22" d="M4986 2353l72 35 -55 -45 -71 -35z"/>
<path d="M4932 2308l71 35M5058 2388l-55 -45"/>
<path class="c15" d="M3169 2524l71 -54 -55 -28 -71 43z"/>
<path d="M3114 2485l71 -43"/>
<path class="c15" d="M3042 2519l72 -34 -55 -98 -71 80z"/>
<path d="M2988 2467l71 -80M3114 2485l-55 -98"/>
<path class="c22" d="M4284 2351l71 -18 -54 -24 -72 -16z"/>
<path d="M4229 2293l72 16M4355 2333l-54 -24"/>
<path class="c17" d="M3240 2470l72 -85 -55 22 -72 35z"/>
<path d="M3185 2442l72 -35M3240 2470l-55 -28M3312 2385l-55 22"/>
<path class="c16" d="M2773 2517l72 36 -55 -77 -72 154z"/>
<path d="M2718 2630l72 -154M2845 2553l-55 -77"/>
<path class="c5" d="M2361 2766l71 -92 -55 1 -71 110z"/>
<path d="M2306 2785l71 -110"/>
<path class="c26" d="M4481 2272l72 6 -55 16 -71 -32z"/>
<path d="M4427 2262l71 32M4553 2278l-55 16"/>
<path class="c14" d="M2504 2587l71 61 -55 -40 -71 31z"/>
<path d="M2449 2639l71 -31M2575 2648l-55 -40"/>
<path class="c23" d="M4157 2334l72 -41 -55 -25 -71 7z"/>
<path d="M4103 2275l71 -7M4229 2293l-55 -25"/>
<path class="c22" d="M3636 2359l71 -21 -55 17 -71 -24z"/>
<path d="M3581 2331l71 24M3707 2338l-55 17"/>
<path class="c18" d="M2971 2470l71 49 -54 -52 -72 72z"/>
<path d="M2916 2539l72 -72M3042 2519l-54 -52"/>
<path class="c22" d="M3960 2352l71 -40 -55 -23 -71 58z"/>
<path d="M3905 2347l71 -58M4031 2312l-55 -23"/>
<path class="c22" d="M3762 2365l71 14 -54 -33 -72 -8z"/>
<path d="M3707 2338l72 8M3833 2379l-54 -33"/>
<path class="c23" d="M5184 2321l72 -21 -55 11 -72 -82z"/>
<path d="M5129 2229l72 82M5256 2300l-55 11"/>
<path class="c17" d="M3097 2495l72 29 -55 -39 -72 34z"/>
<path d="M3042 2519l72 -34M3169 2524l-55 -39"/>
<path class="c21" d="M3888 2384l72 -32 -55 -5 -72 32z"/>
<path d="M3833 2379l72 -32M3960 2352l-55 -5"/>
<path class="c21" d="M4410 2367l71 -95 -54 -10 -72 71z"/>
<path d="M4355 2333l72 -71M4481 2272l-54 -10"/>
<path class="c15" d="M2701 2551l72 -34 -55 113 -71 -53z"/>
<path d="M2647 2577l71 53M2773 2517l-55 113"/>
<path class="c13" d="M2899 2572l72 -102 -55 69 -71 14z"/>
<path d="M2845 2553l71 -14M2971 2470l-55 69"/>
<path class="c21" d="M4086 2382l71 -48 -54 -59 -72 37z"/>
<path d="M4031 2312l72 -37M4157 2334l-54 -59"/>
<path class="c23" d="M4734 2333l71 -108 -54 58 -72 21z"/>
<path d="M4679 2304l72 -21M4805 2225l-54 58"/>
<path class="c8" d="M2289 2718l72 48 -55 19 -72 -54z"/>
<path d="M2234 2731l72 54M2361 2766l-55 19"/>
<path class="c21" d="M4212 2379l72 -28 -55 -58 -72 41z"/>
<path d="M4157 2334l72 -41M4284 2351l-55 -58"/>
<path class="c22" d="M4338 2362l72 5 -55 -34 -71 18z"/>
<path d="M4284 2351l71 -18M4410 2367l-55 -34"/>
<path class="c20" d="M3564 2418l72 -59 -55 -28 -72 68z"/>
<path d="M3509 2399l72 -68M3636 2359l-55 -28"/>
<path class="c7" d="M2163 2748l71 -17 -54 -22 -72 27z"/>
<path d="M2108 2736l72 -27M2163 2748l-55 -12M2234 2731l-54 -22"/>
<path class="c20" d="M3366 2420l72 11 -55 -32 -71 -14z"/>
<path d="M3312 2385l71 14M3438 2431l-55 -32"/>
<path class="c9" d="M2432 2674l72 -87 -55 52 -72 36z"/>
<path d="M2377 2675l72 -36M2432 2674l-55 1M2504 2587l-55 52"/>
<path class="c25" d="M4860 2292l72 16 -55 37 -72 -120z"/>
<path d="M4805 2225l72 120M4932 2308l-55 37"/>
<path class="c23" d="M5113 2343l71 -22 -55 -92 -71 159z"/>
<path d="M5058 2388l71 -159M5184 2321l-55 -92"/>
<path class="c20" d="M3493 2422l71 -4 -55 -19 -71 32z"/>
<path d="M3438 2431l71 -32M3564 2418l-55 -19"/>
<path class="c22" d="M4536 2349l72 -35 -55 -36 -72 -6z"/>
<path d="M4481 2272l72 6M4608 2314l-55 -36"/>
<path class="c19" d="M3817 2431l71 -47 -55 -5 -71 -14z"/>
<path d="M3762 2365l71 14M3888 2384l-55 -5"/>
<path class="c13" d="M2630 2595l71 -44 -54 26 -72 71z"/>
<path d="M2575 2648l72 -71M2701 2551l-54 26"/>
<path class="c23" d="M4014 2360l72 22 -55 -70 -71 40z"/>
<path d="M3960 2352l71 -40M4086 2382l-55 -70"/>
<path class="c26" d="M4662 2294l72 39 -55 -29 -71 10z"/>
<path d="M4608 2314l71 -10M4734 2333l-55 -29"/>
<path class="c21" d="M4465 2390l71 -41 -55 -77 -71 95z"/>
<path d="M4410 2367l71 -95M4536 2349l-55 -77"/>
<path class="c24" d="M5041 2330l72 13 -55 45 -72 -35z"/>
<path d="M4986 2353l72 35M5113 2343l-55 45"/>
<path class="c20" d="M4915 2398l71 -45 -54 -45 -72 -16z"/>
<path d="M4860 2292l72 16M4986 2353l-54 -45"/>
<path class="c24" d="M4141 2342l71 37 -55 -45 -71 48z"/>
<path d="M4086 2382l71 -48M4212 2379l-55 -45"/>
<path class="c16" d="M2828 2544l71 28 -54 -19 -72 -36z"/>
<path d="M2773 2517l72 36M2899 2572l-54 -19"/>
<path class="c21" d="M3295 2420l71 0 -54 -35 -72 85z"/>
<path d="M3240 2470l72 -85M3366 2420l-54 -35"/>
<path class="c23" d="M3690 2351l72 14 -55 -27 -71 21z"/>
<path d="M3636 2359l71 -21M3762 2365l-55 -27"/>
<path class="c10" d="M2558 2665l72 -70 -55 53 -71 -61z"/>
<path d="M2504 2587l71 61M2630 2595l-55 53"/>
<path class="c22" d="M4393 2389l72 1 -55 -23 -72 -5z"/>
<path d="M4338 2362l72 5M4465 2390l-55 -23"/>
<path class="c21" d="M4591 2384l71 -90 -54 20 -72 35z"/>
<path d="M4536 2349l72 -35M4662 2294l-54 20"/>
<path class="c20" d="M3223 2435l72 -15 -55 50 -71 54z"/>
<path d="M3169 2524l71 -54M3295 2420l-55 50"/>
<path class="c25" d="M4267 2323l71 39 -54 -11 -72 28z"/>
<path d="M4212 2379l72 -28M4338 2362l-54 -11"/>
<path class="c22" d="M3943 2390l71 -30 -54 -8 -72 32z"/>
<path d="M3888 2384l72 -32M4014 2360l-54 -8"/>
<path class="c9" d="M2415 2709l72 -15 -55 -20 -71 92z"/>
<path d="M2361 2766l71 -92"/>
<path class="c14" d="M3152 2576l71 -141 -54 89 -72 -29z"/>
<path d="M3097 2495l72 29M3223 2435l-54 89"/>
<path class="c21" d="M3421 2416l72 6 -55 9 -72 -11z"/>
<path d="M3366 2420l72 11M3493 2422l-55 9"/>
<path class="c25" d="M4789 2315l71 -23 -55 -67 -71 108z"/>
<path d="M4734 2333l71 -108M4860 2292l-55 -67"/>
<path class="c9" d="M2487 2694l71 -29 -54 -78 -72 87z"/>
<path d="M2432 2674l72 -87M2487 2694l-55 -20M2558 2665l-54 -78"/>
<path class="c20" d="M3025 2456l72 39 -55 24 -71 -49z"/>
<path d="M2971 2470l71 49M3097 2495l-55 24"/>
<path class="c21" d="M4069 2414l72 -72 -55 40 -72 -22z"/>
<path d="M4014 2360l72 22M4141 2342l-55 40"/>
<path class="c21" d="M3745 2418l72 13 -55 -66 -72 -14z"/>
<path d="M3690 2351l72 14M3817 2431l-55 -66"/>
<path class="c23" d="M4970 2358l71 -28 -55 23 -71 45z"/>
<path d="M4915 2398l71 -45M5041 2330l-55 23"/>
<path class="c9" d="M2218 2719l71 -1 -55 13 -71 17z"/>
<path d="M2163 2748l71 -17M2218 2719l-55 29M2289 2718l-55 13"/>
<path class="c25" d="M4519 2329l72 55 -55 -35 -71 41z"/>
<path d="M4465 2390l71 -41M4591 2384l-55 -35"/>
<path class="c25" d="M4843 2327l72 71 -55 -106 -71 23z"/>
<path d="M4789 2315l71 -23M4915 2398l-55 -106"/>
<path class="c24" d="M3871 2355l72 35 -55 -6 -71 47z"/>
<path d="M3817 2431l71 -47M3943 2390l-55 -6"/>
<path class="c9" d="M2344 2725l71 -16 -54 57 -72 -48z"/>
<path d="M2289 2718l72 48M2415 2709l-54 57"/>
<path class="c27" d="M3619 2294l71 57 -54 8 -72 59z"/>
<path d="M3564 2418l72 -59M3690 2351l-54 8"/>
<path class="c14" d="M2882 2584l72 -55 -55 43 -71 -28z"/>
<path d="M2828 2544l71 28"/>
<path class="c17" d="M2954 2529l71 -73 -54 14 -72 102z"/>
<path d="M2899 2572l72 -102M2954 2529l-55 43M3025 2456l-54 14"/>
<path class="c21" d="M3998 2416l71 -2 -55 -54 -71 30z"/>
<path d="M3943 2390l71 -30M4069 2414l-55 -54"/>
<path class="c21" d="M4322 2419l71 -30 -55 -27 -71 -39z"/>
<path d="M4267 2323l71 39M4393 2389l-55 -27"/>
<path class="c17" d="M2756 2525l72 19 -55 -27 -72 34z"/>
<path d="M2701 2551l72 -34M2828 2544l-55 -27"/>
<path class="c28" d="M4717 2268l72 47 -55 18 -72 -39z"/>
<path d="M4662 2294l72 39M4789 2315l-55 18"/>
<path class="c18" d="M3080 2511l72 65 -55 -81 -72 -39z"/>
<path d="M3025 2456l72 39M3152 2576l-55 -81"/>
<path class="c21" d="M3547 2417l72 -123 -55 124 -71 4z"/>
<path d="M3493 2422l71 -4M3619 2294l-55 124"/>
<path class="c22" d="M4448 2392l71 -63 -54 61 -72 -1z"/>
<path d="M4393 2389l72 1M4519 2329l-54 61"/>
<path class="c19" d="M3476 2474l71 -57 -54 5 -72 -6z"/>
<path d="M3421 2416l72 6M3547 2417l-54 5"/>
<path class="c23" d="M3349 2396l72 20 -55 4 -71 0z"/>
<path d="M3295 2420l71 0M3421 2416l-55 4"/>
<path class="c26" d="M4195 2310l72 13 -55 56 -71 -37z"/>
<path d="M4141 2342l71 37M4267 2323l-55 56"/>
<path class="c24" d="M4898 2367l72 -9 -55 40 -72 -71z"/>
<path d="M4843 2327l72 71M4970 2358l-55 40"/>
<path class="c12" d="M2542 2655l71 -52 -55 62 -71 29z"/>
<path d="M2487 2694l71 -29"/>
<path class="c17" d="M2685 2548l71 -23 -55 26 -71 44z"/>
<path d="M2630 2595l71 -44M2756 2525l-55 26"/>
<path class="c24" d="M4646 2344l71 -76 -55 26 -71 90z"/>
<path d="M4591 2384l71 -90M4717 2268l-55 26"/>
<path class="c18" d="M3206 2501l72 -17 -55 -49 -71 141z"/>
<path d="M3152 2576l71 -141"/>
<path class="c14" d="M2613 2603l72 -55 -55 47 -72 70z"/>
<path d="M2558 2665l72 -70M2613 2603l-55 62M2685 2548l-55 47"/>
<path class="c22" d="M4376 2420l72 -28 -55 -3 -71 30z"/>
<path d="M4322 2419l71 -30M4448 2392l-55 -3"/>
<path class="c20" d="M3674 2451l71 -33 -55 -67 -71 -57z"/>
<path d="M3619 2294l71 57M3745 2418l-55 -67"/>
<path class="c25" d="M3800 2351l71 4 -54 76 -72 -13z"/>
<path d="M3745 2418l72 13M3871 2355l-54 76"/>
<path class="c15" d="M2811 2589l71 -5 -54 -40 -72 -19z"/>
<path d="M2756 2525l72 19M2882 2584l-54 -40"/>
<path class="c23" d="M4574 2392l72 -48 -55 40 -72 -55z"/>
<path d="M4519 2329l72 55M4646 2344l-55 40"/>
<path class="c23" d="M4772 2383l71 -56 -54 -12 -72 -47z"/>
<path d="M4717 2268l72 47M4843 2327l-54 -12"/>
<path class="c9" d="M2272 2728l72 -3 -55 -7 -71 1z"/>
<path d="M2218 2719l71 -1M2272 2728l-54 -9M2344 2725l-55 -7"/>
<path class="c19" d="M3278 2484l71 -88 -54 24 -72 15z"/>
<path d="M3223 2435l72 -15M3278 2484l-55 -49M3349 2396l-54 24"/>
<path class="c22" d="M3926 2413l72 3 -55 -26 -72 -35z"/>
<path d="M3871 2355l72 35M3998 2416l-55 -26"/>
<path class="c12" d="M2470 2677l72 -22 -55 39 -72 15z"/>
<path d="M2415 2709l72 -15M2542 2655l-55 39"/>
<path class="c19" d="M3530 2493l72 -31 -55 -45 -71 57z"/>
<path d="M3476 2474l71 -57"/>
<path class="c19" d="M3728 2469l72 -118 -55 67 -71 33z"/>
<path d="M3674 2451l71 -33M3800 2351l-55 67"/>
<path class="c20" d="M3602 2462l72 -11 -55 -157 -72 123z"/>
<path d="M3547 2417l72 -123M3602 2462l-55 -45M3674 2451l-55 -157"/>
<path class="c22" d="M4250 2410l72 9 -55 -96 -72 -13z"/>
<path d="M4195 2310l72 13M4322 2419l-55 -96"/>
<path class="c19" d="M3135 2502l71 -1 -54 75 -72 -65z"/>
<path d="M3080 2511l72 65M3206 2501l-54 75"/>
<path class="c26" d="M4124 2332l71 -22 -54 32 -72 72z"/>
<path d="M4069 2414l72 -72M4195 2310l-54 32"/>
<path class="c21" d="M3404 2452l72 22 -55 -58 -72 -20z"/>
<path d="M3349 2396l72 20M3476 2474l-55 -58"/>
<path class="c22" d="M4826 2405l72 -38 -55 -40 -71 56z"/>
<path d="M4772 2383l71 -56M4898 2367l-55 -40"/>
<path class="c18" d="M3009 2510l71 1 -55 -55 -71 73z"/>
<path d="M2954 2529l71 -73M3080 2511l-55 -55"/>
<path class="c20" d="M3657 2463l71 6 -54 -18 -72 11z"/>
<path d="M3602 2462l72 -11M3728 2469l-54 -18"/>
<path class="c22" d="M4700 2400l72 -17 -55 -115 -71 76z"/>
<path d="M4646 2344l71 -76M4772 2383l-55 -115"/>
<path class="c24" d="M4052 2386l72 -54 -55 82 -71 2z"/>
<path d="M3998 2416l71 -2M4124 2332l-55 82"/>
<path class="c23" d="M4502 2396l72 -4 -55 -63 -71 63z"/>
<path d="M4448 2392l71 -63M4574 2392l-55 -63"/>
<path class="c23" d="M4305 2397l71 23 -54 -1 -72 -9z"/>
<path d="M4250 2410l72 9M4376 2420l-54 -1"/>
<path class="c11" d="M2398 2709l72 -32 -55 32 -71 16z"/>
<path d="M2344 2725l71 -16M2470 2677l-55 32"/>
<path class="c19" d="M2937 2513l72 -3 -55 19 -72 55z"/>
<path d="M2882 2584l72 -55M3009 2510l-55 19"/>
<path class="c15" d="M2739 2589l72 0 -55 -64 -71 23z"/>
<path d="M2685 2548l71 -23M2811 2589l-55 -64"/>
<path class="c23" d="M4755 2395l71 10 -54 -22 -72 17z"/>
<path d="M4700 2400l72 -17M4826 2405l-54 -22"/>
<path class="c14" d="M2866 2613l71 -100 -55 71 -71 5z"/>
<path d="M2811 2589l71 -5M2937 2513l-55 71"/>
<path class="c10" d="M2668 2695l71 -106 -54 -41 -72 55z"/>
<path d="M2613 2603l72 -55M2739 2589l-54 -41"/>
<path class="c25" d="M4629 2358l71 42 -54 -56 -72 48z"/>
<path d="M4574 2392l72 -48M4700 2400l-54 -56"/>
<path class="c20" d="M3333 2467l71 -15 -55 -56 -71 88z"/>
<path d="M3278 2484l71 -88M3404 2452l-55 -56"/>
<path class="c23" d="M3459 2421l71 72 -54 -19 -72 -22z"/>
<path d="M3404 2452l72 22M3530 2493l-54 -19"/>
<path class="c18" d="M3261 2519l72 -52 -55 17 -72 17z"/>
<path d="M3206 2501l72 -17M3333 2467l-55 17"/>
<path class="c24" d="M4431 2390l71 6 -54 -4 -72 28z"/>
<path d="M4376 2420l72 -28M4502 2396l-54 -4"/>
<path class="c22" d="M3854 2426l72 -13 -55 -58 -71 -4z"/>
<path d="M3800 2351l71 4M3926 2413l-55 -58"/>
<path class="c15" d="M2596 2618l72 77 -55 -92 -71 52z"/>
<path d="M2542 2655l71 -52M2668 2695l-55 -92"/>
<path class="c25" d="M3981 2378l71 8 -54 30 -72 -3z"/>
<path d="M3926 2413l72 3M4052 2386l-54 30"/>
<path class="c23" d="M4178 2397l72 13 -55 -100 -71 22z"/>
<path d="M4124 2332l71 -22M4250 2410l-55 -100"/>
<path class="c18" d="M3711 2530l72 -72 -55 11 -71 -6z"/>
<path d="M3657 2463l71 6"/>
<path class="c11" d="M2327 2719l71 -10 -54 16 -72 3z"/>
<path d="M2272 2728l72 -3M2327 2719l-55 9M2398 2709l-54 16"/>
<path class="c23" d="M3585 2436l72 27 -55 -1 -72 31z"/>
<path d="M3530 2493l72 -31M3657 2463l-55 -1"/>
<path class="c18" d="M3063 2537l72 -35 -55 9 -71 -1z"/>
<path d="M3009 2510l71 1M3135 2502l-55 9"/>
<path class="c21" d="M3783 2458l71 -32 -54 -75 -72 118z"/>
<path d="M3728 2469l72 -118M3783 2458l-55 11M3854 2426l-54 -75"/>
<path class="c16" d="M2794 2601l72 12 -55 -24 -72 0z"/>
<path d="M2739 2589l72 0M2866 2613l-55 -24"/>
<path class="c20" d="M4107 2471l71 -74 -54 -65 -72 54z"/>
<path d="M4052 2386l72 -54M4178 2397l-54 -65"/>
<path class="c22" d="M4233 2439l72 -42 -55 13 -72 -13z"/>
<path d="M4178 2397l72 13M4305 2397l-55 13"/>
<path class="c18" d="M3190 2536l71 -17 -55 -18 -71 1z"/>
<path d="M3135 2502l71 -1M3261 2519l-55 -18"/>
<path class="c24" d="M4557 2395l72 -37 -55 34 -72 4z"/>
<path d="M4502 2396l72 -4M4629 2358l-55 34"/>
<path class="c21" d="M3909 2468l72 -90 -55 35 -72 13z"/>
<path d="M3854 2426l72 -13M3981 2378l-55 35"/>
<path class="c16" d="M2722 2607l72 -6 -55 -12 -71 106z"/>
<path d="M2668 2695l71 -106M2794 2601l-55 -12"/>
<path class="c12" d="M2525 2679l71 -61 -54 37 -72 22z"/>
<path d="M2470 2677l72 -22M2596 2618l-54 37"/>
<path class="c24" d="M4683 2404l72 -9 -55 5 -71 -42z"/>
<path d="M4629 2358l71 42M4755 2395l-55 5"/>
<path class="c17" d="M2992 2563l71 -26 -54 -27 -72 3z"/>
<path d="M2937 2513l72 -3M3063 2537l-54 -27"/>
<path class="c24" d="M4359 2396l72 -6 -55 30 -71 -23z"/>
<path d="M4305 2397l71 23M4431 2390l-55 30"/>
<path class="c24" d="M4162 2418l71 21 -55 -42 -71 74z"/>
<path d="M4107 2471l71 -74M4233 2439l-55 -42"/>
<path class="c23" d="M3838 2440l71 28 -55 -42 -71 32z"/>
<path d="M3783 2458l71 -32M3909 2468l-55 -42"/>
<path class="c13" d="M2453 2675l72 4 -55 -2 -72 32z"/>
<path d="M2398 2709l72 -32M2525 2679l-55 -2"/>
<path class="c18" d="M3766 2536l72 -96 -55 18 -72 72z"/>
<path d="M3711 2530l72 -72M3838 2440l-55 18"/>
<path class="c23" d="M3387 2443l72 -22 -55 31 -71 15z"/>
<path d="M3333 2467l71 -15M3459 2421l-55 31"/>
<path class="c21" d="M3514 2486l71 -50 -55 57 -71 -72z"/>
<path d="M3459 2421l71 72M3585 2436l-55 57"/>
<path class="c23" d="M4486 2418l71 -23 -55 1 -71 -6z"/>
<path d="M4431 2390l71 6M4557 2395l-55 1"/>
<path class="c19" d="M3118 2533l72 3 -55 -34 -72 35z"/>
<path d="M3063 2537l72 -35M3190 2536l-55 -34"/>
<path class="c22" d="M3640 2459l71 71 -54 -67 -72 -27z"/>
<path d="M3585 2436l72 27M3711 2530l-54 -67"/>
<path class="c26" d="M4035 2372l72 99 -55 -85 -71 -8z"/>
<path d="M3981 2378l71 8M4107 2471l-55 -85"/>
<path class="c19" d="M2920 2548l72 15 -55 -50 -71 100z"/>
<path d="M2866 2613l71 -100M2992 2563l-55 -50"/>
<path class="c14" d="M2651 2648l71 -41 -54 88 -72 -77z"/>
<path d="M2596 2618l72 77M2722 2607l-54 88"/>
<path class="c20" d="M3316 2511l71 -68 -54 24 -72 52z"/>
<path d="M3261 2519l72 -52M3387 2443l-54 24"/>
<path class="c22" d="M4612 2440l71 -36 -54 -46 -72 37z"/>
<path d="M4557 2395l72 -37M4683 2404l-54 -46"/>
<path class="c17" d="M3046 2590l72 -57 -55 4 -71 26z"/>
<path d="M2992 2563l71 -26M3118 2533l-55 4"/>
<path class="c19" d="M3695 2540l71 -4 -55 -6 -71 -71z"/>
<path d="M3640 2459l71 71M3766 2536l-55 -6"/>
<path class="c20" d="M3244 2515l72 -4 -55 8 -71 17z"/>
<path d="M3190 2536l71 -17M3316 2511l-55 8"/>
<path class="c19" d="M4090 2524l72 -106 -55 53 -72 -99z"/>
<path d="M4035 2372l72 99M4162 2418l-55 53"/>
<path class="c12" d="M2382 2706l71 -31 -55 34 -71 10z"/>
<path d="M2327 2719l71 -10M2382 2706l-55 13M2453 2675l-55 34"/>
<path class="c18" d="M2849 2570l71 -22 -54 65 -72 -12z"/>
<path d="M2794 2601l72 12M2920 2548l-54 65"/>
<path class="c27" d="M4288 2367l71 29 -54 1 -72 42z"/>
<path d="M4233 2439l72 -42M4359 2396l-54 1"/>
<path class="c23" d="M4540 2432l72 8 -55 -45 -71 23z"/>
<path d="M4486 2418l71 -23M4612 2440l-55 -45"/>
<path class="c18" d="M4216 2532l72 -165 -55 72 -71 -21z"/>
<path d="M4162 2418l71 21M4288 2367l-55 72"/>
<path class="c20" d="M3442 2500l72 -14 -55 -65 -72 22z"/>
<path d="M3387 2443l72 -22M3514 2486l-55 -65"/>
<path class="c23" d="M4145 2462l71 70 -54 -114 -72 106z"/>
<path d="M4090 2524l72 -106M4216 2532l-54 -114"/>
<path class="c20" d="M3568 2510l72 -51 -55 -23 -71 50z"/>
<path d="M3514 2486l71 -50M3640 2459l-55 -23"/>
<path class="c18" d="M3173 2558l71 -43 -54 21 -72 -3z"/>
<path d="M3118 2533l72 3M3244 2515l-54 21"/>
<path class="c18" d="M2579 2601l72 47 -55 -30 -71 61z"/>
<path d="M2525 2679l71 -61M2651 2648l-55 -30"/>
<path class="c19" d="M3370 2538l72 -38 -55 -57 -71 68z"/>
<path d="M3316 2511l71 -68M3442 2500l-55 -57"/>
<path class="c19" d="M2975 2562l71 28 -54 -27 -72 -15z"/>
<path d="M2920 2548l72 15M3046 2590l-54 -27"/>
<path class="c28" d="M4414 2350l72 68 -55 -28 -72 6z"/>
<path d="M4359 2396l72 -6M4486 2418l-55 -28"/>
<path class="c16" d="M2777 2622l72 -52 -55 31 -72 6z"/>
<path d="M2722 2607l72 -6M2849 2570l-55 31"/>
<path class="c29" d="M3964 2329l71 43 -54 6 -72 90z"/>
<path d="M3909 2468l72 -90M4035 2372l-54 6"/>
<path class="c18" d="M3101 2581l72 -23 -55 -25 -72 57z"/>
<path d="M3046 2590l72 -57M3173 2558l-55 -25"/>
<path class="c23" d="M3497 2471l71 39 -54 -24 -72 14z"/>
<path d="M3442 2500l72 -14M3568 2510l-54 -24"/>
<path class="c22" d="M3623 2496l72 44 -55 -81 -72 51z"/>
<path d="M3568 2510l72 -51M3695 2540l-55 -81"/>
<path class="c17" d="M2706 2614l71 8 -55 -15 -71 41z"/>
<path d="M2651 2648l71 -41M2777 2622l-55 -15"/>
<path class="c21" d="M3299 2507l71 31 -54 -27 -72 4z"/>
<path d="M3244 2515l72 -4M3370 2538l-54 -27"/>
<path class="c15" d="M2508 2669l71 -68 -54 78 -72 -4z"/>
<path d="M2453 2675l72 4M2579 2601l-54 78"/>
<path class="c23" d="M3821 2469l71 -83 -54 54 -72 96z"/>
<path d="M3766 2536l72 -96"/>
<path class="c23" d="M3749 2480l72 -11 -55 67 -71 4z"/>
<path d="M3695 2540l71 -4M3821 2469l-55 67"/>
<path class="c26" d="M3892 2386l72 -57 -55 139 -71 -28z"/>
<path d="M3838 2440l71 28M3892 2386l-54 54M3964 2329l-55 139"/>
<path class="c23" d="M4019 2455l71 69 -55 -152 -71 -43z"/>
<path d="M3964 2329l71 43M4090 2524l-55 -152"/>
<path class="c23" d="M4469 2446l71 -14 -54 -14 -72 -68z"/>
<path d="M4414 2350l72 68M4540 2432l-54 -14"/>
<path class="c14" d="M2436 2693l72 -24 -55 6 -71 31z"/>
<path d="M2382 2706l71 -31M2436 2693l-54 13M2508 2669l-55 6"/>
<path class="c26" d="M4271 2415l72 25 -55 -73 -72 165z"/>
<path d="M4216 2532l72 -165"/>
<path class="c24" d="M4343 2440l71 -90 -55 46 -71 -29z"/>
<path d="M4288 2367l71 29M4343 2440l-55 -73M4414 2350l-55 46"/>
<path class="c18" d="M3030 2588l71 -7 -55 9 -71 -28z"/>
<path d="M2975 2562l71 28M3101 2581l-55 9"/>
<path class="c13" d="M2634 2708l72 -94 -55 34 -72 -47z"/>
<path d="M2579 2601l72 47M2706 2614l-55 34"/>
<path class="c26" d="M4073 2406l72 56 -55 62 -71 -69z"/>
<path d="M4019 2455l71 69M4145 2462l-55 62"/>
<path class="c24" d="M3425 2466l72 5 -55 29 -72 38z"/>
<path d="M3370 2538l72 -38M3497 2471l-55 29"/>
<path class="c22" d="M2903 2507l72 55 -55 -14 -71 22z"/>
<path d="M2849 2570l71 -22M2975 2562l-55 -14"/>
<path class="c22" d="M3227 2516l72 -9 -55 8 -71 43z"/>
<path d="M3173 2558l71 -43M3299 2507l-55 8"/>
<path class="c20" d="M3551 2535l72 -39 -55 14 -71 -39z"/>
<path d="M3497 2471l71 39M3623 2496l-55 14"/>
<path class="c26" d="M4199 2421l72 -6 -55 117 -71 -70z"/>
<path d="M4145 2462l71 70M4271 2415l-55 117"/>
<path class="c24" d="M4397 2452l72 -6 -55 -96 -71 90z"/>
<path d="M4343 2440l71 -90M4469 2446l-55 -96"/>
<path class="c18" d="M3156 2600l71 -84 -54 42 -72 23z"/>
<path d="M3101 2581l72 -23M3227 2516l-54 42"/>
<path class="c21" d="M3947 2502l72 -47 -55 -126 -72 57z"/>
<path d="M3892 2386l72 -57M4019 2455l-55 -126"/>
<path class="c22" d="M3875 2499l72 3 -55 -116 -71 83z"/>
<path d="M3821 2469l71 -83M3947 2502l-55 -116"/>
<path class="c25" d="M3678 2458l71 22 -54 60 -72 -44z"/>
<path d="M3623 2496l72 44M3749 2480l-54 60"/>
<path class="c21" d="M4002 2529l71 -123 -54 49 -72 47z"/>
<path d="M3947 2502l72 -47M4073 2406l-54 49"/>
<path class="c18" d="M2563 2617l71 91 -55 -107 -71 68z"/>
<path d="M2508 2669l71 -68M2634 2708l-55 -107"/>
<path class="c22" d="M4326 2499l71 -47 -54 -12 -72 -25z"/>
<path d="M4271 2415l72 25M4397 2452l-54 -12"/>
<path class="c21" d="M2832 2550l71 -43 -54 63 -72 52z"/>
<path d="M2777 2622l72 -52M2903 2507l-54 63"/>
<path class="c21" d="M3084 2556l72 44 -55 -19 -71 7z"/>
<path d="M3030 2588l71 -7M3156 2600l-55 -19"/>
<path class="c24" d="M3354 2470l71 -4 -55 72 -71 -31z"/>
<path d="M3299 2507l71 31M3425 2466l-55 72"/>
<path class="c18" d="M2760 2607l72 -57 -55 72 -71 -8z"/>
<path d="M2706 2614l71 8M2832 2550l-55 72"/>
<path class="c24" d="M3930 2480l72 49 -55 -27 -72 -3z"/>
<path d="M3875 2499l72 3M4002 2529l-55 -27"/>
<path class="c23" d="M3804 2489l71 10 -54 -30 -72 11z"/>
<path d="M3749 2480l72 -11M3875 2499l-54 -30"/>
<path class="c21" d="M2958 2551l72 37 -55 -26 -72 -55z"/>
<path d="M2903 2507l72 55M3030 2588l-55 -26"/>
<path class="c15" d="M2491 2697l72 -80 -55 52 -72 24z"/>
<path d="M2436 2693l72 -24M2491 2697l-55 -4M2563 2617l-55 52"/>
<path class="c22" d="M3480 2514l71 21 -54 -64 -72 -5z"/>
<path d="M3425 2466l72 5M3551 2535l-54 -64"/>
<path class="c19" d="M2689 2601l71 6 -54 7 -72 94z"/>
<path d="M2634 2708l72 -94M2760 2607l-54 7"/>
<path class="c23" d="M3606 2509l72 -51 -55 38 -72 39z"/>
<path d="M3551 2535l72 -39M3678 2458l-55 38"/>
<path class="c23" d="M4128 2491l71 -70 -54 41 -72 -56z"/>
<path d="M4073 2406l72 56M4199 2421l-54 41"/>
<path class="c19" d="M3282 2575l72 -105 -55 37 -72 9z"/>
<path d="M3227 2516l72 -9M3354 2470l-55 37"/>
<path class="c20" d="M3211 2574l71 1 -55 -59 -71 84z"/>
<path d="M3156 2600l71 -84M3282 2575l-55 -59"/>
<path class="c23" d="M4254 2497l72 2 -55 -84 -72 6z"/>
<path d="M4199 2421l72 -6M4326 2499l-55 -84"/>
<path class="c22" d="M4056 2520l72 -29 -55 -85 -71 123z"/>
<path d="M4002 2529l71 -123M4128 2491l-55 -85"/>
<path class="c21" d="M3732 2550l72 -61 -55 -9 -71 -22z"/>
<path d="M3678 2458l71 22M3804 2489l-55 -9"/>
<path class="c21" d="M3535 2553l71 -44 -55 26 -71 -21z"/>
<path d="M3480 2514l71 21M3606 2509l-55 26"/>
<path class="c15" d="M2815 2678l72 -49 -55 -79 -72 57z"/>
<path d="M2760 2607l72 -57"/>
<path class="c17" d="M2887 2629l71 -78 -55 -44 -71 43z"/>
<path d="M2832 2550l71 -43M2887 2629l-55 -79M2958 2551l-55 -44"/>
<path class="c23" d="M3985 2503l71 17 -54 9 -72 -49z"/>
<path d="M3930 2480l72 49M4056 2520l-54 9"/>
<path class="c24" d="M3859 2496l71 -16 -55 19 -71 -10z"/>
<path d="M3804 2489l71 10M3930 2480l-55 19"/>
<path class="c20" d="M2617 2606l72 -5 -55 107 -71 -91z"/>
<path d="M2563 2617l71 91M2689 2601l-55 107"/>
<path class="c25" d="M4183 2474l71 23 -55 -76 -71 70z"/>
<path d="M4128 2491l71 -70M4254 2497l-55 -76"/>
<path class="c22" d="M3408 2530l72 -16 -55 -48 -71 4z"/>
<path d="M3354 2470l71 -4M3480 2514l-55 -48"/>
<path class="c22" d="M3013 2549l71 7 -54 32 -72 -37z"/>
<path d="M2958 2551l72 37M3084 2556l-54 32"/>
<path class="c21" d="M3661 2549l71 1 -54 -92 -72 51z"/>
<path d="M3606 2509l72 -51M3732 2550l-54 -92"/>
<path class="c22" d="M3337 2532l71 -2 -54 -60 -72 105z"/>
<path d="M3282 2575l72 -105M3408 2530l-54 -60"/>
<path class="c19" d="M2743 2623l72 55 -55 -71 -71 -6z"/>
<path d="M2689 2601l71 6M2815 2678l-55 -71"/>
<path class="c23" d="M4111 2514l72 -40 -55 17 -72 29z"/>
<path d="M4056 2520l72 -29M4183 2474l-55 17"/>
<path class="c24" d="M3139 2502l72 72 -55 26 -72 -44z"/>
<path d="M3084 2556l72 44M3211 2574l-55 26"/>
<path class="c19" d="M2941 2616l72 -67 -55 2 -71 78z"/>
<path d="M2887 2629l71 -78M3013 2549l-55 2"/>
<path class="c24" d="M3787 2496l72 0 -55 -7 -72 61z"/>
<path d="M3732 2550l72 -61M3859 2496l-55 -7"/>
<path class="c24" d="M3463 2509l72 44 -55 -39 -72 16z"/>
<path d="M3408 2530l72 -16M3535 2553l-55 -39"/>
<path class="c17" d="M2546 2667l71 -61 -54 11 -72 80z"/>
<path d="M2491 2697l72 -80M2546 2667l-55 30M2617 2606l-54 11"/>
<path class="c21" d="M2870 2584l71 32 -54 13 -72 49z"/>
<path d="M2815 2678l72 -49M2941 2616l-54 13"/>
<path class="c20" d="M3913 2586l72 -83 -55 -23 -71 16z"/>
<path d="M3859 2496l71 -16M3985 2503l-55 -23"/>
<path class="c23" d="M3265 2537l72 -5 -55 43 -71 -1z"/>
<path d="M3211 2574l71 1M3337 2532l-55 43"/>
<path class="c26" d="M3589 2467l72 82 -55 -40 -71 44z"/>
<path d="M3535 2553l71 -44M3661 2549l-55 -40"/>
<path class="c24" d="M4040 2511l71 3 -55 6 -71 -17z"/>
<path d="M3985 2503l71 17M4111 2514l-55 6"/>
<path class="c24" d="M3716 2516l71 -20 -55 54 -71 -1z"/>
<path d="M3661 2549l71 1M3787 2496l-55 54"/>
<path class="c17" d="M2672 2677l71 -54 -54 -22 -72 5z"/>
<path d="M2617 2606l72 -5M2743 2623l-54 -22"/>
<path class="c25" d="M3842 2504l71 82 -54 -90 -72 0z"/>
<path d="M3787 2496l72 0M3913 2586l-54 -90"/>
<path class="c24" d="M3968 2516l72 -5 -55 -8 -72 83z"/>
<path d="M3913 2586l72 -83M4040 2511l-55 -8"/>
<path class="c17" d="M2600 2677l72 0 -55 -71 -71 61z"/>
<path d="M2546 2667l71 -61M2600 2677l-54 -10M2672 2677l-55 -71"/>
<path class="c25" d="M3392 2495l71 14 -55 21 -71 2z"/>
<path d="M3337 2532l71 -2M3463 2509l-55 21"/>
<path class="c25" d="M3068 2512l71 -10 -55 54 -71 -7z"/>
<path d="M3013 2549l71 7M3139 2502l-55 54"/>
<path class="c23" d="M2798 2555l72 29 -55 94 -72 -55z"/>
<path d="M2743 2623l72 55M2870 2584l-55 94"/>
<path class="c23" d="M3518 2549l71 -82 -54 86 -72 -44z"/>
<path d="M3463 2509l72 44M3589 2467l-54 86"/>
<path class="c24" d="M3194 2533l71 4 -54 37 -72 -72z"/>
<path d="M3139 2502l72 72M3265 2537l-54 37"/>
<path class="c17" d="M2924 2682l72 -91 -55 25 -71 -32z"/>
<path d="M2870 2584l71 32"/>
<path class="c21" d="M2996 2591l72 -79 -55 37 -72 67z"/>
<path d="M2941 2616l72 -67M2996 2591l-55 25M3068 2512l-55 37"/>
<path class="c22" d="M3644 2563l72 -47 -55 33 -72 -82z"/>
<path d="M3589 2467l72 82M3716 2516l-55 33"/>
<path class="c22" d="M3320 2574l72 -79 -55 37 -72 5z"/>
<path d="M3265 2537l72 -5M3392 2495l-55 37"/>
<path class="c23" d="M3896 2560l72 -44 -55 70 -71 -82z"/>
<path d="M3842 2504l71 82M3968 2516l-55 70"/>
<path class="c18" d="M2727 2666l71 -111 -55 68 -71 54z"/>
<path d="M2672 2677l71 -54M2798 2555l-55 68"/>
<path class="c23" d="M3770 2555l72 -51 -55 -8 -71 20z"/>
<path d="M3716 2516l71 -20M3842 2504l-55 -8"/>
<path class="c18" d="M2655 2674l72 -8 -55 11 -72 0z"/>
<path d="M2600 2677l72 0M2655 2674l-55 3M2727 2666l-55 11"/>
<path class="c23" d="M3699 2565l71 -10 -54 -39 -72 47z"/>
<path d="M3644 2563l72 -47M3770 2555l-54 -39"/>
<path class="c25" d="M3446 2525l72 24 -55 -40 -71 -14z"/>
<path d="M3392 2495l71 14M3518 2549l-55 -40"/>
<path class="c23" d="M3248 2553l72 21 -55 -37 -71 -4z"/>
<path d="M3194 2533l71 4M3320 2574l-55 -37"/>
<path class="c25" d="M3572 2525l72 38 -55 -96 -71 82z"/>
<path d="M3518 2549l71 -82M3644 2563l-55 -96"/>
<path class="c20" d="M2853 2632l71 50 -54 -98 -72 -29z"/>
<path d="M2798 2555l72 29M2924 2682l-54 -98"/>
<path class="c23" d="M3122 2562l72 -29 -55 -31 -71 10z"/>
<path d="M3068 2512l71 -10M3194 2533l-55 -31"/>
<path class="c22" d="M3825 2583l71 -23 -54 -56 -72 51z"/>
<path d="M3770 2555l72 -51M3896 2560l-54 -56"/>
<path class="c23" d="M3375 2560l71 -35 -54 -30 -72 79z"/>
<path d="M3320 2574l72 -79M3446 2525l-54 -30"/>
<path class="c23" d="M3051 2566l71 -4 -54 -50 -72 79z"/>
<path d="M2996 2591l72 -79M3122 2562l-54 -50"/>
<path class="c24" d="M2979 2567l72 -1 -55 25 -72 91z"/>
<path d="M2924 2682l72 -91M3051 2566l-55 25"/>
<path class="c22" d="M3753 2596l72 -13 -55 -28 -71 10z"/>
<path d="M3699 2565l71 -10M3825 2583l-55 -28"/>
<path class="c23" d="M3627 2578l72 -13 -55 -2 -72 -38z"/>
<path d="M3572 2525l72 38M3699 2565l-55 -2"/>
<path class="c22" d="M3177 2592l71 -39 -54 -20 -72 29z"/>
<path d="M3122 2562l72 -29M3248 2553l-54 -20"/>
<path class="c23" d="M3501 2561l71 -36 -54 24 -72 -24z"/>
<path d="M3446 2525l72 24M3572 2525l-54 24"/>
<path class="c20" d="M2908 2658l71 -91 -55 115 -71 -50z"/>
<path d="M2853 2632l71 50M2979 2567l-55 115"/>
<path class="c23" d="M3303 2573l72 -13 -55 14 -72 -21z"/>
<path d="M3248 2553l72 21M3375 2560l-55 14"/>
<path class="c22" d="M2781 2611l72 21 -55 -77 -71 111z"/>
<path d="M2727 2666l71 -111M2853 2632l-55 -77"/>
<path class="c21" d="M3105 2631l72 -39 -55 -30 -71 4z"/>
<path d="M3051 2566l71 -4M3177 2592l-55 -30"/>
<path class="c21" d="M2710 2644l71 -33 -54 55 -72 8z"/>
<path d="M2655 2674l72 -8M2710 2644l-55 30M2781 2611l-54 55"/>
<path class="c23" d="M3429 2573l72 -12 -55 -36 -71 35z"/>
<path d="M3375 2560l71 -35M3501 2561l-55 -36"/>
<path class="c22" d="M3556 2598l71 -20 -55 -53 -71 36z"/>
<path d="M3501 2561l71 -36M3627 2578l-55 -53"/>
<path class="c24" d="M3682 2570l71 26 -54 -31 -72 13z"/>
<path d="M3627 2578l72 -13M3753 2596l-54 -31"/>
<path class="c19" d="M2836 2680l72 -22 -55 -26 -72 -21z"/>
<path d="M2781 2611l72 21M2908 2658l-55 -26"/>
<path class="c20" d="M3034 2648l71 -17 -54 -65 -72 1z"/>
<path d="M2979 2567l72 -1M3105 2631l-54 -65"/>
<path class="c20" d="M3484 2653l72 -55 -55 -37 -72 12z"/>
<path d="M3429 2573l72 -12M3556 2598l-55 -37"/>
<path class="c26" d="M3232 2532l71 41 -55 -20 -71 39z"/>
<path d="M3177 2592l71 -39M3303 2573l-55 -20"/>
<path class="c22" d="M3160 2627l72 -95 -55 60 -72 39z"/>
<path d="M3105 2631l72 -39M3232 2532l-55 60"/>
<path class="c22" d="M3610 2616l72 -46 -55 8 -71 20z"/>
<path d="M3556 2598l71 -20M3682 2570l-55 8"/>
<path class="c21" d="M3089 2652l71 -25 -55 4 -71 17z"/>
<path d="M3034 2648l71 -17M3160 2627l-55 4"/>
<path class="c27" d="M3358 2516l71 57 -54 -13 -72 13z"/>
<path d="M3303 2573l72 -13M3429 2573l-54 -13"/>
<path class="c23" d="M2962 2613l72 35 -55 -81 -71 91z"/>
<path d="M2908 2658l71 -91M3034 2648l-55 -81"/>
<path class="c21" d="M2764 2660l72 20 -55 -69 -71 33z"/>
<path d="M2710 2644l71 -33M2764 2660l-54 -16M2836 2680l-55 -69"/>
<path class="c22" d="M3539 2624l71 -8 -54 -18 -72 55z"/>
<path d="M3484 2653l72 -55M3610 2616l-54 -18"/>
<path class="c19" d="M2891 2693l71 -80 -54 45 -72 22z"/>
<path d="M2836 2680l72 -22M2962 2613l-54 45"/>
<path class="c19" d="M3017 2699l72 -47 -55 -4 -72 -35z"/>
<path d="M2962 2613l72 35M3089 2652l-55 -4"/>
<path class="c24" d="M3413 2592l71 61 -55 -80 -71 -57z"/>
<path d="M3358 2516l71 57M3484 2653l-55 -80"/>
<path class="c22" d="M3286 2619l72 -103 -55 57 -71 -41z"/>
<path d="M3232 2532l71 41M3358 2516l-55 57"/>
<path class="c22" d="M2819 2657l72 36 -55 -13 -72 -20z"/>
<path d="M2764 2660l72 20M2819 2657l-55 3M2891 2693l-55 -13"/>
<path class="c24" d="M3467 2616l72 8 -55 29 -71 -61z"/>
<path d="M3413 2592l71 61M3539 2624l-55 29"/>
<path class="c26" d="M3215 2567l71 52 -54 -87 -72 95z"/>
<path d="M3160 2627l72 -95M3286 2619l-54 -87"/>
<path class="c22" d="M2945 2655l72 44 -55 -86 -71 80z"/>
<path d="M2891 2693l71 -80M3017 2699l-55 -86"/>
<path class="c22" d="M3341 2650l72 -58 -55 -76 -72 103z"/>
<path d="M3286 2619l72 -103M3413 2592l-55 -76"/>
<path class="c24" d="M3143 2621l72 -54 -55 60 -71 25z"/>
<path d="M3089 2652l71 -25M3215 2567l-55 60"/>
<path class="c22" d="M3396 2663l71 -47 -54 -24 -72 58z"/>
<path d="M3341 2650l72 -58M3467 2616l-54 -24"/>
<path class="c24" d="M3072 2621l71 0 -54 31 -72 47z"/>
<path d="M3017 2699l72 -47M3143 2621l-54 31"/>
<path class="c25" d="M3269 2594l72 56 -55 -31 -71 -52z"/>
<path d="M3215 2567l71 52M3341 2650l-55 -31"/>
<path class="c22" d="M2874 2673l71 -18 -54 38 -72 -36z"/>
<path d="M2819 2657l72 36M2874 2673l-55 -16M2945 2655l-54 38"/>
<path class="c22" d="M3000 2670l72 -49 -55 78 -72 -44z"/>
<path d="M2945 2655l72 44M3072 2621l-55 78"/>
<path class="c23" d="M3324 2643l72 20 -55 -13 -72 -56z"/>
<path d="M3269 2594l72 56M3396 2663l-55 -13"/>
<path class="c25" d="M3198 2610l71 -16 -54 -27 -72 54z"/>
<path d="M3143 2621l72 -54M3269 2594l-54 -27"/>
<path class="c23" d="M2929 2673l71 -3 -55 -15 -71 18z"/>
<path d="M2874 2673l71 -18M2929 2673l-55 0M3000 2670l-55 -15"/>
<path class="c24" d="M3126 2635l72 -25 -55 11 -71 0z"/>
<path d="M3072 2621l71 0M3198 2610l-55 11"/>
<path class="c23" d="M3253 2656l71 -13 -55 -49 -71 16z"/>
<path d="M3198 2610l71 -16M3324 2643l-55 -49"/>
<path class="c21" d="M3055 2705l71 -70 -54 -14 -72 49z"/>
<path d="M3000 2670l72 -49M3126 2635l-54 -14"/>
<path class="c23" d="M2983 2692l72 13 -55 -35 -71 3z"/>
<path d="M2929 2673l71 -3M2983 2692l-54 -19M3055 2705l-55 -35"/>
<path class="c23" d="M3181 2678l72 -22 -55 -46 -72 25z"/>
<path d="M3126 2635l72 -25M3253 2656l-55 -46"/>
<path class="c24" d="M3110 2674l71 4 -55 -43 -71 70z"/>
<path d="M3055 2705l71 -70M3181 2678l-55 -43"/>
<path class="c23" d="M3038 2704l72 -30 -55 31 -72 -13z"/>
<path d="M2983 2692l72 13M3038 2704l-55 -12M3110 2674l-55 31"/>
</g>
<g><line x1="303.80" y1="344.10" x2="661.50" y2="282.00" stroke="#262626" stroke-width="0.8"/><line x1="303.80" y1="344.10" x2="30.30" y2="263.50" stroke="#262626" stroke-width="0.8"/><line x1="30.30" y1="263.50" x2="30.30" y2="87.80" stroke="#262626" stroke-width="0.8"/><line x1="303.80" y1="344.10" x2="313.40" y2="346.93" stroke="#262626" stroke-width="0.8"/><line x1="303.80" y1="344.10" x2="295.11" y2="345.61" stroke="#262626" stroke-width="0.8"/><line x1="375.34" y1="331.68" x2="384.94" y2="334.51" stroke="#262626" stroke-width="0.8"/><line x1="249.10" y1="327.98" x2="240.41" y2="329.49" stroke="#262626" stroke-width="0.8"/><line x1="446.88" y1="319.26" x2="456.48" y2="322.09" stroke="#262626" stroke-width="0.8"/><line x1="194.40" y1="311.86" x2="185.71" y2="313.37" stroke="#262626" stroke-width="0.8"/><line x1="518.42" y1="306.84" x2="528.02" y2="309.67" stroke="#262626" stroke-width="0.8"/><line x1="139.70" y1="295.74" x2="131.01" y2="297.25" stroke="#262626" stroke-width="0.8"/><line x1="589.96" y1="294.42" x2="599.56" y2="297.25" stroke="#262626" stroke-width="0.8"/><line x1="85.00" y1="279.62" x2="76.31" y2="281.13" stroke="#262626" stroke-width="0.8"/><line x1="661.50" y1="282.00" x2="671.10" y2="284.83" stroke="#262626" stroke-width="0.8"/><line x1="30.30" y1="263.50" x2="21.61" y2="265.01" stroke="#262626" stroke-width="0.8"/><line x1="30.30" y1="263.50" x2="20.70" y2="260.67" stroke="#262626" stroke-width="0.8"/><line x1="30.30" y1="228.36" x2="20.70" y2="225.53" stroke="#262626" stroke-width="0.8"/><line x1="30.30" y1="193.22" x2="20.70" y2="190.39" stroke="#262626" stroke-width="0.8"/><line x1="30.30" y1="158.08" x2="20.70" y2="155.25" stroke="#262626" stroke-width="0.8"/><line x1="30.30" y1="122.94" x2="20.70" y2="120.11" stroke="#262626" stroke-width="0.8"/><line x1="30.30" y1="87.80" x2="20.70" y2="84.97" stroke="#262626" stroke-width="0.8"/></g>
<g font-size="13" fill="#262626"><text x="318.0" y="361.3">0</text><text x="289.7" y="360.0" text-anchor="end">0</text><text x="389.5" y="348.9">0.2</text><text x="235.0" y="343.9" text-anchor="end">0.2</text><text x="461.1" y="336.5">0.4</text><text x="180.3" y="327.8" text-anchor="end">0.4</text><text x="532.6" y="324.0">0.6</text><text x="125.6" y="311.6" text-anchor="end">0.6</text><text x="604.2" y="311.6">0.8</text><text x="70.9" y="295.5" text-anchor="end">0.8</text><text x="675.7" y="299.2">1</text><text x="16.2" y="279.4" text-anchor="end">1</text><text x="15.8" y="265.2" text-anchor="end">-4</text><text x="15.8" y="230.1" text-anchor="end">-2</text><text x="15.8" y="194.9" text-anchor="end">0</text><text x="15.8" y="159.8" text-anchor="end">2</text><text x="15.8" y="124.6" text-anchor="end">4</text><text x="15.8" y="89.5" text-anchor="end">6</text></g>
<text x="346" y="15" text-anchor="middle" font-size="14.9" font-weight="bold" fill="#000">Velocity u<tspan font-size="10" dy="7">x</tspan><tspan dy="-7">(x, y, t)</tspan></text>
</svg>
</body></html>
